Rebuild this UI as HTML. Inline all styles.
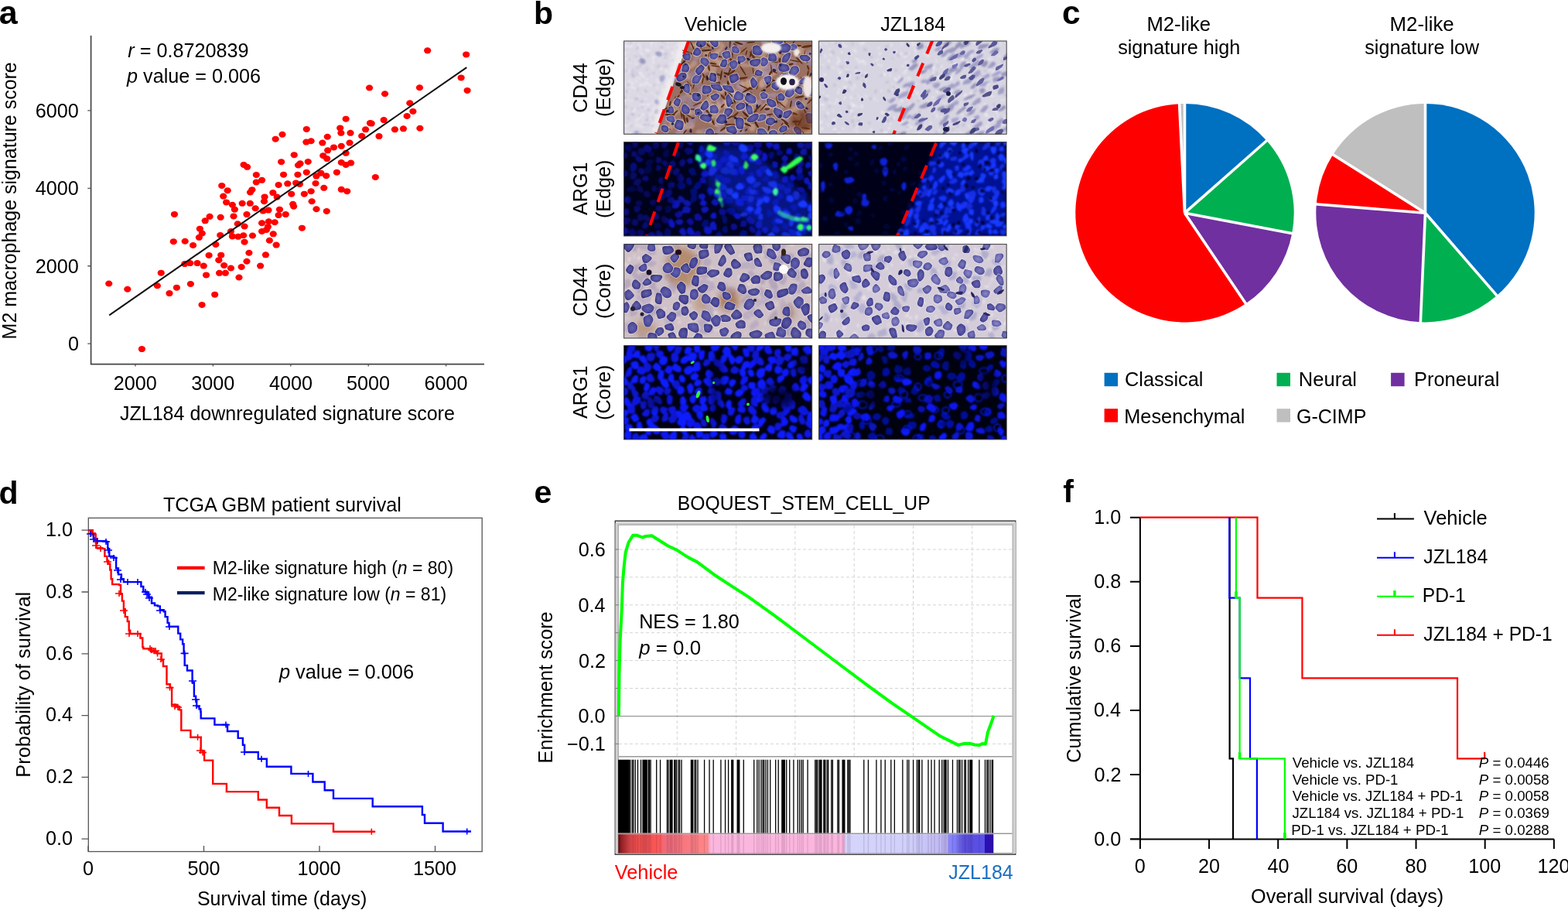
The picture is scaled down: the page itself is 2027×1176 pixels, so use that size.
<!DOCTYPE html>
<html><head><meta charset="utf-8"><title>Figure</title>
<style>html,body{margin:0;padding:0;background:#fff;}svg{display:block;}</style></head>
<body><svg width="2027" height="1176" viewBox="0 0 2027 1176" font-family='"Liberation Sans", Arial, Helvetica, sans-serif'>
<rect width="2027" height="1176" fill="#fff"/>
<text x="-1.29" y="30.6" font-weight="bold" font-size="43" >a</text>
<path d="M117.6 46V470.6H626" fill="none" stroke="#444" stroke-width="1.7"/>
<text x="87.9" y="453.1" font-size="25.2" >0</text>
<text x="45.81" y="352.64" font-size="25.2" >2000</text>
<text x="45.81" y="252.18" font-size="25.2" >4000</text>
<text x="45.81" y="151.72" font-size="25.2" >6000</text>
<text x="146.78" y="503.6" font-size="25.2" >2000</text>
<text x="247.3" y="503.6" font-size="25.2" >3000</text>
<text x="347.95" y="503.6" font-size="25.2" >4000</text>
<text x="448.1" y="503.6" font-size="25.2" >5000</text>
<text x="548.38" y="503.6" font-size="25.2" >6000</text>
<path d="M113.3 444.2H117.6 M113.3 343.74H117.6 M113.3 243.28H117.6 M113.3 142.82H117.6 M175 470.6V473.6 M275.4 470.6V473.6 M375.8 470.6V473.6 M476.2 470.6V473.6 M576.6 470.6V473.6" stroke="#555" stroke-width="1.3"/>
<text x="165.37" y="74" font-size="25.2" ><tspan font-style="italic">r</tspan> = 0.8720839</text>
<text x="164.06" y="107" font-size="25.2" ><tspan font-style="italic">p</tspan> value = 0.006</text>
<text x="154.92" y="543.3" textLength="432.98" lengthAdjust="spacingAndGlyphs" font-size="25.2" >JZL184 downregulated signature score</text>
<text transform="translate(21.4,0) rotate(-90)" x="-438.4" y="0" textLength="358.15" lengthAdjust="spacingAndGlyphs" font-size="25.2" >M2 macrophage signature score</text>
<g fill="#f00"><ellipse cx="140.76" cy="366.54" rx="4.6" ry="4"/><ellipse cx="164.82" cy="373.78" rx="4.6" ry="4"/><ellipse cx="183.4" cy="451.05" rx="4.6" ry="4"/><ellipse cx="208.25" cy="352.65" rx="4.6" ry="4"/><ellipse cx="203.36" cy="369.28" rx="4.6" ry="4"/><ellipse cx="219.01" cy="379.06" rx="4.6" ry="4"/><ellipse cx="228.4" cy="371.63" rx="4.6" ry="4"/><ellipse cx="246.39" cy="366.93" rx="4.6" ry="4"/><ellipse cx="225.46" cy="276.95" rx="4.6" ry="4"/><ellipse cx="224.29" cy="312.16" rx="4.6" ry="4"/><ellipse cx="308.99" cy="358.52" rx="4.6" ry="4"/><ellipse cx="291.38" cy="352.85" rx="4.6" ry="4"/><ellipse cx="283.56" cy="352.85" rx="4.6" ry="4"/><ellipse cx="266.54" cy="355.39" rx="4.6" ry="4"/><ellipse cx="277.69" cy="380.63" rx="4.6" ry="4"/><ellipse cx="261.06" cy="393.93" rx="4.6" ry="4"/><ellipse cx="552.65" cy="65.31" rx="4.6" ry="4"/><ellipse cx="602.65" cy="70.41" rx="4.6" ry="4"/><ellipse cx="596.12" cy="100.41" rx="4.6" ry="4"/><ellipse cx="604.08" cy="116.94" rx="4.6" ry="4"/><ellipse cx="542.45" cy="113.27" rx="4.6" ry="4"/><ellipse cx="477.55" cy="113.47" rx="4.6" ry="4"/><ellipse cx="497.55" cy="121.22" rx="4.6" ry="4"/><ellipse cx="529.8" cy="133.27" rx="4.6" ry="4"/><ellipse cx="533.88" cy="143.88" rx="4.6" ry="4"/><ellipse cx="526.12" cy="150" rx="4.6" ry="4"/><ellipse cx="496.12" cy="155.1" rx="4.6" ry="4"/><ellipse cx="480.2" cy="159.59" rx="4.6" ry="4"/><ellipse cx="490" cy="176.12" rx="4.6" ry="4"/><ellipse cx="510.41" cy="167.35" rx="4.6" ry="4"/><ellipse cx="521.43" cy="166.33" rx="4.6" ry="4"/><ellipse cx="542.86" cy="165.71" rx="4.6" ry="4"/><ellipse cx="485.31" cy="228.98" rx="4.6" ry="4"/><ellipse cx="447.14" cy="153.65" rx="4.6" ry="4"/><ellipse cx="478.44" cy="159.12" rx="4.6" ry="4"/><ellipse cx="396.28" cy="166.95" rx="4.6" ry="4"/><ellipse cx="439.7" cy="165.38" rx="4.6" ry="4"/><ellipse cx="440.88" cy="171.84" rx="4.6" ry="4"/><ellipse cx="453" cy="171.84" rx="4.6" ry="4"/><ellipse cx="472.57" cy="167.34" rx="4.6" ry="4"/><ellipse cx="467.68" cy="175.75" rx="4.6" ry="4"/><ellipse cx="364.98" cy="173.79" rx="4.6" ry="4"/><ellipse cx="356.17" cy="179.66" rx="4.6" ry="4"/><ellipse cx="395.88" cy="183.58" rx="4.6" ry="4"/><ellipse cx="402.14" cy="182.21" rx="4.6" ry="4"/><ellipse cx="416.82" cy="184.55" rx="4.6" ry="4"/><ellipse cx="423.27" cy="176.73" rx="4.6" ry="4"/><ellipse cx="431.49" cy="190.42" rx="4.6" ry="4"/><ellipse cx="441.27" cy="188.86" rx="4.6" ry="4"/><ellipse cx="452.03" cy="184.55" rx="4.6" ry="4"/><ellipse cx="423.66" cy="194.33" rx="4.6" ry="4"/><ellipse cx="447.14" cy="197.86" rx="4.6" ry="4"/><ellipse cx="380.23" cy="200.2" rx="4.6" ry="4"/><ellipse cx="417.79" cy="201.18" rx="4.6" ry="4"/><ellipse cx="422.68" cy="205.09" rx="4.6" ry="4"/><ellipse cx="363.61" cy="209.2" rx="4.6" ry="4"/><ellipse cx="398.23" cy="209.01" rx="4.6" ry="4"/><ellipse cx="388.06" cy="211.35" rx="4.6" ry="4"/><ellipse cx="385.52" cy="213.51" rx="4.6" ry="4"/><ellipse cx="441.27" cy="209.98" rx="4.6" ry="4"/><ellipse cx="447.14" cy="212.92" rx="4.6" ry="4"/><ellipse cx="453.59" cy="210.57" rx="4.6" ry="4"/><ellipse cx="315.09" cy="212.92" rx="4.6" ry="4"/><ellipse cx="319.59" cy="215.85" rx="4.6" ry="4"/><ellipse cx="331.33" cy="226.03" rx="4.6" ry="4"/><ellipse cx="338.57" cy="232.87" rx="4.6" ry="4"/><ellipse cx="331.33" cy="235.41" rx="4.6" ry="4"/><ellipse cx="366.54" cy="225.63" rx="4.6" ry="4"/><ellipse cx="384.93" cy="225.63" rx="4.6" ry="4"/><ellipse cx="396.28" cy="222.7" rx="4.6" ry="4"/><ellipse cx="408.99" cy="227.59" rx="4.6" ry="4"/><ellipse cx="414.86" cy="223.68" rx="4.6" ry="4"/><ellipse cx="421.71" cy="227.2" rx="4.6" ry="4"/><ellipse cx="435.4" cy="222.7" rx="4.6" ry="4"/><ellipse cx="360.09" cy="238.94" rx="4.6" ry="4"/><ellipse cx="371.82" cy="237.37" rx="4.6" ry="4"/><ellipse cx="382.58" cy="236.39" rx="4.6" ry="4"/><ellipse cx="387.47" cy="237.96" rx="4.6" ry="4"/><ellipse cx="408.01" cy="236.98" rx="4.6" ry="4"/><ellipse cx="418.77" cy="242.85" rx="4.6" ry="4"/><ellipse cx="441.27" cy="244.8" rx="4.6" ry="4"/><ellipse cx="448.7" cy="247.15" rx="4.6" ry="4"/><ellipse cx="286.73" cy="239.91" rx="4.6" ry="4"/><ellipse cx="294.16" cy="246.17" rx="4.6" ry="4"/><ellipse cx="288.69" cy="253.61" rx="4.6" ry="4"/><ellipse cx="325.85" cy="245.2" rx="4.6" ry="4"/><ellipse cx="323.51" cy="248.52" rx="4.6" ry="4"/><ellipse cx="342.09" cy="254.39" rx="4.6" ry="4"/><ellipse cx="352.85" cy="249.11" rx="4.6" ry="4"/><ellipse cx="358.13" cy="254.59" rx="4.6" ry="4"/><ellipse cx="341.5" cy="260.26" rx="4.6" ry="4"/><ellipse cx="376.71" cy="250.67" rx="4.6" ry="4"/><ellipse cx="393.34" cy="250.67" rx="4.6" ry="4"/><ellipse cx="402.14" cy="247.15" rx="4.6" ry="4"/><ellipse cx="403.12" cy="260.26" rx="4.6" ry="4"/><ellipse cx="292.6" cy="261.43" rx="4.6" ry="4"/><ellipse cx="300.42" cy="264.76" rx="4.6" ry="4"/><ellipse cx="303.36" cy="270.63" rx="4.6" ry="4"/><ellipse cx="313.14" cy="262.8" rx="4.6" ry="4"/><ellipse cx="323.31" cy="262.8" rx="4.6" ry="4"/><ellipse cx="330.16" cy="269.26" rx="4.6" ry="4"/><ellipse cx="340.13" cy="272.58" rx="4.6" ry="4"/><ellipse cx="346.98" cy="271.6" rx="4.6" ry="4"/><ellipse cx="361.46" cy="270.63" rx="4.6" ry="4"/><ellipse cx="378.67" cy="263.78" rx="4.6" ry="4"/><ellipse cx="379.65" cy="266.71" rx="4.6" ry="4"/><ellipse cx="408.99" cy="270.23" rx="4.6" ry="4"/><ellipse cx="422.29" cy="272.97" rx="4.6" ry="4"/><ellipse cx="271.08" cy="279.82" rx="4.6" ry="4"/><ellipse cx="265.21" cy="285.3" rx="4.6" ry="4"/><ellipse cx="285.16" cy="280.8" rx="4.6" ry="4"/><ellipse cx="301.99" cy="279.43" rx="4.6" ry="4"/><ellipse cx="319.01" cy="277.08" rx="4.6" ry="4"/><ellipse cx="360.09" cy="278.06" rx="4.6" ry="4"/><ellipse cx="369.28" cy="277.08" rx="4.6" ry="4"/><ellipse cx="258.36" cy="295.67" rx="4.6" ry="4"/><ellipse cx="261.3" cy="301.53" rx="4.6" ry="4"/><ellipse cx="257.39" cy="306.82" rx="4.6" ry="4"/><ellipse cx="239.19" cy="311.71" rx="4.6" ry="4"/><ellipse cx="249.56" cy="316.99" rx="4.6" ry="4"/><ellipse cx="284.77" cy="303.88" rx="4.6" ry="4"/><ellipse cx="298.47" cy="298.99" rx="4.6" ry="4"/><ellipse cx="307.27" cy="289.21" rx="4.6" ry="4"/><ellipse cx="316.07" cy="292.54" rx="4.6" ry="4"/><ellipse cx="338.57" cy="288.23" rx="4.6" ry="4"/><ellipse cx="347.37" cy="286.28" rx="4.6" ry="4"/><ellipse cx="355.2" cy="287.25" rx="4.6" ry="4"/><ellipse cx="346.39" cy="293.12" rx="4.6" ry="4"/><ellipse cx="344.44" cy="297.03" rx="4.6" ry="4"/><ellipse cx="338.57" cy="298.99" rx="4.6" ry="4"/><ellipse cx="353.24" cy="302.32" rx="4.6" ry="4"/><ellipse cx="390.41" cy="294.69" rx="4.6" ry="4"/><ellipse cx="300.42" cy="305.45" rx="4.6" ry="4"/><ellipse cx="307.86" cy="305.84" rx="4.6" ry="4"/><ellipse cx="314.7" cy="304.27" rx="4.6" ry="4"/><ellipse cx="316.07" cy="312.68" rx="4.6" ry="4"/><ellipse cx="326.44" cy="304.47" rx="4.6" ry="4"/><ellipse cx="348.35" cy="310.73" rx="4.6" ry="4"/><ellipse cx="357.15" cy="316.6" rx="4.6" ry="4"/><ellipse cx="278.9" cy="316.01" rx="4.6" ry="4"/><ellipse cx="270.1" cy="329.9" rx="4.6" ry="4"/><ellipse cx="285.75" cy="329.7" rx="4.6" ry="4"/><ellipse cx="282.82" cy="336.16" rx="4.6" ry="4"/><ellipse cx="321.94" cy="326.77" rx="4.6" ry="4"/><ellipse cx="343.46" cy="329.31" rx="4.6" ry="4"/><ellipse cx="319.01" cy="337.72" rx="4.6" ry="4"/><ellipse cx="336.61" cy="343.59" rx="4.6" ry="4"/><ellipse cx="312.16" cy="344.96" rx="4.6" ry="4"/><ellipse cx="298.47" cy="346.53" rx="4.6" ry="4"/><ellipse cx="289.66" cy="343" rx="4.6" ry="4"/><ellipse cx="263.26" cy="343.59" rx="4.6" ry="4"/><ellipse cx="255.04" cy="340.07" rx="4.6" ry="4"/><ellipse cx="245.65" cy="340.07" rx="4.6" ry="4"/><ellipse cx="238.8" cy="341.05" rx="4.6" ry="4"/></g>
<path d="M141.2 407.4L603.3 87.1" stroke="#111" stroke-width="2"/>
<defs><filter id="bl07" x="-20%" y="-20%" width="140%" height="140%"><feGaussianBlur stdDeviation="0.7"/></filter><filter id="bl1" x="-20%" y="-20%" width="140%" height="140%"><feGaussianBlur stdDeviation="1"/></filter><filter id="bl12" x="-20%" y="-20%" width="140%" height="140%"><feGaussianBlur stdDeviation="1.3"/></filter><filter id="bl3" x="-30%" y="-30%" width="160%" height="160%"><feGaussianBlur stdDeviation="3"/></filter><filter id="bl4" x="-50%" y="-50%" width="200%" height="200%"><feGaussianBlur stdDeviation="5"/></filter><filter id="bl6" x="-30%" y="-30%" width="160%" height="160%"><feGaussianBlur stdDeviation="6"/></filter><radialGradient id="n1a"><stop offset="0" stop-color="#6462ac"/><stop offset="0.75" stop-color="#4c4a96"/><stop offset="1" stop-color="#363476"/></radialGradient><radialGradient id="n1b"><stop offset="0" stop-color="#6462ac"/><stop offset="0.75" stop-color="#4b4894"/><stop offset="1" stop-color="#343274"/></radialGradient><radialGradient id="n1c"><stop offset="0" stop-color="#6c6ab2"/><stop offset="0.75" stop-color="#54529e"/><stop offset="1" stop-color="#3c3a80"/></radialGradient><radialGradient id="n5a"><stop offset="0" stop-color="#6462ae"/><stop offset="0.75" stop-color="#4e4c9c"/><stop offset="1" stop-color="#3a3884"/></radialGradient><radialGradient id="n5b"><stop offset="0" stop-color="#5a58a6"/><stop offset="0.75" stop-color="#464494"/><stop offset="1" stop-color="#34327a"/></radialGradient><radialGradient id="n6a"><stop offset="0" stop-color="#8a88c6"/><stop offset="0.75" stop-color="#6a68b0"/><stop offset="1" stop-color="#504e98"/></radialGradient><radialGradient id="n6b"><stop offset="0" stop-color="#7c7abc"/><stop offset="0.75" stop-color="#5e5ca6"/><stop offset="1" stop-color="#48468e"/></radialGradient><path id="q0" d="M0.89 0.126C0.892 0.413 0.658 0.772 0.476 0.899C0.295 1.027 0.033 0.993 -0.199 0.89C-0.43 0.787 -0.798 0.532 -0.914 0.282C-1.03 0.033 -0.971 -0.391 -0.896 -0.608C-0.821 -0.825 -0.689 -0.983 -0.462 -1.019C-0.235 -1.054 0.241 -1.011 0.467 -0.82C0.692 -0.629 0.889 -0.161 0.89 0.126Z" vector-effect="non-scaling-stroke"/><path id="q1" d="M1.048 0.037C1.092 0.315 1.025 0.63 0.78 0.763C0.535 0.896 -0.152 0.906 -0.421 0.834C-0.69 0.763 -0.752 0.507 -0.833 0.336C-0.914 0.164 -1.048 0.029 -0.908 -0.194C-0.767 -0.417 -0.226 -0.881 0.011 -1C0.248 -1.119 0.342 -1.079 0.514 -0.906C0.687 -0.733 1.004 -0.241 1.048 0.037Z" vector-effect="non-scaling-stroke"/><path id="q2" d="M1.077 -0.182C1.105 0.124 0.88 0.678 0.664 0.879C0.449 1.08 0.039 1.122 -0.216 1.025C-0.47 0.927 -0.756 0.546 -0.863 0.292C-0.97 0.039 -0.986 -0.293 -0.858 -0.497C-0.73 -0.702 -0.32 -0.856 -0.094 -0.934C0.132 -1.011 0.304 -1.086 0.499 -0.96C0.694 -0.835 1.049 -0.489 1.077 -0.182Z" vector-effect="non-scaling-stroke"/><path id="q3" d="M1.061 -0.144C1.066 0.08 0.884 0.505 0.708 0.707C0.532 0.908 0.257 1.115 0.005 1.066C-0.248 1.016 -0.673 0.692 -0.807 0.412C-0.942 0.132 -0.878 -0.405 -0.803 -0.617C-0.727 -0.83 -0.601 -0.862 -0.354 -0.865C-0.107 -0.868 0.445 -0.754 0.68 -0.634C0.916 -0.513 1.057 -0.367 1.061 -0.144Z" vector-effect="non-scaling-stroke"/><path id="q4" d="M0.948 0.009C0.952 0.218 0.963 0.545 0.733 0.712C0.503 0.878 -0.163 1.095 -0.43 1.006C-0.698 0.917 -0.784 0.425 -0.871 0.178C-0.958 -0.069 -1.065 -0.266 -0.954 -0.473C-0.843 -0.681 -0.482 -1.054 -0.205 -1.066C0.072 -1.078 0.516 -0.725 0.708 -0.545C0.9 -0.366 0.943 -0.201 0.948 0.009Z" vector-effect="non-scaling-stroke"/><path id="q5" d="M0.953 -0.057C0.949 0.231 0.668 0.58 0.457 0.766C0.247 0.952 -0.103 1.082 -0.308 1.057C-0.513 1.033 -0.671 0.898 -0.772 0.62C-0.873 0.341 -1.02 -0.357 -0.914 -0.615C-0.808 -0.873 -0.37 -0.872 -0.137 -0.93C0.095 -0.988 0.298 -1.108 0.48 -0.963C0.662 -0.817 0.956 -0.345 0.953 -0.057Z" vector-effect="non-scaling-stroke"/><path id="q6" d="M0.978 -0.198C0.969 0.029 1 0.512 0.808 0.707C0.616 0.902 0.105 0.974 -0.174 0.973C-0.453 0.972 -0.764 0.935 -0.867 0.7C-0.97 0.464 -0.884 -0.166 -0.792 -0.439C-0.699 -0.712 -0.588 -0.901 -0.312 -0.938C-0.036 -0.974 0.648 -0.781 0.863 -0.658C1.078 -0.535 0.987 -0.426 0.978 -0.198Z" vector-effect="non-scaling-stroke"/><path id="q7" d="M1.233 0.05C1.198 0.277 0.707 0.543 0.503 0.701C0.299 0.858 0.244 1.069 0.009 0.994C-0.227 0.92 -0.769 0.481 -0.911 0.252C-1.053 0.022 -0.967 -0.187 -0.841 -0.381C-0.715 -0.575 -0.413 -0.864 -0.154 -0.912C0.104 -0.959 0.479 -0.825 0.71 -0.665C0.941 -0.505 1.267 -0.178 1.233 0.05Z" vector-effect="non-scaling-stroke"/><path id="q8" d="M0.752 -0.055C0.775 0.236 0.832 0.861 0.646 1.025C0.46 1.189 -0.116 1.05 -0.364 0.927C-0.612 0.805 -0.732 0.514 -0.842 0.288C-0.952 0.062 -1.124 -0.26 -1.023 -0.431C-0.921 -0.601 -0.487 -0.686 -0.232 -0.735C0.023 -0.783 0.342 -0.836 0.506 -0.723C0.67 -0.61 0.729 -0.346 0.752 -0.055Z" vector-effect="non-scaling-stroke"/><path id="q9" d="M0.904 0.114C0.845 0.387 0.715 0.851 0.525 0.953C0.335 1.055 0.028 0.828 -0.236 0.726C-0.5 0.625 -0.948 0.548 -1.061 0.344C-1.173 0.14 -1.032 -0.28 -0.909 -0.495C-0.787 -0.711 -0.622 -0.92 -0.324 -0.952C-0.026 -0.983 0.674 -0.863 0.879 -0.686C1.083 -0.508 0.963 -0.159 0.904 0.114Z" vector-effect="non-scaling-stroke"/><path id="q10" d="M1.096 -0.183C1.056 0.102 0.736 0.912 0.507 1.069C0.278 1.225 -0.066 0.852 -0.279 0.755C-0.491 0.658 -0.652 0.681 -0.769 0.487C-0.886 0.294 -1.103 -0.188 -0.98 -0.405C-0.857 -0.623 -0.318 -0.777 -0.03 -0.816C0.258 -0.856 0.559 -0.747 0.747 -0.641C0.934 -0.536 1.136 -0.468 1.096 -0.183Z" vector-effect="non-scaling-stroke"/><path id="q11" d="M0.834 0.111C0.803 0.379 0.597 0.588 0.451 0.758C0.304 0.927 0.195 1.164 -0.046 1.126C-0.287 1.088 -0.811 0.771 -0.996 0.528C-1.182 0.285 -1.274 -0.059 -1.161 -0.331C-1.047 -0.604 -0.613 -1.021 -0.314 -1.108C-0.015 -1.194 0.441 -1.053 0.633 -0.85C0.824 -0.647 0.864 -0.157 0.834 0.111Z" vector-effect="non-scaling-stroke"/><path id="q12" d="M0.805 -0.175C0.821 0.092 0.75 0.582 0.544 0.768C0.339 0.954 -0.218 0.993 -0.428 0.942C-0.639 0.89 -0.643 0.724 -0.72 0.459C-0.797 0.194 -1.003 -0.417 -0.89 -0.649C-0.777 -0.88 -0.265 -0.898 -0.043 -0.929C0.18 -0.96 0.304 -0.961 0.445 -0.836C0.587 -0.71 0.788 -0.443 0.805 -0.175Z" vector-effect="non-scaling-stroke"/><path id="q13" d="M1.184 -0.201C1.199 0.003 0.991 0.508 0.755 0.665C0.52 0.823 0.042 0.788 -0.23 0.745C-0.501 0.701 -0.793 0.624 -0.876 0.403C-0.958 0.182 -0.822 -0.33 -0.726 -0.582C-0.63 -0.834 -0.531 -1.112 -0.299 -1.108C-0.068 -1.104 0.418 -0.709 0.665 -0.558C0.912 -0.407 1.169 -0.405 1.184 -0.201Z" vector-effect="non-scaling-stroke"/></defs>
<text x="690.04" y="30.7" font-weight="bold" font-size="41" >b</text>
<text x="884.77" y="39.8" font-size="25.2" >Vehicle</text>
<text x="1138.17" y="39.8" font-size="25.2" >JZL184</text>
<text transform="translate(759.2,0) rotate(-90)" x="-145.64" y="0" font-size="25.2" >CD44</text>
<text transform="translate(788.6,0) rotate(-90)" x="-151" y="0" font-size="25.2" >(Edge)</text>
<text transform="translate(759.2,0) rotate(-90)" x="-278" y="0" font-size="25.2" >ARG1</text>
<text transform="translate(788.6,0) rotate(-90)" x="-282.1" y="0" font-size="25.2" >(Edge)</text>
<text transform="translate(759.2,0) rotate(-90)" x="-408.75" y="0" font-size="25.2" >CD44</text>
<text transform="translate(788.6,0) rotate(-90)" x="-411.96" y="0" font-size="25.2" >(Core)</text>
<text transform="translate(759.2,0) rotate(-90)" x="-541" y="0" font-size="25.2" >ARG1</text>
<text transform="translate(788.6,0) rotate(-90)" x="-542.96" y="0" font-size="25.2" >(Core)</text>
<clipPath id="cb1"><rect x="806.6" y="53" width="243.1" height="120.3"/></clipPath><g clip-path="url(#cb1)"><rect x="806.6" y="53" width="243.1" height="120.3" fill="#dcd8e4"/><g filter="url(#bl1)" opacity="0.6"><use href="#q12" transform="translate(842.6 120.3)rotate(37)scale(2.2 1.4)" fill="#edebf2"/><use href="#q9" transform="translate(847 123.7)rotate(54)scale(3.3 1.8)" fill="#e8e6ed"/><use href="#q7" transform="translate(821.3 114.6)rotate(41)scale(1.9 2.5)" fill="#eceaf1"/><use href="#q10" transform="translate(814.1 89.5)rotate(336)scale(2.2 1.7)" fill="#eae8ee"/><use href="#q8" transform="translate(813.8 150.4)rotate(337)scale(3.1 2.2)" fill="#e9e7ee"/><use href="#q13" transform="translate(861.7 58)rotate(302)scale(3.2 1.9)" fill="#f0eef5"/><use href="#q11" transform="translate(858.6 127.1)rotate(2)scale(2.1 1.2)" fill="#eceaf1"/><use href="#q11" transform="translate(819.1 54.8)rotate(61)scale(2.1 1.2)" fill="#eae8ef"/><use href="#q12" transform="translate(848.6 60.2)rotate(286)scale(2.6 2.2)" fill="#e4e2e8"/><use href="#q7" transform="translate(821.7 82.1)rotate(275)scale(1.7 1.6)" fill="#eeecf3"/><use href="#q13" transform="translate(809 108.8)rotate(315)scale(3 2)" fill="#e6e4eb"/><use href="#q13" transform="translate(841.6 154.3)rotate(353)scale(3.3 1.6)" fill="#e9e7ee"/><use href="#q12" transform="translate(847.9 130)rotate(359)scale(3.4 2.1)" fill="#eceaf1"/><use href="#q12" transform="translate(843 86.5)rotate(279)scale(1.6 2)" fill="#f0eef5"/><use href="#q10" transform="translate(831.7 80.6)rotate(339)scale(2.2 1.2)" fill="#e4e2e9"/><use href="#q13" transform="translate(829.6 61.4)rotate(4)scale(3.4 2)" fill="#efedf5"/><use href="#q8" transform="translate(867.5 101.2)rotate(74)scale(1.7 2.4)" fill="#e7e5ec"/><use href="#q10" transform="translate(806.6 78.2)rotate(301)scale(3.5 1.7)" fill="#e6e4eb"/><use href="#q12" transform="translate(812.4 128.7)rotate(69)scale(2.6 1.6)" fill="#ebe9f0"/><use href="#q7" transform="translate(868.5 85.5)rotate(49)scale(1.7 2)" fill="#e5e3ea"/><use href="#q9" transform="translate(813.5 93)rotate(357)scale(3 1.2)" fill="#f1eff6"/><use href="#q12" transform="translate(816 82.6)rotate(310)scale(1.7 1.4)" fill="#e7e5eb"/><use href="#q10" transform="translate(814.6 60.2)rotate(350)scale(2.4 1.9)" fill="#f3f1f8"/><use href="#q13" transform="translate(870 74.4)rotate(327)scale(1.8 2.2)" fill="#eceaf1"/><use href="#q9" transform="translate(851.1 106.8)rotate(358)scale(2.6 2.3)" fill="#eae8ef"/><use href="#q10" transform="translate(821.8 141)rotate(287)scale(2.8 2.2)" fill="#f2f0f7"/><use href="#q11" transform="translate(817 130.4)rotate(54)scale(1.6 2.4)" fill="#e9e7ee"/><use href="#q8" transform="translate(815.9 103.6)rotate(51)scale(3.1 2.2)" fill="#e3e1e8"/><use href="#q8" transform="translate(823.5 85.5)rotate(72)scale(3.3 2.3)" fill="#ebe9f0"/><use href="#q9" transform="translate(830.8 159.4)rotate(299)scale(2.9 2)" fill="#e5e3ea"/><use href="#q12" transform="translate(823.3 100.4)rotate(55)scale(1.8 2.4)" fill="#e5e3e9"/><use href="#q13" transform="translate(814.6 172)rotate(6)scale(3.5 1.5)" fill="#e5e3ea"/><use href="#q8" transform="translate(868 92.6)rotate(74)scale(1.9 1.5)" fill="#e5e3ea"/><use href="#q10" transform="translate(813.8 123.1)rotate(38)scale(1.7 1.6)" fill="#e4e2e9"/><use href="#q11" transform="translate(825.9 125.3)rotate(44)scale(2.9 1.3)" fill="#eceaf1"/><use href="#q7" transform="translate(836.1 107.5)rotate(346)scale(2.1 2.2)" fill="#f3f1f9"/><use href="#q10" transform="translate(821.1 71.5)rotate(277)scale(3.1 1.8)" fill="#eae8ef"/><use href="#q7" transform="translate(826.4 75.8)rotate(327)scale(1.8 2.3)" fill="#e8e6ed"/><use href="#q7" transform="translate(822.2 167.3)rotate(30)scale(2.6 2.5)" fill="#e3e1e8"/><use href="#q13" transform="translate(840.1 65.5)rotate(341)scale(2.9 1.3)" fill="#ebe9f0"/><use href="#q12" transform="translate(809.7 168.8)rotate(273)scale(3.2 2.1)" fill="#e9e7ee"/><use href="#q13" transform="translate(825.6 137.8)rotate(291)scale(2.5 1.6)" fill="#f1eff6"/><use href="#q9" transform="translate(827 152.1)rotate(308)scale(3.5 2.2)" fill="#eeecf3"/><use href="#q13" transform="translate(854 88.3)rotate(44)scale(2.8 2.4)" fill="#f4f2f9"/><use href="#q12" transform="translate(812.1 80.5)rotate(317)scale(2.3 2.1)" fill="#e6e4eb"/><use href="#q12" transform="translate(807.9 85.4)rotate(320)scale(1.7 1.6)" fill="#ebe9f0"/><use href="#q7" transform="translate(842 60.3)rotate(287)scale(2.2 2.3)" fill="#e5e3ea"/><use href="#q7" transform="translate(820.6 97.4)rotate(303)scale(1.8 2)" fill="#e6e4eb"/><use href="#q8" transform="translate(852.1 68.8)rotate(287)scale(3.2 2)" fill="#e6e4eb"/><use href="#q13" transform="translate(835.4 160.2)rotate(48)scale(3.5 1.8)" fill="#e9e7ed"/><use href="#q13" transform="translate(808 162.5)rotate(26)scale(2.4 1.9)" fill="#f1eef6"/><use href="#q12" transform="translate(808.3 129.5)rotate(75)scale(2.9 1.8)" fill="#eeecf3"/><use href="#q12" transform="translate(844.9 140.9)rotate(86)scale(2.3 2.1)" fill="#f1eff6"/><use href="#q9" transform="translate(831.9 173.2)rotate(317)scale(3.5 1.9)" fill="#e6e4ea"/><use href="#q13" transform="translate(812.6 118.7)rotate(338)scale(2.8 1.3)" fill="#eceaf1"/><use href="#q11" transform="translate(834.6 135.4)rotate(38)scale(2.1 1.3)" fill="#e7e5ec"/><use href="#q8" transform="translate(839.8 148.1)rotate(334)scale(3.3 1.9)" fill="#eceaf1"/><use href="#q12" transform="translate(856.3 99)rotate(78)scale(2.6 1.5)" fill="#f5f3fa"/><use href="#q8" transform="translate(852.9 126.2)rotate(80)scale(3.2 1.5)" fill="#eeecf3"/><use href="#q9" transform="translate(813.3 143.3)rotate(357)scale(3.1 1.4)" fill="#eae8ef"/><use href="#q7" transform="translate(809 125.3)rotate(336)scale(2.2 2.4)" fill="#ebe9f0"/><use href="#q11" transform="translate(844.8 80.7)rotate(313)scale(2.4 2.1)" fill="#edebf2"/><use href="#q13" transform="translate(862.1 112.8)rotate(318)scale(2.6 1.9)" fill="#f3f1f8"/><use href="#q12" transform="translate(826.9 54.4)rotate(78)scale(2.2 1.4)" fill="#e2e0e7"/><use href="#q8" transform="translate(830.5 134.6)rotate(13)scale(3.3 1.5)" fill="#f2f0f7"/><use href="#q13" transform="translate(841.7 160.3)rotate(352)scale(2.7 2.3)" fill="#eae8ef"/><use href="#q12" transform="translate(822.4 104.8)rotate(28)scale(3.5 2.4)" fill="#e8e6ed"/><use href="#q13" transform="translate(817.4 112.7)rotate(20)scale(3.2 2.4)" fill="#eeecf3"/><use href="#q10" transform="translate(856.3 112.4)rotate(355)scale(1.5 1.5)" fill="#e5e3ea"/><use href="#q8" transform="translate(831.7 153.9)rotate(331)scale(1.7 1.7)" fill="#e5e3e9"/><use href="#q12" transform="translate(812.5 56.8)rotate(25)scale(2.6 1.6)" fill="#e3e1e8"/><use href="#q9" transform="translate(876 58)rotate(0)scale(3.1 1.7)" fill="#e4e2e9"/><use href="#q13" transform="translate(831.2 148.2)rotate(34)scale(2.3 2)" fill="#f0eef5"/><use href="#q12" transform="translate(808.1 69.3)rotate(354)scale(2.1 2.4)" fill="#f3f1f8"/><use href="#q11" transform="translate(842.8 56)rotate(11)scale(2.3 1.8)" fill="#f3f1f8"/><use href="#q7" transform="translate(872.5 81.6)rotate(346)scale(2.2 1.9)" fill="#e3e1e7"/><use href="#q9" transform="translate(817.8 58.6)rotate(348)scale(2.1 2)" fill="#e9e7ee"/><use href="#q7" transform="translate(856.6 106.7)rotate(16)scale(3 1.6)" fill="#e3e1e8"/><use href="#q10" transform="translate(856.7 131.8)rotate(67)scale(3.2 1.5)" fill="#f4f2fa"/><use href="#q10" transform="translate(861 77)rotate(314)scale(2.9 1.9)" fill="#e8e6ed"/><use href="#q13" transform="translate(844.4 74.5)rotate(89)scale(3.4 2.3)" fill="#f0eef5"/><use href="#q8" transform="translate(828.2 94.6)rotate(346)scale(2.8 2.3)" fill="#f1eff6"/><use href="#q11" transform="translate(878.6 63.5)rotate(293)scale(2.8 1.7)" fill="#e3e1e8"/><use href="#q7" transform="translate(816.9 107.6)rotate(6)scale(3.1 1.4)" fill="#f4f2f9"/><use href="#q10" transform="translate(836.6 121.4)rotate(275)scale(2.1 2.1)" fill="#e5e3ea"/><use href="#q11" transform="translate(823.6 161.3)rotate(342)scale(3.3 2.3)" fill="#e9e7ee"/><use href="#q9" transform="translate(849.3 148.1)rotate(352)scale(2 1.6)" fill="#e8e6ed"/><use href="#q8" transform="translate(813.2 106)rotate(85)scale(2.5 2.4)" fill="#ebe9f0"/><use href="#q9" transform="translate(870.9 60.7)rotate(34)scale(1.9 2.3)" fill="#e3e1e8"/><use href="#q12" transform="translate(829.7 140.7)rotate(356)scale(3.2 1.7)" fill="#e5e3ea"/><use href="#q7" transform="translate(857.4 115.9)rotate(23)scale(3.5 1.5)" fill="#e6e4eb"/><use href="#q9" transform="translate(831.4 98.9)rotate(57)scale(2.8 1.6)" fill="#f4f2f9"/><use href="#q13" transform="translate(823.2 155.3)rotate(295)scale(3.2 2.1)" fill="#efedf4"/><use href="#q12" transform="translate(852.1 77.2)rotate(311)scale(2.4 1.3)" fill="#e8e6ed"/><use href="#q9" transform="translate(849.2 113.5)rotate(39)scale(2.9 1.5)" fill="#eceaf1"/><use href="#q11" transform="translate(854.7 56.3)rotate(29)scale(3.1 1.7)" fill="#f3f1f8"/><use href="#q8" transform="translate(849.4 102.8)rotate(71)scale(2.5 2.5)" fill="#e5e4ea"/><use href="#q10" transform="translate(828 109.9)rotate(287)scale(2.1 2)" fill="#f5f3fa"/><use href="#q11" transform="translate(844.5 91.2)rotate(73)scale(3.3 1.3)" fill="#e2e0e7"/><use href="#q9" transform="translate(821.8 127.3)rotate(54)scale(2.1 1.5)" fill="#e4e2e9"/><use href="#q7" transform="translate(880.1 68.6)rotate(303)scale(3.5 1.4)" fill="#f0eef5"/><use href="#q10" transform="translate(868.5 55.7)rotate(87)scale(1.9 2.4)" fill="#e3e1e8"/><use href="#q7" transform="translate(861.2 91.7)rotate(271)scale(3.3 2)" fill="#f3f1f8"/><use href="#q12" transform="translate(834.8 127.6)rotate(26)scale(1.9 1.9)" fill="#e9e7ee"/><use href="#q12" transform="translate(836.5 102.7)rotate(323)scale(2.5 1.2)" fill="#f2f0f7"/><use href="#q13" transform="translate(848.7 72.2)rotate(81)scale(2.9 1.9)" fill="#e5e3ea"/><use href="#q11" transform="translate(831.6 164)rotate(349)scale(3 1.3)" fill="#efedf4"/><use href="#q10" transform="translate(823.9 173.1)rotate(52)scale(3 2.2)" fill="#e7e5eb"/><use href="#q8" transform="translate(827.2 64.7)rotate(18)scale(2.6 2.3)" fill="#e7e5ec"/><use href="#q8" transform="translate(869.4 68.2)rotate(13)scale(2.7 2.1)" fill="#f3f0f8"/><use href="#q11" transform="translate(838.6 135.4)rotate(19)scale(2.2 2)" fill="#f1eff6"/><use href="#q8" transform="translate(846.8 144.2)rotate(53)scale(2.4 1.5)" fill="#e3e1e8"/><use href="#q8" transform="translate(846.6 135.5)rotate(52)scale(2.6 1.9)" fill="#e7e5eb"/><use href="#q12" transform="translate(821.6 61.5)rotate(35)scale(1.6 1.8)" fill="#f2eff7"/><use href="#q13" transform="translate(821.3 77.5)rotate(15)scale(2.6 1.5)" fill="#e4e2e9"/><use href="#q12" transform="translate(843.3 145)rotate(315)scale(2.5 1.7)" fill="#ebe9f0"/><use href="#q9" transform="translate(832.6 109.2)rotate(282)scale(3.2 2.2)" fill="#eae8ef"/><use href="#q13" transform="translate(847.3 54.9)rotate(82)scale(2.9 2.1)" fill="#e4e3e9"/><use href="#q12" transform="translate(827.1 162.6)rotate(297)scale(3 2.5)" fill="#ebe9f0"/><use href="#q7" transform="translate(864 61.5)rotate(344)scale(3.5 1.2)" fill="#eceaf1"/><use href="#q7" transform="translate(807.4 95.8)rotate(347)scale(2.3 1.6)" fill="#e4e2e8"/><use href="#q9" transform="translate(859 121.5)rotate(85)scale(2.9 2.1)" fill="#eeecf3"/><use href="#q8" transform="translate(884.5 55.7)rotate(314)scale(2 1.9)" fill="#ebe9f0"/><use href="#q7" transform="translate(827 101.3)rotate(86)scale(2.2 1.6)" fill="#eeecf3"/><use href="#q11" transform="translate(810.6 76.5)rotate(89)scale(1.8 2)" fill="#f0eef5"/><use href="#q10" transform="translate(836.5 64.8)rotate(16)scale(2.9 2.3)" fill="#f3f1f8"/><use href="#q7" transform="translate(855.2 60)rotate(309)scale(3.2 2.4)" fill="#e9e7ee"/><use href="#q8" transform="translate(835.7 87.4)rotate(304)scale(1.9 1.7)" fill="#eceaf1"/><use href="#q10" transform="translate(826.1 58.1)rotate(16)scale(2.5 1.7)" fill="#f0eef6"/><use href="#q8" transform="translate(819 143.8)rotate(32)scale(2.4 2.5)" fill="#f2f0f7"/><use href="#q9" transform="translate(812.4 161.9)rotate(279)scale(2.6 1.7)" fill="#e7e5ec"/><use href="#q11" transform="translate(840.7 110.5)rotate(43)scale(2.7 1.9)" fill="#eceaf1"/><use href="#q8" transform="translate(864 109.3)rotate(319)scale(3.3 2.1)" fill="#e9e7ee"/><use href="#q13" transform="translate(848.6 68)rotate(295)scale(3 2.2)" fill="#e7e5ec"/><use href="#q7" transform="translate(841.8 133.3)rotate(328)scale(3.3 1.2)" fill="#e9e7ee"/><use href="#q12" transform="translate(852.9 103.5)rotate(317)scale(3.2 1.7)" fill="#f3f1f8"/><use href="#q8" transform="translate(865 81.7)rotate(313)scale(1.6 1.7)" fill="#e3e1e8"/><use href="#q10" transform="translate(815.7 160.4)rotate(308)scale(2.5 1.4)" fill="#eae8ef"/><use href="#q12" transform="translate(866.5 75.8)rotate(37)scale(2.6 1.4)" fill="#e7e5ec"/><use href="#q11" transform="translate(809.7 60.3)rotate(68)scale(2.4 1.7)" fill="#f2f0f7"/><use href="#q8" transform="translate(856.1 65.3)rotate(340)scale(2.9 1.7)" fill="#f2f0f8"/><use href="#q13" transform="translate(813.5 134.4)rotate(20)scale(1.7 1.7)" fill="#e5e3ea"/><use href="#q12" transform="translate(823.3 94.3)rotate(11)scale(1.5 2)" fill="#f1eff6"/><use href="#q12" transform="translate(812.5 67.4)rotate(75)scale(2.1 2.1)" fill="#e6e4eb"/><use href="#q13" transform="translate(840.3 84)rotate(49)scale(2.2 1.4)" fill="#e9e7ee"/><use href="#q7" transform="translate(832.5 119)rotate(347)scale(2.8 1.3)" fill="#e9e7ee"/><use href="#q8" transform="translate(840.6 97.4)rotate(322)scale(2.5 2.4)" fill="#efedf4"/><use href="#q12" transform="translate(823.6 132.7)rotate(356)scale(1.8 1.7)" fill="#e5e3ea"/><use href="#q13" transform="translate(829.1 70.2)rotate(43)scale(2.9 1.9)" fill="#f3f1f8"/><use href="#q12" transform="translate(835 140.3)rotate(36)scale(1.8 2)" fill="#edeaf2"/></g><g filter="url(#bl1)" opacity="0.4"><use href="#q7" transform="translate(816.2 162.4)rotate(342)scale(1.9 1.2)" fill="#a39fb5"/><use href="#q8" transform="translate(836.6 154.9)rotate(81)scale(2.1 1.9)" fill="#a7a3ba"/><use href="#q10" transform="translate(830.4 139.5)rotate(290)scale(2.1 2.2)" fill="#bdb9d3"/><use href="#q8" transform="translate(877 61.7)rotate(0)scale(2.4 2.4)" fill="#b7b3cc"/><use href="#q8" transform="translate(809.4 91.9)rotate(341)scale(3.1 1.3)" fill="#bbb7d1"/><use href="#q12" transform="translate(836.3 88.8)rotate(272)scale(3.1 1.9)" fill="#b6b2cb"/><use href="#q10" transform="translate(857.7 99.2)rotate(309)scale(2.3 2)" fill="#b3afc7"/><use href="#q7" transform="translate(833.7 161)rotate(0)scale(3.2 2)" fill="#b1adc6"/><use href="#q10" transform="translate(809.1 138.1)rotate(43)scale(1.7 2.2)" fill="#aeaac1"/><use href="#q11" transform="translate(823.8 62.1)rotate(312)scale(2.3 1.7)" fill="#b2aec7"/><use href="#q9" transform="translate(810.4 118.3)rotate(5)scale(1.6 2.4)" fill="#aeaac2"/><use href="#q10" transform="translate(855.3 60.7)rotate(77)scale(2.7 2)" fill="#a6a2b9"/><use href="#q10" transform="translate(812 108.8)rotate(22)scale(2.2 1.5)" fill="#a7a3ba"/><use href="#q10" transform="translate(842.3 169.2)rotate(66)scale(3.5 1.7)" fill="#a5a1b8"/><use href="#q8" transform="translate(837.2 149.7)rotate(76)scale(1.7 1.4)" fill="#b8b3cd"/><use href="#q7" transform="translate(860.9 85.8)rotate(2)scale(3.2 2.2)" fill="#bdb9d3"/><use href="#q9" transform="translate(845.9 109.9)rotate(332)scale(1.9 1.2)" fill="#b0acc4"/><use href="#q9" transform="translate(808.3 125.8)rotate(65)scale(2.4 1.9)" fill="#a7a3ba"/><use href="#q13" transform="translate(828 84.1)rotate(290)scale(3.4 1.5)" fill="#aeaac2"/><use href="#q13" transform="translate(824.1 115.6)rotate(53)scale(2.5 1.5)" fill="#b9b5cf"/><use href="#q13" transform="translate(812.9 152.1)rotate(282)scale(3.2 2.5)" fill="#bcb8d1"/><use href="#q13" transform="translate(869.9 84.8)rotate(277)scale(2.2 1.3)" fill="#aba7bf"/><use href="#q7" transform="translate(814.9 55.3)rotate(345)scale(1.9 1.6)" fill="#b3afc7"/><use href="#q12" transform="translate(870.6 78)rotate(72)scale(3.2 2)" fill="#a3a0b6"/><use href="#q8" transform="translate(838.1 71.8)rotate(67)scale(1.9 2)" fill="#b6b2cb"/><use href="#q12" transform="translate(821.9 72.4)rotate(339)scale(2.6 2.5)" fill="#b8b4cd"/><use href="#q12" transform="translate(839.6 97.1)rotate(321)scale(2.1 2)" fill="#b2aec7"/><use href="#q7" transform="translate(859.7 113)rotate(301)scale(1.9 2.2)" fill="#b2aec6"/><use href="#q9" transform="translate(860.6 57.9)rotate(79)scale(1.8 1.4)" fill="#b3afc7"/><use href="#q12" transform="translate(844.9 94.5)rotate(283)scale(2.1 1.2)" fill="#a7a3ba"/><use href="#q12" transform="translate(838.2 142)rotate(344)scale(2.2 1.6)" fill="#a6a2b8"/><use href="#q8" transform="translate(860.9 75.1)rotate(20)scale(2 1.7)" fill="#a9a5bd"/><use href="#q8" transform="translate(851.4 68.6)rotate(333)scale(2.5 2.4)" fill="#b5b1ca"/><use href="#q13" transform="translate(816.6 142.1)rotate(293)scale(2.5 1.4)" fill="#bab6cf"/><use href="#q8" transform="translate(828 72.3)rotate(311)scale(1.7 2)" fill="#afabc3"/><use href="#q10" transform="translate(822.6 127.7)rotate(351)scale(3 2)" fill="#a3a0b6"/><use href="#q12" transform="translate(829.8 131.4)rotate(28)scale(2.2 2)" fill="#a9a5bc"/><use href="#q8" transform="translate(860.6 69.7)rotate(315)scale(2.9 2.1)" fill="#ada9c1"/><use href="#q7" transform="translate(819.1 173)rotate(340)scale(2.7 2.3)" fill="#a9a5bd"/><use href="#q7" transform="translate(875.8 76.3)rotate(16)scale(3.1 2.3)" fill="#b1adc5"/><use href="#q7" transform="translate(834.9 117.8)rotate(52)scale(2.4 1.5)" fill="#a29eb4"/><use href="#q13" transform="translate(824.4 139.8)rotate(332)scale(2.9 2.1)" fill="#bbb6d0"/><use href="#q10" transform="translate(852.4 134.2)rotate(355)scale(1.5 2)" fill="#aca8bf"/><use href="#q8" transform="translate(823.8 87)rotate(27)scale(2.5 1.8)" fill="#a39fb6"/><use href="#q12" transform="translate(851.8 85.9)rotate(342)scale(3.5 2.5)" fill="#b9b5ce"/><use href="#q12" transform="translate(813 77.2)rotate(281)scale(2.6 1.3)" fill="#beb9d3"/><use href="#q8" transform="translate(850.4 120.2)rotate(310)scale(2.3 2.1)" fill="#bdb9d3"/><use href="#q13" transform="translate(817.7 147.9)rotate(2)scale(2.5 2.3)" fill="#a4a0b7"/><use href="#q12" transform="translate(826.4 149.9)rotate(26)scale(1.7 1.4)" fill="#b3afc7"/><use href="#q7" transform="translate(844.9 154)rotate(84)scale(3.3 2.1)" fill="#afabc3"/><use href="#q13" transform="translate(839.1 161.2)rotate(337)scale(2.4 1.4)" fill="#aca8bf"/><use href="#q11" transform="translate(856.2 54.1)rotate(334)scale(3.3 1.2)" fill="#b1acc5"/><use href="#q11" transform="translate(817.8 91.9)rotate(287)scale(3.4 2.2)" fill="#beb9d3"/><use href="#q11" transform="translate(828.6 172.4)rotate(294)scale(1.7 1.9)" fill="#a4a0b7"/><use href="#q10" transform="translate(856.4 107.1)rotate(315)scale(2.1 1.7)" fill="#b2aec6"/><use href="#q10" transform="translate(831.4 61)rotate(352)scale(1.6 1.5)" fill="#b1adc5"/><use href="#q8" transform="translate(858.5 124.5)rotate(55)scale(1.8 2.4)" fill="#b0acc4"/><use href="#q13" transform="translate(827.6 78.7)rotate(344)scale(3.4 1.9)" fill="#b3afc7"/><use href="#q13" transform="translate(823 94.8)rotate(58)scale(2.9 1.4)" fill="#a8a4bb"/><use href="#q11" transform="translate(819 97.8)rotate(38)scale(3.1 2.2)" fill="#a6a2b9"/></g><g filter="url(#bl1)"><use href="#q2" transform="translate(855.8 101.7)rotate(288)scale(4.5 3.4)" fill="#a7a7ce"/><use href="#q3" transform="translate(845.8 162.7)rotate(337)scale(4.1 2.8)" fill="#a2a2c7"/><use href="#q2" transform="translate(849.8 144.7)rotate(331)scale(3.6 3.1)" fill="#9999bd"/><use href="#q3" transform="translate(868.3 99.9)rotate(5)scale(4.3 2.6)" fill="#a5a5cb"/><use href="#q2" transform="translate(830.4 78.8)rotate(38)scale(4.2 3.2)" fill="#9797ba"/><use href="#q0" transform="translate(849.3 132.1)rotate(44)scale(3.7 2.7)" fill="#a3a3c9"/><use href="#q2" transform="translate(822.8 172.5)rotate(289)scale(3.6 3.1)" fill="#a8a8d0"/><use href="#q2" transform="translate(851.1 69.6)rotate(17)scale(4.4 2.9)" fill="#a0a0c5"/></g><path d="M878.09 53L891.09 53L848.51 173.3L839.51 173.3Z" fill="#f1eef0" filter="url(#bl3)"/><path d="M891.09 48L1054.7 48L1054.7 178.3L846.74 178.3Z" fill="#9a7062"/><g filter="url(#bl1)" opacity="0.75"><use href="#q12" transform="translate(892.3 144.7)rotate(3)scale(6.5 5.2)" fill="#be9b85"/><use href="#q9" transform="translate(874 144.2)rotate(302)scale(5.9 5.6)" fill="#b69480"/><use href="#q12" transform="translate(919.2 156)rotate(75)scale(6.8 3.7)" fill="#b79581"/><use href="#q7" transform="translate(893 123.9)rotate(4)scale(7.6 3.8)" fill="#ba9883"/><use href="#q12" transform="translate(1011.4 166.5)rotate(325)scale(5.7 3.7)" fill="#bd9a85"/><use href="#q12" transform="translate(979.4 97.9)rotate(315)scale(5.8 3.1)" fill="#b4927e"/><use href="#q8" transform="translate(895.4 83.1)rotate(310)scale(8.1 3.7)" fill="#c09d87"/><use href="#q10" transform="translate(881.6 87.3)rotate(73)scale(6.5 4.1)" fill="#d7af97"/><use href="#q13" transform="translate(906.8 173.3)rotate(30)scale(9 4.3)" fill="#b99782"/><use href="#q7" transform="translate(948.2 100.5)rotate(11)scale(5.8 5.7)" fill="#d5ae96"/><use href="#q10" transform="translate(918.2 139.3)rotate(273)scale(6.9 5.5)" fill="#c39f89"/><use href="#q8" transform="translate(973.4 135.1)rotate(299)scale(8.8 4.3)" fill="#b3927e"/><use href="#q8" transform="translate(1014.6 110.6)rotate(77)scale(8.5 5.9)" fill="#bd9a85"/><use href="#q8" transform="translate(917.3 128.2)rotate(80)scale(5.6 5.1)" fill="#b79681"/><use href="#q12" transform="translate(1032.5 151.8)rotate(62)scale(7.8 3.7)" fill="#d3ac94"/><use href="#q13" transform="translate(987 69.8)rotate(292)scale(6.8 4.1)" fill="#bb9883"/><use href="#q9" transform="translate(1001.3 134.5)rotate(333)scale(5.3 3.6)" fill="#b2917d"/><use href="#q13" transform="translate(1029.2 140.5)rotate(320)scale(6.3 4.7)" fill="#c4a08a"/><use href="#q7" transform="translate(992.3 137.6)rotate(4)scale(7.3 5.3)" fill="#d5ae96"/><use href="#q12" transform="translate(929.6 136.1)rotate(75)scale(7.6 3)" fill="#d6af97"/><use href="#q9" transform="translate(1023.4 64.7)rotate(330)scale(7 3.5)" fill="#c6a28b"/><use href="#q13" transform="translate(915.1 69.8)rotate(17)scale(6.9 5.7)" fill="#be9b85"/><use href="#q12" transform="translate(1039.2 71.7)rotate(297)scale(7 3.1)" fill="#c29f89"/><use href="#q8" transform="translate(905.1 102)rotate(343)scale(5.1 5.3)" fill="#b2917d"/><use href="#q7" transform="translate(1029.1 164.9)rotate(58)scale(5.2 4.2)" fill="#d6ae96"/><use href="#q10" transform="translate(946.5 119.1)rotate(0)scale(5.9 5.4)" fill="#c9a48e"/><use href="#q9" transform="translate(1020.8 146)rotate(300)scale(5.1 4)" fill="#d6af97"/><use href="#q11" transform="translate(915.1 54.8)rotate(337)scale(6 4.9)" fill="#c29f89"/><use href="#q11" transform="translate(1014.5 131.4)rotate(296)scale(8 3.5)" fill="#c7a28c"/><use href="#q10" transform="translate(925.6 149.6)rotate(353)scale(6.7 4.6)" fill="#bd9a85"/><use href="#q8" transform="translate(986.7 107.5)rotate(63)scale(5.9 5.8)" fill="#d2ac94"/><use href="#q12" transform="translate(967.8 108.6)rotate(75)scale(6.9 4.7)" fill="#cea891"/><use href="#q9" transform="translate(1004.1 70.8)rotate(343)scale(6.3 4.7)" fill="#cba68f"/><use href="#q11" transform="translate(932.3 58.4)rotate(33)scale(6.1 3.3)" fill="#be9b85"/><use href="#q12" transform="translate(893 162.2)rotate(54)scale(5.4 5.2)" fill="#c9a48e"/><use href="#q12" transform="translate(932.9 116.9)rotate(319)scale(5 4.5)" fill="#c6a28c"/><use href="#q7" transform="translate(927.5 67.1)rotate(328)scale(7.3 3.2)" fill="#c9a48d"/><use href="#q7" transform="translate(880.4 172.5)rotate(321)scale(7.6 5.9)" fill="#c19e88"/><use href="#q7" transform="translate(939.5 169.8)rotate(14)scale(6.1 3.2)" fill="#c09c87"/><use href="#q11" transform="translate(921.6 89.4)rotate(0)scale(6 5.7)" fill="#c19d87"/><use href="#q9" transform="translate(899.7 71.8)rotate(64)scale(5.2 3.2)" fill="#b69480"/><use href="#q8" transform="translate(1046.9 156.6)rotate(332)scale(8.4 4.5)" fill="#b89681"/><use href="#q8" transform="translate(997.4 94.4)rotate(324)scale(7.8 4.3)" fill="#caa58e"/><use href="#q13" transform="translate(884.9 160)rotate(38)scale(7.7 5.4)" fill="#d0a992"/><use href="#q7" transform="translate(983.5 87.5)rotate(356)scale(8.5 3.4)" fill="#cca68f"/><use href="#q13" transform="translate(962.2 84.6)rotate(2)scale(8.7 3.1)" fill="#bd9a85"/><use href="#q13" transform="translate(880.8 99.9)rotate(342)scale(7.6 5)" fill="#d5ae96"/><use href="#q13" transform="translate(958.6 110.9)rotate(290)scale(5.3 5)" fill="#d6af97"/><use href="#q9" transform="translate(987.2 94.6)rotate(19)scale(6.6 3.8)" fill="#cea891"/><use href="#q7" transform="translate(904.4 140.4)rotate(293)scale(8.9 4.9)" fill="#cca790"/><use href="#q7" transform="translate(960 122.2)rotate(342)scale(6.7 4.2)" fill="#cda890"/><use href="#q10" transform="translate(1036.4 168.6)rotate(25)scale(7.3 5.8)" fill="#c39f89"/><use href="#q8" transform="translate(889.4 97.2)rotate(69)scale(7.8 3.1)" fill="#c39f89"/><use href="#q10" transform="translate(1039.6 133)rotate(292)scale(5.9 4.9)" fill="#b69480"/><use href="#q12" transform="translate(1044.6 170.2)rotate(304)scale(6.3 3.8)" fill="#c9a48e"/><use href="#q7" transform="translate(1033.7 118.2)rotate(330)scale(8.1 3.3)" fill="#b2917d"/><use href="#q13" transform="translate(937.5 134.7)rotate(21)scale(6.2 5.9)" fill="#d6ae96"/><use href="#q7" transform="translate(867.7 136.6)rotate(310)scale(5.2 3.3)" fill="#d7af97"/><use href="#q12" transform="translate(972.5 164.3)rotate(6)scale(5.1 5.6)" fill="#c29f89"/><use href="#q10" transform="translate(988.6 56.6)rotate(77)scale(7.1 3.9)" fill="#be9b86"/><use href="#q11" transform="translate(868.2 161.2)rotate(280)scale(6.3 3.2)" fill="#be9b86"/><use href="#q8" transform="translate(958.3 158)rotate(5)scale(8.4 5.6)" fill="#b89682"/><use href="#q10" transform="translate(1032.4 66.1)rotate(285)scale(8.2 5.7)" fill="#c19d88"/><use href="#q11" transform="translate(909.9 89.2)rotate(9)scale(7.7 5.3)" fill="#c9a48d"/><use href="#q11" transform="translate(1047.2 102.8)rotate(7)scale(8.6 3.8)" fill="#d7af97"/><use href="#q8" transform="translate(971 154.8)rotate(87)scale(5.3 3.5)" fill="#c8a38d"/><use href="#q9" transform="translate(929.3 80.9)rotate(39)scale(7.2 3.8)" fill="#cca790"/><use href="#q7" transform="translate(920.3 79.4)rotate(278)scale(6.1 5.4)" fill="#b2917d"/><use href="#q7" transform="translate(928.6 161.1)rotate(356)scale(6.7 3.3)" fill="#d5ae96"/><use href="#q13" transform="translate(898.7 58.8)rotate(354)scale(7.2 3)" fill="#c8a38d"/></g><g filter="url(#bl1)" opacity="0.6"><use href="#q9" transform="translate(876 104.2)rotate(288)scale(7.2 4.7)" fill="#8d7b98"/><use href="#q13" transform="translate(964.7 142.5)rotate(5)scale(8 4.5)" fill="#9884a4"/><use href="#q9" transform="translate(930.8 131.2)rotate(35)scale(5.4 3.1)" fill="#917f9d"/><use href="#q13" transform="translate(986.2 127.1)rotate(32)scale(5.2 3.5)" fill="#8e7b99"/><use href="#q8" transform="translate(944.9 55)rotate(335)scale(6.2 4.7)" fill="#9784a3"/><use href="#q10" transform="translate(943.8 65.7)rotate(273)scale(8.7 3.9)" fill="#9784a3"/><use href="#q10" transform="translate(1040.5 155.5)rotate(291)scale(7.4 3.8)" fill="#a691b3"/><use href="#q13" transform="translate(947.4 123.7)rotate(8)scale(7.7 3.6)" fill="#a792b4"/><use href="#q10" transform="translate(913.4 171.3)rotate(34)scale(7.5 5)" fill="#9c88a8"/><use href="#q11" transform="translate(894.5 157.1)rotate(318)scale(8.3 4.1)" fill="#9a86a6"/><use href="#q7" transform="translate(951.9 102.4)rotate(70)scale(7.1 5.4)" fill="#93809e"/><use href="#q10" transform="translate(930 159.7)rotate(26)scale(6.2 4.2)" fill="#8d7b98"/><use href="#q12" transform="translate(901.8 148.2)rotate(66)scale(6.1 3.6)" fill="#a691b3"/><use href="#q11" transform="translate(991.6 106.9)rotate(79)scale(6.9 4.1)" fill="#8f7c9a"/><use href="#q13" transform="translate(923.4 105.6)rotate(88)scale(7.2 5.6)" fill="#a993b6"/><use href="#q10" transform="translate(940.7 91)rotate(6)scale(5.8 3.3)" fill="#9683a2"/><use href="#q7" transform="translate(974.8 102.5)rotate(65)scale(7.1 3.9)" fill="#9c88a8"/><use href="#q12" transform="translate(911 146)rotate(65)scale(7.1 3.3)" fill="#a590b2"/><use href="#q10" transform="translate(941.2 110)rotate(11)scale(7.6 3.3)" fill="#a993b6"/><use href="#q7" transform="translate(1025.7 107.7)rotate(281)scale(7.4 4.6)" fill="#a28daf"/><use href="#q10" transform="translate(1045 147.5)rotate(31)scale(6.9 5.7)" fill="#93809e"/><use href="#q11" transform="translate(998.1 88.6)rotate(88)scale(7.6 5.4)" fill="#a993b6"/><use href="#q7" transform="translate(994.7 167.3)rotate(28)scale(5.1 3.7)" fill="#93809e"/><use href="#q11" transform="translate(981.1 133.5)rotate(302)scale(6 3.9)" fill="#a892b5"/><use href="#q12" transform="translate(957.9 170.9)rotate(318)scale(5.4 4.9)" fill="#a590b2"/><use href="#q12" transform="translate(918.6 138.6)rotate(332)scale(5.9 3.5)" fill="#a38eaf"/><use href="#q10" transform="translate(972.7 79.6)rotate(276)scale(5.6 3.6)" fill="#917e9c"/><use href="#q12" transform="translate(929.9 172.5)rotate(54)scale(7.6 6)" fill="#a892b5"/><use href="#q7" transform="translate(1014.1 153.7)rotate(20)scale(5.7 4.9)" fill="#a993b6"/><use href="#q10" transform="translate(992.4 144.6)rotate(68)scale(8.5 3.9)" fill="#a08cad"/><use href="#q8" transform="translate(999.2 122.6)rotate(0)scale(7.9 3.6)" fill="#aa94b7"/><use href="#q9" transform="translate(900.6 137.8)rotate(306)scale(7.4 3.8)" fill="#8e7c99"/><use href="#q12" transform="translate(962.3 118.5)rotate(323)scale(5.7 3.7)" fill="#a691b3"/><use href="#q12" transform="translate(1047.1 69.4)rotate(27)scale(5.5 4.9)" fill="#a18dae"/><use href="#q7" transform="translate(1006 92.1)rotate(344)scale(6.3 3)" fill="#9e8aaa"/><use href="#q9" transform="translate(905.2 121.2)rotate(276)scale(7.1 3.1)" fill="#ab95b8"/><use href="#q11" transform="translate(955.7 112.6)rotate(79)scale(7.2 4.2)" fill="#a08bac"/><use href="#q11" transform="translate(883.8 128.2)rotate(0)scale(5.7 4.5)" fill="#a48fb0"/><use href="#q11" transform="translate(1028.5 132.8)rotate(358)scale(7.5 4.3)" fill="#8d7b98"/><use href="#q13" transform="translate(934.2 70.5)rotate(305)scale(8.5 3.1)" fill="#9a87a6"/><use href="#q7" transform="translate(1015.5 98.7)rotate(300)scale(6.7 4.1)" fill="#9784a3"/><use href="#q7" transform="translate(905 96.1)rotate(320)scale(6.4 3.2)" fill="#9f8bab"/><use href="#q8" transform="translate(957.5 55.9)rotate(297)scale(6 4.9)" fill="#a28daf"/><use href="#q7" transform="translate(880.1 90.4)rotate(74)scale(8.4 4.8)" fill="#8d7b98"/><use href="#q7" transform="translate(1024.3 165.3)rotate(352)scale(5.9 3.5)" fill="#9a86a5"/><use href="#q10" transform="translate(900.3 74.4)rotate(301)scale(7.6 3.5)" fill="#9d88a9"/><use href="#q7" transform="translate(1008.7 141.9)rotate(44)scale(6.6 4.1)" fill="#8f7d9a"/><use href="#q9" transform="translate(903.2 111.8)rotate(20)scale(6.9 3.1)" fill="#927f9d"/><use href="#q9" transform="translate(989 56.4)rotate(51)scale(8.7 4.3)" fill="#a691b3"/><use href="#q12" transform="translate(892.6 137.6)rotate(294)scale(7.2 5.8)" fill="#9884a4"/><use href="#q9" transform="translate(989.8 93.5)rotate(290)scale(8.5 5.8)" fill="#a08cad"/><use href="#q12" transform="translate(1025.5 79.3)rotate(45)scale(6.1 3.9)" fill="#a48fb1"/><use href="#q9" transform="translate(938.5 150.7)rotate(23)scale(7.9 4.9)" fill="#a791b4"/><use href="#q13" transform="translate(964 126.3)rotate(86)scale(8.1 3.3)" fill="#a38eb0"/><use href="#q11" transform="translate(1047.1 79.9)rotate(31)scale(7.7 4.8)" fill="#9e8aaa"/><use href="#q9" transform="translate(894.9 127.5)rotate(313)scale(8.6 3.8)" fill="#9b87a7"/><use href="#q8" transform="translate(880.4 169)rotate(343)scale(8.8 3.4)" fill="#9d89aa"/><use href="#q8" transform="translate(991.2 79)rotate(349)scale(8.1 5)" fill="#9e8aaa"/><use href="#q13" transform="translate(895.6 96.8)rotate(305)scale(6.3 4.8)" fill="#9a86a6"/><use href="#q11" transform="translate(863 154.2)rotate(304)scale(8.4 3.1)" fill="#9c88a8"/></g><g filter="url(#bl07)"><ellipse cx="888.3" cy="155.1" rx="3.5" ry="1.4" fill="#4f260f" transform="rotate(78 888.3 155.1)"/><ellipse cx="890.1" cy="120" rx="5.2" ry="0.9" fill="#4f250f" transform="rotate(31 890.1 120)"/><ellipse cx="918.1" cy="53.1" rx="4.7" ry="1" fill="#592a11" transform="rotate(-4 918.1 53.1)"/><ellipse cx="915.9" cy="86.1" rx="6" ry="1.5" fill="#693214" transform="rotate(77 915.9 86.1)"/><ellipse cx="1048" cy="129.7" rx="7.1" ry="0.9" fill="#5a2b11" transform="rotate(-46 1048 129.7)"/><ellipse cx="863.5" cy="139.1" rx="6.2" ry="1.2" fill="#6c3315" transform="rotate(-27 863.5 139.1)"/><ellipse cx="896.8" cy="110.9" rx="4.6" ry="0.7" fill="#522710" transform="rotate(-73 896.8 110.9)"/><ellipse cx="994.4" cy="156.1" rx="6.7" ry="1.4" fill="#532710" transform="rotate(-82 994.4 156.1)"/><ellipse cx="1036.8" cy="103.6" rx="4.2" ry="1.3" fill="#542810" transform="rotate(71 1036.8 103.6)"/><ellipse cx="913.8" cy="100.8" rx="3.5" ry="1.5" fill="#632f13" transform="rotate(84 913.8 100.8)"/><ellipse cx="912.8" cy="142.2" rx="5.4" ry="1.3" fill="#5c2c12" transform="rotate(48 912.8 142.2)"/><ellipse cx="942.7" cy="135.5" rx="4.4" ry="1.1" fill="#562910" transform="rotate(29 942.7 135.5)"/><ellipse cx="880.8" cy="147.2" rx="6.2" ry="0.8" fill="#522710" transform="rotate(84 880.8 147.2)"/><ellipse cx="1043.1" cy="77.4" rx="4.1" ry="1.5" fill="#6a3214" transform="rotate(81 1043.1 77.4)"/><ellipse cx="973.3" cy="72.5" rx="7.2" ry="1.4" fill="#5e2d12" transform="rotate(57 973.3 72.5)"/><ellipse cx="887" cy="140.9" rx="3.4" ry="1.3" fill="#673114" transform="rotate(60 887 140.9)"/><ellipse cx="964.5" cy="134.1" rx="3.2" ry="0.7" fill="#5b2b11" transform="rotate(41 964.5 134.1)"/><ellipse cx="1043.3" cy="60" rx="7.5" ry="1.5" fill="#612e13" transform="rotate(-9 1043.3 60)"/><ellipse cx="942" cy="152.2" rx="6.3" ry="1.3" fill="#602e12" transform="rotate(-23 942 152.2)"/><ellipse cx="986.7" cy="118.9" rx="3.3" ry="1.4" fill="#663013" transform="rotate(40 986.7 118.9)"/><ellipse cx="1021.1" cy="97.8" rx="5.3" ry="0.9" fill="#612e13" transform="rotate(-8 1021.1 97.8)"/><ellipse cx="873" cy="130.2" rx="5.7" ry="0.8" fill="#582a11" transform="rotate(-89 873 130.2)"/><ellipse cx="876" cy="125.6" rx="4.2" ry="0.9" fill="#592a11" transform="rotate(-50 876 125.6)"/><ellipse cx="1014.7" cy="94.4" rx="6.5" ry="1.4" fill="#4c240e" transform="rotate(31 1014.7 94.4)"/><ellipse cx="960.9" cy="123" rx="7.3" ry="1.2" fill="#5f2d12" transform="rotate(41 960.9 123)"/><ellipse cx="1022.4" cy="134.5" rx="4.8" ry="1" fill="#612e13" transform="rotate(-77 1022.4 134.5)"/><ellipse cx="1044.7" cy="87.5" rx="3.3" ry="1.2" fill="#612e13" transform="rotate(73 1044.7 87.5)"/><ellipse cx="1004.8" cy="129.1" rx="6" ry="1.3" fill="#663014" transform="rotate(82 1004.8 129.1)"/><ellipse cx="943.8" cy="54.3" rx="8" ry="1.1" fill="#5f2d12" transform="rotate(-87 943.8 54.3)"/><ellipse cx="945.4" cy="84.7" rx="6.2" ry="1.4" fill="#572911" transform="rotate(20 945.4 84.7)"/><ellipse cx="970.3" cy="114.3" rx="3" ry="1.4" fill="#6c3315" transform="rotate(22 970.3 114.3)"/><ellipse cx="952.2" cy="60.1" rx="6" ry="1.4" fill="#6c3315" transform="rotate(49 952.2 60.1)"/><ellipse cx="986.4" cy="172.2" rx="5.3" ry="1.4" fill="#4b240e" transform="rotate(-18 986.4 172.2)"/><ellipse cx="1008.4" cy="87.9" rx="4.6" ry="1" fill="#582a11" transform="rotate(88 1008.4 87.9)"/><ellipse cx="941.3" cy="113.8" rx="4.4" ry="1.3" fill="#552810" transform="rotate(-72 941.3 113.8)"/><ellipse cx="1010.7" cy="100.5" rx="5" ry="0.8" fill="#592a11" transform="rotate(17 1010.7 100.5)"/><ellipse cx="1033.9" cy="111.2" rx="7" ry="1" fill="#512710" transform="rotate(85 1033.9 111.2)"/><ellipse cx="929.8" cy="110.7" rx="5.7" ry="0.9" fill="#552810" transform="rotate(-87 929.8 110.7)"/><ellipse cx="921.7" cy="173.3" rx="7.5" ry="0.9" fill="#5c2c12" transform="rotate(-2 921.7 173.3)"/><ellipse cx="866.3" cy="134.6" rx="4.3" ry="1.1" fill="#572911" transform="rotate(-78 866.3 134.6)"/><ellipse cx="934.8" cy="125.4" rx="4.4" ry="1.4" fill="#622f13" transform="rotate(48 934.8 125.4)"/><ellipse cx="1002.6" cy="106.5" rx="6" ry="1.4" fill="#4d240f" transform="rotate(43 1002.6 106.5)"/><ellipse cx="909.3" cy="97.3" rx="3.7" ry="1.3" fill="#6c3315" transform="rotate(61 909.3 97.3)"/><ellipse cx="1027.5" cy="78.7" rx="6.9" ry="0.8" fill="#602d12" transform="rotate(12 1027.5 78.7)"/><ellipse cx="946.7" cy="68.9" rx="6" ry="0.8" fill="#5c2c12" transform="rotate(84 946.7 68.9)"/><ellipse cx="877.6" cy="160.1" rx="4.3" ry="1.5" fill="#4d250f" transform="rotate(-20 877.6 160.1)"/><ellipse cx="999.7" cy="60.7" rx="6.3" ry="0.9" fill="#552810" transform="rotate(-50 999.7 60.7)"/><ellipse cx="985" cy="78.7" rx="6" ry="1" fill="#693214" transform="rotate(29 985 78.7)"/><ellipse cx="939.3" cy="125.8" rx="8" ry="1.4" fill="#532810" transform="rotate(75 939.3 125.8)"/><ellipse cx="860.7" cy="165.5" rx="7.1" ry="0.8" fill="#4d250f" transform="rotate(14 860.7 165.5)"/><ellipse cx="917.3" cy="70.3" rx="3.5" ry="1.5" fill="#632f13" transform="rotate(-67 917.3 70.3)"/><ellipse cx="1005.9" cy="66.1" rx="5.6" ry="0.7" fill="#4d250f" transform="rotate(52 1005.9 66.1)"/><ellipse cx="944.1" cy="161.3" rx="7.4" ry="1.4" fill="#5a2b11" transform="rotate(0 944.1 161.3)"/><ellipse cx="1008" cy="77.8" rx="3.1" ry="1.3" fill="#5c2c12" transform="rotate(-82 1008 77.8)"/><ellipse cx="944.2" cy="89.2" rx="7.6" ry="1.2" fill="#632f13" transform="rotate(-69 944.2 89.2)"/><ellipse cx="1033.1" cy="78.1" rx="6.5" ry="1" fill="#5e2d12" transform="rotate(48 1033.1 78.1)"/><ellipse cx="978.6" cy="61.8" rx="5.1" ry="1.1" fill="#542810" transform="rotate(-40 978.6 61.8)"/><ellipse cx="1034.5" cy="167.1" rx="7.4" ry="1" fill="#572911" transform="rotate(48 1034.5 167.1)"/><ellipse cx="973.6" cy="91.5" rx="4" ry="0.7" fill="#642f13" transform="rotate(83 973.6 91.5)"/><ellipse cx="994.7" cy="161.7" rx="7.9" ry="1.2" fill="#50260f" transform="rotate(-78 994.7 161.7)"/><ellipse cx="1008.8" cy="57.9" rx="3.2" ry="1.2" fill="#6b3314" transform="rotate(21 1008.8 57.9)"/><ellipse cx="959.3" cy="167.3" rx="4.5" ry="0.9" fill="#50260f" transform="rotate(-50 959.3 167.3)"/><ellipse cx="1022.8" cy="82.9" rx="3.1" ry="1.1" fill="#572911" transform="rotate(-14 1022.8 82.9)"/><ellipse cx="960.4" cy="91.2" rx="7.8" ry="1" fill="#5d2c12" transform="rotate(58 960.4 91.2)"/><ellipse cx="1001.8" cy="93.5" rx="3.5" ry="0.7" fill="#683114" transform="rotate(19 1001.8 93.5)"/><ellipse cx="934.2" cy="136.8" rx="3.3" ry="1.3" fill="#622e13" transform="rotate(-48 934.2 136.8)"/><ellipse cx="995.4" cy="108.8" rx="7.2" ry="1.3" fill="#50260f" transform="rotate(-45 995.4 108.8)"/><ellipse cx="884.3" cy="152.4" rx="7.8" ry="1.4" fill="#5d2c12" transform="rotate(76 884.3 152.4)"/><ellipse cx="949.4" cy="130.5" rx="3.3" ry="1" fill="#4d250f" transform="rotate(73 949.4 130.5)"/><ellipse cx="923.1" cy="97.4" rx="4.5" ry="0.7" fill="#572911" transform="rotate(68 923.1 97.4)"/><ellipse cx="885.6" cy="170.2" rx="3.4" ry="1" fill="#592a11" transform="rotate(-53 885.6 170.2)"/><ellipse cx="971.1" cy="68.5" rx="6.1" ry="1.2" fill="#5d2c12" transform="rotate(-72 971.1 68.5)"/><ellipse cx="990.5" cy="124.9" rx="3.3" ry="1.1" fill="#542810" transform="rotate(55 990.5 124.9)"/><ellipse cx="972.7" cy="145.6" rx="7.1" ry="0.9" fill="#653013" transform="rotate(-19 972.7 145.6)"/><ellipse cx="971.7" cy="158.4" rx="3" ry="1.1" fill="#632f13" transform="rotate(6 971.7 158.4)"/><ellipse cx="1043.7" cy="101.9" rx="7.7" ry="1.3" fill="#522710" transform="rotate(-49 1043.7 101.9)"/><ellipse cx="979.7" cy="98" rx="5.4" ry="0.9" fill="#4e250f" transform="rotate(9 979.7 98)"/><ellipse cx="932.3" cy="97" rx="6.5" ry="1" fill="#4f250f" transform="rotate(-81 932.3 97)"/><ellipse cx="920.6" cy="154.9" rx="7.7" ry="1.4" fill="#582a11" transform="rotate(68 920.6 154.9)"/><ellipse cx="1009.8" cy="134.4" rx="7.9" ry="0.8" fill="#6a3214" transform="rotate(40 1009.8 134.4)"/><ellipse cx="978.5" cy="83.2" rx="4" ry="0.7" fill="#4e250f" transform="rotate(-67 978.5 83.2)"/><ellipse cx="913.3" cy="65.1" rx="7" ry="1.2" fill="#4f250f" transform="rotate(-4 913.3 65.1)"/><ellipse cx="1009.6" cy="163.8" rx="6.2" ry="0.8" fill="#5f2d12" transform="rotate(-65 1009.6 163.8)"/><ellipse cx="977.6" cy="160.3" rx="6.2" ry="1.3" fill="#4f260f" transform="rotate(58 977.6 160.3)"/><ellipse cx="1001.7" cy="80.2" rx="4.5" ry="0.8" fill="#4c240e" transform="rotate(-1 1001.7 80.2)"/><ellipse cx="1025.3" cy="95.4" rx="7.3" ry="1.2" fill="#5b2b11" transform="rotate(55 1025.3 95.4)"/><ellipse cx="944.8" cy="77.3" rx="7.6" ry="1.4" fill="#663013" transform="rotate(59 944.8 77.3)"/><ellipse cx="908.4" cy="104.1" rx="4.1" ry="1" fill="#643013" transform="rotate(-79 908.4 104.1)"/><ellipse cx="905.9" cy="140.7" rx="5.4" ry="1.5" fill="#592a11" transform="rotate(-37 905.9 140.7)"/><ellipse cx="1010.4" cy="92.2" rx="7.3" ry="1.5" fill="#683214" transform="rotate(46 1010.4 92.2)"/><ellipse cx="888.7" cy="67.4" rx="7.6" ry="0.9" fill="#4d250f" transform="rotate(21 888.7 67.4)"/><ellipse cx="865.9" cy="148.3" rx="6.4" ry="1.5" fill="#50260f" transform="rotate(1 865.9 148.3)"/><ellipse cx="970.6" cy="54.8" rx="5.8" ry="0.8" fill="#4e250f" transform="rotate(-6 970.6 54.8)"/><ellipse cx="914.1" cy="57.2" rx="5.1" ry="1.4" fill="#673114" transform="rotate(43 914.1 57.2)"/><ellipse cx="1044.2" cy="96.3" rx="5.3" ry="1.1" fill="#653013" transform="rotate(-80 1044.2 96.3)"/><ellipse cx="1034.3" cy="157.4" rx="5.8" ry="1" fill="#5a2b11" transform="rotate(-63 1034.3 157.4)"/><ellipse cx="964.9" cy="68.2" rx="3.3" ry="0.8" fill="#592a11" transform="rotate(-75 964.9 68.2)"/><ellipse cx="1011.4" cy="63.8" rx="3.7" ry="1.4" fill="#683114" transform="rotate(19 1011.4 63.8)"/><ellipse cx="961.5" cy="64.7" rx="5.8" ry="0.8" fill="#673114" transform="rotate(-40 961.5 64.7)"/><ellipse cx="965.6" cy="160.9" rx="5.9" ry="1.2" fill="#4d240f" transform="rotate(23 965.6 160.9)"/><ellipse cx="1041" cy="144.2" rx="4" ry="1" fill="#6a3314" transform="rotate(61 1041 144.2)"/><ellipse cx="979.1" cy="109.9" rx="6" ry="0.9" fill="#5d2c12" transform="rotate(-81 979.1 109.9)"/><ellipse cx="882" cy="116.8" rx="5" ry="1.4" fill="#522710" transform="rotate(-52 882 116.8)"/><ellipse cx="932.9" cy="115" rx="3.1" ry="0.7" fill="#683114" transform="rotate(55 932.9 115)"/><ellipse cx="992.6" cy="135.9" rx="3.8" ry="0.7" fill="#532710" transform="rotate(13 992.6 135.9)"/><ellipse cx="964" cy="147.9" rx="6.1" ry="1.4" fill="#542810" transform="rotate(44 964 147.9)"/><ellipse cx="943.2" cy="120.9" rx="6" ry="0.9" fill="#532810" transform="rotate(46 943.2 120.9)"/><ellipse cx="906.2" cy="146.7" rx="7.3" ry="1.2" fill="#562911" transform="rotate(70 906.2 146.7)"/><ellipse cx="1010.6" cy="53.1" rx="7.8" ry="1.2" fill="#602e12" transform="rotate(-43 1010.6 53.1)"/><ellipse cx="1026.6" cy="61.3" rx="4.6" ry="0.8" fill="#5f2d12" transform="rotate(-82 1026.6 61.3)"/><ellipse cx="891" cy="108.6" rx="4.2" ry="0.8" fill="#50260f" transform="rotate(49 891 108.6)"/><ellipse cx="901.8" cy="134.3" rx="6.8" ry="0.9" fill="#6a3214" transform="rotate(-24 901.8 134.3)"/><ellipse cx="1047.1" cy="153.5" rx="7.1" ry="1.4" fill="#5f2d12" transform="rotate(86 1047.1 153.5)"/><ellipse cx="926.2" cy="72.1" rx="7.7" ry="1.2" fill="#562910" transform="rotate(14 926.2 72.1)"/><ellipse cx="1015" cy="170.5" rx="4.9" ry="1.2" fill="#602e12" transform="rotate(-45 1015 170.5)"/><ellipse cx="883.3" cy="80.8" rx="7.3" ry="1.3" fill="#4c240e" transform="rotate(-49 883.3 80.8)"/><ellipse cx="1029.8" cy="162.5" rx="4.8" ry="1" fill="#5d2c12" transform="rotate(62 1029.8 162.5)"/><ellipse cx="920.7" cy="82" rx="5.6" ry="1.2" fill="#612e13" transform="rotate(9 920.7 82)"/><ellipse cx="979.7" cy="139.6" rx="5.8" ry="1.1" fill="#4f260f" transform="rotate(-47 979.7 139.6)"/><ellipse cx="941.5" cy="109.3" rx="5.2" ry="1.4" fill="#552810" transform="rotate(80 941.5 109.3)"/><ellipse cx="924.2" cy="107.7" rx="5.9" ry="1.1" fill="#51260f" transform="rotate(-8 924.2 107.7)"/><ellipse cx="987" cy="138.6" rx="6.9" ry="0.8" fill="#542810" transform="rotate(-48 987 138.6)"/><ellipse cx="915.5" cy="121.2" rx="4" ry="0.9" fill="#5c2c12" transform="rotate(-75 915.5 121.2)"/><ellipse cx="927.6" cy="96.2" rx="3.9" ry="1.2" fill="#602d12" transform="rotate(18 927.6 96.2)"/><ellipse cx="935.3" cy="166.4" rx="5.4" ry="1.2" fill="#5a2b11" transform="rotate(-36 935.3 166.4)"/><ellipse cx="1017.3" cy="56.6" rx="6.4" ry="0.9" fill="#5e2d12" transform="rotate(41 1017.3 56.6)"/><ellipse cx="968.1" cy="153.9" rx="7.9" ry="1.2" fill="#643013" transform="rotate(8 968.1 153.9)"/><ellipse cx="994.7" cy="148.1" rx="4.4" ry="1" fill="#632f13" transform="rotate(-12 994.7 148.1)"/><ellipse cx="997.3" cy="89.4" rx="6.6" ry="0.8" fill="#6b3315" transform="rotate(81 997.3 89.4)"/><ellipse cx="940.5" cy="95.7" rx="5.5" ry="1.5" fill="#582a11" transform="rotate(21 940.5 95.7)"/><ellipse cx="902.6" cy="150.5" rx="3.4" ry="0.7" fill="#632f13" transform="rotate(16 902.6 150.5)"/><ellipse cx="1033.8" cy="125.3" rx="6.1" ry="1.3" fill="#642f13" transform="rotate(-11 1033.8 125.3)"/><ellipse cx="1041.6" cy="165.8" rx="6" ry="1.2" fill="#612e13" transform="rotate(8 1041.6 165.8)"/><ellipse cx="890.5" cy="149.8" rx="5.8" ry="0.8" fill="#622f13" transform="rotate(31 890.5 149.8)"/><ellipse cx="1029.4" cy="157.1" rx="5.1" ry="1.5" fill="#50260f" transform="rotate(-3 1029.4 157.1)"/><ellipse cx="907.4" cy="88.2" rx="5.6" ry="1" fill="#683214" transform="rotate(-60 907.4 88.2)"/><ellipse cx="996.2" cy="94" rx="3.9" ry="1.3" fill="#5c2c12" transform="rotate(-59 996.2 94)"/><ellipse cx="895.8" cy="60.6" rx="8" ry="0.8" fill="#4b240e" transform="rotate(64 895.8 60.6)"/><ellipse cx="959.3" cy="101.1" rx="7.9" ry="1.4" fill="#602e12" transform="rotate(-9 959.3 101.1)"/><ellipse cx="917.4" cy="112.1" rx="5.3" ry="0.8" fill="#5a2b11" transform="rotate(-25 917.4 112.1)"/><ellipse cx="925.7" cy="85.5" rx="7.3" ry="0.8" fill="#5b2b11" transform="rotate(7 925.7 85.5)"/><ellipse cx="955.2" cy="55.9" rx="5.8" ry="1.3" fill="#562910" transform="rotate(17 955.2 55.9)"/><ellipse cx="870.7" cy="147.5" rx="7.8" ry="1.2" fill="#5d2c12" transform="rotate(-41 870.7 147.5)"/><ellipse cx="961.4" cy="112.3" rx="7.3" ry="0.7" fill="#5b2b11" transform="rotate(26 961.4 112.3)"/><ellipse cx="919" cy="143.4" rx="4.4" ry="0.8" fill="#592b11" transform="rotate(-48 919 143.4)"/><ellipse cx="950.7" cy="148.3" rx="5.1" ry="1.2" fill="#5f2d12" transform="rotate(-41 950.7 148.3)"/><ellipse cx="1017" cy="160.5" rx="5.4" ry="1.3" fill="#532710" transform="rotate(54 1017 160.5)"/><ellipse cx="965.8" cy="116.2" rx="7.9" ry="1.1" fill="#532810" transform="rotate(-29 965.8 116.2)"/><ellipse cx="1013.7" cy="156.2" rx="6.6" ry="1" fill="#532810" transform="rotate(33 1013.7 156.2)"/><ellipse cx="973.3" cy="125" rx="7.3" ry="0.9" fill="#592b11" transform="rotate(66 973.3 125)"/><ellipse cx="1031.4" cy="59" rx="5" ry="1.2" fill="#5d2c12" transform="rotate(4 1031.4 59)"/><ellipse cx="945.1" cy="98.2" rx="5.8" ry="1.5" fill="#4e250f" transform="rotate(43 945.1 98.2)"/><ellipse cx="1039.4" cy="72.8" rx="7.9" ry="0.7" fill="#663114" transform="rotate(-80 1039.4 72.8)"/><ellipse cx="1000.7" cy="111.8" rx="4.4" ry="0.7" fill="#5b2b11" transform="rotate(-58 1000.7 111.8)"/><ellipse cx="1026.5" cy="53.8" rx="7.2" ry="0.7" fill="#4b240e" transform="rotate(-60 1026.5 53.8)"/><ellipse cx="895.3" cy="141.2" rx="3.3" ry="1" fill="#6b3315" transform="rotate(-1 895.3 141.2)"/><ellipse cx="1025.6" cy="146.5" rx="6.2" ry="1.4" fill="#693214" transform="rotate(16 1025.6 146.5)"/><ellipse cx="905.3" cy="62.7" rx="6.4" ry="0.9" fill="#5b2b11" transform="rotate(-22 905.3 62.7)"/><ellipse cx="991.8" cy="141" rx="3.5" ry="1.4" fill="#522710" transform="rotate(-3 991.8 141)"/><ellipse cx="946" cy="93.7" rx="5.5" ry="1.3" fill="#5e2d12" transform="rotate(-40 946 93.7)"/></g><g filter="url(#bl07)" stroke="#e2d2c8" stroke-width="1.8" stroke-opacity="0.75" paint-order="stroke"><use href="#q3" transform="translate(887.8 113.8)rotate(77)scale(6.5 4.8)" fill="url(#n1c)"/><use href="#q2" transform="translate(987.5 80.4)rotate(273)scale(5.7 5)" fill="url(#n1c)"/><use href="#q4" transform="translate(987.7 123.5)rotate(1)scale(5.2 4.3)" fill="url(#n1c)"/><use href="#q0" transform="translate(1000.1 172.8)rotate(327)scale(5.7 5.3)" fill="url(#n1c)"/><use href="#q2" transform="translate(916.9 172.9)rotate(296)scale(6.7 5.3)" fill="url(#n1b)"/><use href="#q1" transform="translate(941.2 114.3)rotate(25)scale(8.4 4.1)" fill="url(#n1b)"/><use href="#q4" transform="translate(979.1 65.4)rotate(24)scale(7.4 6.1)" fill="url(#n1a)"/><use href="#q5" transform="translate(958.6 76.6)rotate(8)scale(5.7 4.4)" fill="url(#n1c)"/><use href="#q4" transform="translate(903 145.3)rotate(18)scale(5.5 4.5)" fill="url(#n1a)"/><use href="#q6" transform="translate(939.4 70.7)rotate(66)scale(5.1 5.5)" fill="url(#n1c)"/><use href="#q4" transform="translate(985.8 172.7)rotate(32)scale(8.4 5.7)" fill="url(#n1c)"/><use href="#q1" transform="translate(974.4 106.5)rotate(79)scale(6.8 4.6)" fill="url(#n1b)"/><use href="#q0" transform="translate(957.7 137.5)rotate(322)scale(6.7 4.6)" fill="url(#n1b)"/><use href="#q4" transform="translate(1017.5 147.5)rotate(321)scale(7.3 4.3)" fill="url(#n1b)"/><use href="#q1" transform="translate(1038.4 105.1)rotate(339)scale(7.2 4)" fill="url(#n1b)"/><use href="#q0" transform="translate(1013 166.7)rotate(314)scale(6.1 4.1)" fill="url(#n1a)"/><use href="#q1" transform="translate(940.7 145.5)rotate(312)scale(6.6 5.1)" fill="url(#n1b)"/><use href="#q6" transform="translate(948.6 101)rotate(334)scale(6.7 5.8)" fill="url(#n1b)"/><use href="#q6" transform="translate(875.3 132.2)rotate(294)scale(5.4 4.3)" fill="url(#n1a)"/><use href="#q3" transform="translate(1034.1 135.7)rotate(39)scale(6.5 4.3)" fill="url(#n1b)"/><use href="#q5" transform="translate(913.6 116.2)rotate(17)scale(6.7 5.8)" fill="url(#n1a)"/><use href="#q6" transform="translate(921.5 100.1)rotate(272)scale(6.3 5)" fill="url(#n1b)"/><use href="#q2" transform="translate(1004.4 53.8)rotate(8)scale(7.1 5.5)" fill="url(#n1c)"/><use href="#q4" transform="translate(901 101.5)rotate(305)scale(8.3 4.7)" fill="url(#n1c)"/><use href="#q2" transform="translate(899.9 124.9)rotate(24)scale(6.1 5.6)" fill="url(#n1a)"/><use href="#q5" transform="translate(948.5 83.4)rotate(342)scale(5.7 5.4)" fill="url(#n1c)"/><use href="#q0" transform="translate(1031.3 169)rotate(34)scale(6.6 4.2)" fill="url(#n1b)"/><use href="#q4" transform="translate(923.8 54.5)rotate(59)scale(6.9 5)" fill="url(#n1a)"/><use href="#q2" transform="translate(996.7 132.7)rotate(34)scale(7.2 4.6)" fill="url(#n1b)"/><use href="#q1" transform="translate(1005.6 145.3)rotate(54)scale(7.8 5.5)" fill="url(#n1a)"/><use href="#q4" transform="translate(1009.9 125.6)rotate(16)scale(5.1 4.8)" fill="url(#n1a)"/><use href="#q5" transform="translate(955 124.7)rotate(40)scale(6.7 6)" fill="url(#n1c)"/><use href="#q1" transform="translate(942.2 129.5)rotate(83)scale(8.2 4.2)" fill="url(#n1b)"/><use href="#q2" transform="translate(932.4 154.3)rotate(323)scale(7.2 5.7)" fill="url(#n1b)"/><use href="#q6" transform="translate(956.4 158.9)rotate(85)scale(8.2 5.7)" fill="url(#n1a)"/><use href="#q6" transform="translate(1046.9 152.6)rotate(82)scale(7.2 5.6)" fill="url(#n1c)"/><use href="#q5" transform="translate(936 81.8)rotate(302)scale(6 4.2)" fill="url(#n1b)"/><use href="#q3" transform="translate(911 136.8)rotate(297)scale(7 4.7)" fill="url(#n1a)"/><use href="#q0" transform="translate(1026.9 91.4)rotate(293)scale(7.4 5.8)" fill="url(#n1c)"/><use href="#q0" transform="translate(913 152.8)rotate(6)scale(8.4 4.8)" fill="url(#n1a)"/><use href="#q1" transform="translate(945.4 167.4)rotate(18)scale(7.6 5.2)" fill="url(#n1b)"/><use href="#q6" transform="translate(877.8 161.6)rotate(282)scale(6.7 6.1)" fill="url(#n1a)"/><use href="#q3" transform="translate(906.2 55.3)rotate(297)scale(7.2 6.1)" fill="url(#n1a)"/><use href="#q0" transform="translate(1025.9 61.2)rotate(324)scale(5.1 4.5)" fill="url(#n1c)"/><use href="#q0" transform="translate(984.7 152.1)rotate(328)scale(7.1 4.2)" fill="url(#n1c)"/><use href="#q4" transform="translate(1016.6 74.4)rotate(303)scale(8.1 4.1)" fill="url(#n1b)"/><use href="#q4" transform="translate(951 64.4)rotate(26)scale(5.6 4.2)" fill="url(#n1c)"/><use href="#q1" transform="translate(926 112.6)rotate(20)scale(8.2 4.3)" fill="url(#n1b)"/><use href="#q5" transform="translate(1013.3 87.8)rotate(20)scale(8 5.3)" fill="url(#n1a)"/><use href="#q1" transform="translate(992.5 103.5)rotate(286)scale(5.5 5)" fill="url(#n1c)"/><use href="#q4" transform="translate(886.3 88.1)rotate(26)scale(5.1 5.9)" fill="url(#n1b)"/><use href="#q0" transform="translate(859.8 166.6)rotate(3)scale(5.4 4.6)" fill="url(#n1a)"/><use href="#q3" transform="translate(1020.7 119.3)rotate(292)scale(7.7 5.6)" fill="url(#n1c)"/><use href="#q3" transform="translate(900.9 67.3)rotate(287)scale(5.5 5.2)" fill="url(#n1b)"/><use href="#q2" transform="translate(886 141)rotate(63)scale(6.8 5)" fill="url(#n1b)"/><use href="#q0" transform="translate(881.5 99.4)rotate(314)scale(7.7 5.1)" fill="url(#n1b)"/><use href="#q3" transform="translate(922.6 72.3)rotate(346)scale(5.7 4.4)" fill="url(#n1c)"/><use href="#q6" transform="translate(904.6 90.3)rotate(309)scale(7.2 4.5)" fill="url(#n1b)"/><use href="#q1" transform="translate(995.6 62.6)rotate(286)scale(6.4 5.6)" fill="url(#n1b)"/><use href="#q2" transform="translate(1014 99.9)rotate(331)scale(5.9 4.6)" fill="url(#n1a)"/><use href="#q5" transform="translate(1049.7 118.5)rotate(313)scale(7 4.1)" fill="url(#n1b)"/><use href="#q1" transform="translate(1002.5 110.6)rotate(33)scale(5.6 5.8)" fill="url(#n1a)"/><use href="#q6" transform="translate(980.5 94.3)rotate(12)scale(5.1 4)" fill="url(#n1b)"/><use href="#q0" transform="translate(996.4 156.6)rotate(284)scale(5.6 6)" fill="url(#n1a)"/><use href="#q2" transform="translate(973 152.9)rotate(329)scale(8.3 4.4)" fill="url(#n1b)"/><use href="#q2" transform="translate(1040.1 74.9)rotate(12)scale(7.1 4)" fill="url(#n1b)"/><use href="#q3" transform="translate(887.6 73.2)rotate(331)scale(5.2 5.3)" fill="url(#n1b)"/><use href="#q5" transform="translate(998.8 74.1)rotate(288)scale(6.1 5.7)" fill="url(#n1a)"/><use href="#q5" transform="translate(923.2 141.2)rotate(283)scale(6.1 5.7)" fill="url(#n1c)"/><use href="#q3" transform="translate(975.9 80.7)rotate(343)scale(7.6 5.2)" fill="url(#n1a)"/><use href="#q1" transform="translate(866.8 153.7)rotate(23)scale(6 4.4)" fill="url(#n1c)"/><use href="#q5" transform="translate(867.4 142)rotate(287)scale(5.1 4)" fill="url(#n1a)"/><use href="#q5" transform="translate(970.3 127.6)rotate(43)scale(8.4 5.8)" fill="url(#n1c)"/><use href="#q4" transform="translate(911.2 79.8)rotate(324)scale(5.1 6.1)" fill="url(#n1c)"/><use href="#q6" transform="translate(968.9 141.6)rotate(73)scale(6.7 4.2)" fill="url(#n1c)"/><use href="#q5" transform="translate(1033 116.8)rotate(315)scale(5 5.3)" fill="url(#n1b)"/><use href="#q5" transform="translate(924.6 125.3)rotate(343)scale(6.1 4.1)" fill="url(#n1a)"/><use href="#q2" transform="translate(1013.6 62.1)rotate(357)scale(8.4 5.8)" fill="url(#n1a)"/></g><g filter="url(#bl07)"><use href="#q9" transform="translate(1002.9 157.5)rotate(340)scale(2.4 1.6)" fill="#2b2551"/><use href="#q7" transform="translate(1028.4 101.9)rotate(87)scale(2.5 1.6)" fill="#2b2551"/><use href="#q11" transform="translate(1042 127.9)rotate(68)scale(1.3 1.6)" fill="#2a234e"/><use href="#q7" transform="translate(950.5 152.3)rotate(35)scale(2.2 1.7)" fill="#28224b"/><use href="#q9" transform="translate(917.8 149.2)rotate(25)scale(2.8 1.9)" fill="#29224b"/><use href="#q12" transform="translate(938.2 157.6)rotate(282)scale(2.6 2)" fill="#28224b"/><use href="#q11" transform="translate(988.2 116.8)rotate(28)scale(1.8 1.3)" fill="#241f43"/><use href="#q13" transform="translate(1009 84.5)rotate(74)scale(1.4 1.4)" fill="#272149"/><use href="#q8" transform="translate(1048.7 95.8)rotate(297)scale(2.3 1.9)" fill="#2a244f"/><use href="#q9" transform="translate(967.4 76.6)rotate(27)scale(2.4 1.6)" fill="#241e43"/><use href="#q12" transform="translate(946.8 133.4)rotate(80)scale(1.3 1.5)" fill="#28224a"/><use href="#q10" transform="translate(1031.5 112.9)rotate(358)scale(2.1 1.7)" fill="#28224b"/><use href="#q9" transform="translate(965.6 135.8)rotate(74)scale(1.6 1.8)" fill="#2a244f"/><use href="#q13" transform="translate(924.3 97.1)rotate(1)scale(1.3 1.1)" fill="#2b2551"/><use href="#q7" transform="translate(895.6 152.7)rotate(344)scale(2.2 1.2)" fill="#2a234d"/><use href="#q7" transform="translate(1047.3 69.5)rotate(276)scale(1.2 1.5)" fill="#241f44"/><use href="#q7" transform="translate(912.6 71.6)rotate(284)scale(1.3 1.7)" fill="#28224a"/><use href="#q8" transform="translate(903 145.9)rotate(87)scale(1.4 1.9)" fill="#2b2450"/><use href="#q10" transform="translate(964.5 168.1)rotate(315)scale(2.1 1)" fill="#29234d"/><use href="#q9" transform="translate(1008.6 67.5)rotate(76)scale(2.2 2)" fill="#2a244f"/><use href="#q12" transform="translate(937.4 98.7)rotate(330)scale(1.3 1.6)" fill="#241e43"/><use href="#q11" transform="translate(1001.2 91.2)rotate(36)scale(2.4 1.8)" fill="#272148"/><use href="#q12" transform="translate(978.7 137.1)rotate(277)scale(2.8 1.4)" fill="#252045"/><use href="#q13" transform="translate(966.9 122)rotate(357)scale(2.6 1.7)" fill="#2b2450"/><use href="#q10" transform="translate(893 169)rotate(81)scale(2.6 1.8)" fill="#2b244f"/><use href="#q9" transform="translate(914.7 101)rotate(62)scale(2.7 1.4)" fill="#241e42"/><use href="#q13" transform="translate(1042.7 140.1)rotate(23)scale(2.2 1.2)" fill="#251f44"/><use href="#q10" transform="translate(862.7 143.6)rotate(291)scale(2.2 1.9)" fill="#262046"/><use href="#q11" transform="translate(1032.5 70.2)rotate(346)scale(2.1 1.7)" fill="#241f43"/><use href="#q12" transform="translate(869.5 160)rotate(57)scale(2 1.7)" fill="#28224a"/><use href="#q12" transform="translate(921.4 62.2)rotate(332)scale(1.3 2)" fill="#2b2551"/><use href="#q9" transform="translate(938.8 62.5)rotate(304)scale(2.4 1.2)" fill="#2a244e"/><use href="#q8" transform="translate(886.1 82.7)rotate(28)scale(1.5 1.2)" fill="#28224b"/><use href="#q7" transform="translate(902.8 122.9)rotate(0)scale(2 2)" fill="#29224c"/><use href="#q10" transform="translate(992 107.9)rotate(8)scale(1.4 1.7)" fill="#2b2450"/><use href="#q11" transform="translate(1008.6 150.3)rotate(76)scale(2.2 1.8)" fill="#241f44"/><use href="#q12" transform="translate(906.1 59.4)rotate(69)scale(2.7 1)" fill="#241e42"/><use href="#q7" transform="translate(1032.2 134.3)rotate(342)scale(2.3 1.1)" fill="#29234c"/><use href="#q10" transform="translate(955.3 80.8)rotate(55)scale(2.1 1.5)" fill="#262047"/><use href="#q7" transform="translate(883.5 98.9)rotate(56)scale(1.5 1.2)" fill="#241e42"/></g><g filter="url(#bl1)"><ellipse cx="997" cy="62" rx="13" ry="7" fill="#f4f0ee"/><ellipse cx="1018" cy="106" rx="15" ry="10" fill="#f6f2f0"/><ellipse cx="1044" cy="112" rx="6" ry="14" fill="#eee4e2"/><ellipse cx="1030" cy="68" rx="4" ry="5" fill="#f0e8e6"/></g><g filter="url(#bl07)"><ellipse cx="1013" cy="105" rx="4" ry="4.8" fill="#0a0a16"/><ellipse cx="1024" cy="106" rx="3.8" ry="4.2" fill="#2a2448"/><ellipse cx="877" cy="109" rx="4" ry="2.5" fill="#1a1420" transform="rotate(20 877 109)"/><ellipse cx="882" cy="113" rx="3" ry="2" fill="#1a1420"/></g><ellipse cx="1037" cy="157" rx="14" ry="13" fill="#6a3012" opacity="0.7" filter="url(#bl3)"/><path d="M890.3 52.4L848 172" stroke="#ff0000" stroke-width="4" stroke-dasharray="18.5 13"/></g><rect x="806.6" y="53" width="243.1" height="120.3" fill="none" stroke="#3a3a3a" stroke-width="1"/>
<clipPath id="cb2"><rect x="1058.6" y="53" width="242.6" height="120.3"/></clipPath><g clip-path="url(#cb2)"><rect x="1058.6" y="53" width="242.6" height="120.3" fill="#d8d5e2"/><g filter="url(#bl1)" opacity="0.6"><use href="#q9" transform="translate(1290.5 167)rotate(71)scale(1.9 2.1)" fill="#edebf2"/><use href="#q8" transform="translate(1072.3 63.2)rotate(283)scale(1.7 1.9)" fill="#e9e7ee"/><use href="#q11" transform="translate(1261.3 141.5)rotate(285)scale(1.7 2)" fill="#f5f3fa"/><use href="#q10" transform="translate(1221.1 90.1)rotate(3)scale(2.6 1.3)" fill="#efedf4"/><use href="#q12" transform="translate(1205.6 126)rotate(298)scale(2.2 2.1)" fill="#e7e5ec"/><use href="#q10" transform="translate(1199.6 72.1)rotate(12)scale(2.1 2.4)" fill="#efedf4"/><use href="#q10" transform="translate(1163.1 100.3)rotate(57)scale(3.1 1.9)" fill="#f6f3fb"/><use href="#q7" transform="translate(1234 172.7)rotate(294)scale(1.8 1.9)" fill="#eceaf1"/><use href="#q12" transform="translate(1288.9 118.5)rotate(298)scale(1.9 1.4)" fill="#edebf2"/><use href="#q9" transform="translate(1166.5 85.3)rotate(354)scale(1.9 1.7)" fill="#edebf2"/><use href="#q10" transform="translate(1067.3 56.3)rotate(23)scale(2.8 1.6)" fill="#e6e4ea"/><use href="#q11" transform="translate(1171.4 91.3)rotate(325)scale(2.6 1.2)" fill="#f5f3fa"/><use href="#q10" transform="translate(1150.8 160.3)rotate(319)scale(2.3 1.5)" fill="#eeecf3"/><use href="#q11" transform="translate(1186.1 120.4)rotate(354)scale(2.1 2.2)" fill="#f2f0f7"/><use href="#q9" transform="translate(1115.9 55.9)rotate(322)scale(2.9 1.4)" fill="#f7f5fc"/><use href="#q12" transform="translate(1137.5 69.4)rotate(71)scale(2.2 1.8)" fill="#f3f1f8"/><use href="#q11" transform="translate(1182.4 173.1)rotate(348)scale(2.6 1.7)" fill="#eeecf3"/><use href="#q11" transform="translate(1222.2 74.9)rotate(84)scale(2.3 2.4)" fill="#eceaf1"/><use href="#q11" transform="translate(1275.4 148.9)rotate(43)scale(3.1 2.1)" fill="#f6f4fc"/><use href="#q10" transform="translate(1236.8 162.1)rotate(29)scale(2.1 1.4)" fill="#f1eff6"/><use href="#q9" transform="translate(1243.7 148)rotate(39)scale(2.3 2)" fill="#e8e6ed"/><use href="#q13" transform="translate(1144.4 171)rotate(343)scale(3 1.9)" fill="#f1eff6"/><use href="#q11" transform="translate(1292 72.4)rotate(327)scale(3.1 1.5)" fill="#e5e3ea"/><use href="#q9" transform="translate(1241.5 139)rotate(291)scale(1.6 1.7)" fill="#f7f5fc"/><use href="#q9" transform="translate(1170.5 116.8)rotate(344)scale(2 1.6)" fill="#f3f1f8"/><use href="#q8" transform="translate(1177.5 164.3)rotate(357)scale(2.8 1.8)" fill="#f1eff6"/><use href="#q10" transform="translate(1180.1 153)rotate(274)scale(2.3 1.3)" fill="#e6e4ea"/><use href="#q12" transform="translate(1144.5 159.2)rotate(272)scale(1.7 2)" fill="#edebf2"/><use href="#q11" transform="translate(1276.9 108.5)rotate(67)scale(3 2.4)" fill="#f1eff6"/><use href="#q13" transform="translate(1196.3 163.7)rotate(329)scale(1.8 2.1)" fill="#ebe9f0"/><use href="#q9" transform="translate(1234.2 111.5)rotate(40)scale(2.9 1.9)" fill="#eeecf3"/><use href="#q9" transform="translate(1112.4 92.1)rotate(337)scale(1.6 1.5)" fill="#eceaf1"/><use href="#q12" transform="translate(1228.3 73)rotate(314)scale(3.2 1.4)" fill="#f4f2fa"/><use href="#q9" transform="translate(1278.9 85.3)rotate(355)scale(2.6 1.5)" fill="#edebf2"/><use href="#q10" transform="translate(1279.7 90.2)rotate(300)scale(2.5 1.8)" fill="#edebf2"/><use href="#q11" transform="translate(1290.9 138)rotate(31)scale(2.8 2)" fill="#f3f1f8"/><use href="#q8" transform="translate(1180.9 115.3)rotate(20)scale(3.1 2.2)" fill="#f4f2f9"/><use href="#q10" transform="translate(1216.6 123.7)rotate(310)scale(3.1 2.4)" fill="#f1eff6"/><use href="#q13" transform="translate(1134.3 78)rotate(304)scale(2.8 1.4)" fill="#edebf1"/><use href="#q9" transform="translate(1182.8 165.4)rotate(291)scale(1.5 1.6)" fill="#e6e4ea"/><use href="#q13" transform="translate(1209.8 62.1)rotate(82)scale(2.3 1.3)" fill="#e8e6ed"/><use href="#q9" transform="translate(1257.6 140.3)rotate(73)scale(3 2.1)" fill="#f1eff6"/><use href="#q11" transform="translate(1278.8 76)rotate(284)scale(1.8 1.8)" fill="#f4f2fa"/><use href="#q11" transform="translate(1239.3 60.1)rotate(74)scale(2.7 1.6)" fill="#efedf4"/><use href="#q10" transform="translate(1217 85.9)rotate(293)scale(1.9 1.7)" fill="#f0eef5"/><use href="#q7" transform="translate(1113.6 158.3)rotate(35)scale(3.1 2.2)" fill="#eeecf3"/><use href="#q13" transform="translate(1084.4 115.8)rotate(21)scale(1.8 1.5)" fill="#f1eff6"/><use href="#q8" transform="translate(1265.8 82.5)rotate(305)scale(2.7 1.3)" fill="#f5f2fa"/><use href="#q11" transform="translate(1109.7 158.9)rotate(289)scale(1.5 1.3)" fill="#f4f2f9"/><use href="#q8" transform="translate(1161.2 139.3)rotate(82)scale(2.9 2.2)" fill="#f3f1f8"/><use href="#q11" transform="translate(1066.3 96.6)rotate(41)scale(2.1 2.3)" fill="#e9e7ee"/><use href="#q7" transform="translate(1100.3 133.9)rotate(332)scale(2.8 2.1)" fill="#e8e6ed"/><use href="#q10" transform="translate(1078.7 167.8)rotate(295)scale(3 2.1)" fill="#f3f1f8"/><use href="#q12" transform="translate(1064.7 140.7)rotate(324)scale(2.7 1.8)" fill="#e6e4eb"/><use href="#q8" transform="translate(1063.7 83.8)rotate(272)scale(1.8 2.1)" fill="#e7e5eb"/><use href="#q11" transform="translate(1255.9 71.9)rotate(299)scale(2.1 2.2)" fill="#ebe9f0"/><use href="#q8" transform="translate(1103.2 136.2)rotate(294)scale(2.7 2.3)" fill="#f8f6fd"/><use href="#q7" transform="translate(1152.1 58.2)rotate(312)scale(2.5 2.1)" fill="#ebe9f0"/><use href="#q7" transform="translate(1298.8 71.2)rotate(308)scale(3 2)" fill="#f1eff6"/><use href="#q9" transform="translate(1207.9 142.3)rotate(76)scale(2.9 1.6)" fill="#f1eff6"/><use href="#q8" transform="translate(1086 93.6)rotate(292)scale(3.1 1.8)" fill="#f5f3fb"/><use href="#q8" transform="translate(1066.1 107)rotate(346)scale(2.7 1.7)" fill="#f4f2f9"/><use href="#q11" transform="translate(1244.4 142)rotate(36)scale(2.6 1.9)" fill="#e7e5ec"/><use href="#q11" transform="translate(1277.4 143.9)rotate(302)scale(2.9 2.1)" fill="#f2f0f7"/><use href="#q8" transform="translate(1267.8 137.9)rotate(80)scale(2.6 1.3)" fill="#e7e5ec"/><use href="#q8" transform="translate(1173.3 80.1)rotate(344)scale(1.9 1.7)" fill="#e7e5ec"/><use href="#q13" transform="translate(1083.4 106.9)rotate(274)scale(1.6 1.3)" fill="#e7e5ec"/><use href="#q8" transform="translate(1270.8 68.3)rotate(331)scale(1.9 1.9)" fill="#e9e7ee"/><use href="#q10" transform="translate(1200.5 100.3)rotate(41)scale(1.8 1.4)" fill="#f7f5fc"/><use href="#q7" transform="translate(1183.5 70.3)rotate(325)scale(1.8 1.3)" fill="#edebf2"/><use href="#q10" transform="translate(1291.4 84.2)rotate(288)scale(1.7 1.2)" fill="#e6e4ea"/><use href="#q8" transform="translate(1205.6 103.5)rotate(339)scale(1.5 2.2)" fill="#ebe9f0"/><use href="#q11" transform="translate(1063 120.1)rotate(55)scale(1.8 2.2)" fill="#f0eef5"/><use href="#q13" transform="translate(1092.7 59.8)rotate(11)scale(3.1 1.6)" fill="#eeecf3"/><use href="#q13" transform="translate(1066.7 72.4)rotate(87)scale(2.9 2.1)" fill="#e8e6ed"/><use href="#q12" transform="translate(1081.9 129.4)rotate(353)scale(2.2 2.1)" fill="#edebf2"/><use href="#q11" transform="translate(1285.2 172.6)rotate(272)scale(2 1.3)" fill="#f7f5fc"/><use href="#q10" transform="translate(1115 106.5)rotate(60)scale(2.3 1.3)" fill="#efedf4"/><use href="#q7" transform="translate(1119.4 124.1)rotate(83)scale(2.4 1.5)" fill="#eceaf1"/><use href="#q8" transform="translate(1210 149.3)rotate(349)scale(2.7 2.4)" fill="#f8f5fd"/><use href="#q13" transform="translate(1230.7 83.9)rotate(300)scale(2.4 2.3)" fill="#e6e4eb"/><use href="#q8" transform="translate(1161.2 116.3)rotate(287)scale(2.3 2.1)" fill="#eceaf1"/><use href="#q10" transform="translate(1059.8 57.3)rotate(278)scale(1.9 2.1)" fill="#f0eef5"/><use href="#q13" transform="translate(1157.8 66.4)rotate(89)scale(2.4 1.6)" fill="#f3f1f8"/><use href="#q8" transform="translate(1234.2 82)rotate(307)scale(1.9 2.2)" fill="#f8f6fd"/><use href="#q7" transform="translate(1082.8 74.9)rotate(321)scale(2.4 1.5)" fill="#eae8ef"/><use href="#q7" transform="translate(1114.8 79.1)rotate(2)scale(2.6 2.4)" fill="#f3f1f8"/><use href="#q12" transform="translate(1184.9 108.9)rotate(329)scale(2.8 1.4)" fill="#ebe9ef"/><use href="#q9" transform="translate(1133.7 130.2)rotate(351)scale(1.6 1.6)" fill="#e9e7ee"/><use href="#q7" transform="translate(1199.6 59.2)rotate(31)scale(3.2 1.7)" fill="#f6f4fb"/><use href="#q12" transform="translate(1102.6 64.3)rotate(27)scale(2.7 1.2)" fill="#e8e6ed"/><use href="#q12" transform="translate(1253.3 97.1)rotate(34)scale(2.7 1.4)" fill="#ebe9f0"/><use href="#q7" transform="translate(1206.7 87.8)rotate(280)scale(3.2 2.1)" fill="#f6f4fb"/><use href="#q12" transform="translate(1297.2 97.8)rotate(274)scale(3.1 1.9)" fill="#eceaf1"/><use href="#q13" transform="translate(1063.2 135.4)rotate(356)scale(2.6 2.1)" fill="#f7f5fc"/><use href="#q8" transform="translate(1083.1 89.8)rotate(289)scale(2.5 1.9)" fill="#e5e3ea"/><use href="#q11" transform="translate(1262.5 133.9)rotate(82)scale(1.5 1.8)" fill="#f5f3fa"/><use href="#q11" transform="translate(1062.4 107.3)rotate(316)scale(1.6 1.2)" fill="#e5e3ea"/><use href="#q12" transform="translate(1158.2 111.4)rotate(320)scale(1.5 1.6)" fill="#eceaf1"/><use href="#q8" transform="translate(1109.1 123.8)rotate(272)scale(2.6 1.4)" fill="#e9e7ee"/><use href="#q9" transform="translate(1076.5 87.2)rotate(7)scale(3 2.1)" fill="#e6e4ea"/><use href="#q8" transform="translate(1149.1 165.5)rotate(279)scale(1.7 1.9)" fill="#f5f3fa"/><use href="#q7" transform="translate(1077.2 143.8)rotate(72)scale(2.7 1.4)" fill="#e5e3ea"/><use href="#q12" transform="translate(1105.3 121.8)rotate(321)scale(2.5 2)" fill="#f2f0f7"/><use href="#q7" transform="translate(1153.6 108.7)rotate(51)scale(1.8 1.4)" fill="#eae8ef"/><use href="#q7" transform="translate(1241.4 100.5)rotate(308)scale(2.1 2)" fill="#eceaf1"/><use href="#q9" transform="translate(1088.1 67.6)rotate(11)scale(1.6 2.2)" fill="#f1eff6"/><use href="#q13" transform="translate(1078.1 155.3)rotate(327)scale(2.4 2.3)" fill="#f2f0f7"/><use href="#q11" transform="translate(1214.1 168.4)rotate(356)scale(2 1.3)" fill="#f2eff7"/><use href="#q11" transform="translate(1226.6 56)rotate(73)scale(2.5 1.5)" fill="#edebf2"/><use href="#q12" transform="translate(1218.5 146.5)rotate(288)scale(2.2 2)" fill="#efedf4"/><use href="#q7" transform="translate(1145.4 108)rotate(24)scale(2.5 2.3)" fill="#e6e4eb"/><use href="#q9" transform="translate(1252.4 85.4)rotate(298)scale(2.5 1.8)" fill="#e9e7ed"/><use href="#q9" transform="translate(1290.2 149.8)rotate(79)scale(2.4 1.4)" fill="#e7e5ec"/><use href="#q9" transform="translate(1284.7 153.6)rotate(16)scale(2 1.4)" fill="#eeecf3"/><use href="#q8" transform="translate(1130.6 80.9)rotate(59)scale(3.1 2.1)" fill="#e5e3ea"/><use href="#q8" transform="translate(1177.2 84.2)rotate(78)scale(2 2.1)" fill="#f3f1f9"/><use href="#q10" transform="translate(1162.3 134.7)rotate(275)scale(1.9 1.3)" fill="#eceaf1"/><use href="#q13" transform="translate(1281.4 123.5)rotate(22)scale(2.5 1.9)" fill="#f7f5fc"/><use href="#q8" transform="translate(1257 64.5)rotate(293)scale(3 1.2)" fill="#f6f4fb"/><use href="#q11" transform="translate(1094.1 103.1)rotate(38)scale(2.9 1.3)" fill="#efedf4"/><use href="#q11" transform="translate(1275.8 171.9)rotate(86)scale(3 1.3)" fill="#e8e6ed"/><use href="#q7" transform="translate(1215.8 68.5)rotate(286)scale(2 2.1)" fill="#f2f0f7"/><use href="#q10" transform="translate(1221.3 134.9)rotate(73)scale(3.1 2)" fill="#f4f2f9"/><use href="#q8" transform="translate(1165.1 116)rotate(15)scale(2.3 2)" fill="#f5f3fa"/><use href="#q9" transform="translate(1289.1 143.9)rotate(283)scale(2.9 1.6)" fill="#f6f4fb"/><use href="#q7" transform="translate(1229.2 101.6)rotate(291)scale(2.8 2.4)" fill="#f7f5fc"/><use href="#q9" transform="translate(1300 147.2)rotate(63)scale(2.2 2.2)" fill="#f8f6fd"/><use href="#q8" transform="translate(1165.6 56.5)rotate(329)scale(2.5 1.4)" fill="#e9e7ee"/><use href="#q13" transform="translate(1203 159.1)rotate(291)scale(1.8 1.8)" fill="#eceaf1"/><use href="#q12" transform="translate(1102.4 114.4)rotate(353)scale(2 2.2)" fill="#edebf2"/><use href="#q11" transform="translate(1175.6 101.7)rotate(34)scale(3.1 2.3)" fill="#eae8ee"/><use href="#q12" transform="translate(1231 165.7)rotate(65)scale(2.2 2)" fill="#e6e4eb"/><use href="#q9" transform="translate(1229.7 109.8)rotate(319)scale(2.9 2.4)" fill="#eeecf3"/><use href="#q13" transform="translate(1292 92.8)rotate(87)scale(2.8 2.3)" fill="#f3f1f8"/><use href="#q13" transform="translate(1239.5 132.2)rotate(34)scale(2.9 1.4)" fill="#f6f3fb"/><use href="#q11" transform="translate(1243.4 155.5)rotate(294)scale(1.5 1.8)" fill="#f6f4fb"/><use href="#q7" transform="translate(1113.2 127.7)rotate(295)scale(2.7 2)" fill="#f1eff6"/><use href="#q11" transform="translate(1156.3 133.2)rotate(73)scale(3.1 1.2)" fill="#f3f1f8"/><use href="#q7" transform="translate(1295.7 129.4)rotate(0)scale(2.8 1.4)" fill="#eceaf1"/><use href="#q10" transform="translate(1231.2 159.3)rotate(19)scale(2.7 2.4)" fill="#e8e6ed"/><use href="#q13" transform="translate(1216.3 151.2)rotate(308)scale(2 1.2)" fill="#eae8ef"/><use href="#q12" transform="translate(1062.8 166.5)rotate(33)scale(1.9 2.2)" fill="#f6f4fb"/><use href="#q10" transform="translate(1235.6 126)rotate(81)scale(2.3 2.4)" fill="#e6e4ea"/><use href="#q10" transform="translate(1278.2 159.4)rotate(80)scale(2.9 1.9)" fill="#e9e7ee"/><use href="#q8" transform="translate(1083 151.1)rotate(59)scale(1.7 1.8)" fill="#e8e6ed"/><use href="#q11" transform="translate(1244.7 77)rotate(38)scale(2 2.3)" fill="#f5f3fa"/><use href="#q11" transform="translate(1239.2 123.5)rotate(50)scale(1.8 1.6)" fill="#f1eff6"/><use href="#q11" transform="translate(1105.1 149.7)rotate(329)scale(2 2.2)" fill="#f0eef5"/><use href="#q9" transform="translate(1092 126.7)rotate(315)scale(2.6 1.3)" fill="#f0eef5"/><use href="#q11" transform="translate(1195.9 109.2)rotate(55)scale(2.7 1.3)" fill="#e9e7ee"/><use href="#q10" transform="translate(1108.3 169.3)rotate(273)scale(1.6 1.6)" fill="#f2f0f7"/><use href="#q9" transform="translate(1076.3 53.4)rotate(16)scale(2.5 2)" fill="#edebf2"/><use href="#q9" transform="translate(1176.4 153.7)rotate(289)scale(1.8 1.8)" fill="#f5f3fa"/><use href="#q13" transform="translate(1176.3 134.2)rotate(32)scale(2.1 2.1)" fill="#eeecf3"/><use href="#q11" transform="translate(1139.8 85.1)rotate(20)scale(1.9 1.9)" fill="#e5e3ea"/><use href="#q11" transform="translate(1180.6 56.3)rotate(344)scale(2.8 2.3)" fill="#edebf2"/><use href="#q7" transform="translate(1100.7 143.3)rotate(346)scale(2.3 1.9)" fill="#f6f4fb"/><use href="#q8" transform="translate(1248.9 101.7)rotate(300)scale(1.9 1.2)" fill="#f1eff6"/><use href="#q9" transform="translate(1222.4 147.7)rotate(69)scale(1.9 2.2)" fill="#efedf4"/><use href="#q9" transform="translate(1098 98.9)rotate(290)scale(3.1 1.6)" fill="#f2f0f7"/><use href="#q11" transform="translate(1293.2 97.1)rotate(297)scale(1.8 2)" fill="#eae8ef"/><use href="#q11" transform="translate(1189.1 99)rotate(318)scale(2.4 2.1)" fill="#f0eef5"/><use href="#q7" transform="translate(1166 157.7)rotate(354)scale(2.8 2.3)" fill="#f4f2fa"/><use href="#q10" transform="translate(1176 117.8)rotate(4)scale(2.2 2.4)" fill="#e7e5ec"/><use href="#q10" transform="translate(1280.5 62.2)rotate(14)scale(2.3 2.2)" fill="#f3f1f8"/><use href="#q13" transform="translate(1258.6 89.6)rotate(319)scale(2.3 2.2)" fill="#f6f4fc"/><use href="#q10" transform="translate(1217.1 100.3)rotate(59)scale(2.3 1.9)" fill="#eceaf1"/><use href="#q13" transform="translate(1262.6 64.2)rotate(59)scale(3 1.4)" fill="#e5e3ea"/><use href="#q7" transform="translate(1212.2 100.1)rotate(323)scale(2.6 2.1)" fill="#f7f5fd"/><use href="#q12" transform="translate(1187.3 155.4)rotate(342)scale(2.6 2.1)" fill="#eae8ef"/><use href="#q7" transform="translate(1252.2 128.6)rotate(19)scale(2.2 1.8)" fill="#eceaf1"/><use href="#q8" transform="translate(1169.6 80.9)rotate(272)scale(2 2.2)" fill="#e5e3ea"/><use href="#q9" transform="translate(1125.9 168.2)rotate(305)scale(2.1 1.5)" fill="#f2f0f7"/><use href="#q10" transform="translate(1150.6 96.9)rotate(274)scale(3 1.9)" fill="#e7e5ec"/><use href="#q10" transform="translate(1135.8 62.3)rotate(295)scale(2.6 1.7)" fill="#e9e7ee"/><use href="#q7" transform="translate(1169.6 73)rotate(346)scale(3.1 2)" fill="#edebf2"/><use href="#q10" transform="translate(1275.6 163.9)rotate(34)scale(1.9 2.3)" fill="#f1eff6"/><use href="#q10" transform="translate(1165.8 129.9)rotate(56)scale(2.2 2)" fill="#f6f4fc"/><use href="#q8" transform="translate(1284.1 92.2)rotate(58)scale(2.3 2)" fill="#f1eff6"/><use href="#q9" transform="translate(1082.8 81.6)rotate(86)scale(2.7 2.2)" fill="#eceaf1"/><use href="#q12" transform="translate(1251.5 81.1)rotate(327)scale(2.4 2.3)" fill="#f0eef5"/><use href="#q8" transform="translate(1155.7 152.1)rotate(60)scale(2.2 1.3)" fill="#f7f5fc"/><use href="#q12" transform="translate(1283.2 113.5)rotate(311)scale(2.1 2.2)" fill="#e9e7ee"/><use href="#q13" transform="translate(1226 167.1)rotate(5)scale(1.6 1.8)" fill="#ebe9f0"/><use href="#q13" transform="translate(1238.7 143.3)rotate(292)scale(1.7 1.4)" fill="#efedf4"/><use href="#q8" transform="translate(1269.5 165.5)rotate(49)scale(2.3 2)" fill="#ebe9f0"/><use href="#q8" transform="translate(1241.4 170.8)rotate(346)scale(2.3 1.2)" fill="#efedf4"/><use href="#q10" transform="translate(1129.3 127.9)rotate(328)scale(3.1 1.5)" fill="#edebf2"/><use href="#q12" transform="translate(1221.3 97.2)rotate(25)scale(1.7 1.5)" fill="#f2f0f7"/><use href="#q13" transform="translate(1154.5 74)rotate(337)scale(2.6 1.4)" fill="#f5f2fa"/><use href="#q10" transform="translate(1174.2 160.5)rotate(83)scale(2.4 2.2)" fill="#f0eef5"/><use href="#q12" transform="translate(1103.8 168.6)rotate(319)scale(2.1 1.5)" fill="#e8e6ec"/><use href="#q7" transform="translate(1089.4 56.4)rotate(313)scale(2 1.9)" fill="#f0eef5"/><use href="#q7" transform="translate(1143.7 96.2)rotate(57)scale(2.7 2)" fill="#f4f2f9"/><use href="#q9" transform="translate(1243.4 105.5)rotate(273)scale(3 1.4)" fill="#f0eef5"/><use href="#q10" transform="translate(1190.3 81.5)rotate(16)scale(1.8 1.4)" fill="#ebe9f0"/><use href="#q11" transform="translate(1260.8 99.9)rotate(23)scale(2.1 1.9)" fill="#f2f0f7"/><use href="#q12" transform="translate(1095.1 91.1)rotate(73)scale(2.8 2.3)" fill="#eceaf1"/><use href="#q9" transform="translate(1093.1 77.6)rotate(30)scale(1.8 1.4)" fill="#eeecf3"/><use href="#q12" transform="translate(1119.5 103.6)rotate(288)scale(1.9 1.6)" fill="#edebf2"/><use href="#q8" transform="translate(1119.3 94.2)rotate(306)scale(1.7 2)" fill="#f0eef5"/><use href="#q11" transform="translate(1118.4 81.9)rotate(310)scale(2.9 2)" fill="#e8e6ec"/><use href="#q10" transform="translate(1206.7 93.5)rotate(305)scale(1.6 2.3)" fill="#eceaf1"/><use href="#q11" transform="translate(1149 145.4)rotate(303)scale(2.1 1.5)" fill="#f3f1f8"/><use href="#q8" transform="translate(1073.6 70.3)rotate(287)scale(2 1.9)" fill="#efedf4"/><use href="#q10" transform="translate(1265 104.7)rotate(59)scale(2.1 1.5)" fill="#eae8ee"/><use href="#q10" transform="translate(1247.5 69)rotate(33)scale(2.7 1.5)" fill="#f2f0f7"/><use href="#q9" transform="translate(1140.6 145.4)rotate(89)scale(2.4 2)" fill="#f7f5fc"/><use href="#q12" transform="translate(1300.6 100.2)rotate(77)scale(2.4 1.9)" fill="#f7f5fc"/><use href="#q10" transform="translate(1173.5 127.5)rotate(277)scale(2.7 1.9)" fill="#edebf2"/><use href="#q10" transform="translate(1135.5 153.8)rotate(85)scale(3.1 2.4)" fill="#e7e5ec"/><use href="#q8" transform="translate(1189.3 171.5)rotate(51)scale(2.3 2)" fill="#f2f0f7"/><use href="#q11" transform="translate(1298.5 154.1)rotate(60)scale(2.8 1.7)" fill="#f1eff6"/><use href="#q11" transform="translate(1168.9 102.5)rotate(40)scale(1.9 2)" fill="#f0eef5"/><use href="#q11" transform="translate(1185.9 58.6)rotate(43)scale(2.8 1.7)" fill="#f6f4fc"/><use href="#q7" transform="translate(1084.9 172.7)rotate(43)scale(2.6 1.4)" fill="#f1eff6"/><use href="#q8" transform="translate(1089.7 165.8)rotate(343)scale(1.6 1.7)" fill="#f5f3fa"/><use href="#q11" transform="translate(1223.5 163.1)rotate(271)scale(2 1.4)" fill="#edebf2"/><use href="#q7" transform="translate(1252.2 54.1)rotate(324)scale(1.8 2.1)" fill="#e8e6ec"/><use href="#q13" transform="translate(1100.6 70.7)rotate(306)scale(1.8 1.5)" fill="#ebeaf0"/><use href="#q11" transform="translate(1221.1 64.1)rotate(41)scale(1.9 1.3)" fill="#f3f1f9"/><use href="#q8" transform="translate(1070.7 161.1)rotate(4)scale(1.8 2.4)" fill="#eae8ef"/><use href="#q10" transform="translate(1117.2 110.9)rotate(314)scale(2.4 2.4)" fill="#f2f0f7"/><use href="#q7" transform="translate(1194.2 69.7)rotate(325)scale(1.6 1.8)" fill="#eeecf3"/><use href="#q13" transform="translate(1180.4 60.3)rotate(285)scale(1.8 1.9)" fill="#e6e4ea"/><use href="#q11" transform="translate(1107 163.5)rotate(292)scale(2.5 2.1)" fill="#eceaf1"/><use href="#q11" transform="translate(1258 115.9)rotate(354)scale(2.7 1.3)" fill="#e6e4eb"/><use href="#q13" transform="translate(1224 158.3)rotate(298)scale(2.6 1.8)" fill="#eeecf3"/><use href="#q8" transform="translate(1092.6 112.2)rotate(356)scale(3.1 1.9)" fill="#f4f2f9"/><use href="#q9" transform="translate(1084.9 78.5)rotate(75)scale(2.5 1.6)" fill="#f5f3fa"/><use href="#q12" transform="translate(1071.5 78.9)rotate(63)scale(3 1.3)" fill="#f6f4fb"/><use href="#q8" transform="translate(1150.6 127.9)rotate(50)scale(1.7 1.3)" fill="#e9e7ee"/><use href="#q8" transform="translate(1266.9 161.8)rotate(333)scale(2.1 2)" fill="#f1eff7"/><use href="#q13" transform="translate(1281.1 72.6)rotate(58)scale(1.7 1.9)" fill="#e8e6ed"/><use href="#q8" transform="translate(1210.7 78.3)rotate(68)scale(3.2 1.2)" fill="#eae8ef"/><use href="#q12" transform="translate(1150.1 88.8)rotate(56)scale(2.7 1.7)" fill="#ebe9f0"/><use href="#q13" transform="translate(1163.1 104.5)rotate(69)scale(2.3 1.4)" fill="#f0eef5"/><use href="#q9" transform="translate(1255.5 120.7)rotate(316)scale(2.9 1.7)" fill="#f3f1f9"/><use href="#q9" transform="translate(1173.3 87.2)rotate(353)scale(1.8 2.3)" fill="#e6e5eb"/><use href="#q10" transform="translate(1114.2 137.6)rotate(284)scale(3.1 2.2)" fill="#eceaf0"/><use href="#q13" transform="translate(1228.2 132.2)rotate(25)scale(2.4 2)" fill="#eceaf1"/><use href="#q12" transform="translate(1107.6 76.4)rotate(30)scale(2.3 1.2)" fill="#f8f6fd"/><use href="#q12" transform="translate(1199.3 130.6)rotate(316)scale(2.4 1.4)" fill="#eae8ef"/><use href="#q12" transform="translate(1070.2 145.9)rotate(293)scale(2.8 2.2)" fill="#eceaf1"/><use href="#q9" transform="translate(1258.3 153.5)rotate(55)scale(1.7 1.8)" fill="#edebf2"/><use href="#q13" transform="translate(1203.7 57.6)rotate(342)scale(2 1.2)" fill="#e6e4eb"/><use href="#q8" transform="translate(1106.1 66)rotate(60)scale(2.8 2)" fill="#eeecf3"/><use href="#q11" transform="translate(1212.9 118.5)rotate(344)scale(2.9 1.3)" fill="#f6f3fb"/><use href="#q13" transform="translate(1295.9 161.2)rotate(274)scale(2.9 1.7)" fill="#edebf2"/><use href="#q10" transform="translate(1109.3 152.1)rotate(272)scale(1.6 1.4)" fill="#eeecf3"/><use href="#q12" transform="translate(1277.5 121.4)rotate(40)scale(2.9 1.5)" fill="#f3f1f8"/><use href="#q11" transform="translate(1158.7 103)rotate(44)scale(3.1 2.1)" fill="#f1eff6"/><use href="#q13" transform="translate(1233.4 107.8)rotate(36)scale(2.6 1.3)" fill="#f0eef5"/><use href="#q9" transform="translate(1139.4 117.7)rotate(75)scale(1.8 1.8)" fill="#e9e7ee"/><use href="#q9" transform="translate(1153.8 116.2)rotate(298)scale(2.3 2.1)" fill="#e6e4eb"/><use href="#q9" transform="translate(1282.7 77.2)rotate(279)scale(2 1.2)" fill="#eceaf0"/><use href="#q9" transform="translate(1245.9 136.4)rotate(38)scale(2.1 1.8)" fill="#f6f3fb"/><use href="#q9" transform="translate(1249.3 106.9)rotate(310)scale(2.5 2.4)" fill="#e5e3ea"/><use href="#q13" transform="translate(1168.9 94.6)rotate(1)scale(2.2 1.9)" fill="#eeecf2"/><use href="#q10" transform="translate(1104.9 110.3)rotate(68)scale(2.6 1.2)" fill="#f5f3fa"/><use href="#q13" transform="translate(1197.7 90.2)rotate(48)scale(2.1 1.7)" fill="#ebe9f0"/><use href="#q10" transform="translate(1099.9 125.8)rotate(39)scale(2.5 1.5)" fill="#f5f3fa"/><use href="#q12" transform="translate(1208 132.2)rotate(89)scale(2 1.5)" fill="#efedf4"/><use href="#q7" transform="translate(1273.3 135.1)rotate(54)scale(2.4 2.3)" fill="#f2f0f7"/><use href="#q11" transform="translate(1061.7 157.7)rotate(325)scale(2.9 2)" fill="#edebf2"/><use href="#q13" transform="translate(1106.6 90.7)rotate(87)scale(2.3 2.1)" fill="#eae8ef"/><use href="#q12" transform="translate(1136 83.8)rotate(7)scale(2.3 1.3)" fill="#f0eef5"/><use href="#q11" transform="translate(1234.3 94.2)rotate(324)scale(3.1 2.2)" fill="#f6f4fb"/><use href="#q11" transform="translate(1260.8 55.2)rotate(18)scale(2.4 2.3)" fill="#f6f4fb"/><use href="#q7" transform="translate(1201.3 163)rotate(22)scale(2.2 2.4)" fill="#e6e4eb"/><use href="#q10" transform="translate(1215.1 112.6)rotate(308)scale(3.2 1.7)" fill="#e9e7ee"/><use href="#q9" transform="translate(1252.9 163.2)rotate(64)scale(2.9 1.5)" fill="#ebe9f0"/><use href="#q8" transform="translate(1107.8 137.6)rotate(4)scale(2.2 1.2)" fill="#f2eff7"/><use href="#q12" transform="translate(1270.7 124.1)rotate(27)scale(2.3 2.2)" fill="#f0eef5"/><use href="#q10" transform="translate(1229 116)rotate(40)scale(3.1 1.9)" fill="#e9e7ee"/><use href="#q12" transform="translate(1073.6 133.1)rotate(14)scale(3.2 1.4)" fill="#e8e6ed"/><use href="#q12" transform="translate(1110.8 80)rotate(48)scale(3 2.3)" fill="#eceaf1"/><use href="#q9" transform="translate(1187.8 151.3)rotate(314)scale(2 1.6)" fill="#f5f3fa"/><use href="#q9" transform="translate(1222.2 59.5)rotate(279)scale(2 1.2)" fill="#ebe9f0"/><use href="#q10" transform="translate(1183.5 65.1)rotate(38)scale(2.9 1.6)" fill="#f7f5fd"/><use href="#q11" transform="translate(1248.4 122.9)rotate(310)scale(2.7 2.1)" fill="#f3f1f9"/><use href="#q13" transform="translate(1229.6 141.4)rotate(11)scale(1.6 1.8)" fill="#f5f3fa"/><use href="#q7" transform="translate(1112.2 56)rotate(64)scale(2.9 1.4)" fill="#efedf4"/><use href="#q9" transform="translate(1174.7 68.6)rotate(283)scale(3.1 1.3)" fill="#ebe9f0"/><use href="#q12" transform="translate(1189 127.1)rotate(6)scale(2 1.4)" fill="#edebf2"/><use href="#q7" transform="translate(1083.4 120.1)rotate(273)scale(1.7 2.1)" fill="#f2f0f7"/><use href="#q13" transform="translate(1079.6 133.6)rotate(19)scale(2.2 1.4)" fill="#f2f0f7"/><use href="#q11" transform="translate(1164.7 69.9)rotate(345)scale(3.1 2)" fill="#eeecf3"/><use href="#q10" transform="translate(1173.4 166.6)rotate(41)scale(2.2 1.2)" fill="#f6f4fb"/><use href="#q10" transform="translate(1084.6 147.3)rotate(295)scale(3 1.9)" fill="#efedf4"/><use href="#q9" transform="translate(1276 114.3)rotate(39)scale(2.6 1.6)" fill="#e9e7ee"/><use href="#q10" transform="translate(1293.3 56.1)rotate(57)scale(2.2 1.3)" fill="#e9e7ee"/><use href="#q13" transform="translate(1141.2 153.8)rotate(294)scale(2.4 1.9)" fill="#efedf4"/><use href="#q11" transform="translate(1301 139.1)rotate(53)scale(1.8 1.6)" fill="#e7e5eb"/><use href="#q12" transform="translate(1267.8 62.2)rotate(84)scale(3 2.4)" fill="#e7e5ec"/><use href="#q7" transform="translate(1250.4 72.6)rotate(349)scale(2.5 1.8)" fill="#e7e5ec"/><use href="#q9" transform="translate(1069.5 124.3)rotate(358)scale(2.5 1.6)" fill="#ebe9f0"/><use href="#q13" transform="translate(1293.1 152.5)rotate(324)scale(2.4 1.4)" fill="#eeecf3"/><use href="#q12" transform="translate(1278 57.8)rotate(50)scale(1.8 1.7)" fill="#f4f2f9"/></g><g filter="url(#bl1)" opacity="0.35"><use href="#q13" transform="translate(1256.4 137.3)rotate(63)scale(3 1.3)" fill="#a19db8"/><use href="#q13" transform="translate(1285.1 59.7)rotate(290)scale(2 2)" fill="#9f9bb6"/><use href="#q10" transform="translate(1138.9 97.6)rotate(315)scale(1.9 1.8)" fill="#b1adca"/><use href="#q8" transform="translate(1159.3 171.6)rotate(345)scale(3.1 1.6)" fill="#a29eb9"/><use href="#q9" transform="translate(1293.5 153.1)rotate(88)scale(2.9 2.3)" fill="#9e9ab4"/><use href="#q9" transform="translate(1218 146.2)rotate(352)scale(2.2 1.8)" fill="#a09db7"/><use href="#q8" transform="translate(1264.5 78.7)rotate(329)scale(1.8 1.4)" fill="#afabc9"/><use href="#q10" transform="translate(1210.6 171.3)rotate(5)scale(2.7 2.2)" fill="#afabc8"/><use href="#q8" transform="translate(1098.9 106.6)rotate(359)scale(2.3 2)" fill="#a29eb9"/><use href="#q10" transform="translate(1147.9 155.8)rotate(23)scale(1.6 2.3)" fill="#9e9ab5"/><use href="#q10" transform="translate(1171 69.6)rotate(329)scale(3.1 1.6)" fill="#a4a0bc"/><use href="#q9" transform="translate(1149.4 130.8)rotate(31)scale(2.8 1.9)" fill="#a8a4c0"/><use href="#q10" transform="translate(1190.8 56.3)rotate(26)scale(1.8 2.1)" fill="#ada9c6"/><use href="#q10" transform="translate(1256.4 87.2)rotate(325)scale(1.9 2.3)" fill="#a4a0bc"/><use href="#q9" transform="translate(1067.2 128.2)rotate(21)scale(3 2.4)" fill="#9e9ab4"/><use href="#q7" transform="translate(1221.3 126)rotate(316)scale(3.1 1.7)" fill="#a8a4c0"/><use href="#q9" transform="translate(1080.9 55.5)rotate(315)scale(1.8 1.9)" fill="#aeaac7"/><use href="#q13" transform="translate(1234.3 114.2)rotate(19)scale(2.4 1.7)" fill="#a4a0bb"/><use href="#q13" transform="translate(1061.3 120.4)rotate(2)scale(1.9 1.3)" fill="#a4a0bc"/><use href="#q9" transform="translate(1078.9 109.9)rotate(309)scale(2.5 2.1)" fill="#b0abc9"/><use href="#q12" transform="translate(1230.8 80.1)rotate(317)scale(2.8 2)" fill="#9f9bb6"/><use href="#q12" transform="translate(1157.2 139.6)rotate(274)scale(2.6 1.4)" fill="#a09cb7"/><use href="#q13" transform="translate(1125.5 127.7)rotate(25)scale(2.2 1.8)" fill="#a09cb6"/><use href="#q13" transform="translate(1072.2 137.7)rotate(320)scale(2.3 1.8)" fill="#b1acca"/><use href="#q10" transform="translate(1115.9 105)rotate(339)scale(1.8 1.6)" fill="#b0acc9"/><use href="#q7" transform="translate(1299.8 146.6)rotate(288)scale(2 2.4)" fill="#a6a2bd"/><use href="#q7" transform="translate(1103.4 149)rotate(307)scale(2.7 1.8)" fill="#ada8c5"/><use href="#q9" transform="translate(1155.1 112.6)rotate(86)scale(2 1.4)" fill="#afaac8"/><use href="#q7" transform="translate(1126.5 73.9)rotate(310)scale(1.7 1.8)" fill="#a9a4c1"/><use href="#q9" transform="translate(1297.9 99.9)rotate(33)scale(3.2 1.9)" fill="#a8a4c0"/><use href="#q10" transform="translate(1108.6 149.5)rotate(84)scale(2.6 1.7)" fill="#b0abc9"/><use href="#q11" transform="translate(1084.1 102.7)rotate(284)scale(1.5 2.2)" fill="#a39fbb"/><use href="#q7" transform="translate(1086.5 57.2)rotate(339)scale(1.5 2)" fill="#aaa6c3"/><use href="#q8" transform="translate(1297.2 111.8)rotate(333)scale(3 2.2)" fill="#aca8c4"/><use href="#q9" transform="translate(1217.1 70.7)rotate(295)scale(2.6 1.3)" fill="#a6a2bd"/><use href="#q11" transform="translate(1147 60.1)rotate(322)scale(2.6 1.3)" fill="#a19db8"/><use href="#q12" transform="translate(1263 53.9)rotate(23)scale(2.9 2.1)" fill="#9e9bb5"/><use href="#q12" transform="translate(1286.6 168.7)rotate(272)scale(2.6 2.4)" fill="#a8a4c0"/><use href="#q13" transform="translate(1106.7 87.6)rotate(288)scale(2.1 1.6)" fill="#a6a2be"/><use href="#q13" transform="translate(1101.8 56.1)rotate(78)scale(3.1 1.5)" fill="#ada9c6"/><use href="#q11" transform="translate(1173.9 116.2)rotate(62)scale(1.7 2.2)" fill="#a7a3bf"/><use href="#q7" transform="translate(1272.8 111)rotate(289)scale(2 1.8)" fill="#a5a1bd"/><use href="#q7" transform="translate(1152.6 153.1)rotate(89)scale(2.7 1.6)" fill="#a7a3bf"/><use href="#q13" transform="translate(1078.4 170.1)rotate(43)scale(1.6 1.3)" fill="#a7a3bf"/><use href="#q7" transform="translate(1262.6 172.6)rotate(273)scale(2.4 2.3)" fill="#aca8c5"/><use href="#q9" transform="translate(1203 90.1)rotate(49)scale(2.6 1.8)" fill="#aca8c5"/><use href="#q12" transform="translate(1245.5 70.9)rotate(314)scale(2.6 1.5)" fill="#9f9cb6"/><use href="#q13" transform="translate(1185.4 153.1)rotate(86)scale(2.8 2.1)" fill="#aaa6c2"/><use href="#q11" transform="translate(1188.8 145)rotate(282)scale(2.8 1.3)" fill="#a8a4c0"/><use href="#q9" transform="translate(1102.1 156.7)rotate(61)scale(2.6 2.2)" fill="#a09cb7"/><use href="#q7" transform="translate(1095.2 93.1)rotate(11)scale(2.7 1.9)" fill="#9e9ab4"/><use href="#q12" transform="translate(1202.5 163.4)rotate(0)scale(2.8 1.9)" fill="#aba6c3"/><use href="#q7" transform="translate(1087.7 86.6)rotate(359)scale(3.1 1.5)" fill="#a6a2be"/><use href="#q7" transform="translate(1245.9 82.7)rotate(286)scale(2.7 1.7)" fill="#a39fba"/><use href="#q7" transform="translate(1154.1 74.7)rotate(297)scale(2 2)" fill="#a19db8"/><use href="#q12" transform="translate(1150.6 172.6)rotate(0)scale(1.8 1.9)" fill="#a9a5c1"/><use href="#q12" transform="translate(1273.5 91.6)rotate(62)scale(1.5 1.9)" fill="#a29eb9"/><use href="#q13" transform="translate(1213 84.8)rotate(311)scale(2.2 1.5)" fill="#aca8c4"/><use href="#q12" transform="translate(1060.7 87.5)rotate(58)scale(2.1 1.3)" fill="#b1adcb"/><use href="#q10" transform="translate(1284.8 135)rotate(316)scale(1.7 2.3)" fill="#b1adcb"/><use href="#q13" transform="translate(1220.9 136.9)rotate(325)scale(3.1 2.3)" fill="#a5a1bc"/><use href="#q11" transform="translate(1124.1 158.8)rotate(291)scale(1.7 1.8)" fill="#aaa6c2"/><use href="#q12" transform="translate(1173.2 164.5)rotate(341)scale(2.3 2)" fill="#aeaac7"/><use href="#q13" transform="translate(1206.8 134.9)rotate(21)scale(2.2 2.2)" fill="#aeaac7"/><use href="#q12" transform="translate(1270.1 171.1)rotate(317)scale(1.9 1.3)" fill="#a19db8"/><use href="#q11" transform="translate(1231.9 166.6)rotate(312)scale(2.3 1.8)" fill="#a4a0bb"/><use href="#q8" transform="translate(1158.6 90.9)rotate(71)scale(2.4 1.9)" fill="#aeaac7"/><use href="#q12" transform="translate(1121.7 97.5)rotate(47)scale(1.7 2.1)" fill="#b2adcb"/><use href="#q13" transform="translate(1118.3 64)rotate(35)scale(2.9 1.7)" fill="#9f9bb6"/><use href="#q9" transform="translate(1161.4 71.5)rotate(13)scale(2.4 2.4)" fill="#a6a2bd"/><use href="#q10" transform="translate(1243.6 155.1)rotate(332)scale(2.7 1.6)" fill="#afabc8"/><use href="#q11" transform="translate(1149.3 117.4)rotate(293)scale(2.2 2.2)" fill="#9f9bb6"/><use href="#q9" transform="translate(1218.9 164.3)rotate(76)scale(1.6 2)" fill="#a19db8"/><use href="#q10" transform="translate(1139.6 168.8)rotate(274)scale(1.8 2.1)" fill="#a29eb9"/><use href="#q11" transform="translate(1207.3 108.1)rotate(277)scale(2.8 2.4)" fill="#a09cb7"/><use href="#q7" transform="translate(1191.4 162.6)rotate(51)scale(2.9 1.8)" fill="#a6a2be"/><use href="#q10" transform="translate(1261 156.5)rotate(351)scale(2.2 1.8)" fill="#aaa5c2"/><use href="#q7" transform="translate(1187.1 130.6)rotate(313)scale(1.6 1.9)" fill="#a6a2be"/><use href="#q10" transform="translate(1177 125)rotate(283)scale(2.4 1.7)" fill="#a5a1bc"/><use href="#q8" transform="translate(1288.3 54.6)rotate(326)scale(2.7 2.1)" fill="#aaa6c3"/><use href="#q10" transform="translate(1130.9 82.4)rotate(348)scale(1.6 1.3)" fill="#9e9ab5"/><use href="#q8" transform="translate(1070.7 87.3)rotate(276)scale(2.6 2.1)" fill="#aaa6c2"/><use href="#q7" transform="translate(1255.8 125.1)rotate(274)scale(1.8 1.7)" fill="#a6a2be"/><use href="#q9" transform="translate(1095.8 116.1)rotate(75)scale(2.1 1.5)" fill="#a8a4c0"/><use href="#q9" transform="translate(1283.5 81.3)rotate(83)scale(1.8 1.5)" fill="#b1adca"/><use href="#q7" transform="translate(1131.9 118.3)rotate(289)scale(2.2 2)" fill="#9f9bb6"/><use href="#q9" transform="translate(1260.6 117.8)rotate(319)scale(3.2 1.7)" fill="#9f9bb6"/><use href="#q10" transform="translate(1105.2 122.1)rotate(40)scale(2.6 1.8)" fill="#afabc8"/><use href="#q8" transform="translate(1193.9 93.1)rotate(287)scale(2.3 1.3)" fill="#afabc8"/><use href="#q10" transform="translate(1210.7 95.9)rotate(272)scale(3.2 1.6)" fill="#a29eb9"/><use href="#q8" transform="translate(1252.6 76.1)rotate(54)scale(2.8 1.9)" fill="#a7a3bf"/><use href="#q9" transform="translate(1104.3 162.6)rotate(63)scale(1.6 2)" fill="#a4a0bb"/><use href="#q9" transform="translate(1110.3 156.7)rotate(358)scale(2.3 1.7)" fill="#a5a1bc"/><use href="#q12" transform="translate(1268.4 120.3)rotate(301)scale(2.5 2)" fill="#b0abc9"/><use href="#q13" transform="translate(1223.5 143.8)rotate(0)scale(2 2.2)" fill="#aba7c4"/><use href="#q12" transform="translate(1245.4 161.7)rotate(65)scale(2.7 2.3)" fill="#a29eb9"/><use href="#q7" transform="translate(1146.3 106.9)rotate(325)scale(3 2.1)" fill="#a6a2bd"/><use href="#q7" transform="translate(1223.6 91.3)rotate(313)scale(2.5 2.1)" fill="#a39fba"/><use href="#q11" transform="translate(1250 148.8)rotate(8)scale(2.1 1.4)" fill="#a4a0bb"/><use href="#q11" transform="translate(1108.5 101.2)rotate(84)scale(2 2.2)" fill="#9e9ab5"/><use href="#q13" transform="translate(1067.3 150.3)rotate(52)scale(3.1 1.5)" fill="#ada8c5"/><use href="#q7" transform="translate(1277.8 145)rotate(299)scale(2.7 1.8)" fill="#a8a4c0"/><use href="#q12" transform="translate(1239.2 55)rotate(295)scale(2.2 1.6)" fill="#b0acc9"/><use href="#q12" transform="translate(1296.5 78.8)rotate(289)scale(1.9 2.3)" fill="#a19db8"/><use href="#q9" transform="translate(1097.6 138.8)rotate(64)scale(3 2.2)" fill="#afabc8"/><use href="#q12" transform="translate(1248.1 139.2)rotate(44)scale(2.6 1.7)" fill="#b1adca"/><use href="#q7" transform="translate(1204.2 57.5)rotate(320)scale(2.9 2.3)" fill="#a29eb9"/><use href="#q10" transform="translate(1299.7 122.8)rotate(24)scale(3.1 1.5)" fill="#a09cb6"/><use href="#q8" transform="translate(1267.7 96.5)rotate(54)scale(2.9 1.5)" fill="#9f9cb6"/><use href="#q11" transform="translate(1198.1 60.1)rotate(271)scale(1.9 1.6)" fill="#a9a5c1"/><use href="#q11" transform="translate(1222 154.3)rotate(85)scale(2.9 2)" fill="#a4a0bc"/><use href="#q10" transform="translate(1207.8 150.2)rotate(318)scale(2.4 1.4)" fill="#a7a3bf"/><use href="#q12" transform="translate(1196.8 119.8)rotate(292)scale(2.3 1.7)" fill="#a5a1bc"/><use href="#q8" transform="translate(1260.5 75.2)rotate(88)scale(1.6 1.8)" fill="#a19db8"/><use href="#q11" transform="translate(1238.1 162.5)rotate(317)scale(2.6 1.9)" fill="#9f9bb5"/><use href="#q13" transform="translate(1235.5 133.8)rotate(29)scale(2.8 1.3)" fill="#aeaac7"/><use href="#q13" transform="translate(1114.9 98.1)rotate(348)scale(2.8 1.7)" fill="#a7a3bf"/><use href="#q10" transform="translate(1163.4 141.3)rotate(294)scale(2.4 1.6)" fill="#aeaac7"/><use href="#q12" transform="translate(1076.8 67.9)rotate(33)scale(3.2 2.2)" fill="#a8a4c0"/><use href="#q12" transform="translate(1059.6 71.3)rotate(273)scale(2.5 2.1)" fill="#a6a2bd"/></g><g filter="url(#bl1)" opacity="0.75"><use href="#q7" transform="translate(1252.4 126)rotate(336)scale(7.9 2.2)" fill="#8482b1"/><use href="#q8" transform="translate(1175 150.8)rotate(320)scale(4.2 2.4)" fill="#9391c4"/><use href="#q7" transform="translate(1256 145)rotate(320)scale(6.6 2.6)" fill="#8684b3"/><use href="#q12" transform="translate(1232.4 89.6)rotate(337)scale(7.4 3.3)" fill="#8381af"/><use href="#q7" transform="translate(1244.4 83.9)rotate(315)scale(5.1 3.3)" fill="#8e8cbd"/><use href="#q12" transform="translate(1223.8 150.9)rotate(317)scale(4.1 2.4)" fill="#8785b4"/><use href="#q9" transform="translate(1219.8 156.8)rotate(317)scale(6.4 2.9)" fill="#8d8bbd"/><use href="#q7" transform="translate(1272 108.6)rotate(334)scale(6.9 2.3)" fill="#9694c8"/><use href="#q10" transform="translate(1200.2 86.3)rotate(336)scale(6.3 2.7)" fill="#8b89b9"/><use href="#q7" transform="translate(1212.6 63.3)rotate(333)scale(5.3 2.7)" fill="#9794c9"/><use href="#q12" transform="translate(1273.1 82.4)rotate(313)scale(5.5 3.2)" fill="#7d7ba7"/><use href="#q7" transform="translate(1193.1 92.9)rotate(338)scale(5.5 2)" fill="#7c7ba6"/><use href="#q7" transform="translate(1171.3 110.2)rotate(333)scale(5.2 2.1)" fill="#8987b7"/><use href="#q12" transform="translate(1219.5 114.8)rotate(339)scale(6.8 2.1)" fill="#7d7ba6"/><use href="#q9" transform="translate(1198.6 118.7)rotate(335)scale(4.7 2.1)" fill="#8583b1"/><use href="#q9" transform="translate(1298.4 96.1)rotate(331)scale(4.3 3.3)" fill="#8482b0"/><use href="#q11" transform="translate(1251.9 104.9)rotate(333)scale(6.8 2.8)" fill="#8c8abb"/><use href="#q11" transform="translate(1268.2 172.2)rotate(340)scale(5.8 2.1)" fill="#908ec1"/><use href="#q13" transform="translate(1250.2 72)rotate(315)scale(5.3 2.9)" fill="#918fc2"/><use href="#q12" transform="translate(1263.1 151.8)rotate(339)scale(4.2 2.9)" fill="#9290c3"/><use href="#q13" transform="translate(1287.6 102.6)rotate(326)scale(5.1 3.3)" fill="#8987b7"/><use href="#q12" transform="translate(1222.1 68.8)rotate(312)scale(7.6 2.4)" fill="#8987b6"/><use href="#q11" transform="translate(1262.8 95.7)rotate(315)scale(7.4 2.9)" fill="#9391c4"/><use href="#q12" transform="translate(1182.6 151)rotate(319)scale(5.8 2.7)" fill="#8e8cbe"/><use href="#q12" transform="translate(1211.2 110.2)rotate(325)scale(5.4 3.2)" fill="#8f8dbf"/><use href="#q9" transform="translate(1228.9 112.2)rotate(317)scale(5.7 3.1)" fill="#8e8cbd"/><use href="#q7" transform="translate(1236.8 119)rotate(331)scale(4.8 2.2)" fill="#8886b6"/><use href="#q13" transform="translate(1300.6 72.2)rotate(311)scale(4.7 2.1)" fill="#8482b0"/><use href="#q9" transform="translate(1242.7 142.5)rotate(320)scale(7.6 2.3)" fill="#8381af"/><use href="#q9" transform="translate(1265.5 73.8)rotate(327)scale(6.9 2)" fill="#9694c8"/><use href="#q12" transform="translate(1178 137.8)rotate(314)scale(7.5 2.5)" fill="#8987b7"/><use href="#q7" transform="translate(1239.2 91.9)rotate(317)scale(7.4 2)" fill="#8987b7"/><use href="#q12" transform="translate(1178.4 109.3)rotate(314)scale(5.6 3.3)" fill="#9290c3"/><use href="#q12" transform="translate(1170.7 142.7)rotate(333)scale(7.8 3.2)" fill="#8684b3"/><use href="#q8" transform="translate(1295.7 139.9)rotate(320)scale(6.4 2.4)" fill="#7f7daa"/><use href="#q12" transform="translate(1230.9 64.6)rotate(336)scale(7.2 3.1)" fill="#8785b4"/><use href="#q13" transform="translate(1292.4 157.9)rotate(317)scale(5.5 3.2)" fill="#8c8aba"/><use href="#q12" transform="translate(1272.9 140.4)rotate(312)scale(7.3 3)" fill="#8f8dbf"/><use href="#q7" transform="translate(1215.9 125.4)rotate(332)scale(5.8 2.6)" fill="#9391c5"/><use href="#q8" transform="translate(1170.3 159.3)rotate(333)scale(5.5 2)" fill="#908ec0"/><use href="#q8" transform="translate(1216.9 140.2)rotate(338)scale(5.5 3.2)" fill="#7f7daa"/><use href="#q8" transform="translate(1282.1 83.7)rotate(316)scale(6.4 3)" fill="#8c8aba"/><use href="#q10" transform="translate(1167.4 122.8)rotate(328)scale(7.6 3.4)" fill="#9492c6"/><use href="#q9" transform="translate(1274.8 99.3)rotate(324)scale(5.6 2.6)" fill="#918fc2"/><use href="#q12" transform="translate(1259 111.1)rotate(314)scale(6 2.4)" fill="#807eab"/><use href="#q9" transform="translate(1236.6 109.3)rotate(317)scale(5.4 2.7)" fill="#9593c7"/><use href="#q10" transform="translate(1259.4 83.7)rotate(325)scale(7.8 3.2)" fill="#918fc2"/><use href="#q12" transform="translate(1299 167.1)rotate(332)scale(6.9 2.4)" fill="#918fc2"/><use href="#q10" transform="translate(1262.3 131.6)rotate(319)scale(6.7 3.4)" fill="#8d8bbc"/><use href="#q11" transform="translate(1294.8 117.2)rotate(313)scale(5.2 3.2)" fill="#8e8cbe"/><use href="#q9" transform="translate(1264.2 162.4)rotate(323)scale(7.4 3)" fill="#8b89ba"/><use href="#q11" transform="translate(1154.4 138.5)rotate(331)scale(7.5 2.7)" fill="#918fc1"/><use href="#q7" transform="translate(1153.4 129.9)rotate(323)scale(4.5 2.7)" fill="#918fc1"/><use href="#q12" transform="translate(1225.2 55.6)rotate(321)scale(6.9 3.3)" fill="#8583b1"/><use href="#q8" transform="translate(1164.2 103.4)rotate(311)scale(6 2)" fill="#9290c3"/><use href="#q10" transform="translate(1252.6 171.8)rotate(330)scale(5.9 2.3)" fill="#8b89ba"/><use href="#q12" transform="translate(1181.2 86.3)rotate(322)scale(7.9 3.1)" fill="#8583b1"/><use href="#q13" transform="translate(1234.2 155.4)rotate(328)scale(5.3 3.2)" fill="#9795c9"/><use href="#q8" transform="translate(1195.6 136.2)rotate(335)scale(7.8 3.2)" fill="#8381af"/><use href="#q8" transform="translate(1235 133)rotate(327)scale(6.2 2.7)" fill="#9795c9"/><use href="#q10" transform="translate(1202 103.7)rotate(311)scale(6.9 3.2)" fill="#8886b6"/><use href="#q9" transform="translate(1189.9 60.4)rotate(323)scale(4.7 3.3)" fill="#7d7ca7"/><use href="#q7" transform="translate(1167.2 151.2)rotate(311)scale(8 2.5)" fill="#8886b5"/><use href="#q11" transform="translate(1286.8 65.2)rotate(333)scale(6.6 2.5)" fill="#8382af"/><use href="#q7" transform="translate(1193.9 105.2)rotate(340)scale(4 2.5)" fill="#918fc1"/><use href="#q13" transform="translate(1270.6 60.3)rotate(339)scale(7.5 3.2)" fill="#8280ae"/><use href="#q9" transform="translate(1239.2 58.6)rotate(315)scale(5.3 3)" fill="#7c7aa5"/><use href="#q13" transform="translate(1224.4 96.5)rotate(323)scale(5 2.7)" fill="#8c8aba"/><use href="#q12" transform="translate(1182.6 78.7)rotate(336)scale(4.5 2.2)" fill="#817fac"/><use href="#q11" transform="translate(1228.5 139.4)rotate(317)scale(7.8 3.4)" fill="#8684b3"/><use href="#q9" transform="translate(1248.2 57.6)rotate(326)scale(7.7 2.9)" fill="#8684b2"/><use href="#q8" transform="translate(1288.6 94.8)rotate(331)scale(7.9 2.4)" fill="#9492c5"/><use href="#q8" transform="translate(1162.1 141.1)rotate(340)scale(7.5 3)" fill="#8381ae"/><use href="#q11" transform="translate(1190.1 156.6)rotate(326)scale(7.2 2.8)" fill="#9492c6"/><use href="#q13" transform="translate(1228.8 74.3)rotate(313)scale(6.3 2)" fill="#7e7ca8"/><use href="#q8" transform="translate(1255.2 66.7)rotate(334)scale(5.5 2.2)" fill="#9593c7"/><use href="#q8" transform="translate(1239.7 71.3)rotate(333)scale(6.7 3.1)" fill="#918fc1"/><use href="#q9" transform="translate(1287.5 163.9)rotate(329)scale(7.9 3)" fill="#8d8bbc"/><use href="#q12" transform="translate(1166.9 172.9)rotate(338)scale(6.2 2.4)" fill="#7d7ba7"/><use href="#q12" transform="translate(1270.1 117.1)rotate(337)scale(4.3 3.4)" fill="#8381af"/></g><g filter="url(#bl07)"><use href="#q7" transform="translate(1211 132.7)rotate(315)scale(6.8 2.6)" fill="#6d6ab0"/><use href="#q13" transform="translate(1234.2 85.6)rotate(321)scale(4.4 2.6)" fill="#7371bb"/><use href="#q11" transform="translate(1206.8 141.6)rotate(313)scale(4 2)" fill="#605e9c"/><use href="#q10" transform="translate(1245.1 99.5)rotate(335)scale(4.2 2.4)" fill="#57568e"/><use href="#q9" transform="translate(1229.6 128.1)rotate(311)scale(5.6 3)" fill="#56548b"/><use href="#q13" transform="translate(1248.6 134.9)rotate(328)scale(3.7 2.2)" fill="#5b5994"/><use href="#q11" transform="translate(1292.6 170.5)rotate(332)scale(5.9 2.9)" fill="#5a5892"/><use href="#q11" transform="translate(1245 68.1)rotate(330)scale(3.7 2.2)" fill="#6866a9"/><use href="#q7" transform="translate(1222.1 93.3)rotate(311)scale(5 2.7)" fill="#6a68ac"/><use href="#q11" transform="translate(1268.7 80.3)rotate(316)scale(5 2.1)" fill="#5e5c98"/><use href="#q7" transform="translate(1265.6 67.1)rotate(334)scale(4.3 2.3)" fill="#5b5993"/><use href="#q8" transform="translate(1262.5 167)rotate(333)scale(4.3 2.2)" fill="#62609f"/><use href="#q12" transform="translate(1247.2 154.5)rotate(311)scale(3.6 2.8)" fill="#716fb7"/><use href="#q11" transform="translate(1225.5 101.3)rotate(332)scale(4.3 2.2)" fill="#57558d"/><use href="#q8" transform="translate(1186.5 149.6)rotate(319)scale(5.2 2.3)" fill="#5e5c98"/><use href="#q13" transform="translate(1195.9 125)rotate(313)scale(5.2 2.2)" fill="#615f9d"/><use href="#q12" transform="translate(1281.2 154.5)rotate(333)scale(4.5 2.1)" fill="#615f9d"/><use href="#q11" transform="translate(1202.5 134.4)rotate(322)scale(4.3 2.1)" fill="#57558d"/><use href="#q11" transform="translate(1225 143.1)rotate(316)scale(5.3 1.9)" fill="#595790"/><use href="#q8" transform="translate(1286.1 68.5)rotate(318)scale(5.8 2.5)" fill="#6a68ad"/><use href="#q9" transform="translate(1280.1 167.9)rotate(325)scale(6.6 2.7)" fill="#6f6db5"/><use href="#q9" transform="translate(1283.8 58.1)rotate(329)scale(6.9 2.1)" fill="#56548c"/><use href="#q8" transform="translate(1256.8 90.1)rotate(309)scale(6.8 2.6)" fill="#5c5b96"/><use href="#q10" transform="translate(1232.9 74.1)rotate(325)scale(6.6 2.4)" fill="#6a68ac"/><use href="#q13" transform="translate(1222.4 160.5)rotate(314)scale(4.8 2.4)" fill="#62609f"/><use href="#q10" transform="translate(1206.2 102.3)rotate(333)scale(4.7 2.6)" fill="#5d5b97"/><use href="#q12" transform="translate(1224.4 116.5)rotate(329)scale(6.1 2.8)" fill="#62609f"/><use href="#q11" transform="translate(1300.3 157)rotate(335)scale(4.1 2.7)" fill="#6765a7"/><use href="#q12" transform="translate(1201 165.5)rotate(324)scale(5.8 2.9)" fill="#6361a0"/><use href="#q10" transform="translate(1275.9 122)rotate(333)scale(6.7 2.9)" fill="#545288"/><use href="#q9" transform="translate(1222.3 59.4)rotate(317)scale(6.3 1.8)" fill="#55548b"/><use href="#q8" transform="translate(1293.5 101.7)rotate(327)scale(5.6 2)" fill="#6d6bb2"/><use href="#q13" transform="translate(1300.4 75.2)rotate(330)scale(4.4 2.2)" fill="#58568e"/><use href="#q7" transform="translate(1258.3 156.7)rotate(326)scale(3.7 2.2)" fill="#6462a3"/><use href="#q13" transform="translate(1192.6 155)rotate(341)scale(6.3 2.1)" fill="#6664a5"/><use href="#q13" transform="translate(1291.4 87.2)rotate(323)scale(6.1 2.4)" fill="#6462a3"/><use href="#q13" transform="translate(1238.7 122.1)rotate(317)scale(6.6 1.9)" fill="#57558e"/><use href="#q11" transform="translate(1268.1 105.3)rotate(317)scale(6.9 2.4)" fill="#61609e"/><use href="#q7" transform="translate(1253.2 141.4)rotate(324)scale(4.8 2.5)" fill="#6c6aaf"/><use href="#q12" transform="translate(1250.7 84.1)rotate(337)scale(5.2 1.9)" fill="#5a5892"/><use href="#q13" transform="translate(1266 54.7)rotate(320)scale(6.5 2.4)" fill="#55548a"/><use href="#q10" transform="translate(1215.4 68.2)rotate(316)scale(4.4 2.7)" fill="#5b5a94"/><use href="#q10" transform="translate(1223.2 169)rotate(310)scale(6.1 2.7)" fill="#62609f"/><use href="#q8" transform="translate(1249.8 53.4)rotate(331)scale(5.2 1.9)" fill="#6b69ae"/><use href="#q9" transform="translate(1287 141.1)rotate(345)scale(4.2 2.2)" fill="#5b5994"/></g><g filter="url(#bl07)"><use href="#q0" transform="translate(1259.4 77.4)rotate(303)scale(3.5 2.2)" fill="#525298"/><use href="#q5" transform="translate(1143.3 154.6)rotate(301)scale(5.1 2.2)" fill="#4d4d8e"/><use href="#q3" transform="translate(1193.8 121.3)rotate(301)scale(5.7 2.6)" fill="#5757a1"/><use href="#q2" transform="translate(1159.3 118.9)rotate(310)scale(5.2 2.5)" fill="#454580"/><use href="#q5" transform="translate(1256.8 100)rotate(327)scale(4.8 2.8)" fill="#505094"/><use href="#q2" transform="translate(1188.7 164.7)rotate(308)scale(5 2.2)" fill="#43437b"/><use href="#q6" transform="translate(1185 74.2)rotate(321)scale(3.9 2)" fill="#4a4a88"/><use href="#q0" transform="translate(1218.3 98.9)rotate(312)scale(5.3 2.3)" fill="#43437d"/><use href="#q0" transform="translate(1220.8 142.9)rotate(342)scale(5.2 2.7)" fill="#525297"/><use href="#q5" transform="translate(1291.1 137)rotate(325)scale(3.3 2.4)" fill="#404077"/><use href="#q6" transform="translate(1286.9 112.5)rotate(339)scale(4.2 2.8)" fill="#4b4b8a"/><use href="#q2" transform="translate(1213.7 56.5)rotate(319)scale(5.2 2.6)" fill="#535399"/><use href="#q1" transform="translate(1248.9 55.4)rotate(311)scale(3.3 2.6)" fill="#404076"/><use href="#q3" transform="translate(1236.2 159.5)rotate(333)scale(5.8 1.7)" fill="#464682"/><use href="#q0" transform="translate(1285 56.2)rotate(308)scale(4.1 2.7)" fill="#5858a2"/><use href="#q2" transform="translate(1257.4 169.3)rotate(317)scale(4.9 2.7)" fill="#43437c"/></g><g filter="url(#bl07)"><use href="#q9" transform="translate(1067.7 111)rotate(49)scale(3.1 1.6)" fill="#444485"/><use href="#q12" transform="translate(1173.7 58.3)rotate(53)scale(3.5 1.5)" fill="#38386c"/><use href="#q7" transform="translate(1145.2 64.1)rotate(271)scale(1.6 2.2)" fill="#49498f"/><use href="#q8" transform="translate(1134 152.9)rotate(284)scale(2.4 1.4)" fill="#40407c"/><use href="#q9" transform="translate(1109.1 94.5)rotate(348)scale(3.4 1.3)" fill="#48488b"/><use href="#q13" transform="translate(1097.6 69.3)rotate(33)scale(1.9 1.9)" fill="#3b3b73"/><use href="#q12" transform="translate(1159.6 122.2)rotate(77)scale(2.6 2.4)" fill="#3e3e78"/><use href="#q9" transform="translate(1146.8 148.1)rotate(29)scale(2.9 2.1)" fill="#3d3d77"/><use href="#q7" transform="translate(1117.3 110)rotate(69)scale(3.5 2.2)" fill="#464688"/><use href="#q9" transform="translate(1127.4 83.6)rotate(36)scale(2.3 1.6)" fill="#464687"/><use href="#q13" transform="translate(1095.8 81.3)rotate(323)scale(1.8 2.6)" fill="#464687"/><use href="#q7" transform="translate(1173.7 84.3)rotate(59)scale(1.7 2.2)" fill="#454586"/><use href="#q13" transform="translate(1123.9 70)rotate(80)scale(2.1 1.7)" fill="#3f3f7a"/><use href="#q12" transform="translate(1143.3 127.9)rotate(57)scale(3.5 1.4)" fill="#3c3c75"/><use href="#q11" transform="translate(1095.2 159.7)rotate(37)scale(3.5 1.3)" fill="#48488c"/><use href="#q11" transform="translate(1094.9 144.3)rotate(296)scale(1.7 1.8)" fill="#454585"/><use href="#q13" transform="translate(1156 67.7)rotate(310)scale(1.8 1.8)" fill="#49498e"/><use href="#q9" transform="translate(1112.6 160.4)rotate(352)scale(2.9 2.4)" fill="#464689"/><use href="#q10" transform="translate(1149.8 90.5)rotate(339)scale(3.4 2.1)" fill="#3b3b74"/><use href="#q13" transform="translate(1187.3 57.5)rotate(313)scale(2.8 1.8)" fill="#3e3e78"/><use href="#q11" transform="translate(1086.1 59.3)rotate(315)scale(2 2.6)" fill="#454586"/><use href="#q9" transform="translate(1061.5 65.7)rotate(289)scale(3.1 1.5)" fill="#41417d"/><use href="#q13" transform="translate(1142.2 76.3)rotate(14)scale(1.6 1.5)" fill="#3d3d76"/><use href="#q8" transform="translate(1091.4 118.1)rotate(297)scale(3.4 2.3)" fill="#37376b"/><use href="#q13" transform="translate(1059.3 125.6)rotate(311)scale(2.1 1.9)" fill="#363668"/><use href="#q8" transform="translate(1114.7 128.7)rotate(68)scale(2.3 1.7)" fill="#363669"/><use href="#q11" transform="translate(1077.5 159.6)rotate(68)scale(2.1 2.3)" fill="#454587"/><use href="#q13" transform="translate(1111.4 148.2)rotate(334)scale(3.5 2)" fill="#38386d"/><use href="#q7" transform="translate(1085 100.9)rotate(80)scale(1.8 2.4)" fill="#454586"/><use href="#q13" transform="translate(1129.7 170.7)rotate(290)scale(1.6 1.8)" fill="#3f3f7b"/><use href="#q12" transform="translate(1096 97.6)rotate(288)scale(2.9 1.7)" fill="#37376c"/><use href="#q13" transform="translate(1084.9 149.6)rotate(25)scale(3.4 2.2)" fill="#3f3f7b"/><use href="#q13" transform="translate(1086.1 133.3)rotate(40)scale(2 2.2)" fill="#48488b"/><use href="#q7" transform="translate(1119.9 98.5)rotate(301)scale(3 1.7)" fill="#39396f"/></g><g filter="url(#bl07)"><ellipse cx="1226" cy="121" rx="3" ry="3" fill="#1e1c48"/><ellipse cx="1223" cy="167" rx="4" ry="3" fill="#1e1c48"/><ellipse cx="1062" cy="103" rx="3" ry="3" fill="#2a2860"/></g><path d="M1205.3 52.4L1155 174" stroke="#ff0000" stroke-width="4" stroke-dasharray="18.5 13"/></g><rect x="1058.6" y="53" width="242.6" height="120.3" fill="none" stroke="#3a3a3a" stroke-width="1"/>
<clipPath id="cb3"><rect x="806.6" y="183.6" width="243.1" height="121.4"/></clipPath><g clip-path="url(#cb3)"><rect x="806.6" y="183.6" width="243.1" height="121.4" fill="#00041e"/><g filter="url(#bl12)"><use href="#q0" transform="translate(864.4 249.7)rotate(285)scale(6.2 4.3)" fill="#0916c5"/><use href="#q2" transform="translate(896.5 256.9)rotate(289)scale(5.7 3.8)" fill="#050d77"/><use href="#q4" transform="translate(958.7 191.6)rotate(38)scale(4.1 3.8)" fill="#050d73"/><use href="#q4" transform="translate(809.8 285.3)rotate(329)scale(6.2 4.6)" fill="#07119a"/><use href="#q5" transform="translate(869.6 212)rotate(81)scale(4.8 4)" fill="#0915c2"/><use href="#q1" transform="translate(1048.6 240.7)rotate(310)scale(5.3 5)" fill="#0812a8"/><use href="#q3" transform="translate(1009.9 241.4)rotate(3)scale(5.8 4)" fill="#071197"/><use href="#q2" transform="translate(962 201.9)rotate(53)scale(4.3 4.6)" fill="#0915c2"/><use href="#q6" transform="translate(960.9 289)rotate(8)scale(4.2 4.6)" fill="#071090"/><use href="#q2" transform="translate(933.8 273.6)rotate(35)scale(5 4.3)" fill="#07108e"/><use href="#q1" transform="translate(969.8 191.4)rotate(301)scale(4.9 4.6)" fill="#071093"/><use href="#q4" transform="translate(990.9 255.4)rotate(16)scale(6.3 4.6)" fill="#071096"/><use href="#q4" transform="translate(879.8 187.4)rotate(289)scale(5.1 3.8)" fill="#071091"/><use href="#q4" transform="translate(981.3 290.3)rotate(280)scale(5.8 4.2)" fill="#0813ad"/><use href="#q4" transform="translate(902.6 280.8)rotate(21)scale(5.7 4.4)" fill="#07119f"/><use href="#q2" transform="translate(914.7 297.2)rotate(43)scale(5.9 4.7)" fill="#0915c1"/><use href="#q3" transform="translate(1020.3 195.4)rotate(56)scale(4.2 4.5)" fill="#0915bb"/><use href="#q4" transform="translate(839.7 209.9)rotate(318)scale(5.8 3.8)" fill="#060e7c"/><use href="#q5" transform="translate(958.9 220.1)rotate(88)scale(6.3 3.9)" fill="#0a16c9"/><use href="#q5" transform="translate(929.9 230.4)rotate(11)scale(6.4 4.2)" fill="#060f8b"/><use href="#q2" transform="translate(948.6 293.4)rotate(289)scale(4.5 4.3)" fill="#07108f"/><use href="#q2" transform="translate(972.4 296.4)rotate(52)scale(5.2 3.6)" fill="#07108e"/><use href="#q4" transform="translate(1014.8 303.9)rotate(11)scale(4.4 4.2)" fill="#070f8d"/><use href="#q4" transform="translate(1026.5 252.7)rotate(307)scale(5.2 3.9)" fill="#050c73"/><use href="#q2" transform="translate(980.1 209.2)rotate(303)scale(4.2 4.7)" fill="#07119d"/><use href="#q5" transform="translate(1008.8 253.2)rotate(14)scale(4.2 4.8)" fill="#060f86"/><use href="#q5" transform="translate(828.1 280.8)rotate(273)scale(5.3 4.3)" fill="#0812a4"/><use href="#q6" transform="translate(906.4 201.9)rotate(322)scale(6.5 3.7)" fill="#060f87"/><use href="#q5" transform="translate(878 276.9)rotate(338)scale(6 4)" fill="#07119b"/><use href="#q5" transform="translate(981.3 223.8)rotate(75)scale(5.8 3.6)" fill="#0915c0"/><use href="#q2" transform="translate(929.5 304.8)rotate(85)scale(5.7 4.4)" fill="#060f89"/><use href="#q3" transform="translate(854.6 233.1)rotate(83)scale(4.9 3.5)" fill="#0915bc"/><use href="#q5" transform="translate(882.9 300)rotate(67)scale(5.9 4.1)" fill="#0914b8"/><use href="#q1" transform="translate(1024.6 229.5)rotate(80)scale(4.2 4.2)" fill="#0a16ca"/><use href="#q1" transform="translate(918.5 246.7)rotate(68)scale(5.1 4.5)" fill="#0914b7"/><use href="#q6" transform="translate(963.1 255.9)rotate(1)scale(5.7 4)" fill="#0914b7"/><use href="#q2" transform="translate(942.6 258.9)rotate(322)scale(5 4.5)" fill="#060e7f"/><use href="#q1" transform="translate(1035.3 245.2)rotate(26)scale(6.2 3.5)" fill="#07119e"/><use href="#q4" transform="translate(911.4 271)rotate(86)scale(4.3 4.8)" fill="#0914b8"/><use href="#q6" transform="translate(864.4 220.2)rotate(69)scale(5.5 4.8)" fill="#060e7f"/><use href="#q0" transform="translate(939.9 185)rotate(339)scale(5 3.9)" fill="#0812a7"/><use href="#q4" transform="translate(907.5 254)rotate(308)scale(4.5 4.5)" fill="#0914b8"/><use href="#q5" transform="translate(811.5 258.4)rotate(317)scale(4.9 4.7)" fill="#0915c0"/><use href="#q5" transform="translate(959.1 240.2)rotate(10)scale(5.7 4.1)" fill="#071199"/><use href="#q4" transform="translate(971.7 226.4)rotate(87)scale(4.9 3.6)" fill="#07108e"/><use href="#q6" transform="translate(978.5 273.2)rotate(305)scale(5.9 3.9)" fill="#0914b6"/><use href="#q1" transform="translate(812 191)rotate(27)scale(5 4.7)" fill="#060e84"/><use href="#q6" transform="translate(867.6 239)rotate(351)scale(4.9 4.4)" fill="#0813ae"/><use href="#q0" transform="translate(950.7 222.5)rotate(2)scale(4.3 4.6)" fill="#0a16cb"/><use href="#q6" transform="translate(895.1 221.6)rotate(63)scale(5.6 4.4)" fill="#050c73"/><use href="#q2" transform="translate(879.6 229.4)rotate(78)scale(6.1 4.3)" fill="#070f8d"/><use href="#q6" transform="translate(994.3 186.9)rotate(317)scale(4.3 4.3)" fill="#0a16c9"/><use href="#q1" transform="translate(945 272.9)rotate(31)scale(6.5 4.7)" fill="#060f89"/><use href="#q0" transform="translate(882 210.6)rotate(47)scale(4.4 4.8)" fill="#0914b8"/><use href="#q6" transform="translate(1002 212.6)rotate(87)scale(4.5 4)" fill="#0813b0"/><use href="#q2" transform="translate(1014.6 204.2)rotate(69)scale(4.1 4.1)" fill="#0813ab"/><use href="#q6" transform="translate(888.5 262.5)rotate(24)scale(5 4)" fill="#0812a8"/><use href="#q6" transform="translate(1021.7 238.4)rotate(283)scale(4.2 5)" fill="#060f88"/><use href="#q4" transform="translate(861.3 198.3)rotate(283)scale(5.8 3.9)" fill="#060f86"/><use href="#q5" transform="translate(935.4 206.8)rotate(58)scale(4.9 4.6)" fill="#0812a7"/><use href="#q4" transform="translate(1002.7 285.4)rotate(279)scale(6.3 4.8)" fill="#050d77"/><use href="#q1" transform="translate(851.2 217.4)rotate(311)scale(4 3.8)" fill="#0915bc"/><use href="#q4" transform="translate(1002.8 261.5)rotate(286)scale(4.9 4.3)" fill="#071095"/><use href="#q6" transform="translate(1002.6 225.5)rotate(57)scale(5.1 4.8)" fill="#060e83"/><use href="#q0" transform="translate(838.1 219)rotate(290)scale(6.3 4.7)" fill="#060d78"/><use href="#q3" transform="translate(890.8 234.2)rotate(59)scale(5.4 4)" fill="#060e82"/><use href="#q5" transform="translate(908.6 233.3)rotate(284)scale(4.5 4.5)" fill="#07119e"/><use href="#q5" transform="translate(1030.4 202.5)rotate(25)scale(4.4 3.9)" fill="#060f8a"/><use href="#q2" transform="translate(807.7 298.1)rotate(21)scale(4.2 4.8)" fill="#0915be"/><use href="#q3" transform="translate(967.8 246.6)rotate(299)scale(6.2 4.5)" fill="#0813ab"/><use href="#q6" transform="translate(1003.6 189.1)rotate(68)scale(4.3 4.7)" fill="#0915c2"/><use href="#q6" transform="translate(1026.3 267.8)rotate(327)scale(4.3 4.9)" fill="#060e84"/><use href="#q3" transform="translate(1031.2 292.4)rotate(287)scale(5.1 3.5)" fill="#060f87"/><use href="#q4" transform="translate(809.8 274.1)rotate(63)scale(4.6 4.1)" fill="#0813ac"/><use href="#q2" transform="translate(868 288.2)rotate(69)scale(6.2 3.8)" fill="#0a16cb"/><use href="#q3" transform="translate(922.6 278.6)rotate(65)scale(4.2 4.2)" fill="#0916c5"/><use href="#q6" transform="translate(892.1 207.6)rotate(59)scale(4.1 4.1)" fill="#0812a4"/><use href="#q1" transform="translate(936.6 282.8)rotate(77)scale(5.9 3.6)" fill="#050c72"/><use href="#q3" transform="translate(848.2 279.7)rotate(57)scale(4.6 4.7)" fill="#0a16cb"/><use href="#q6" transform="translate(1030.7 281.5)rotate(284)scale(6.3 4.2)" fill="#0916c7"/><use href="#q2" transform="translate(818.7 216.5)rotate(282)scale(6.2 4.4)" fill="#0a16ca"/><use href="#q5" transform="translate(819.9 199)rotate(292)scale(4.1 3.8)" fill="#0915c2"/><use href="#q6" transform="translate(836.9 191.9)rotate(23)scale(5.8 5)" fill="#0915c1"/><use href="#q6" transform="translate(1043.5 287.3)rotate(280)scale(5.1 4.8)" fill="#071090"/><use href="#q4" transform="translate(827.5 244.6)rotate(43)scale(5.4 3.8)" fill="#07108e"/><use href="#q0" transform="translate(836.7 251)rotate(339)scale(4.7 4.6)" fill="#071095"/><use href="#q3" transform="translate(826 205.3)rotate(30)scale(5.7 3.8)" fill="#0a17cc"/><use href="#q4" transform="translate(918.6 213.4)rotate(67)scale(4.8 3.6)" fill="#0914b5"/><use href="#q4" transform="translate(824 235.2)rotate(306)scale(5.9 4.5)" fill="#0812a1"/><use href="#q5" transform="translate(1034.3 229)rotate(24)scale(5 4.9)" fill="#060f8b"/><use href="#q4" transform="translate(836.5 282.3)rotate(36)scale(6 3.7)" fill="#0813ac"/><use href="#q5" transform="translate(807.8 201)rotate(85)scale(4 3.8)" fill="#071093"/><use href="#q2" transform="translate(828.9 195.7)rotate(43)scale(5 4.7)" fill="#0812a1"/><use href="#q5" transform="translate(970.3 285.1)rotate(52)scale(6.5 4.3)" fill="#070f8d"/><use href="#q3" transform="translate(1038.1 253.9)rotate(327)scale(6.1 4.4)" fill="#060d7a"/><use href="#q1" transform="translate(993.2 245.7)rotate(354)scale(5.5 3.9)" fill="#060d79"/><use href="#q6" transform="translate(980.5 196.6)rotate(19)scale(5.1 4.4)" fill="#07119e"/><use href="#q2" transform="translate(988.7 297.1)rotate(0)scale(4.3 4.1)" fill="#0914b4"/><use href="#q2" transform="translate(867.4 258.4)rotate(87)scale(4.1 4.8)" fill="#0813b1"/><use href="#q3" transform="translate(989.8 231.4)rotate(304)scale(4.2 4.4)" fill="#050d74"/><use href="#q3" transform="translate(1043.2 233.7)rotate(54)scale(5 4.1)" fill="#0915c2"/><use href="#q3" transform="translate(988.3 203.1)rotate(271)scale(6 3.7)" fill="#0a16cc"/><use href="#q5" transform="translate(924.2 261.7)rotate(60)scale(5.1 3.9)" fill="#0813b1"/><use href="#q6" transform="translate(855 254.7)rotate(334)scale(4.9 4.5)" fill="#0813ae"/><use href="#q0" transform="translate(859.5 186.4)rotate(275)scale(5.8 4)" fill="#071092"/><use href="#q1" transform="translate(841.5 303.9)rotate(359)scale(5.6 4.4)" fill="#0914b8"/><use href="#q0" transform="translate(1014.9 232.2)rotate(71)scale(4.9 4.6)" fill="#0916c4"/><use href="#q5" transform="translate(863.7 270.7)rotate(14)scale(4.2 4.7)" fill="#050d76"/><use href="#q4" transform="translate(1014.2 213)rotate(274)scale(5 4.1)" fill="#07119b"/><use href="#q0" transform="translate(852.1 269.2)rotate(298)scale(4.3 4.1)" fill="#0914b8"/><use href="#q5" transform="translate(1015.3 292.8)rotate(315)scale(4.2 4.8)" fill="#050c71"/><use href="#q0" transform="translate(808.3 224.2)rotate(9)scale(4.8 4.2)" fill="#071197"/><use href="#q1" transform="translate(938.9 198.1)rotate(65)scale(4.9 4.2)" fill="#060f87"/><use href="#q2" transform="translate(873.4 264.4)rotate(301)scale(6.1 4.7)" fill="#0a16cb"/><use href="#q3" transform="translate(834 291.3)rotate(289)scale(4.9 4)" fill="#0916c3"/><use href="#q1" transform="translate(994.4 275.5)rotate(334)scale(4.2 4.8)" fill="#060d78"/><use href="#q0" transform="translate(1040.3 265.3)rotate(354)scale(5.2 4)" fill="#060f8b"/><use href="#q4" transform="translate(944.3 205.7)rotate(57)scale(5 3.8)" fill="#0916c6"/><use href="#q5" transform="translate(850.1 291.6)rotate(25)scale(4.6 4)" fill="#060e80"/><use href="#q6" transform="translate(887.2 271.1)rotate(4)scale(5.8 4.7)" fill="#0814b3"/><use href="#q6" transform="translate(951.8 251)rotate(87)scale(4.4 4)" fill="#0915bc"/><use href="#q1" transform="translate(823.3 270.5)rotate(302)scale(4.6 4.5)" fill="#0914b4"/><use href="#q2" transform="translate(929.3 213.6)rotate(279)scale(6 4.9)" fill="#07119b"/><use href="#q6" transform="translate(892.4 286.4)rotate(50)scale(4.8 4)" fill="#07119a"/><use href="#q2" transform="translate(851.5 206.6)rotate(39)scale(4.2 4)" fill="#0814b3"/><use href="#q1" transform="translate(1004.9 274.5)rotate(11)scale(5.4 4.2)" fill="#070f8d"/><use href="#q0" transform="translate(934.9 252.6)rotate(55)scale(5.7 5)" fill="#07119d"/><use href="#q2" transform="translate(960.6 302.2)rotate(332)scale(5.3 4.5)" fill="#060e7e"/><use href="#q2" transform="translate(933.9 239.5)rotate(271)scale(4.2 4.4)" fill="#060f86"/><use href="#q1" transform="translate(815.6 244.4)rotate(350)scale(6.2 3.8)" fill="#060d7c"/><use href="#q5" transform="translate(818.9 227.3)rotate(17)scale(4.8 5)" fill="#0812a1"/><use href="#q3" transform="translate(937.6 296.5)rotate(71)scale(4.8 4)" fill="#050d77"/><use href="#q6" transform="translate(1002.7 296.7)rotate(293)scale(4.6 5)" fill="#0812a6"/><use href="#q6" transform="translate(845.7 244)rotate(274)scale(4.3 3.7)" fill="#07119a"/><use href="#q0" transform="translate(976.6 248.8)rotate(342)scale(4.8 3.8)" fill="#0914b7"/><use href="#q5" transform="translate(909.2 262.4)rotate(51)scale(4.3 4.1)" fill="#0a16ca"/><use href="#q4" transform="translate(880.7 240)rotate(352)scale(5.5 4.8)" fill="#060f8a"/><use href="#q6" transform="translate(896.8 247.9)rotate(341)scale(5.1 4.9)" fill="#050c71"/><use href="#q6" transform="translate(951.6 210.8)rotate(28)scale(5.3 3.9)" fill="#060f88"/><use href="#q1" transform="translate(997 201)rotate(285)scale(4.9 3.8)" fill="#060d7c"/><use href="#q5" transform="translate(821.1 186.3)rotate(272)scale(5.5 3.6)" fill="#071197"/><use href="#q4" transform="translate(922 203.6)rotate(314)scale(6.4 4.6)" fill="#07108f"/><use href="#q4" transform="translate(1033.4 220.1)rotate(275)scale(5.6 4.3)" fill="#0812a8"/><use href="#q4" transform="translate(890.4 195)rotate(351)scale(5.9 4.4)" fill="#07119d"/><use href="#q5" transform="translate(950.6 184)rotate(44)scale(5.6 4.6)" fill="#07119f"/><use href="#q0" transform="translate(848 188)rotate(46)scale(4.9 4.9)" fill="#071091"/><use href="#q0" transform="translate(1035.1 187.8)rotate(327)scale(4.6 4.3)" fill="#0813a9"/><use href="#q2" transform="translate(880.7 257.3)rotate(47)scale(5.4 3.9)" fill="#0812a2"/><use href="#q2" transform="translate(877.9 286.8)rotate(358)scale(5.1 3.9)" fill="#0812a1"/><use href="#q5" transform="translate(834.5 230.9)rotate(73)scale(4.1 4.1)" fill="#0a16ca"/><use href="#q0" transform="translate(907.4 211.4)rotate(356)scale(4.9 4.8)" fill="#0812a5"/><use href="#q5" transform="translate(981.8 257.1)rotate(359)scale(5.6 3.5)" fill="#071198"/><use href="#q2" transform="translate(979.4 186.4)rotate(35)scale(5.5 4.6)" fill="#071094"/><use href="#q4" transform="translate(1038.9 196.3)rotate(280)scale(5.1 4.5)" fill="#0812a1"/><use href="#q0" transform="translate(826.3 262.4)rotate(298)scale(4.2 4.4)" fill="#070f8e"/><use href="#q2" transform="translate(843.7 261.8)rotate(3)scale(4.5 3.9)" fill="#071096"/><use href="#q3" transform="translate(862.5 301)rotate(272)scale(6.4 4.6)" fill="#050c71"/><use href="#q0" transform="translate(953.5 279.3)rotate(326)scale(4.2 4.4)" fill="#0a17cd"/><use href="#q1" transform="translate(1007.3 197.3)rotate(333)scale(4.3 4.5)" fill="#060d7a"/><use href="#q4" transform="translate(956.2 261.5)rotate(24)scale(6.3 4.7)" fill="#0a17cd"/><use href="#q3" transform="translate(914.9 197.1)rotate(61)scale(4.5 4.2)" fill="#0a16cc"/><use href="#q2" transform="translate(1048.7 224.3)rotate(8)scale(4.8 3.8)" fill="#0812a8"/><use href="#q5" transform="translate(1049 295.3)rotate(334)scale(5.6 4.7)" fill="#0812a7"/><use href="#q5" transform="translate(932.9 261.2)rotate(55)scale(5.7 3.8)" fill="#060d7c"/><use href="#q5" transform="translate(988.1 218.5)rotate(346)scale(6.3 4.6)" fill="#071092"/><use href="#q3" transform="translate(906.5 193)rotate(273)scale(5.1 3.6)" fill="#0813b0"/><use href="#q3" transform="translate(1044.7 187.9)rotate(351)scale(5.8 4.4)" fill="#070f8c"/><use href="#q0" transform="translate(911.7 224.7)rotate(299)scale(4.9 4.6)" fill="#0916c7"/><use href="#q4" transform="translate(829.4 221.4)rotate(338)scale(4.2 4.8)" fill="#0812a2"/><use href="#q6" transform="translate(940.8 217.5)rotate(271)scale(6.3 4.6)" fill="#0915c0"/><use href="#q5" transform="translate(939.6 233.1)rotate(22)scale(6.1 4)" fill="#070f8d"/><use href="#q2" transform="translate(1001.8 238.5)rotate(54)scale(5.4 3.8)" fill="#071096"/><use href="#q1" transform="translate(1024.3 300.2)rotate(46)scale(5.9 3.8)" fill="#0a16ca"/><use href="#q6" transform="translate(1037.5 298.2)rotate(52)scale(6.1 4.3)" fill="#060e84"/><use href="#q5" transform="translate(875.1 199.6)rotate(41)scale(4.2 4.6)" fill="#07119b"/><use href="#q5" transform="translate(970.6 262.1)rotate(356)scale(6 4.3)" fill="#060d7b"/><use href="#q2" transform="translate(901.4 303.5)rotate(313)scale(4.9 4.2)" fill="#07119e"/><use href="#q3" transform="translate(841.9 199)rotate(338)scale(4.2 3.9)" fill="#050c72"/><use href="#q0" transform="translate(1044.8 213.5)rotate(80)scale(4.3 4.1)" fill="#0915c1"/><use href="#q3" transform="translate(892.7 299)rotate(47)scale(6 4.6)" fill="#0916c7"/><use href="#q5" transform="translate(821 287.3)rotate(292)scale(4.8 4.4)" fill="#0813aa"/><use href="#q2" transform="translate(911.4 288.9)rotate(315)scale(5.5 3.9)" fill="#060d79"/><use href="#q3" transform="translate(922.2 291.7)rotate(66)scale(6.2 4.6)" fill="#0916c4"/><use href="#q5" transform="translate(892 184.5)rotate(77)scale(4.6 3.6)" fill="#0813ac"/><use href="#q6" transform="translate(1015.1 273.2)rotate(326)scale(4.2 5)" fill="#07108e"/><use href="#q2" transform="translate(859.1 283.5)rotate(44)scale(5.6 4.1)" fill="#070f8c"/><use href="#q4" transform="translate(855.6 244.9)rotate(5)scale(5.5 4.8)" fill="#060d7a"/><use href="#q6" transform="translate(1017.7 246.2)rotate(338)scale(4.9 4.4)" fill="#0812a8"/><use href="#q6" transform="translate(873.8 221.7)rotate(308)scale(5.4 4)" fill="#0914b6"/><use href="#q6" transform="translate(973.7 235.5)rotate(275)scale(6.4 4.3)" fill="#060d78"/><use href="#q4" transform="translate(967.6 272.9)rotate(11)scale(5.3 4.6)" fill="#071095"/><use href="#q4" transform="translate(1049.6 204)rotate(89)scale(4.3 4.4)" fill="#060e83"/><use href="#q5" transform="translate(828.1 300.7)rotate(17)scale(5.2 4.1)" fill="#071092"/><use href="#q5" transform="translate(817.3 300.6)rotate(67)scale(5.8 4.9)" fill="#071096"/><use href="#q3" transform="translate(901.6 240.1)rotate(306)scale(6.4 4.1)" fill="#060e84"/><use href="#q0" transform="translate(860 211.3)rotate(40)scale(4.5 3.5)" fill="#0914b8"/><use href="#q3" transform="translate(979.9 302.5)rotate(290)scale(5.9 4)" fill="#0812a2"/><use href="#q6" transform="translate(1034.5 211.4)rotate(9)scale(4.5 4.4)" fill="#071091"/><use href="#q1" transform="translate(851.9 302.7)rotate(73)scale(6.4 4.5)" fill="#0813a9"/><use href="#q5" transform="translate(1049.5 265.8)rotate(44)scale(4.9 3.9)" fill="#071095"/></g><path d="M806.6 183.6L897.04 183.6L855.19 305L806.6 305Z" fill="#000318" opacity="0.45" filter="url(#bl6)"/><path d="M905 188L965 188L1049 262L1049 306L995 306L918 248Z" fill="#0c26d8" opacity="0.55" filter="url(#bl6)"/><g filter="url(#bl12)"><use href="#q3" transform="translate(993.9 222.8)rotate(46)scale(5.6 3.7)" fill="#193dff"/><use href="#q3" transform="translate(1048.8 278.8)rotate(41)scale(5.1 4.4)" fill="#1738ff"/><use href="#q0" transform="translate(944.2 213.1)rotate(36)scale(5.9 3.7)" fill="#122cd2"/><use href="#q0" transform="translate(1032.9 303.6)rotate(51)scale(6 3.1)" fill="#193cff"/><use href="#q2" transform="translate(1020.9 257)rotate(309)scale(4.3 5)" fill="#1736ff"/><use href="#q6" transform="translate(983.2 280.3)rotate(276)scale(4.6 3.4)" fill="#142fde"/><use href="#q0" transform="translate(1023.5 286.5)rotate(274)scale(6.4 3.4)" fill="#1531e9"/><use href="#q1" transform="translate(998.7 238.2)rotate(26)scale(6.5 4.8)" fill="#1430e3"/><use href="#q1" transform="translate(1037.2 263.7)rotate(1)scale(6.2 4.9)" fill="#1737ff"/><use href="#q5" transform="translate(980.6 271.8)rotate(302)scale(5.9 3.5)" fill="#1533f3"/><use href="#q3" transform="translate(1037 294.4)rotate(337)scale(5.7 4.3)" fill="#1737ff"/><use href="#q1" transform="translate(943 247.2)rotate(29)scale(5.3 4.5)" fill="#1430e4"/><use href="#q3" transform="translate(915.2 209.4)rotate(65)scale(4.1 3.9)" fill="#193cff"/><use href="#q6" transform="translate(1006.9 285.6)rotate(17)scale(5.6 3.1)" fill="#1532ef"/><use href="#q6" transform="translate(1029.7 252.3)rotate(89)scale(6.1 4.1)" fill="#122bca"/><use href="#q1" transform="translate(920.6 221.6)rotate(310)scale(6.9 5)" fill="#142fdf"/><use href="#q5" transform="translate(972.7 247.9)rotate(17)scale(4.9 3.4)" fill="#142fde"/><use href="#q3" transform="translate(927.8 251.4)rotate(335)scale(5.1 4.5)" fill="#1430e3"/><use href="#q2" transform="translate(960.5 191.1)rotate(38)scale(6.4 4.7)" fill="#183aff"/><use href="#q3" transform="translate(973.4 205.1)rotate(346)scale(6.4 3.9)" fill="#1635f9"/><use href="#q5" transform="translate(997.1 305.3)rotate(67)scale(4.9 4.8)" fill="#1a3dff"/><use href="#q3" transform="translate(1004.3 269.9)rotate(17)scale(5.2 4.7)" fill="#1736ff"/><use href="#q1" transform="translate(981.6 262)rotate(310)scale(6.5 3.6)" fill="#1634f7"/><use href="#q2" transform="translate(990.9 245.5)rotate(26)scale(6.9 3.7)" fill="#1532eb"/><use href="#q4" transform="translate(933.5 241.7)rotate(5)scale(6.6 4.5)" fill="#112ac7"/><use href="#q2" transform="translate(970.2 232.3)rotate(5)scale(5.8 4.8)" fill="#1533f2"/><use href="#q3" transform="translate(1016.3 304.4)rotate(7)scale(6.4 4.7)" fill="#122cd0"/><use href="#q2" transform="translate(917 198.6)rotate(75)scale(5.6 4.2)" fill="#1838ff"/><use href="#q1" transform="translate(977.8 239.1)rotate(327)scale(6 3.3)" fill="#112ac5"/><use href="#q5" transform="translate(1048 269.2)rotate(281)scale(4.7 4)" fill="#183aff"/><use href="#q5" transform="translate(948.7 205.7)rotate(33)scale(7 3.7)" fill="#1533f0"/><use href="#q1" transform="translate(955.7 241.2)rotate(352)scale(5.3 4.6)" fill="#1738ff"/><use href="#q1" transform="translate(970.4 257.2)rotate(309)scale(4.8 4.4)" fill="#122bcc"/><use href="#q1" transform="translate(960.9 277.2)rotate(350)scale(5.1 3)" fill="#132dd4"/><use href="#q1" transform="translate(1014.6 277.2)rotate(338)scale(6.8 4.7)" fill="#1635fa"/><use href="#q6" transform="translate(990.8 257.8)rotate(80)scale(4.4 4.1)" fill="#1738ff"/><use href="#q3" transform="translate(950.3 253.1)rotate(314)scale(4.3 4.3)" fill="#193dff"/><use href="#q4" transform="translate(970 270)rotate(352)scale(4.5 3.5)" fill="#1839ff"/><use href="#q0" transform="translate(937.9 220.7)rotate(349)scale(6.4 4.6)" fill="#112ac5"/><use href="#q2" transform="translate(946.6 222)rotate(314)scale(4.1 4.3)" fill="#112ac6"/></g><g filter="url(#bl1)"><use href="#q13" transform="translate(919 192)rotate(0)scale(6 4.5)" fill="#40ff60"/><use href="#q7" transform="translate(902.5 204)rotate(60)scale(5 4)" fill="#30f0a0"/><use href="#q11" transform="translate(909.8 214.5)rotate(0)scale(4 3.5)" fill="#40ff70"/><use href="#q12" transform="translate(922.6 211)rotate(0)scale(3.5 4.5)" fill="#30e070"/><use href="#q7" transform="translate(975 203)rotate(0)scale(4.5 4.5)" fill="#40ff60"/><use href="#q13" transform="translate(964 214)rotate(10)scale(3 5.5)" fill="#30e060"/><use href="#q10" transform="translate(928 238)rotate(0)scale(3 4)" fill="#30ff60"/><use href="#q13" transform="translate(927 248)rotate(0)scale(3.5 3.5)" fill="#40ff60"/><use href="#q10" transform="translate(931 258)rotate(0)scale(3 3)" fill="#30e070"/><use href="#q11" transform="translate(1003 248)rotate(0)scale(3.5 4.5)" fill="#40f0b0"/><use href="#q11" transform="translate(1035.3 293.7)rotate(0)scale(4 4)" fill="#30ff60"/><use href="#q7" transform="translate(1045.6 294.3)rotate(0)scale(3.5 4)" fill="#30f080"/><use href="#q13" transform="translate(1039 283)rotate(0)scale(4 3)" fill="#40ff80"/><use href="#q13" transform="translate(1030 283)rotate(0)scale(3.5 3)" fill="#40e0b0"/><use href="#q8" transform="translate(1026 210.5)rotate(-37)scale(17 3.8)" fill="#30ff50"/><use href="#q12" transform="translate(1014 219)rotate(-30)scale(5 4.5)" fill="#30ff60"/><path d="M1008 275Q1025 285 1043 284" stroke="#30d0a0" stroke-width="6" fill="none" stroke-linecap="round" opacity="0.7"/><path d="M926 232L934 268" stroke="#30c070" stroke-width="3" opacity="0.6"/></g><path d="M876.9 184L836 304" stroke="#ff0000" stroke-width="4" stroke-dasharray="18.5 13"/></g><rect x="806.6" y="183.6" width="243.1" height="121.4" fill="none" stroke="#3a3a3a" stroke-width="1"/>
<clipPath id="cb4"><rect x="1058.6" y="183.6" width="242.4" height="121.2"/></clipPath><g clip-path="url(#cb4)"><rect x="1058.6" y="183.6" width="242.4" height="121.2" fill="#000018"/><path d="M1212.56 183.6L1301 183.6L1301 304.8L1162.14 304.8Z" fill="#0616b4" opacity="0.8" filter="url(#bl3)"/><g filter="url(#bl1)"><use href="#q7" transform="translate(1217.1 202.4)rotate(335)scale(4.5 2.7)" fill="#122bd5"/><use href="#q7" transform="translate(1289.6 280.6)rotate(260)scale(4.9 3.3)" fill="#1737ff"/><use href="#q12" transform="translate(1268.4 210.5)rotate(282)scale(5.5 4.4)" fill="#1430ef"/><use href="#q8" transform="translate(1236.7 217.1)rotate(252)scale(4 3.2)" fill="#1431f2"/><use href="#q10" transform="translate(1191.9 296)rotate(292)scale(5.2 4.4)" fill="#1838ff"/><use href="#q7" transform="translate(1277.2 281.4)rotate(303)scale(4.1 3.4)" fill="#1839ff"/><use href="#q13" transform="translate(1205.2 259.6)rotate(295)scale(4.5 2.8)" fill="#1838ff"/><use href="#q13" transform="translate(1263.8 287.2)rotate(289)scale(6.7 3.3)" fill="#1430eb"/><use href="#q10" transform="translate(1284.3 194.1)rotate(253)scale(4.9 4.3)" fill="#193cff"/><use href="#q12" transform="translate(1246.3 265)rotate(326)scale(6.9 4.2)" fill="#1532f8"/><use href="#q10" transform="translate(1232.4 205.1)rotate(343)scale(4.8 3)" fill="#132ddc"/><use href="#q12" transform="translate(1227.9 194.4)rotate(245)scale(4.5 3.2)" fill="#193bff"/><use href="#q8" transform="translate(1291.9 288.5)rotate(314)scale(6.3 3.9)" fill="#1839ff"/><use href="#q13" transform="translate(1288.3 253)rotate(291)scale(6.6 3.2)" fill="#1532f6"/><use href="#q10" transform="translate(1284.7 286.4)rotate(354)scale(5.8 3.5)" fill="#183bff"/><use href="#q8" transform="translate(1232.7 233.8)rotate(330)scale(6.2 3.4)" fill="#142fe8"/><use href="#q12" transform="translate(1245.3 235.8)rotate(305)scale(4.7 2.8)" fill="#193dff"/><use href="#q10" transform="translate(1275 188.8)rotate(312)scale(6.9 3.5)" fill="#122cd9"/><use href="#q13" transform="translate(1201.1 248.4)rotate(282)scale(6.8 4)" fill="#1634ff"/><use href="#q10" transform="translate(1227.6 225.2)rotate(244)scale(6.8 4.4)" fill="#183aff"/><use href="#q8" transform="translate(1300.6 207.3)rotate(263)scale(4.4 3.7)" fill="#1737ff"/><use href="#q8" transform="translate(1250 217.1)rotate(323)scale(6.5 3.4)" fill="#1635ff"/><use href="#q13" transform="translate(1211.6 274.1)rotate(333)scale(3.7 4.1)" fill="#122cdb"/><use href="#q12" transform="translate(1268.4 258.2)rotate(268)scale(4.6 3.4)" fill="#183aff"/><use href="#q8" transform="translate(1286.5 299.3)rotate(327)scale(3.7 3.4)" fill="#1736ff"/><use href="#q8" transform="translate(1264.2 299.9)rotate(306)scale(5.2 3.6)" fill="#132cdc"/><use href="#q7" transform="translate(1296.3 277.6)rotate(336)scale(3.5 2.9)" fill="#132ee2"/><use href="#q8" transform="translate(1219.1 297.9)rotate(272)scale(5.3 3.2)" fill="#1532f5"/><use href="#q7" transform="translate(1248.3 282.7)rotate(281)scale(6 4.3)" fill="#1736ff"/><use href="#q12" transform="translate(1223.8 200.1)rotate(247)scale(5.7 3)" fill="#1a3dff"/><use href="#q7" transform="translate(1271 227.6)rotate(249)scale(3.7 4.1)" fill="#1738ff"/><use href="#q12" transform="translate(1298.5 235)rotate(249)scale(5.2 3.3)" fill="#193bff"/><use href="#q10" transform="translate(1256.1 201.7)rotate(258)scale(6 2.7)" fill="#193cff"/><use href="#q7" transform="translate(1196.7 304.5)rotate(339)scale(6 3.4)" fill="#193cff"/><use href="#q11" transform="translate(1299.3 241.5)rotate(316)scale(4.1 2.6)" fill="#1634ff"/><use href="#q13" transform="translate(1195.7 233.4)rotate(354)scale(5.2 3.4)" fill="#1532f8"/><use href="#q11" transform="translate(1196.7 291.4)rotate(241)scale(5.7 3)" fill="#1531f4"/><use href="#q7" transform="translate(1277.5 244)rotate(335)scale(4.7 3.9)" fill="#1738ff"/><use href="#q12" transform="translate(1287.2 262.9)rotate(353)scale(4.1 4.1)" fill="#1a3dff"/><use href="#q13" transform="translate(1272 273.9)rotate(256)scale(6.2 3.8)" fill="#132dde"/><use href="#q9" transform="translate(1253.1 266.7)rotate(305)scale(4.2 4.3)" fill="#122bd3"/><use href="#q7" transform="translate(1294.9 192.6)rotate(321)scale(3.6 3.5)" fill="#1737ff"/><use href="#q13" transform="translate(1297 300.2)rotate(333)scale(4.5 4.2)" fill="#132ddf"/><use href="#q7" transform="translate(1254.9 189)rotate(304)scale(4.4 3.3)" fill="#132fe7"/><use href="#q12" transform="translate(1296.6 264.5)rotate(260)scale(4.9 3.7)" fill="#1533fe"/><use href="#q8" transform="translate(1250.3 252.6)rotate(263)scale(4.7 3.9)" fill="#1a3dff"/><use href="#q8" transform="translate(1290.2 185.2)rotate(281)scale(4.1 4)" fill="#112acf"/><use href="#q11" transform="translate(1284.2 208)rotate(354)scale(4.2 3.6)" fill="#1430ec"/><use href="#q10" transform="translate(1255.4 223.7)rotate(302)scale(4.1 3.2)" fill="#183aff"/><use href="#q7" transform="translate(1227.6 247.4)rotate(359)scale(4.8 4.5)" fill="#1839ff"/><use href="#q12" transform="translate(1244.7 242.8)rotate(272)scale(6.3 3.5)" fill="#122bd7"/><use href="#q12" transform="translate(1282.2 257.3)rotate(357)scale(4.4 3.4)" fill="#1635ff"/><use href="#q11" transform="translate(1268.7 247)rotate(251)scale(5.2 4.4)" fill="#1431f2"/><use href="#q8" transform="translate(1194.6 242.6)rotate(242)scale(3.8 3.1)" fill="#1431f3"/><use href="#q8" transform="translate(1285.1 245.7)rotate(244)scale(5.9 3.5)" fill="#132ee2"/><use href="#q9" transform="translate(1222.4 287.6)rotate(297)scale(4.9 2.8)" fill="#1737ff"/><use href="#q12" transform="translate(1204.1 285)rotate(265)scale(4.9 3.2)" fill="#1737ff"/><use href="#q13" transform="translate(1220.8 280.4)rotate(347)scale(5.9 2.6)" fill="#132ddf"/><use href="#q13" transform="translate(1185.4 289.6)rotate(281)scale(6.4 3.6)" fill="#1839ff"/><use href="#q13" transform="translate(1237.4 293.2)rotate(325)scale(3.7 3.2)" fill="#1531f4"/><use href="#q10" transform="translate(1260.8 184.3)rotate(285)scale(4.8 3.2)" fill="#1635ff"/><use href="#q8" transform="translate(1229.7 270.3)rotate(289)scale(6.1 2.8)" fill="#132ee5"/><use href="#q13" transform="translate(1256.1 257.5)rotate(294)scale(6 4.4)" fill="#1431f0"/><use href="#q11" transform="translate(1205.6 294.2)rotate(262)scale(5.5 4.1)" fill="#142feb"/><use href="#q11" transform="translate(1227 294.1)rotate(300)scale(5.8 2.8)" fill="#1738ff"/><use href="#q13" transform="translate(1274.5 205.1)rotate(274)scale(3.6 3.9)" fill="#1839ff"/><use href="#q7" transform="translate(1287.4 228.7)rotate(300)scale(3.5 3.3)" fill="#1a3eff"/><use href="#q9" transform="translate(1242.1 226.1)rotate(357)scale(3.9 4.3)" fill="#183aff"/><use href="#q12" transform="translate(1248.3 194.9)rotate(339)scale(5.4 4.3)" fill="#193bff"/><use href="#q10" transform="translate(1187.1 262.9)rotate(348)scale(4.6 3.6)" fill="#193cff"/><use href="#q10" transform="translate(1207.5 220)rotate(281)scale(4.1 2.5)" fill="#132ee6"/><use href="#q11" transform="translate(1294.5 202.8)rotate(262)scale(4.7 3.6)" fill="#193bff"/><use href="#q9" transform="translate(1255.9 273.9)rotate(252)scale(3.9 3.6)" fill="#193bff"/><use href="#q10" transform="translate(1218.5 256.2)rotate(357)scale(4.9 4)" fill="#1532f8"/><use href="#q13" transform="translate(1205.1 211.5)rotate(346)scale(5.3 3.4)" fill="#132ddc"/><use href="#q12" transform="translate(1300.5 292.6)rotate(342)scale(5.2 2.8)" fill="#193bff"/><use href="#q13" transform="translate(1217.7 232.2)rotate(303)scale(5.7 3.4)" fill="#1737ff"/><use href="#q11" transform="translate(1275.7 218)rotate(0)scale(5.3 2.9)" fill="#1738ff"/><use href="#q9" transform="translate(1219.3 185.2)rotate(304)scale(6.7 3.3)" fill="#1839ff"/><use href="#q13" transform="translate(1187.7 249.1)rotate(296)scale(3.7 4.1)" fill="#1634ff"/><use href="#q9" transform="translate(1248.7 202.5)rotate(314)scale(4.7 2.9)" fill="#1636ff"/><use href="#q11" transform="translate(1171.5 301.6)rotate(294)scale(6.8 3.3)" fill="#1737ff"/><use href="#q9" transform="translate(1184.8 279.4)rotate(267)scale(4.1 3.9)" fill="#1531f3"/><use href="#q8" transform="translate(1256.7 249.9)rotate(347)scale(6.3 4)" fill="#132ee6"/><use href="#q9" transform="translate(1295.3 215.4)rotate(300)scale(4.2 2.7)" fill="#122cdc"/><use href="#q12" transform="translate(1253.1 299.1)rotate(279)scale(6.9 2.5)" fill="#1430ed"/><use href="#q8" transform="translate(1284.1 270.8)rotate(302)scale(6.8 2.7)" fill="#1533fb"/><use href="#q7" transform="translate(1239.9 267.7)rotate(251)scale(6 4)" fill="#1634ff"/><use href="#q10" transform="translate(1283.6 214.6)rotate(293)scale(5.4 3.4)" fill="#1636ff"/><use href="#q13" transform="translate(1216.5 266.3)rotate(279)scale(4.1 4)" fill="#193bff"/><use href="#q13" transform="translate(1281.8 223.4)rotate(276)scale(4 3.6)" fill="#1736ff"/><use href="#q12" transform="translate(1164.8 300)rotate(260)scale(6 4.2)" fill="#132ddd"/><use href="#q7" transform="translate(1194.4 250.7)rotate(316)scale(7 3.4)" fill="#122cd9"/><use href="#q9" transform="translate(1214.8 286.3)rotate(336)scale(4.6 4.3)" fill="#1636ff"/><use href="#q12" transform="translate(1288.7 220.6)rotate(349)scale(4 3.8)" fill="#1738ff"/><use href="#q9" transform="translate(1252 292.3)rotate(245)scale(6.4 4.2)" fill="#1634ff"/><use href="#q12" transform="translate(1245.5 188.1)rotate(275)scale(4.1 2.7)" fill="#183aff"/><use href="#q7" transform="translate(1248.9 224.7)rotate(329)scale(4.1 2.6)" fill="#183aff"/><use href="#q8" transform="translate(1278 291.7)rotate(314)scale(3.6 4.4)" fill="#193bff"/><use href="#q9" transform="translate(1299.3 226.4)rotate(261)scale(5.5 4.3)" fill="#1737ff"/><use href="#q7" transform="translate(1270.7 293.7)rotate(297)scale(4.6 3)" fill="#1839ff"/><use href="#q12" transform="translate(1232.9 183.7)rotate(312)scale(5.3 4.5)" fill="#1a3dff"/><use href="#q9" transform="translate(1203.5 230.7)rotate(305)scale(4.6 3.5)" fill="#1532f9"/><use href="#q12" transform="translate(1203.6 267.3)rotate(284)scale(6.3 4.2)" fill="#1738ff"/><use href="#q10" transform="translate(1267.1 232.9)rotate(333)scale(5.6 4)" fill="#183aff"/><use href="#q11" transform="translate(1209.4 238.8)rotate(290)scale(6.3 2.6)" fill="#1634ff"/><use href="#q8" transform="translate(1172.7 286.2)rotate(279)scale(6.5 4)" fill="#112ad0"/><use href="#q13" transform="translate(1187 270.7)rotate(288)scale(5.9 3.7)" fill="#142fe9"/><use href="#q10" transform="translate(1207.7 302.7)rotate(244)scale(5.6 3.5)" fill="#122cdb"/><use href="#q12" transform="translate(1254.9 285.8)rotate(285)scale(4.3 3.3)" fill="#193bff"/><use href="#q7" transform="translate(1238 249.1)rotate(310)scale(5 3.9)" fill="#1635ff"/><use href="#q13" transform="translate(1241.8 207.2)rotate(327)scale(4.1 2.7)" fill="#1737ff"/><use href="#q7" transform="translate(1237.7 299.8)rotate(347)scale(6 4)" fill="#1531f5"/><use href="#q13" transform="translate(1208.7 248.8)rotate(308)scale(4.3 3)" fill="#132ddc"/><use href="#q8" transform="translate(1279.6 299.4)rotate(256)scale(4.1 2.6)" fill="#1738ff"/><use href="#q13" transform="translate(1300.8 184.9)rotate(308)scale(4.5 4.1)" fill="#183aff"/><use href="#q13" transform="translate(1176.6 276)rotate(291)scale(6.6 4.2)" fill="#1a3eff"/><use href="#q7" transform="translate(1229.1 262.6)rotate(288)scale(4.5 4.2)" fill="#193cff"/><use href="#q12" transform="translate(1216.8 212.9)rotate(331)scale(4.9 3.4)" fill="#1634ff"/><use href="#q8" transform="translate(1223.4 272.3)rotate(283)scale(6.6 3.1)" fill="#132ddf"/></g><g filter="url(#bl1)"><use href="#q13" transform="translate(1275.8 210.4)rotate(0)scale(3.1 2.3)" fill="#000431"/><use href="#q13" transform="translate(1239 288.1)rotate(42)scale(2.4 2.5)" fill="#000433"/><use href="#q11" transform="translate(1206.9 200.9)rotate(333)scale(2.3 1.7)" fill="#000433"/><use href="#q12" transform="translate(1213.3 210.1)rotate(80)scale(2.9 2.4)" fill="#000433"/><use href="#q12" transform="translate(1198.3 299.1)rotate(47)scale(2.7 2)" fill="#000430"/><use href="#q10" transform="translate(1228.2 250.3)rotate(30)scale(2.8 2.3)" fill="#00032c"/><use href="#q7" transform="translate(1245.1 212.4)rotate(31)scale(1.8 2.1)" fill="#000433"/><use href="#q9" transform="translate(1300.6 190.4)rotate(5)scale(2.5 2.4)" fill="#000431"/><use href="#q11" transform="translate(1249.5 240.4)rotate(67)scale(2.6 2.2)" fill="#000431"/><use href="#q13" transform="translate(1269.8 246.8)rotate(5)scale(3.2 2.5)" fill="#000430"/><use href="#q13" transform="translate(1194 285.6)rotate(295)scale(1.5 1.9)" fill="#000432"/><use href="#q12" transform="translate(1183.3 301.5)rotate(323)scale(1.7 2.2)" fill="#000432"/><use href="#q11" transform="translate(1290.7 197.6)rotate(4)scale(1.6 1.8)" fill="#00032f"/><use href="#q8" transform="translate(1272.8 218.9)rotate(38)scale(2.4 1.7)" fill="#000432"/><use href="#q13" transform="translate(1182.4 289.2)rotate(294)scale(2.1 2.5)" fill="#000430"/><use href="#q12" transform="translate(1232.9 225.3)rotate(83)scale(1.6 1.8)" fill="#000430"/><use href="#q11" transform="translate(1252.5 229.9)rotate(309)scale(2.7 2.1)" fill="#000430"/><use href="#q7" transform="translate(1295 186.1)rotate(328)scale(1.6 1.5)" fill="#000430"/><use href="#q10" transform="translate(1282 220)rotate(332)scale(2.9 2.3)" fill="#000430"/><use href="#q9" transform="translate(1221.3 300.6)rotate(280)scale(2.2 1.8)" fill="#000433"/><use href="#q13" transform="translate(1204.1 288.6)rotate(337)scale(2.9 2)" fill="#00032c"/><use href="#q11" transform="translate(1217 275.2)rotate(56)scale(2 1.7)" fill="#00032c"/><use href="#q12" transform="translate(1263.3 286.4)rotate(50)scale(3.1 1.7)" fill="#00032c"/><use href="#q12" transform="translate(1232.8 271.9)rotate(353)scale(2.9 1.7)" fill="#000433"/><use href="#q10" transform="translate(1293.8 283.9)rotate(16)scale(1.9 2.4)" fill="#000432"/><use href="#q12" transform="translate(1225.6 238.7)rotate(305)scale(1.6 2.3)" fill="#000433"/><use href="#q13" transform="translate(1262.4 231)rotate(329)scale(2.8 2.4)" fill="#00032e"/><use href="#q13" transform="translate(1298.1 218.9)rotate(58)scale(1.6 1.6)" fill="#000432"/><use href="#q9" transform="translate(1257.6 242.5)rotate(66)scale(1.7 2.3)" fill="#000430"/><use href="#q7" transform="translate(1251 299.3)rotate(282)scale(3.2 1.7)" fill="#000433"/><use href="#q9" transform="translate(1165.7 301.4)rotate(273)scale(2.5 2.3)" fill="#000433"/><use href="#q7" transform="translate(1211 286.9)rotate(349)scale(2.3 2.1)" fill="#000431"/><use href="#q10" transform="translate(1202.3 241.9)rotate(294)scale(3.4 1.7)" fill="#000432"/><use href="#q10" transform="translate(1281.9 281)rotate(68)scale(2.5 2)" fill="#00032f"/><use href="#q12" transform="translate(1215.6 200.9)rotate(307)scale(1.8 2)" fill="#00032c"/><use href="#q8" transform="translate(1189.9 250.9)rotate(50)scale(1.6 2)" fill="#000432"/><use href="#q11" transform="translate(1262.6 195)rotate(337)scale(1.7 2.5)" fill="#000433"/><use href="#q9" transform="translate(1199.6 234.6)rotate(324)scale(1.9 2.3)" fill="#000431"/><use href="#q11" transform="translate(1228.5 195.9)rotate(12)scale(2 1.8)" fill="#00032c"/><use href="#q8" transform="translate(1252.4 196.3)rotate(315)scale(1.9 1.7)" fill="#000432"/><use href="#q9" transform="translate(1232.4 290.6)rotate(296)scale(2.7 2.3)" fill="#00032d"/><use href="#q13" transform="translate(1220.9 263.7)rotate(297)scale(1.8 2.1)" fill="#00032d"/><use href="#q13" transform="translate(1180.1 264.1)rotate(78)scale(2.3 2.4)" fill="#000432"/><use href="#q11" transform="translate(1282.4 187)rotate(338)scale(1.7 1.7)" fill="#00032d"/><use href="#q7" transform="translate(1219.1 243)rotate(84)scale(2.2 1.6)" fill="#000432"/><use href="#q11" transform="translate(1280.9 256)rotate(327)scale(1.8 2.3)" fill="#000430"/><use href="#q12" transform="translate(1266.3 300.4)rotate(74)scale(2.4 2.2)" fill="#000430"/><use href="#q8" transform="translate(1240.6 197.4)rotate(317)scale(1.7 2.1)" fill="#00032d"/><use href="#q11" transform="translate(1271 288.7)rotate(46)scale(3.3 1.9)" fill="#00032f"/><use href="#q13" transform="translate(1209.7 278.3)rotate(343)scale(1.9 2.1)" fill="#00032d"/><use href="#q8" transform="translate(1235.5 299.3)rotate(89)scale(2.5 2)" fill="#00032d"/><use href="#q7" transform="translate(1295.7 248.2)rotate(55)scale(1.8 1.7)" fill="#00032c"/><use href="#q13" transform="translate(1266.7 214.6)rotate(294)scale(3.2 2.2)" fill="#000431"/><use href="#q9" transform="translate(1277.5 274.9)rotate(355)scale(2.5 1.6)" fill="#000430"/><use href="#q11" transform="translate(1250.8 183.9)rotate(277)scale(2.7 2.1)" fill="#000430"/></g><g filter="url(#bl1)"><use href="#q3" transform="translate(1071 188)scale(5 4)" fill="#0a22d8"/><use href="#q10" transform="translate(1080 215)scale(3 6)" fill="#0a22d8"/><use href="#q5" transform="translate(1098 233)scale(7 4)" fill="#0a22d8"/><use href="#q5" transform="translate(1064 241)scale(3 7)" fill="#0a22d8"/><use href="#q2" transform="translate(1142 209)scale(5 5)" fill="#0a22d8"/><use href="#q11" transform="translate(1145 222)scale(3.5 6)" fill="#0a22d8"/><use href="#q13" transform="translate(1118 262)scale(5 6)" fill="#0a22d8"/><use href="#q11" transform="translate(1098 272)scale(5 5)" fill="#0a22d8"/><use href="#q13" transform="translate(1085 277)scale(6 4)" fill="#0a22d8"/><use href="#q11" transform="translate(1169 241)scale(3 5)" fill="#0a22d8"/><use href="#q2" transform="translate(1117 254)scale(3 4)" fill="#0a22d8"/><use href="#q9" transform="translate(1130 190)scale(3 3)" fill="#0a22d8"/><use href="#q8" transform="translate(1100 295)scale(4 3)" fill="#0a22d8"/></g><g filter="url(#bl12)" opacity="0.5"><use href="#q2" transform="translate(1093.8 222)rotate(35)scale(3.1 2.7)" fill="#040e71"/><use href="#q1" transform="translate(1144.1 256.4)rotate(23)scale(3.5 3.9)" fill="#040d6f"/><use href="#q3" transform="translate(1167.3 274.4)rotate(319)scale(4.2 3.2)" fill="#030b5b"/><use href="#q0" transform="translate(1156.5 222.6)rotate(48)scale(3.1 3.2)" fill="#040d6e"/><use href="#q0" transform="translate(1060.3 213.8)rotate(0)scale(4.1 3)" fill="#040d68"/><use href="#q3" transform="translate(1190.2 223.3)rotate(346)scale(3.3 3.2)" fill="#040c60"/><use href="#q2" transform="translate(1153.2 245)rotate(4)scale(3.8 2.6)" fill="#040c67"/><use href="#q0" transform="translate(1172.2 190.6)rotate(293)scale(4.2 3)" fill="#040c63"/><use href="#q2" transform="translate(1109.4 285.3)rotate(84)scale(4.4 3.9)" fill="#030b58"/><use href="#q2" transform="translate(1059.8 246.1)rotate(40)scale(4.2 2.5)" fill="#03094e"/><use href="#q2" transform="translate(1105.1 259.8)rotate(295)scale(3.7 3.8)" fill="#030a50"/><use href="#q3" transform="translate(1073.5 200)rotate(289)scale(3.4 3.3)" fill="#040c67"/><use href="#q5" transform="translate(1150.8 185.4)rotate(17)scale(4.2 3.5)" fill="#030b5c"/><use href="#q6" transform="translate(1099.6 204.8)rotate(86)scale(3.1 3.5)" fill="#040d69"/><use href="#q6" transform="translate(1170.1 218.2)rotate(14)scale(3.2 3.5)" fill="#030b5e"/><use href="#q3" transform="translate(1088.4 275.9)rotate(299)scale(3.1 3.5)" fill="#040c65"/><use href="#q5" transform="translate(1066.8 282.3)rotate(297)scale(3.7 3.4)" fill="#040e72"/><use href="#q0" transform="translate(1081.9 301.9)rotate(77)scale(3 3.5)" fill="#040c60"/><use href="#q1" transform="translate(1175.2 265.6)rotate(76)scale(4.2 3)" fill="#030b58"/><use href="#q5" transform="translate(1142.9 236.5)rotate(355)scale(3.4 3.7)" fill="#040c61"/><use href="#q1" transform="translate(1162.8 249.2)rotate(304)scale(3.1 2.5)" fill="#030a50"/><use href="#q6" transform="translate(1143.7 219.5)rotate(0)scale(4.3 2.5)" fill="#040e70"/><use href="#q0" transform="translate(1073.8 238.4)rotate(329)scale(3.4 2.7)" fill="#040d69"/><use href="#q0" transform="translate(1108 211.9)rotate(317)scale(4.5 2.6)" fill="#040c61"/><use href="#q6" transform="translate(1161.6 212.2)rotate(71)scale(3.3 3.2)" fill="#030a53"/><use href="#q0" transform="translate(1074.9 258.9)rotate(22)scale(4.5 3.5)" fill="#030b58"/><use href="#q4" transform="translate(1093.6 289.9)rotate(55)scale(3.3 2.9)" fill="#030a51"/><use href="#q6" transform="translate(1127.3 209.8)rotate(287)scale(4.6 3)" fill="#040c64"/><use href="#q6" transform="translate(1146 292.4)rotate(25)scale(4.8 3.5)" fill="#03094f"/><use href="#q2" transform="translate(1144.6 301.8)rotate(36)scale(4.3 3.6)" fill="#03094d"/><use href="#q3" transform="translate(1133 220.7)rotate(15)scale(3.4 3.7)" fill="#030b5b"/><use href="#q3" transform="translate(1180 237.6)rotate(334)scale(4.7 2.7)" fill="#030b5c"/><use href="#q1" transform="translate(1106.5 198.7)rotate(73)scale(3.4 3.9)" fill="#030b5d"/><use href="#q5" transform="translate(1110.8 275.6)rotate(313)scale(4.8 3.3)" fill="#030a53"/><use href="#q6" transform="translate(1128.3 278.8)rotate(39)scale(3.1 2.6)" fill="#03094e"/><use href="#q4" transform="translate(1138.2 191.1)rotate(323)scale(4.1 3.2)" fill="#030a56"/><use href="#q3" transform="translate(1099.7 192.5)rotate(37)scale(3.5 3.1)" fill="#030b5b"/><use href="#q4" transform="translate(1068.4 183.9)rotate(271)scale(3.7 3.7)" fill="#030a56"/><use href="#q5" transform="translate(1110.9 251.2)rotate(355)scale(3.9 3.3)" fill="#040d6f"/><use href="#q6" transform="translate(1167.9 205.7)rotate(328)scale(4.3 3.8)" fill="#040d6f"/></g><path d="M1210.1 184.7L1157 312" stroke="#ff0000" stroke-width="4" stroke-dasharray="18.5 13"/></g><rect x="1058.6" y="183.6" width="242.4" height="121.2" fill="none" stroke="#3a3a3a" stroke-width="1"/>
<clipPath id="cb5"><rect x="806.6" y="315.6" width="243.1" height="121.4"/></clipPath><g clip-path="url(#cb5)"><rect x="806.6" y="315.6" width="243.1" height="121.4" fill="#cfc1c7"/><g filter="url(#bl1)" opacity="0.6"><use href="#q7" transform="translate(958 405.7)rotate(38)scale(3.1 1.7)" fill="#e8dedf"/><use href="#q10" transform="translate(999.9 430)rotate(65)scale(2.8 1.5)" fill="#e4dadb"/><use href="#q13" transform="translate(986.5 427.6)rotate(357)scale(2.2 2.6)" fill="#dfd5d6"/><use href="#q10" transform="translate(813.7 372.1)rotate(340)scale(2.8 2.2)" fill="#ede3e4"/><use href="#q12" transform="translate(1035.9 394.4)rotate(291)scale(3 1.7)" fill="#f0e6e7"/><use href="#q13" transform="translate(1025.6 329.3)rotate(36)scale(2.7 1.7)" fill="#e0d6d7"/><use href="#q10" transform="translate(920.6 345.5)rotate(20)scale(2.2 1.9)" fill="#dfd6d7"/><use href="#q12" transform="translate(938.8 385.3)rotate(335)scale(2.5 2.4)" fill="#ded4d5"/><use href="#q11" transform="translate(809.8 341.9)rotate(3)scale(2.6 2.6)" fill="#e6dcdd"/><use href="#q8" transform="translate(874.5 426.8)rotate(282)scale(2.2 1.7)" fill="#d7cdce"/><use href="#q13" transform="translate(992.7 335)rotate(70)scale(2.2 1.5)" fill="#e3d9da"/><use href="#q10" transform="translate(1000.4 332.4)rotate(325)scale(2.4 2)" fill="#efe5e6"/><use href="#q7" transform="translate(956.7 331)rotate(305)scale(2.4 2)" fill="#e8dedf"/><use href="#q9" transform="translate(807 421.4)rotate(68)scale(2.5 1.9)" fill="#dad0d1"/><use href="#q7" transform="translate(857.5 341.8)rotate(45)scale(2 2.5)" fill="#e8dedf"/><use href="#q7" transform="translate(1045.4 421.5)rotate(76)scale(2.7 1.4)" fill="#e0d6d7"/><use href="#q7" transform="translate(876.9 432.3)rotate(355)scale(3 2.3)" fill="#f0e5e6"/><use href="#q8" transform="translate(937.7 397.9)rotate(352)scale(3.2 1.9)" fill="#dcd3d4"/><use href="#q11" transform="translate(856.4 429.8)rotate(13)scale(1.9 2.4)" fill="#e8dedf"/><use href="#q10" transform="translate(974.5 432.9)rotate(336)scale(2.5 2.8)" fill="#ded5d6"/><use href="#q13" transform="translate(1023.9 351.9)rotate(88)scale(2.5 1.5)" fill="#e3d9da"/><use href="#q10" transform="translate(894.4 335.7)rotate(79)scale(2.2 2.3)" fill="#e7ddde"/><use href="#q12" transform="translate(842 323.5)rotate(354)scale(3.1 1.8)" fill="#e2d8d9"/><use href="#q11" transform="translate(879.9 388.8)rotate(8)scale(2.5 1.5)" fill="#f1e6e7"/><use href="#q13" transform="translate(807.4 397.9)rotate(38)scale(2.8 2.7)" fill="#dcd3d4"/><use href="#q7" transform="translate(888.7 353.2)rotate(280)scale(2.7 2.7)" fill="#dcd3d4"/><use href="#q10" transform="translate(1005.6 374)rotate(279)scale(2.7 2.5)" fill="#ede2e3"/><use href="#q8" transform="translate(883.4 374)rotate(277)scale(2.4 1.5)" fill="#f0e6e7"/><use href="#q9" transform="translate(977.9 322.5)rotate(304)scale(3.1 2.3)" fill="#dcd3d4"/><use href="#q7" transform="translate(1043.6 318.4)rotate(87)scale(3.2 1.5)" fill="#dad1d2"/><use href="#q10" transform="translate(988.9 418.2)rotate(274)scale(3.3 1.7)" fill="#e5dbdc"/><use href="#q7" transform="translate(811 411.2)rotate(4)scale(2.6 2.5)" fill="#d9d0d1"/><use href="#q8" transform="translate(895.6 385.8)rotate(351)scale(3.4 1.8)" fill="#ece2e3"/><use href="#q9" transform="translate(808.8 321.3)rotate(357)scale(2.8 1.6)" fill="#ebe1e2"/><use href="#q8" transform="translate(850.6 431.6)rotate(294)scale(3.3 1.8)" fill="#d8cfd0"/><use href="#q9" transform="translate(854.4 407.3)rotate(84)scale(3.1 2.5)" fill="#e8dedf"/><use href="#q9" transform="translate(1032.6 430)rotate(279)scale(1.9 2.4)" fill="#dbd2d3"/><use href="#q10" transform="translate(890.3 358.7)rotate(283)scale(3.4 2.6)" fill="#ebe1e2"/><use href="#q13" transform="translate(934.2 409.8)rotate(71)scale(3.2 2.2)" fill="#e8dedf"/><use href="#q13" transform="translate(832.9 406.5)rotate(296)scale(2 1.4)" fill="#e9dedf"/><use href="#q13" transform="translate(1000.4 420)rotate(36)scale(3.5 2.4)" fill="#ddd3d4"/><use href="#q8" transform="translate(815.5 430.4)rotate(328)scale(3.2 2.2)" fill="#ded4d5"/><use href="#q13" transform="translate(828.8 357)rotate(322)scale(2.3 2.3)" fill="#d8cecf"/><use href="#q13" transform="translate(955.1 427.1)rotate(292)scale(3.1 1.4)" fill="#f0e6e7"/><use href="#q8" transform="translate(889.2 427.8)rotate(80)scale(2.4 2.6)" fill="#e7dcdd"/><use href="#q8" transform="translate(939.1 353.5)rotate(307)scale(2.7 1.6)" fill="#e0d6d7"/><use href="#q11" transform="translate(883.6 337.1)rotate(40)scale(2.9 2.6)" fill="#d8cfd0"/><use href="#q10" transform="translate(825.6 333.7)rotate(296)scale(2.9 2.3)" fill="#ebe0e1"/><use href="#q10" transform="translate(1046.5 380.4)rotate(328)scale(3.2 1.6)" fill="#efe4e5"/><use href="#q8" transform="translate(905.3 344.4)rotate(279)scale(2.9 1.6)" fill="#e8dedf"/><use href="#q13" transform="translate(951 415.9)rotate(17)scale(2.8 2.8)" fill="#d9cfd0"/><use href="#q11" transform="translate(917.4 366.8)rotate(308)scale(3.3 2.4)" fill="#d6cccd"/><use href="#q8" transform="translate(820.1 426.8)rotate(334)scale(2.2 2.4)" fill="#e3d9da"/><use href="#q13" transform="translate(1010.4 331.5)rotate(11)scale(2.3 1.7)" fill="#e0d6d7"/><use href="#q12" transform="translate(959.9 411.3)rotate(55)scale(3.2 1.9)" fill="#ece2e3"/><use href="#q8" transform="translate(832.5 368.4)rotate(21)scale(3.3 2.6)" fill="#e1d7d8"/><use href="#q10" transform="translate(842.9 418.2)rotate(339)scale(2.1 1.7)" fill="#d8cfd0"/><use href="#q13" transform="translate(878.3 370.6)rotate(72)scale(2 2.4)" fill="#dbd2d3"/><use href="#q7" transform="translate(1049.5 419.1)rotate(355)scale(3.2 2.1)" fill="#e4dadb"/><use href="#q11" transform="translate(1043.9 370.7)rotate(272)scale(3.2 1.9)" fill="#e4dadb"/><use href="#q11" transform="translate(925.3 404.2)rotate(274)scale(2.9 2.5)" fill="#e8dedf"/><use href="#q10" transform="translate(923.1 350.9)rotate(356)scale(2.4 1.9)" fill="#e9dfe0"/><use href="#q11" transform="translate(904.8 333.4)rotate(14)scale(2.6 2.5)" fill="#efe5e6"/><use href="#q11" transform="translate(898.2 435.6)rotate(53)scale(3 2.2)" fill="#e0d6d7"/><use href="#q7" transform="translate(1039.9 391.7)rotate(308)scale(1.8 2.5)" fill="#ded4d5"/><use href="#q12" transform="translate(928 356.7)rotate(14)scale(2 1.9)" fill="#ebe0e1"/><use href="#q8" transform="translate(828.3 348.7)rotate(273)scale(2.5 2.8)" fill="#efe5e6"/><use href="#q9" transform="translate(894.4 411)rotate(30)scale(1.9 2.5)" fill="#f0e5e7"/><use href="#q8" transform="translate(995 399.9)rotate(42)scale(3 2.6)" fill="#e7dcdd"/><use href="#q13" transform="translate(968 407.8)rotate(292)scale(2.7 1.5)" fill="#dfd5d6"/><use href="#q8" transform="translate(895 401.1)rotate(271)scale(2.8 2)" fill="#e0d7d8"/><use href="#q9" transform="translate(874.9 374.6)rotate(308)scale(3.2 2.1)" fill="#e8dedf"/><use href="#q12" transform="translate(964.5 386.1)rotate(33)scale(2.5 1.6)" fill="#e5dbdc"/><use href="#q13" transform="translate(809.4 382)rotate(289)scale(3.6 1.7)" fill="#ded4d5"/><use href="#q12" transform="translate(867.5 397.1)rotate(71)scale(2.3 2.3)" fill="#dad1d2"/><use href="#q12" transform="translate(919.1 414.7)rotate(28)scale(2.5 1.7)" fill="#e5dbdc"/><use href="#q10" transform="translate(891.2 393.8)rotate(41)scale(3.3 2.6)" fill="#e1d7d8"/><use href="#q7" transform="translate(891.7 417.9)rotate(314)scale(2.7 2.2)" fill="#e1d7d8"/><use href="#q7" transform="translate(1018.1 399.2)rotate(304)scale(2.9 2.8)" fill="#d7cdce"/><use href="#q9" transform="translate(1043.9 431.7)rotate(11)scale(2.3 2.2)" fill="#e2d8d9"/><use href="#q7" transform="translate(932.6 379.9)rotate(34)scale(2.9 2.3)" fill="#eadfe1"/><use href="#q8" transform="translate(1034.5 373.5)rotate(3)scale(3.5 1.6)" fill="#d8cecf"/><use href="#q12" transform="translate(974.7 403)rotate(76)scale(3.3 2.3)" fill="#dcd2d3"/><use href="#q12" transform="translate(984.1 336.5)rotate(61)scale(2.9 2.5)" fill="#d6cccd"/><use href="#q7" transform="translate(996.3 386.1)rotate(298)scale(2.1 1.5)" fill="#e7ddde"/><use href="#q8" transform="translate(968.4 366.7)rotate(329)scale(2.8 2)" fill="#ebe1e2"/><use href="#q13" transform="translate(813.3 335)rotate(82)scale(3.1 2.7)" fill="#e7ddde"/><use href="#q9" transform="translate(913.8 394.5)rotate(282)scale(2 1.5)" fill="#dbd2d3"/><use href="#q8" transform="translate(859.8 398.9)rotate(87)scale(2.1 2.6)" fill="#ebe0e1"/><use href="#q11" transform="translate(960 320.7)rotate(338)scale(2.5 2.2)" fill="#d9cfd0"/><use href="#q9" transform="translate(819.8 331.8)rotate(271)scale(3.5 1.6)" fill="#e0d6d7"/><use href="#q9" transform="translate(853.6 319.9)rotate(46)scale(3.5 1.5)" fill="#eadfe0"/><use href="#q8" transform="translate(919.7 361.8)rotate(89)scale(1.8 2.5)" fill="#eae0e1"/><use href="#q12" transform="translate(955.3 387.2)rotate(323)scale(3.5 1.9)" fill="#e3d9da"/><use href="#q13" transform="translate(864.4 425.2)rotate(290)scale(3.2 1.5)" fill="#e1d7d8"/><use href="#q9" transform="translate(806.8 364.8)rotate(310)scale(1.9 2)" fill="#f1e6e7"/><use href="#q10" transform="translate(874.3 365.4)rotate(319)scale(3 1.5)" fill="#d8cfd0"/><use href="#q8" transform="translate(834.6 416.5)rotate(61)scale(2.6 1.7)" fill="#ede3e4"/><use href="#q13" transform="translate(897.5 320)rotate(55)scale(2 1.9)" fill="#d6cdcd"/><use href="#q10" transform="translate(947.8 431.9)rotate(274)scale(2.1 2.5)" fill="#e5dbdc"/><use href="#q13" transform="translate(1005.6 366.5)rotate(84)scale(3.4 1.5)" fill="#dbd1d2"/><use href="#q13" transform="translate(1004.2 393.6)rotate(286)scale(2.6 2.1)" fill="#ddd4d5"/><use href="#q13" transform="translate(951.5 384.1)rotate(280)scale(3 2.1)" fill="#e1d7d8"/><use href="#q11" transform="translate(1039.3 433.1)rotate(79)scale(2.7 2.6)" fill="#e8dedf"/><use href="#q10" transform="translate(954.6 358.2)rotate(275)scale(2.9 1.5)" fill="#ebe1e2"/><use href="#q7" transform="translate(1023.8 315.7)rotate(348)scale(3.3 2.6)" fill="#eee4e5"/><use href="#q13" transform="translate(832.8 384.3)rotate(70)scale(3.6 2.5)" fill="#dad0d1"/><use href="#q10" transform="translate(959.6 423.8)rotate(284)scale(2.1 2.6)" fill="#e0d6d7"/><use href="#q12" transform="translate(898 368)rotate(355)scale(2.6 1.8)" fill="#ded4d5"/><use href="#q12" transform="translate(861.6 351)rotate(46)scale(2.9 2.5)" fill="#d8cecf"/><use href="#q7" transform="translate(1043 361.7)rotate(69)scale(2.5 2.7)" fill="#dbd2d3"/><use href="#q10" transform="translate(1040.3 426.5)rotate(328)scale(3.1 2.1)" fill="#e2d8d9"/><use href="#q8" transform="translate(951.4 347.1)rotate(78)scale(2.2 2.7)" fill="#d7cdce"/><use href="#q9" transform="translate(1045.1 375.9)rotate(294)scale(3.3 1.5)" fill="#e8dedf"/><use href="#q12" transform="translate(907.6 354.3)rotate(3)scale(3.2 1.6)" fill="#f0e6e7"/><use href="#q9" transform="translate(836.2 391.1)rotate(290)scale(2.8 1.8)" fill="#e1d7d8"/><use href="#q8" transform="translate(914.4 351.2)rotate(14)scale(2.5 2.1)" fill="#f0e6e7"/><use href="#q10" transform="translate(996.6 416)rotate(274)scale(3.5 1.6)" fill="#d6cdce"/><use href="#q13" transform="translate(996.7 345.4)rotate(37)scale(2 2.1)" fill="#d6cdce"/><use href="#q9" transform="translate(871.7 334.4)rotate(38)scale(2.2 1.7)" fill="#dcd3d4"/><use href="#q9" transform="translate(1047 351.2)rotate(277)scale(1.9 2.1)" fill="#e0d7d7"/><use href="#q7" transform="translate(954.4 373.2)rotate(350)scale(3.2 2.2)" fill="#d9cfd0"/><use href="#q11" transform="translate(987.3 329.9)rotate(5)scale(3.5 1.9)" fill="#e9dfe0"/><use href="#q12" transform="translate(991.5 352.1)rotate(325)scale(3.5 2.8)" fill="#dad1d2"/><use href="#q10" transform="translate(878.8 379.9)rotate(42)scale(1.9 2)" fill="#e4dadb"/><use href="#q10" transform="translate(987.7 387.3)rotate(57)scale(2 2.1)" fill="#e0d6d7"/><use href="#q8" transform="translate(815.5 346.2)rotate(359)scale(2 1.9)" fill="#e5dbdc"/><use href="#q8" transform="translate(917.4 426.9)rotate(43)scale(2.8 1.5)" fill="#d9cfd0"/><use href="#q8" transform="translate(1022.5 381.8)rotate(56)scale(2.5 1.9)" fill="#e3d9da"/><use href="#q10" transform="translate(910.6 385.5)rotate(59)scale(3.1 1.8)" fill="#e7ddde"/><use href="#q10" transform="translate(978.8 392.4)rotate(36)scale(2.1 2.5)" fill="#e6dcdd"/><use href="#q12" transform="translate(923.7 426.3)rotate(16)scale(3.4 2.6)" fill="#e5dbdc"/><use href="#q11" transform="translate(900.3 363.2)rotate(353)scale(2.4 1.6)" fill="#e9dfe0"/><use href="#q7" transform="translate(1013.7 339.5)rotate(278)scale(2.7 2.6)" fill="#e6dcdd"/><use href="#q11" transform="translate(878.7 416.4)rotate(350)scale(2.5 2.1)" fill="#e6dcdd"/><use href="#q7" transform="translate(822.7 417.1)rotate(282)scale(3.5 1.6)" fill="#e9dedf"/><use href="#q11" transform="translate(975.5 368.1)rotate(325)scale(1.9 2.4)" fill="#e4dadb"/><use href="#q7" transform="translate(876.2 410.4)rotate(25)scale(3.1 1.5)" fill="#ede2e4"/><use href="#q13" transform="translate(922.9 382.3)rotate(352)scale(2.5 1.8)" fill="#ded4d5"/><use href="#q12" transform="translate(843.9 386.7)rotate(0)scale(2.4 2.3)" fill="#e0d6d7"/><use href="#q7" transform="translate(1004 323.9)rotate(80)scale(2.2 1.8)" fill="#dbd2d3"/><use href="#q11" transform="translate(862.5 415.1)rotate(25)scale(2.1 2.8)" fill="#e2d8d9"/><use href="#q12" transform="translate(999.1 396.2)rotate(295)scale(3 1.6)" fill="#e3d9da"/><use href="#q10" transform="translate(812.8 403.3)rotate(332)scale(2.7 2.7)" fill="#d6cdce"/><use href="#q11" transform="translate(1044.5 436.8)rotate(6)scale(2.3 2.1)" fill="#eee4e5"/><use href="#q9" transform="translate(963.6 431.2)rotate(9)scale(2.2 1.6)" fill="#ddd3d4"/><use href="#q11" transform="translate(979.8 331.9)rotate(317)scale(2.3 1.6)" fill="#e0d6d7"/><use href="#q7" transform="translate(832.9 361.6)rotate(25)scale(2.3 2.3)" fill="#f0e5e6"/><use href="#q9" transform="translate(824.1 322.6)rotate(288)scale(3 1.6)" fill="#eee3e4"/><use href="#q10" transform="translate(946.4 405.7)rotate(279)scale(3.3 2.2)" fill="#f0e6e7"/><use href="#q13" transform="translate(1020.2 331.9)rotate(47)scale(2.1 1.9)" fill="#d9cfd0"/><use href="#q10" transform="translate(1034.8 361)rotate(282)scale(2.4 1.5)" fill="#e9dfe0"/><use href="#q7" transform="translate(820.2 400.3)rotate(282)scale(3.6 2)" fill="#d8cecf"/><use href="#q7" transform="translate(843.3 392.2)rotate(71)scale(3.5 2.5)" fill="#e4dadb"/><use href="#q11" transform="translate(929.6 426.1)rotate(346)scale(2.6 1.5)" fill="#f0e5e6"/><use href="#q7" transform="translate(941.5 391)rotate(2)scale(2.3 1.6)" fill="#efe5e6"/><use href="#q11" transform="translate(870.6 382.6)rotate(48)scale(2.6 1.5)" fill="#d9cfd0"/><use href="#q7" transform="translate(868.4 406.7)rotate(29)scale(2 2.3)" fill="#e0d6d7"/><use href="#q8" transform="translate(932.3 331.8)rotate(85)scale(2.3 2.2)" fill="#e2d8d9"/><use href="#q8" transform="translate(863.6 360.7)rotate(295)scale(3.4 2.8)" fill="#e8dedf"/></g><g filter="url(#bl1)" opacity="0.45"><use href="#q7" transform="translate(1029.9 355.1)rotate(60)scale(8.2 6.9)" fill="#9d8db0"/><use href="#q9" transform="translate(1003.7 379.8)rotate(87)scale(8 5.1)" fill="#a797bc"/><use href="#q9" transform="translate(840.5 322.1)rotate(54)scale(9 5.4)" fill="#a090b4"/><use href="#q10" transform="translate(1034.9 372.2)rotate(301)scale(8.4 5.6)" fill="#a090b3"/><use href="#q11" transform="translate(914.3 427)rotate(357)scale(9.9 4)" fill="#9788aa"/><use href="#q11" transform="translate(946.1 376.3)rotate(310)scale(6.3 5.6)" fill="#a695ba"/><use href="#q9" transform="translate(875.7 405.9)rotate(329)scale(7.3 4.2)" fill="#998aac"/><use href="#q7" transform="translate(868.9 372.7)rotate(326)scale(9.4 6.3)" fill="#a696bb"/><use href="#q12" transform="translate(991 389)rotate(47)scale(9.7 6.7)" fill="#ab9ac0"/><use href="#q10" transform="translate(839.2 340.2)rotate(2)scale(8.5 4.1)" fill="#a191b5"/><use href="#q12" transform="translate(975.6 404.1)rotate(20)scale(7.2 5.3)" fill="#a393b8"/><use href="#q7" transform="translate(831.5 436.7)rotate(59)scale(8.1 6.6)" fill="#a494b8"/><use href="#q10" transform="translate(828.4 369.8)rotate(288)scale(9.7 4.9)" fill="#9e8eb1"/><use href="#q10" transform="translate(957.2 419.7)rotate(308)scale(6.4 5)" fill="#a696bb"/><use href="#q10" transform="translate(846.3 400.4)rotate(0)scale(7.3 6.5)" fill="#9587a8"/><use href="#q9" transform="translate(832.2 386.1)rotate(17)scale(8.8 6.8)" fill="#ac9bc1"/><use href="#q11" transform="translate(867.8 358.9)rotate(0)scale(7.1 6.5)" fill="#9e8eb1"/><use href="#q8" transform="translate(819.4 403.1)rotate(68)scale(6.4 5.5)" fill="#9f8fb3"/><use href="#q10" transform="translate(836.3 408.4)rotate(347)scale(8.5 5.2)" fill="#9889ab"/><use href="#q11" transform="translate(888.4 387.4)rotate(51)scale(7.3 4.1)" fill="#9f90b3"/><use href="#q11" transform="translate(962 374.9)rotate(296)scale(6.4 4)" fill="#9c8db0"/><use href="#q7" transform="translate(1019 427.2)rotate(72)scale(6.4 6.3)" fill="#9687a9"/><use href="#q10" transform="translate(1019.8 331.7)rotate(348)scale(7.2 4.9)" fill="#9b8bae"/><use href="#q11" transform="translate(908.7 365.9)rotate(330)scale(7.8 4.5)" fill="#a796bb"/><use href="#q7" transform="translate(1044 331.2)rotate(354)scale(8.3 5.2)" fill="#a191b4"/><use href="#q7" transform="translate(965.8 407.5)rotate(328)scale(6.7 5.4)" fill="#a594b9"/><use href="#q12" transform="translate(983.6 315.7)rotate(75)scale(7.8 4.8)" fill="#9d8eb1"/><use href="#q8" transform="translate(1014 395.9)rotate(64)scale(9.8 5.2)" fill="#ae9dc4"/><use href="#q8" transform="translate(908.9 417.3)rotate(7)scale(6.6 6.4)" fill="#9e8eb1"/><use href="#q9" transform="translate(970.9 356.9)rotate(77)scale(6.7 5.2)" fill="#9f8fb3"/><use href="#q7" transform="translate(984.5 376.9)rotate(74)scale(6.8 4.5)" fill="#a292b6"/><use href="#q8" transform="translate(979.6 390.2)rotate(57)scale(7.1 4.1)" fill="#a695ba"/><use href="#q7" transform="translate(1000.1 334.9)rotate(30)scale(8.8 6.6)" fill="#9586a8"/><use href="#q8" transform="translate(926.8 315.7)rotate(331)scale(9.1 4.9)" fill="#a494b9"/><use href="#q10" transform="translate(998.8 409.3)rotate(306)scale(9.4 4)" fill="#9587a8"/><use href="#q13" transform="translate(1010.1 320.8)rotate(311)scale(8.1 4.1)" fill="#ae9dc4"/><use href="#q13" transform="translate(936.7 373.7)rotate(274)scale(7.3 5.1)" fill="#a796bb"/><use href="#q7" transform="translate(1043.5 419.1)rotate(327)scale(6.8 7)" fill="#9b8cae"/><use href="#q13" transform="translate(864.5 416.3)rotate(71)scale(8.5 6.3)" fill="#a493b8"/><use href="#q9" transform="translate(963.3 343.4)rotate(344)scale(7.4 5)" fill="#a998be"/><use href="#q7" transform="translate(873.2 316.8)rotate(39)scale(6.3 4.5)" fill="#a191b5"/><use href="#q12" transform="translate(966.2 386.2)rotate(312)scale(9.1 5.4)" fill="#9687a9"/><use href="#q11" transform="translate(912.3 352.8)rotate(10)scale(8.9 6.7)" fill="#9e8fb2"/><use href="#q8" transform="translate(985.4 360.9)rotate(33)scale(6.4 5.5)" fill="#9586a7"/><use href="#q11" transform="translate(951.7 407.6)rotate(315)scale(6.5 4.2)" fill="#9e8eb2"/><use href="#q9" transform="translate(914.7 398.9)rotate(43)scale(7.9 6.5)" fill="#a494b8"/><use href="#q13" transform="translate(821.6 347.2)rotate(319)scale(8.1 5.1)" fill="#9a8bad"/><use href="#q11" transform="translate(1011 333.5)rotate(297)scale(9.2 4.9)" fill="#9586a7"/><use href="#q8" transform="translate(820.4 317.4)rotate(11)scale(6.8 6.7)" fill="#9788aa"/><use href="#q12" transform="translate(992.8 328.5)rotate(15)scale(6.8 6)" fill="#9c8caf"/><use href="#q11" transform="translate(918 368.8)rotate(301)scale(6.6 6.3)" fill="#a494b9"/><use href="#q12" transform="translate(811.5 423)rotate(358)scale(8.8 6.2)" fill="#ab9ac0"/><use href="#q13" transform="translate(1047.2 340)rotate(17)scale(7.2 4.8)" fill="#a494b8"/><use href="#q10" transform="translate(822.7 356.9)rotate(43)scale(8.2 4.3)" fill="#9e8eb1"/><use href="#q8" transform="translate(830.9 360.4)rotate(273)scale(9.8 7)" fill="#9586a7"/><use href="#q10" transform="translate(807.4 367.6)rotate(327)scale(8.4 6)" fill="#9c8caf"/><use href="#q11" transform="translate(901.1 335.8)rotate(331)scale(9.4 5.8)" fill="#9a8aad"/><use href="#q7" transform="translate(974.2 341.9)rotate(289)scale(8.2 4.6)" fill="#ad9cc2"/><use href="#q12" transform="translate(906 318.8)rotate(8)scale(9.7 4.5)" fill="#9a8aad"/><use href="#q9" transform="translate(917.4 408.8)rotate(73)scale(6.6 5.2)" fill="#9788a9"/><use href="#q9" transform="translate(975.2 420)rotate(314)scale(7.2 4.3)" fill="#a494b9"/><use href="#q10" transform="translate(999.4 366.1)rotate(55)scale(9.2 5.1)" fill="#9687a9"/><use href="#q10" transform="translate(967 395.5)rotate(30)scale(7.9 4.4)" fill="#a797bc"/><use href="#q11" transform="translate(1021.2 402.2)rotate(87)scale(9.8 4.2)" fill="#9f8fb3"/><use href="#q12" transform="translate(914.4 338.8)rotate(29)scale(6.2 5.5)" fill="#9d8eb1"/><use href="#q8" transform="translate(886.2 346)rotate(55)scale(6.7 5.3)" fill="#a696bb"/><use href="#q8" transform="translate(853.3 380.4)rotate(37)scale(9.7 6.1)" fill="#a796bb"/><use href="#q8" transform="translate(1010.9 360)rotate(28)scale(8.3 6.4)" fill="#9c8caf"/><use href="#q13" transform="translate(842.8 367.2)rotate(63)scale(7.7 5.4)" fill="#998aac"/><use href="#q8" transform="translate(832.1 316.3)rotate(350)scale(7.9 6.8)" fill="#a393b7"/></g><g filter="url(#bl4)" opacity="0.7"><ellipse cx="882" cy="345" rx="22" ry="26" fill="#a87448"/><ellipse cx="942" cy="388" rx="14" ry="14" fill="#9a6030"/><ellipse cx="832" cy="424" rx="16" ry="10" fill="#b08868"/><ellipse cx="1020" cy="405" rx="9" ry="9" fill="#b08868"/><ellipse cx="905" cy="390" rx="8" ry="14" fill="#b89070"/></g><g filter="url(#bl07)" stroke="#e6dadf" stroke-width="1.6" stroke-opacity="0.8" paint-order="stroke"><use href="#q0" transform="translate(885.3 402.3)rotate(61)scale(6.4 5.3)" fill="url(#n1b)"/><use href="#q0" transform="translate(1039.1 325.9)rotate(331)scale(8.3 5.6)" fill="url(#n1b)"/><use href="#q6" transform="translate(995.5 394.7)rotate(60)scale(6 5.9)" fill="url(#n1b)"/><use href="#q4" transform="translate(937.8 411.5)rotate(4)scale(7.4 4.6)" fill="url(#n1b)"/><use href="#q1" transform="translate(1015.7 333.4)rotate(43)scale(7.8 5.9)" fill="url(#n1b)"/><use href="#q5" transform="translate(924.9 390.3)rotate(321)scale(6.4 6.3)" fill="url(#n5b)"/><use href="#q2" transform="translate(976.5 432)rotate(355)scale(8.5 5.2)" fill="url(#n1b)"/><use href="#q3" transform="translate(1001.8 416.2)rotate(346)scale(8.5 5.6)" fill="url(#n5a)"/><use href="#q2" transform="translate(822.3 367.4)rotate(60)scale(6.4 5.3)" fill="url(#n1b)"/><use href="#q2" transform="translate(1028.6 430.5)rotate(62)scale(8.4 6.2)" fill="url(#n1b)"/><use href="#q2" transform="translate(990.4 356.1)rotate(337)scale(8 5.2)" fill="url(#n1b)"/><use href="#q4" transform="translate(993.7 380.1)rotate(45)scale(6.7 4.8)" fill="url(#n5b)"/><use href="#q0" transform="translate(968.9 393)rotate(291)scale(8.3 6.2)" fill="url(#n5a)"/><use href="#q3" transform="translate(1016.9 402.3)rotate(74)scale(6.6 5.4)" fill="url(#n5b)"/><use href="#q1" transform="translate(1042.5 375.5)rotate(359)scale(7 4.8)" fill="url(#n5a)"/><use href="#q6" transform="translate(943.2 321.6)rotate(56)scale(8.4 5)" fill="url(#n1b)"/><use href="#q0" transform="translate(1039.8 354.3)rotate(61)scale(7.2 5.2)" fill="url(#n5b)"/><use href="#q1" transform="translate(928.1 320.7)rotate(297)scale(8 5.4)" fill="url(#n1b)"/><use href="#q0" transform="translate(852.9 428.3)rotate(294)scale(6.4 5.2)" fill="url(#n1b)"/><use href="#q5" transform="translate(874 351.9)rotate(322)scale(7.4 6)" fill="url(#n5a)"/><use href="#q1" transform="translate(1004 344.9)rotate(318)scale(5.9 5.6)" fill="url(#n5a)"/><use href="#q5" transform="translate(1024.5 373.5)rotate(315)scale(8.5 5.5)" fill="url(#n5a)"/><use href="#q5" transform="translate(886.5 347.1)rotate(68)scale(6.7 5.8)" fill="url(#n1b)"/><use href="#q5" transform="translate(895 315.6)rotate(304)scale(6.8 5.7)" fill="url(#n1b)"/><use href="#q1" transform="translate(835.7 333.7)rotate(77)scale(5.9 6.4)" fill="url(#n1b)"/><use href="#q4" transform="translate(959.5 373.7)rotate(44)scale(7.1 5.3)" fill="url(#n1b)"/><use href="#q6" transform="translate(835.2 379.2)rotate(342)scale(7.8 5.4)" fill="url(#n1b)"/><use href="#q6" transform="translate(872 333.1)rotate(314)scale(6.3 5.2)" fill="url(#n5a)"/><use href="#q4" transform="translate(997.5 328.4)rotate(42)scale(8.2 5.2)" fill="url(#n5a)"/><use href="#q4" transform="translate(913.4 408.6)rotate(43)scale(8.4 5.5)" fill="url(#n5a)"/><use href="#q3" transform="translate(883.7 430.5)rotate(85)scale(8 6.3)" fill="url(#n5b)"/><use href="#q2" transform="translate(817.2 424.3)rotate(284)scale(7.6 6.2)" fill="url(#n5a)"/><use href="#q6" transform="translate(909.7 316)rotate(275)scale(6.6 6)" fill="url(#n5b)"/><use href="#q6" transform="translate(869.7 435.6)rotate(59)scale(7.6 4.7)" fill="url(#n1b)"/><use href="#q6" transform="translate(980.7 405.1)rotate(43)scale(6.4 5)" fill="url(#n5a)"/><use href="#q2" transform="translate(1003.8 316.4)rotate(88)scale(7.5 5.2)" fill="url(#n1b)"/><use href="#q4" transform="translate(881.2 372.1)rotate(70)scale(8.1 5.6)" fill="url(#n5b)"/><use href="#q2" transform="translate(842.9 435.5)rotate(31)scale(6.6 5.9)" fill="url(#n1b)"/><use href="#q4" transform="translate(941.4 352.6)rotate(45)scale(5.8 6.1)" fill="url(#n5b)"/><use href="#q4" transform="translate(933.2 370.6)rotate(46)scale(6.7 5.2)" fill="url(#n5b)"/><use href="#q4" transform="translate(922.2 353)rotate(344)scale(8.3 4.9)" fill="url(#n1b)"/><use href="#q6" transform="translate(909.4 328.2)rotate(342)scale(7.3 6)" fill="url(#n1b)"/><use href="#q3" transform="translate(842.4 319.2)rotate(65)scale(6 5.7)" fill="url(#n5a)"/><use href="#q1" transform="translate(836 364.8)rotate(344)scale(5.9 4.8)" fill="url(#n1b)"/><use href="#q4" transform="translate(809.1 397.5)rotate(89)scale(7.2 4.5)" fill="url(#n5a)"/><use href="#q6" transform="translate(979.9 321.2)rotate(78)scale(6.6 6.2)" fill="url(#n1b)"/><use href="#q3" transform="translate(950.9 341)rotate(30)scale(6.9 6.1)" fill="url(#n1b)"/><use href="#q5" transform="translate(863.6 323.3)rotate(6)scale(8 5.7)" fill="url(#n5b)"/><use href="#q3" transform="translate(933.5 337.6)rotate(288)scale(8 4.7)" fill="url(#n1b)"/><use href="#q1" transform="translate(914.9 424.3)rotate(305)scale(5.9 6.3)" fill="url(#n5b)"/><use href="#q0" transform="translate(1037 420.7)rotate(20)scale(6.5 5.5)" fill="url(#n5a)"/><use href="#q5" transform="translate(1010.1 429.1)rotate(297)scale(7.3 6.5)" fill="url(#n5a)"/><use href="#q0" transform="translate(874.6 395.2)rotate(273)scale(6.3 4.7)" fill="url(#n5a)"/><use href="#q0" transform="translate(861.3 378.3)rotate(25)scale(8.6 6.5)" fill="url(#n5a)"/><use href="#q1" transform="translate(951.7 406.9)rotate(349)scale(7.1 6.5)" fill="url(#n1b)"/><use href="#q4" transform="translate(854.3 405.4)rotate(1)scale(6.3 6.5)" fill="url(#n1b)"/><use href="#q6" transform="translate(906.9 349.4)rotate(352)scale(7.5 5.5)" fill="url(#n5b)"/><use href="#q1" transform="translate(962 359.1)rotate(330)scale(6.9 5.7)" fill="url(#n1b)"/><use href="#q4" transform="translate(1032.8 391.1)rotate(68)scale(7.8 6.4)" fill="url(#n5a)"/><use href="#q3" transform="translate(979.7 339.1)rotate(53)scale(6.8 4.5)" fill="url(#n1b)"/><use href="#q6" transform="translate(812.9 318.3)rotate(310)scale(7.7 5.9)" fill="url(#n5b)"/><use href="#q6" transform="translate(851.3 386.1)rotate(273)scale(7.8 4.7)" fill="url(#n1b)"/><use href="#q6" transform="translate(943.2 395.2)rotate(13)scale(7.1 5.5)" fill="url(#n5b)"/><use href="#q0" transform="translate(952.1 434.3)rotate(318)scale(8.1 5.4)" fill="url(#n1b)"/><use href="#q4" transform="translate(957.6 419.2)rotate(286)scale(5.9 6.5)" fill="url(#n1b)"/><use href="#q5" transform="translate(909.1 372.8)rotate(334)scale(7.5 4.9)" fill="url(#n5b)"/><use href="#q5" transform="translate(897 407.9)rotate(339)scale(5.8 5.3)" fill="url(#n1b)"/><use href="#q4" transform="translate(837.9 414.6)rotate(89)scale(8.3 6.2)" fill="url(#n5a)"/><use href="#q2" transform="translate(912.4 386)rotate(58)scale(6.5 5.6)" fill="url(#n5a)"/><use href="#q3" transform="translate(847.9 359.2)rotate(354)scale(8.1 5.2)" fill="url(#n1b)"/><use href="#q4" transform="translate(925.8 414.7)rotate(73)scale(7.4 6.2)" fill="url(#n5a)"/><use href="#q1" transform="translate(813 380.7)rotate(86)scale(6.8 6.3)" fill="url(#n5a)"/><use href="#q4" transform="translate(936.2 429.1)rotate(87)scale(6 5.9)" fill="url(#n5a)"/><use href="#q2" transform="translate(836.9 398.6)rotate(356)scale(8.1 5.9)" fill="url(#n5a)"/><use href="#q5" transform="translate(1045.5 338.9)rotate(307)scale(7.2 5.5)" fill="url(#n5b)"/><use href="#q1" transform="translate(883.7 386.2)rotate(38)scale(7.2 6.2)" fill="url(#n5b)"/><use href="#q0" transform="translate(1017.1 416.9)rotate(280)scale(8.5 6.4)" fill="url(#n5b)"/><use href="#q4" transform="translate(977.1 361.3)rotate(285)scale(6.2 6.1)" fill="url(#n5b)"/><use href="#q5" transform="translate(868.7 409.3)rotate(326)scale(6.8 5.6)" fill="url(#n5a)"/><use href="#q1" transform="translate(896 422.9)rotate(29)scale(8.3 6.3)" fill="url(#n5a)"/><use href="#q6" transform="translate(814.2 348.2)rotate(298)scale(6.1 4.7)" fill="url(#n5b)"/><use href="#q6" transform="translate(1049.5 411.5)rotate(54)scale(6.5 4.5)" fill="url(#n1b)"/><use href="#q0" transform="translate(1048.7 431)rotate(0)scale(7.6 6.4)" fill="url(#n1b)"/><use href="#q3" transform="translate(831.1 346)rotate(315)scale(6 4.9)" fill="url(#n5a)"/><use href="#q6" transform="translate(898.9 363.2)rotate(278)scale(7.5 5)" fill="url(#n5b)"/><use href="#q2" transform="translate(863.3 345.9)rotate(69)scale(6.8 6.5)" fill="url(#n5a)"/><use href="#q1" transform="translate(822.4 395.3)rotate(350)scale(6.1 6.3)" fill="url(#n1b)"/><use href="#q0" transform="translate(897.2 380.9)rotate(73)scale(7.5 5.8)" fill="url(#n5a)"/><use href="#q0" transform="translate(896.9 339.3)rotate(284)scale(8.2 5)" fill="url(#n5b)"/><use href="#q1" transform="translate(995.3 434.8)rotate(14)scale(7.2 6.2)" fill="url(#n1b)"/><use href="#q5" transform="translate(903 436.7)rotate(319)scale(6.3 6.2)" fill="url(#n5b)"/><use href="#q6" transform="translate(967.8 331.6)rotate(68)scale(6.1 5.4)" fill="url(#n1b)"/><use href="#q5" transform="translate(1005.9 357.5)rotate(14)scale(6.6 6.1)" fill="url(#n1b)"/><use href="#q2" transform="translate(938.8 381.9)rotate(34)scale(6.2 4.7)" fill="url(#n5b)"/><use href="#q1" transform="translate(1041.4 400.3)rotate(276)scale(8.2 5.9)" fill="url(#n5b)"/><use href="#q1" transform="translate(865 422.7)rotate(14)scale(6.4 5)" fill="url(#n5b)"/><use href="#q2" transform="translate(974 377.3)rotate(355)scale(7.7 4.6)" fill="url(#n1b)"/><use href="#q2" transform="translate(1027.5 341)rotate(282)scale(7.9 5.8)" fill="url(#n5a)"/><use href="#q6" transform="translate(1011.3 378.6)rotate(339)scale(8.5 5.1)" fill="url(#n5b)"/><use href="#q5" transform="translate(1023.8 353.3)rotate(61)scale(7.1 5.3)" fill="url(#n1b)"/></g><g filter="url(#bl07)"><ellipse cx="877" cy="326" rx="4" ry="3.5" fill="#201018"/><ellipse cx="839" cy="352" rx="3.5" ry="3.5" fill="#181020"/><ellipse cx="1013" cy="326" rx="3" ry="4.5" fill="#302018"/><ellipse cx="1013" cy="348" rx="6" ry="6" fill="#fbfbfb"/><ellipse cx="818" cy="399" rx="3" ry="3" fill="#202030"/><ellipse cx="830" cy="406" rx="2.5" ry="2.5" fill="#202030"/><ellipse cx="1003" cy="411" rx="2" ry="2" fill="#202030"/><ellipse cx="976" cy="388" rx="2" ry="2" fill="#202030"/></g></g><rect x="806.6" y="315.6" width="243.1" height="121.4" fill="none" stroke="#3a3a3a" stroke-width="1"/>
<clipPath id="cb6"><rect x="1058.6" y="315.6" width="242.6" height="121.4"/></clipPath><g clip-path="url(#cb6)"><rect x="1058.6" y="315.6" width="242.6" height="121.4" fill="#d4cdd9"/><g filter="url(#bl1)" opacity="0.6"><use href="#q12" transform="translate(1251.1 415.4)rotate(88)scale(2.6 1.4)" fill="#f5eef5"/><use href="#q8" transform="translate(1176.3 347.4)rotate(357)scale(2.8 1.8)" fill="#e5dfe5"/><use href="#q9" transform="translate(1058.7 396.1)rotate(65)scale(3.2 2.8)" fill="#e6e0e6"/><use href="#q9" transform="translate(1172.7 407.8)rotate(323)scale(3.2 2.5)" fill="#ede7ed"/><use href="#q12" transform="translate(1149.1 409.1)rotate(39)scale(2.6 2.8)" fill="#dbd5db"/><use href="#q13" transform="translate(1124.8 413)rotate(84)scale(2.2 2.8)" fill="#e8e2e8"/><use href="#q7" transform="translate(1235.7 365.9)rotate(301)scale(2.7 2.2)" fill="#dbd5db"/><use href="#q9" transform="translate(1189.2 398.4)rotate(305)scale(3.3 2.2)" fill="#e1dbe1"/><use href="#q12" transform="translate(1105.4 382.8)rotate(68)scale(3.1 2.4)" fill="#e0dae0"/><use href="#q11" transform="translate(1253.9 347.8)rotate(56)scale(2.1 1.4)" fill="#f1eaf1"/><use href="#q10" transform="translate(1253.5 398.8)rotate(76)scale(2.1 1.7)" fill="#e0dae0"/><use href="#q10" transform="translate(1263.4 356.3)rotate(293)scale(3.4 2.3)" fill="#eee8ee"/><use href="#q8" transform="translate(1081.2 412.8)rotate(307)scale(1.9 2.6)" fill="#e6e0e6"/><use href="#q13" transform="translate(1253.8 369.6)rotate(357)scale(2.9 2.8)" fill="#ece5ec"/><use href="#q13" transform="translate(1081.4 339.5)rotate(25)scale(2.7 2.1)" fill="#e4dee4"/><use href="#q12" transform="translate(1212.6 350.9)rotate(88)scale(2.6 1.9)" fill="#e9e3e9"/><use href="#q12" transform="translate(1289.4 387.1)rotate(26)scale(2.1 1.8)" fill="#e2dde2"/><use href="#q10" transform="translate(1107.3 395.2)rotate(29)scale(3.6 1.5)" fill="#dbd6db"/><use href="#q9" transform="translate(1146 428.8)rotate(318)scale(2.8 1.6)" fill="#dad4da"/><use href="#q13" transform="translate(1279.2 378.1)rotate(343)scale(3.1 1.9)" fill="#ede7ed"/><use href="#q12" transform="translate(1215 400.3)rotate(321)scale(3.1 2.4)" fill="#e7e1e7"/><use href="#q13" transform="translate(1254 434.1)rotate(48)scale(2.3 1.8)" fill="#f3edf3"/><use href="#q12" transform="translate(1065.5 359.5)rotate(298)scale(2.7 2.6)" fill="#efe9ef"/><use href="#q8" transform="translate(1204.6 352.5)rotate(273)scale(3 2.4)" fill="#e1dbe1"/><use href="#q12" transform="translate(1201.5 326.5)rotate(317)scale(2.8 1.4)" fill="#e0dae0"/><use href="#q7" transform="translate(1272.1 379.4)rotate(295)scale(2.3 1.6)" fill="#dcd7dc"/><use href="#q10" transform="translate(1086.9 396.1)rotate(70)scale(3.2 2.2)" fill="#f3ecf3"/><use href="#q8" transform="translate(1134.4 339.4)rotate(329)scale(2.9 2.1)" fill="#ebe5eb"/><use href="#q10" transform="translate(1176 332.4)rotate(310)scale(3.2 2.1)" fill="#f0eaf0"/><use href="#q11" transform="translate(1109.5 420.7)rotate(11)scale(2.2 1.9)" fill="#ece6ec"/><use href="#q7" transform="translate(1228 317.1)rotate(12)scale(3.3 2.6)" fill="#e0dae0"/><use href="#q12" transform="translate(1247.4 317.7)rotate(13)scale(2.5 2)" fill="#ddd7dd"/><use href="#q10" transform="translate(1139.4 425.4)rotate(54)scale(1.9 1.8)" fill="#ece5ec"/><use href="#q7" transform="translate(1150.2 362.8)rotate(38)scale(2.5 1.9)" fill="#e4dee4"/><use href="#q10" transform="translate(1089.4 437)rotate(325)scale(2.5 2.2)" fill="#eae4ea"/><use href="#q10" transform="translate(1071.7 366.9)rotate(13)scale(2.2 2)" fill="#e4dee4"/><use href="#q10" transform="translate(1296.6 345.4)rotate(329)scale(3 2.1)" fill="#e6e0e6"/><use href="#q12" transform="translate(1296.2 423.9)rotate(19)scale(1.8 2.6)" fill="#e7e1e7"/><use href="#q11" transform="translate(1221.2 423.6)rotate(41)scale(1.9 1.4)" fill="#f1eaf1"/><use href="#q7" transform="translate(1167.1 416.5)rotate(73)scale(2.4 1.9)" fill="#e7e1e7"/><use href="#q8" transform="translate(1251.7 378.3)rotate(276)scale(2.5 2.2)" fill="#f0eaf0"/><use href="#q13" transform="translate(1172.8 401.3)rotate(59)scale(2.9 2.2)" fill="#ebe4eb"/><use href="#q7" transform="translate(1157.8 326)rotate(340)scale(3.5 2.6)" fill="#ede7ed"/><use href="#q9" transform="translate(1239.7 347.9)rotate(302)scale(2.9 2)" fill="#f1ebf1"/><use href="#q13" transform="translate(1176.9 410.8)rotate(307)scale(1.9 2.2)" fill="#efe9ef"/><use href="#q10" transform="translate(1100.4 318.3)rotate(11)scale(1.9 2.3)" fill="#e7e1e7"/><use href="#q8" transform="translate(1088.6 387.2)rotate(296)scale(2.2 1.9)" fill="#dfdadf"/><use href="#q8" transform="translate(1146.2 346.7)rotate(310)scale(3.4 1.8)" fill="#e7e1e7"/><use href="#q8" transform="translate(1168.1 428.2)rotate(24)scale(2.5 2.5)" fill="#e1dce1"/><use href="#q10" transform="translate(1120.4 365.4)rotate(280)scale(3.1 2.7)" fill="#dfd9df"/><use href="#q12" transform="translate(1271.9 389.9)rotate(75)scale(3.6 2.1)" fill="#ece6ec"/><use href="#q12" transform="translate(1123.6 373.2)rotate(79)scale(3.5 2.7)" fill="#ebe5eb"/><use href="#q13" transform="translate(1150.2 352.7)rotate(30)scale(1.9 2.3)" fill="#dfd9df"/><use href="#q12" transform="translate(1253.8 354.9)rotate(357)scale(2 2.2)" fill="#e3dde3"/><use href="#q8" transform="translate(1218.5 433.5)rotate(64)scale(2.1 1.7)" fill="#f5eef5"/><use href="#q7" transform="translate(1282.5 361.3)rotate(324)scale(2.4 2.2)" fill="#eae4ea"/><use href="#q12" transform="translate(1155.2 374.8)rotate(68)scale(2.3 2)" fill="#ece6ec"/><use href="#q10" transform="translate(1251.1 429.3)rotate(27)scale(2.5 2.2)" fill="#eae4ea"/><use href="#q8" transform="translate(1129.1 316.4)rotate(16)scale(2 2.6)" fill="#e9e3e9"/><use href="#q9" transform="translate(1167.6 322.5)rotate(306)scale(3.5 2.3)" fill="#ede7ed"/><use href="#q8" transform="translate(1065.9 409.5)rotate(28)scale(2.6 2.4)" fill="#f5eef5"/><use href="#q12" transform="translate(1085.8 402.8)rotate(348)scale(2.2 1.7)" fill="#efe8ef"/><use href="#q11" transform="translate(1265.7 323.2)rotate(335)scale(3.5 1.9)" fill="#e6e0e6"/><use href="#q11" transform="translate(1105.3 430.6)rotate(298)scale(2.5 1.8)" fill="#f5eef5"/><use href="#q11" transform="translate(1207.4 366.8)rotate(354)scale(2.3 1.7)" fill="#ded9de"/><use href="#q7" transform="translate(1177.9 372.5)rotate(6)scale(1.8 1.5)" fill="#e7e1e7"/><use href="#q11" transform="translate(1082.9 359.5)rotate(281)scale(3.5 2.2)" fill="#f2ebf2"/><use href="#q9" transform="translate(1093.8 391.5)rotate(334)scale(1.9 1.9)" fill="#ddd8dd"/><use href="#q13" transform="translate(1205.8 333.1)rotate(14)scale(2.8 1.4)" fill="#f0e9f0"/><use href="#q11" transform="translate(1211 327.4)rotate(286)scale(2 2.3)" fill="#ebe5eb"/><use href="#q9" transform="translate(1089.4 416.7)rotate(19)scale(2.4 1.6)" fill="#dad4da"/><use href="#q7" transform="translate(1078.9 390.6)rotate(283)scale(2.9 1.7)" fill="#f5eff5"/><use href="#q11" transform="translate(1279.7 425.8)rotate(73)scale(2.9 2.5)" fill="#f3edf3"/><use href="#q7" transform="translate(1275.3 370.5)rotate(11)scale(3.2 1.9)" fill="#f1eaf1"/><use href="#q8" transform="translate(1226.9 411.7)rotate(87)scale(2.1 2.2)" fill="#e0dae0"/><use href="#q11" transform="translate(1091.9 430.1)rotate(19)scale(2.3 1.8)" fill="#e3dee3"/><use href="#q10" transform="translate(1247.5 369.9)rotate(293)scale(3.2 1.6)" fill="#f0eaf0"/><use href="#q10" transform="translate(1125.7 402.1)rotate(9)scale(1.9 1.5)" fill="#e4dee4"/><use href="#q11" transform="translate(1074 412.7)rotate(313)scale(2.5 2.1)" fill="#f3edf3"/><use href="#q11" transform="translate(1295.9 350.3)rotate(351)scale(2.6 2.7)" fill="#f0eaf0"/><use href="#q10" transform="translate(1286.6 325.8)rotate(66)scale(2.9 1.7)" fill="#dcd6dc"/><use href="#q11" transform="translate(1266.8 349.6)rotate(21)scale(3 1.9)" fill="#e6e0e6"/><use href="#q8" transform="translate(1293 367.9)rotate(289)scale(2.9 2.4)" fill="#dcd6dc"/><use href="#q7" transform="translate(1282.3 319.5)rotate(41)scale(2.2 2.3)" fill="#efe9ef"/><use href="#q9" transform="translate(1213.5 380.6)rotate(279)scale(2.4 1.7)" fill="#e5dfe5"/><use href="#q11" transform="translate(1066.5 336.6)rotate(37)scale(3.4 2.4)" fill="#efe9ef"/><use href="#q12" transform="translate(1148.5 321.9)rotate(271)scale(2 2.1)" fill="#e7e1e7"/><use href="#q10" transform="translate(1299.5 408.5)rotate(315)scale(3 2.8)" fill="#ded8de"/><use href="#q8" transform="translate(1289 400.7)rotate(329)scale(2.5 2.2)" fill="#ede7ed"/><use href="#q12" transform="translate(1141.9 325)rotate(54)scale(3.2 1.6)" fill="#e5dfe5"/><use href="#q13" transform="translate(1236.1 329.4)rotate(11)scale(3 1.7)" fill="#ebe5eb"/><use href="#q9" transform="translate(1191.3 371.9)rotate(317)scale(2.8 1.5)" fill="#ebe5eb"/><use href="#q10" transform="translate(1178.6 324.7)rotate(64)scale(3.2 2.2)" fill="#e1dbe1"/><use href="#q11" transform="translate(1076.5 378.8)rotate(86)scale(2.9 1.8)" fill="#dfd9df"/><use href="#q13" transform="translate(1066 379.4)rotate(285)scale(2.5 2.5)" fill="#e3dde3"/><use href="#q7" transform="translate(1095.1 349.8)rotate(64)scale(3.3 2.6)" fill="#ede7ed"/><use href="#q9" transform="translate(1095.2 384.6)rotate(62)scale(3.1 1.6)" fill="#f0eaf0"/><use href="#q9" transform="translate(1152.8 342.7)rotate(305)scale(1.8 1.5)" fill="#f5eff5"/><use href="#q11" transform="translate(1112.4 384.1)rotate(308)scale(2.1 2.6)" fill="#efe9ef"/><use href="#q13" transform="translate(1279.5 366.5)rotate(34)scale(2.2 2.3)" fill="#e3dde3"/><use href="#q8" transform="translate(1098.2 354)rotate(40)scale(2.5 2.7)" fill="#e9e3e9"/><use href="#q11" transform="translate(1116.9 385.1)rotate(73)scale(3.3 2.7)" fill="#f5eef5"/><use href="#q9" transform="translate(1249.4 384.7)rotate(11)scale(3.2 1.8)" fill="#e4dee4"/><use href="#q13" transform="translate(1104.2 355.1)rotate(25)scale(3.2 2.1)" fill="#efe9ef"/><use href="#q7" transform="translate(1151.1 369.1)rotate(82)scale(3.1 2.2)" fill="#f5eef5"/><use href="#q7" transform="translate(1155 436.7)rotate(297)scale(2.9 1.8)" fill="#e0dae0"/><use href="#q7" transform="translate(1232.4 393.9)rotate(54)scale(2 1.4)" fill="#e4dee4"/><use href="#q13" transform="translate(1254 360.8)rotate(58)scale(3.1 2.2)" fill="#ebe5eb"/><use href="#q10" transform="translate(1098.4 391.5)rotate(305)scale(2.4 2.4)" fill="#f0eaf0"/><use href="#q7" transform="translate(1249.4 343)rotate(336)scale(2.8 1.6)" fill="#ece6ec"/><use href="#q12" transform="translate(1195.7 427.6)rotate(293)scale(2.5 1.8)" fill="#dad5da"/><use href="#q7" transform="translate(1129.8 372.8)rotate(284)scale(1.8 1.4)" fill="#f4eef4"/><use href="#q9" transform="translate(1234.3 420.5)rotate(324)scale(2.1 1.8)" fill="#e0dae0"/><use href="#q13" transform="translate(1087.7 329.2)rotate(299)scale(2.8 1.8)" fill="#dbd5db"/><use href="#q10" transform="translate(1297.1 321.7)rotate(85)scale(2 2.1)" fill="#e5dfe5"/><use href="#q8" transform="translate(1281.7 406.7)rotate(294)scale(3.5 1.9)" fill="#f1ebf1"/><use href="#q7" transform="translate(1222.6 404.2)rotate(40)scale(2.3 1.5)" fill="#e2dde2"/><use href="#q13" transform="translate(1166.2 340.1)rotate(36)scale(2.5 2.3)" fill="#e6e0e6"/><use href="#q8" transform="translate(1267.1 410.1)rotate(51)scale(2 2.6)" fill="#ede7ed"/><use href="#q12" transform="translate(1202.3 346.6)rotate(83)scale(2.1 1.6)" fill="#e0dbe0"/><use href="#q13" transform="translate(1250.4 406)rotate(352)scale(2.7 2)" fill="#e9e3e9"/><use href="#q9" transform="translate(1300 401.6)rotate(47)scale(3.6 1.4)" fill="#ddd7dd"/><use href="#q13" transform="translate(1087 430.7)rotate(9)scale(1.8 1.8)" fill="#e7e1e7"/><use href="#q13" transform="translate(1065.4 427.4)rotate(342)scale(2.2 2)" fill="#e7e1e7"/><use href="#q7" transform="translate(1260.6 321.9)rotate(271)scale(2.1 2.1)" fill="#f0eaf0"/><use href="#q8" transform="translate(1092.4 316.8)rotate(4)scale(2.1 1.7)" fill="#e7e1e7"/><use href="#q11" transform="translate(1075.1 315.9)rotate(55)scale(2 1.5)" fill="#efe8ef"/><use href="#q7" transform="translate(1090.7 366.5)rotate(59)scale(2.9 2.6)" fill="#e4dee4"/><use href="#q12" transform="translate(1151.7 387.7)rotate(330)scale(2.9 1.4)" fill="#ede7ed"/><use href="#q10" transform="translate(1195.3 391.7)rotate(10)scale(2.1 1.6)" fill="#eee7ee"/><use href="#q8" transform="translate(1091.8 423.4)rotate(70)scale(2.3 2.7)" fill="#f0eaf0"/><use href="#q10" transform="translate(1105.3 370)rotate(329)scale(2.9 2.6)" fill="#dcd7dc"/><use href="#q7" transform="translate(1254.7 385.5)rotate(285)scale(1.9 2.2)" fill="#e8e2e8"/><use href="#q10" transform="translate(1288.6 413.9)rotate(339)scale(2.4 1.5)" fill="#f0eaf0"/><use href="#q8" transform="translate(1183.2 330.2)rotate(352)scale(2.8 1.8)" fill="#efe8ef"/><use href="#q13" transform="translate(1202.4 373.1)rotate(75)scale(1.8 1.4)" fill="#ddd8dd"/><use href="#q7" transform="translate(1172.7 417.8)rotate(8)scale(2.3 2)" fill="#f5eff5"/><use href="#q10" transform="translate(1276.8 334.3)rotate(321)scale(3.3 2.7)" fill="#e0dae0"/><use href="#q13" transform="translate(1281.6 421.2)rotate(34)scale(3.1 1.7)" fill="#eee8ee"/><use href="#q12" transform="translate(1119.7 331.7)rotate(337)scale(3.5 1.8)" fill="#eee8ee"/><use href="#q9" transform="translate(1148.6 419.4)rotate(83)scale(3.4 2.8)" fill="#ded8de"/><use href="#q10" transform="translate(1146.6 316.3)rotate(346)scale(2.5 1.6)" fill="#e1dce1"/><use href="#q8" transform="translate(1132.6 325.6)rotate(29)scale(3.3 2.4)" fill="#ebe5eb"/><use href="#q8" transform="translate(1209.6 408.9)rotate(276)scale(2.2 1.4)" fill="#eee8ee"/><use href="#q8" transform="translate(1150.9 330.9)rotate(336)scale(2.6 2)" fill="#e4dee4"/><use href="#q12" transform="translate(1279.5 417.2)rotate(291)scale(3.5 2.1)" fill="#e8e2e8"/><use href="#q9" transform="translate(1184.7 431.4)rotate(296)scale(3.3 2.4)" fill="#e7e1e7"/><use href="#q8" transform="translate(1184.8 409.9)rotate(86)scale(3.4 1.7)" fill="#f5eff5"/><use href="#q9" transform="translate(1177 359.8)rotate(71)scale(2.2 1.5)" fill="#e2dce2"/><use href="#q9" transform="translate(1299.8 417.8)rotate(303)scale(3.6 2.4)" fill="#f1ebf1"/><use href="#q12" transform="translate(1202.1 420.9)rotate(71)scale(3.3 1.5)" fill="#f0eaf0"/><use href="#q7" transform="translate(1216.2 412.5)rotate(309)scale(2.3 2.7)" fill="#e0dae0"/><use href="#q10" transform="translate(1074.8 331.6)rotate(20)scale(2.7 1.5)" fill="#f2ecf2"/><use href="#q12" transform="translate(1233.2 334.4)rotate(42)scale(3.3 1.8)" fill="#e9e3e9"/><use href="#q10" transform="translate(1079.6 434.6)rotate(354)scale(2.7 1.5)" fill="#e6e0e6"/><use href="#q11" transform="translate(1219.9 330.8)rotate(279)scale(2.7 2.8)" fill="#eae4ea"/><use href="#q10" transform="translate(1143.8 334.8)rotate(322)scale(2.6 2.3)" fill="#dfd9df"/><use href="#q11" transform="translate(1235.2 426.9)rotate(12)scale(2.1 1.8)" fill="#f4eef4"/><use href="#q12" transform="translate(1101.1 337.9)rotate(88)scale(2.1 2.2)" fill="#e0dbe0"/><use href="#q8" transform="translate(1211.2 419.9)rotate(332)scale(1.9 2)" fill="#e4dee4"/><use href="#q13" transform="translate(1237.9 371.2)rotate(62)scale(3.3 1.8)" fill="#ddd7dd"/><use href="#q12" transform="translate(1197.3 404.7)rotate(36)scale(1.9 1.5)" fill="#e4dee4"/><use href="#q12" transform="translate(1294.2 391.6)rotate(76)scale(2.7 1.5)" fill="#ded8de"/><use href="#q10" transform="translate(1279.8 348.9)rotate(314)scale(2.3 1.5)" fill="#dad4da"/><use href="#q13" transform="translate(1059 422.7)rotate(11)scale(3 1.5)" fill="#f4eef4"/><use href="#q9" transform="translate(1065.8 436.2)rotate(0)scale(3.5 1.8)" fill="#f2ebf2"/><use href="#q12" transform="translate(1083.3 417)rotate(341)scale(1.9 1.8)" fill="#dad4da"/><use href="#q7" transform="translate(1094.3 396.6)rotate(274)scale(2.1 1.7)" fill="#f3ecf3"/><use href="#q8" transform="translate(1172.4 364.7)rotate(353)scale(2.6 1.7)" fill="#ece6ec"/><use href="#q8" transform="translate(1261.9 328.2)rotate(24)scale(3.4 2.3)" fill="#e7e1e7"/></g><g filter="url(#bl1)" opacity="0.55"><use href="#q13" transform="translate(1064.7 384.1)rotate(40)scale(6.1 5.8)" fill="#a29fd0"/><use href="#q8" transform="translate(1115.1 329.9)rotate(89)scale(5.5 5.8)" fill="#9a98c6"/><use href="#q8" transform="translate(1160.4 394.1)rotate(56)scale(7.8 4.8)" fill="#9593c0"/><use href="#q8" transform="translate(1069.1 410.6)rotate(56)scale(6.1 4.7)" fill="#9896c4"/><use href="#q9" transform="translate(1153.7 383.9)rotate(32)scale(6.1 4.7)" fill="#9593c0"/><use href="#q9" transform="translate(1193.1 375.1)rotate(347)scale(7.3 4.2)" fill="#9997c5"/><use href="#q8" transform="translate(1084.1 322.7)rotate(314)scale(6.3 4.5)" fill="#a09ece"/><use href="#q11" transform="translate(1126.8 436.5)rotate(301)scale(6.7 4.9)" fill="#9e9ccb"/><use href="#q7" transform="translate(1209.3 326.1)rotate(347)scale(5.6 4.1)" fill="#9d9bca"/><use href="#q12" transform="translate(1114.8 399.1)rotate(67)scale(7.1 5.5)" fill="#9f9dcc"/><use href="#q13" transform="translate(1281.5 434.2)rotate(54)scale(5.3 4.1)" fill="#9d9bca"/><use href="#q7" transform="translate(1189.3 422.4)rotate(289)scale(7.7 5.8)" fill="#9e9ccc"/><use href="#q12" transform="translate(1278.4 352)rotate(301)scale(7 4.4)" fill="#8f8eb9"/><use href="#q12" transform="translate(1179.7 339)rotate(0)scale(6.8 5.5)" fill="#9f9dcc"/><use href="#q10" transform="translate(1246.9 426)rotate(312)scale(5.1 4.5)" fill="#a2a0d1"/><use href="#q7" transform="translate(1231.4 357.2)rotate(313)scale(6.2 4.9)" fill="#9694c1"/><use href="#q9" transform="translate(1246 363.5)rotate(319)scale(7.2 5.2)" fill="#9f9dcd"/><use href="#q9" transform="translate(1102.9 367.9)rotate(60)scale(6.5 4.7)" fill="#9e9ccb"/><use href="#q13" transform="translate(1161.6 318.1)rotate(55)scale(6.7 4.1)" fill="#9391bd"/><use href="#q10" transform="translate(1262.4 360.4)rotate(5)scale(5.8 5.4)" fill="#908eb9"/><use href="#q7" transform="translate(1090.9 395.5)rotate(306)scale(6.5 4.5)" fill="#8f8db8"/><use href="#q13" transform="translate(1174 370.1)rotate(49)scale(5.8 5.5)" fill="#9997c5"/><use href="#q11" transform="translate(1140.3 336.2)rotate(299)scale(7.9 5)" fill="#8f8db8"/><use href="#q8" transform="translate(1273.7 328.5)rotate(28)scale(5.4 5.1)" fill="#9594c0"/><use href="#q8" transform="translate(1076.5 372.5)rotate(34)scale(6.5 5.3)" fill="#9f9dcd"/><use href="#q8" transform="translate(1287.3 420.3)rotate(78)scale(8 4.9)" fill="#9a98c6"/><use href="#q13" transform="translate(1287.6 338.7)rotate(36)scale(6.2 5)" fill="#a2a0d0"/><use href="#q9" transform="translate(1140.7 430.4)rotate(329)scale(6.5 4.9)" fill="#9a98c6"/><use href="#q7" transform="translate(1243 394.9)rotate(315)scale(5.3 5.2)" fill="#9795c3"/><use href="#q9" transform="translate(1219.8 400.9)rotate(35)scale(7.3 4.6)" fill="#a09ece"/><use href="#q13" transform="translate(1263.4 391.4)rotate(292)scale(7.4 5.9)" fill="#a2a0d1"/><use href="#q7" transform="translate(1091 407.9)rotate(50)scale(6.1 4.7)" fill="#9290bc"/><use href="#q7" transform="translate(1096.1 317)rotate(19)scale(7.1 4.8)" fill="#9a98c7"/><use href="#q13" transform="translate(1132 347.9)rotate(58)scale(7.5 4.8)" fill="#a19fcf"/><use href="#q7" transform="translate(1257.9 409.4)rotate(308)scale(6.1 4.3)" fill="#9593c0"/><use href="#q11" transform="translate(1059 361.5)rotate(287)scale(7.7 4.5)" fill="#a19fd0"/><use href="#q7" transform="translate(1207.4 352.4)rotate(68)scale(7.8 4.8)" fill="#9795c3"/><use href="#q7" transform="translate(1075.7 352.2)rotate(77)scale(5.5 5.7)" fill="#a09ece"/><use href="#q10" transform="translate(1093.5 341.7)rotate(40)scale(7.7 5.2)" fill="#9896c3"/><use href="#q13" transform="translate(1222.1 318.6)rotate(299)scale(5.2 5.8)" fill="#a2a0d0"/><use href="#q13" transform="translate(1168.5 381.9)rotate(80)scale(7.4 4.8)" fill="#9d9bca"/><use href="#q9" transform="translate(1072.9 334.8)rotate(84)scale(7.3 4.7)" fill="#9594c0"/><use href="#q13" transform="translate(1109.3 384.2)rotate(295)scale(7.5 4.7)" fill="#9f9ccc"/><use href="#q13" transform="translate(1223.5 341.1)rotate(87)scale(6.3 5.1)" fill="#9896c4"/><use href="#q8" transform="translate(1102.2 329.1)rotate(319)scale(6.4 4.1)" fill="#a4a2d4"/></g><g filter="url(#bl07)" stroke="#ece6ee" stroke-width="1.5" stroke-opacity="0.85" paint-order="stroke"><use href="#q0" transform="translate(1173 352.9)rotate(7)scale(5.3 4.5)" fill="url(#n5a)"/><use href="#q3" transform="translate(1180.1 365.4)rotate(345)scale(7.9 5.9)" fill="url(#n6b)"/><use href="#q3" transform="translate(1164.7 375.8)rotate(63)scale(7.4 4.1)" fill="url(#n6b)"/><use href="#q4" transform="translate(1281 397)rotate(20)scale(5.7 4.1)" fill="url(#n5a)"/><use href="#q2" transform="translate(1226.5 396.1)rotate(63)scale(5.4 4.4)" fill="url(#n5a)"/><use href="#q0" transform="translate(1068.5 328.7)rotate(299)scale(5.4 5.1)" fill="url(#n6b)"/><use href="#q2" transform="translate(1290.2 349.6)rotate(88)scale(6.9 5.7)" fill="url(#n5a)"/><use href="#q5" transform="translate(1058.9 420.8)rotate(332)scale(5.9 4.2)" fill="url(#n6a)"/><use href="#q4" transform="translate(1293.6 397.3)rotate(340)scale(6.9 5.4)" fill="url(#n6b)"/><use href="#q1" transform="translate(1250.9 353.1)rotate(53)scale(6.3 5.5)" fill="url(#n6a)"/><use href="#q6" transform="translate(1146.2 383.7)rotate(275)scale(6.5 4.8)" fill="url(#n5a)"/><use href="#q1" transform="translate(1081.1 352.9)rotate(88)scale(7.1 4.1)" fill="url(#n6b)"/><use href="#q5" transform="translate(1209.8 361.6)rotate(62)scale(7.9 5.1)" fill="url(#n6a)"/><use href="#q5" transform="translate(1215.4 432.4)rotate(319)scale(7.6 5.5)" fill="url(#n6b)"/><use href="#q4" transform="translate(1299.9 433.4)rotate(44)scale(6.1 4.4)" fill="url(#n6b)"/><use href="#q4" transform="translate(1148.1 334.8)rotate(317)scale(5.3 4.6)" fill="url(#n5a)"/><use href="#q0" transform="translate(1061.8 360.2)rotate(281)scale(6.7 5.1)" fill="url(#n5a)"/><use href="#q5" transform="translate(1166.6 330.9)rotate(79)scale(7 4.7)" fill="url(#n5a)"/><use href="#q0" transform="translate(1119.5 423.7)rotate(329)scale(5.6 4.3)" fill="url(#n5a)"/><use href="#q1" transform="translate(1255.5 432.5)rotate(19)scale(5.3 5.5)" fill="url(#n6b)"/><use href="#q3" transform="translate(1185.6 340.9)rotate(356)scale(6.6 5.4)" fill="url(#n6a)"/><use href="#q0" transform="translate(1199.4 344.1)rotate(285)scale(5.6 5.5)" fill="url(#n6b)"/><use href="#q1" transform="translate(1131.4 355.1)rotate(52)scale(7.5 5.3)" fill="url(#n5a)"/><use href="#q2" transform="translate(1263.9 334.6)rotate(25)scale(7.4 4.5)" fill="url(#n6a)"/><use href="#q2" transform="translate(1075.6 379.2)rotate(89)scale(7.1 4.8)" fill="url(#n6b)"/><use href="#q1" transform="translate(1103.6 437)rotate(351)scale(6.5 5.2)" fill="url(#n6a)"/><use href="#q1" transform="translate(1104.5 395.3)rotate(329)scale(5.7 4.5)" fill="url(#n5a)"/><use href="#q5" transform="translate(1225.2 421.5)rotate(52)scale(6.1 5.8)" fill="url(#n6b)"/><use href="#q3" transform="translate(1177.8 423.4)rotate(355)scale(7.5 5.1)" fill="url(#n5a)"/><use href="#q6" transform="translate(1133.6 413.2)rotate(58)scale(6.6 5.8)" fill="url(#n5a)"/><use href="#q1" transform="translate(1268.5 423.5)rotate(0)scale(6.1 4.3)" fill="url(#n6a)"/><use href="#q3" transform="translate(1132.5 372.8)rotate(36)scale(5.1 5.7)" fill="url(#n6a)"/><use href="#q0" transform="translate(1266.6 349.8)rotate(10)scale(7.3 5.3)" fill="url(#n6b)"/><use href="#q5" transform="translate(1288.2 418)rotate(14)scale(6.9 4.2)" fill="url(#n6a)"/><use href="#q5" transform="translate(1096.5 345.6)rotate(311)scale(5 5.8)" fill="url(#n6b)"/><use href="#q5" transform="translate(1219.8 337.8)rotate(79)scale(5.4 5.9)" fill="url(#n6a)"/><use href="#q0" transform="translate(1203.2 399.3)rotate(278)scale(5 5.8)" fill="url(#n6a)"/><use href="#q4" transform="translate(1249.1 322.3)rotate(22)scale(5.4 5)" fill="url(#n5a)"/><use href="#q1" transform="translate(1220.2 373.9)rotate(3)scale(7.6 5.7)" fill="url(#n6a)"/><use href="#q5" transform="translate(1116.4 317.8)rotate(348)scale(7.4 5)" fill="url(#n6a)"/><use href="#q1" transform="translate(1290.7 333.7)rotate(307)scale(7.3 5.1)" fill="url(#n6a)"/><use href="#q2" transform="translate(1093.2 328.8)rotate(356)scale(5.8 6)" fill="url(#n5a)"/><use href="#q6" transform="translate(1243.6 341.6)rotate(292)scale(6.2 5.1)" fill="url(#n6b)"/><use href="#q0" transform="translate(1226.2 351.7)rotate(76)scale(7 5.3)" fill="url(#n5a)"/><use href="#q1" transform="translate(1093.4 388.5)rotate(279)scale(5.4 5.1)" fill="url(#n6a)"/><use href="#q3" transform="translate(1212.8 416.9)rotate(323)scale(5.7 5.7)" fill="url(#n6a)"/><use href="#q3" transform="translate(1290.1 374.5)rotate(316)scale(7 4.1)" fill="url(#n6b)"/><use href="#q0" transform="translate(1063 434)rotate(86)scale(6.6 4.9)" fill="url(#n5a)"/><use href="#q6" transform="translate(1237.5 402)rotate(341)scale(5.1 4.4)" fill="url(#n6b)"/><use href="#q5" transform="translate(1091.1 372.1)rotate(78)scale(7.6 5)" fill="url(#n5a)"/><use href="#q5" transform="translate(1132.6 318.2)rotate(348)scale(6.5 5.1)" fill="url(#n6b)"/><use href="#q2" transform="translate(1153.4 361.8)rotate(54)scale(7.8 4.2)" fill="url(#n5a)"/><use href="#q2" transform="translate(1244 374.4)rotate(288)scale(7.5 4.6)" fill="url(#n6a)"/><use href="#q4" transform="translate(1136.3 396)rotate(329)scale(5.2 5.3)" fill="url(#n6b)"/><use href="#q0" transform="translate(1201.1 428.6)rotate(48)scale(5.9 6)" fill="url(#n5a)"/><use href="#q6" transform="translate(1190 390.5)rotate(281)scale(6.5 4.1)" fill="url(#n5a)"/><use href="#q4" transform="translate(1216.7 317.2)rotate(57)scale(7.6 6)" fill="url(#n6b)"/><use href="#q4" transform="translate(1124.6 390.5)rotate(276)scale(6.2 4.3)" fill="url(#n5a)"/><use href="#q6" transform="translate(1076.3 398)rotate(327)scale(6.4 5.4)" fill="url(#n5a)"/><use href="#q6" transform="translate(1121.5 346.2)rotate(350)scale(6.6 5)" fill="url(#n6a)"/><use href="#q3" transform="translate(1261.8 366.9)rotate(322)scale(5.7 6)" fill="url(#n5a)"/><use href="#q0" transform="translate(1157.4 415.9)rotate(55)scale(6.1 5.7)" fill="url(#n6a)"/><use href="#q3" transform="translate(1119.1 365.9)rotate(37)scale(5.3 6)" fill="url(#n5a)"/><use href="#q3" transform="translate(1093.7 415.3)rotate(308)scale(6.5 4.2)" fill="url(#n5a)"/><use href="#q1" transform="translate(1251.5 406.3)rotate(312)scale(7.5 5)" fill="url(#n6b)"/><use href="#q5" transform="translate(1240.8 362.5)rotate(59)scale(5.1 4.1)" fill="url(#n6b)"/><use href="#q1" transform="translate(1107.1 360.5)rotate(20)scale(6.5 5.1)" fill="url(#n5a)"/><use href="#q3" transform="translate(1170.9 399)rotate(342)scale(5.1 4.3)" fill="url(#n6b)"/><use href="#q6" transform="translate(1154.8 429.8)rotate(70)scale(7.3 4.7)" fill="url(#n5a)"/><use href="#q5" transform="translate(1242 389)rotate(339)scale(7.4 4.1)" fill="url(#n6a)"/><use href="#q1" transform="translate(1198 415.7)rotate(282)scale(5.5 4.4)" fill="url(#n5a)"/><use href="#q4" transform="translate(1293 362)rotate(62)scale(7.9 4.2)" fill="url(#n6b)"/><use href="#q2" transform="translate(1242.3 426.6)rotate(274)scale(7.8 5.7)" fill="url(#n5a)"/><use href="#q5" transform="translate(1262.6 387.6)rotate(275)scale(6.2 4)" fill="url(#n6a)"/><use href="#q6" transform="translate(1121.1 332)rotate(79)scale(5.6 5.2)" fill="url(#n6b)"/><use href="#q1" transform="translate(1144.8 407.9)rotate(16)scale(5.4 4.6)" fill="url(#n6a)"/><use href="#q5" transform="translate(1198.8 374)rotate(337)scale(6.3 4.9)" fill="url(#n6b)"/><use href="#q4" transform="translate(1275.4 318.1)rotate(310)scale(5.9 4.2)" fill="url(#n6b)"/><use href="#q3" transform="translate(1272.1 410.5)rotate(295)scale(7.1 4.6)" fill="url(#n5a)"/><use href="#q5" transform="translate(1081.1 321.9)rotate(31)scale(5.9 5.4)" fill="url(#n6b)"/><use href="#q0" transform="translate(1230.7 381.5)rotate(7)scale(6.8 4.6)" fill="url(#n6a)"/><use href="#q3" transform="translate(1137.6 344)rotate(298)scale(5 5.8)" fill="url(#n5a)"/><use href="#q0" transform="translate(1122.8 402.7)rotate(73)scale(5.9 5.6)" fill="url(#n6b)"/><use href="#q4" transform="translate(1187 315.9)rotate(330)scale(6.3 5.3)" fill="url(#n6b)"/><use href="#q4" transform="translate(1192.7 328.5)rotate(333)scale(7 4.6)" fill="url(#n6b)"/><use href="#q5" transform="translate(1157 402.4)rotate(55)scale(5.6 5.2)" fill="url(#n5a)"/><use href="#q2" transform="translate(1190 356.2)rotate(275)scale(7.9 4.4)" fill="url(#n5a)"/><use href="#q4" transform="translate(1064.1 388.1)rotate(8)scale(5.3 4.7)" fill="url(#n6b)"/><use href="#q1" transform="translate(1203.4 318.4)rotate(359)scale(8 5.7)" fill="url(#n5a)"/><use href="#q3" transform="translate(1273.4 379)rotate(352)scale(6.2 5.4)" fill="url(#n6a)"/><use href="#q2" transform="translate(1211.9 385.9)rotate(33)scale(5.9 5.7)" fill="url(#n6a)"/><use href="#q1" transform="translate(1085.3 431.1)rotate(81)scale(5.1 4.6)" fill="url(#n5a)"/></g><g filter="url(#bl07)"><use href="#q9" transform="translate(1216.6 373.4)rotate(21)scale(4.7 1.8)" fill="#2a2860"/><use href="#q10" transform="translate(1222.6 320.3)rotate(47)scale(4.2 1.5)" fill="#27255b"/><use href="#q13" transform="translate(1164.1 323.2)rotate(75)scale(3.1 1.2)" fill="#2b2963"/><use href="#q11" transform="translate(1257.9 381.8)rotate(60)scale(4.3 1.6)" fill="#262558"/><use href="#q7" transform="translate(1127.6 348.8)rotate(56)scale(3.3 1.7)" fill="#272559"/><use href="#q10" transform="translate(1275.3 406)rotate(16)scale(4.6 1.5)" fill="#28265b"/><use href="#q11" transform="translate(1164.4 351.6)rotate(305)scale(3.8 2.1)" fill="#28265d"/><use href="#q11" transform="translate(1067.2 381.2)rotate(89)scale(2.9 1.3)" fill="#2b2963"/><use href="#q7" transform="translate(1293 377.8)rotate(327)scale(4.9 2.2)" fill="#2a2861"/><use href="#q11" transform="translate(1088.3 402.3)rotate(24)scale(2.1 2)" fill="#2b2963"/><use href="#q10" transform="translate(1060.8 412)rotate(312)scale(4 1.2)" fill="#2b2962"/><use href="#q11" transform="translate(1249.2 321.8)rotate(294)scale(4.8 2.3)" fill="#2d2a66"/><use href="#q9" transform="translate(1167.2 424.7)rotate(80)scale(5 1.6)" fill="#2c2a64"/><use href="#q12" transform="translate(1270.8 321.6)rotate(351)scale(4 1.6)" fill="#272559"/><use href="#q10" transform="translate(1240 378.6)rotate(353)scale(4.7 2.2)" fill="#2a2861"/><use href="#q7" transform="translate(1124.1 326.3)rotate(347)scale(4.3 1.8)" fill="#2b2962"/></g></g><rect x="1058.6" y="315.6" width="242.6" height="121.4" fill="none" stroke="#3a3a3a" stroke-width="1"/>
<clipPath id="cb7"><rect x="806.6" y="446.6" width="243.1" height="121.3"/></clipPath><g clip-path="url(#cb7)"><rect x="806.6" y="446.6" width="243.1" height="121.3" fill="#000214"/><g filter="url(#bl12)"><use href="#q0" transform="translate(885.3 464.9)rotate(132)scale(7.3 4.4)" fill="#0c1aff"/><use href="#q6" transform="translate(964.8 455.4)rotate(75)scale(6.5 4.3)" fill="#0b19fb"/><use href="#q2" transform="translate(936.9 491)rotate(132)scale(6.7 5)" fill="#0d1dff"/><use href="#q1" transform="translate(820.7 508.2)rotate(65)scale(7.2 4.3)" fill="#0914c9"/><use href="#q3" transform="translate(815.7 499.2)rotate(42)scale(6.6 4.2)" fill="#0914cc"/><use href="#q1" transform="translate(823.6 457.6)rotate(126)scale(5.5 4.8)" fill="#0c1bff"/><use href="#q0" transform="translate(909.8 546.9)rotate(52)scale(5.6 3.9)" fill="#0914cc"/><use href="#q1" transform="translate(836.7 473.7)rotate(74)scale(7 5.3)" fill="#0a15d6"/><use href="#q0" transform="translate(959.1 561.6)rotate(41)scale(5.7 4.9)" fill="#0b17eb"/><use href="#q3" transform="translate(946.9 494.7)rotate(114)scale(5.5 4.4)" fill="#0c1bff"/><use href="#q6" transform="translate(1043.9 452.3)rotate(57)scale(6.5 5.2)" fill="#0d1eff"/><use href="#q4" transform="translate(1015.3 481.7)rotate(73)scale(5.1 4.9)" fill="#0b19fe"/><use href="#q2" transform="translate(841.7 460.9)rotate(127)scale(6 5.4)" fill="#0914c9"/><use href="#q5" transform="translate(881.6 545.6)rotate(45)scale(6.4 5.5)" fill="#0c1bff"/><use href="#q4" transform="translate(850.5 517.1)rotate(41)scale(7.1 4.1)" fill="#0a16de"/><use href="#q4" transform="translate(961.9 491.8)rotate(121)scale(6.9 4)" fill="#0b19f6"/><use href="#q4" transform="translate(939.8 454.2)rotate(55)scale(6.7 5.3)" fill="#0e1fff"/><use href="#q6" transform="translate(821.1 471.6)rotate(65)scale(5.8 5.1)" fill="#0d1cff"/><use href="#q5" transform="translate(972 498.5)rotate(105)scale(5.1 4.9)" fill="#0c1aff"/><use href="#q1" transform="translate(883 517.6)rotate(92)scale(6.1 4.3)" fill="#0e1fff"/><use href="#q2" transform="translate(916.8 483)rotate(49)scale(5.6 4.7)" fill="#0d1dff"/><use href="#q0" transform="translate(999.7 531.4)rotate(80)scale(5.4 4.9)" fill="#0e1fff"/><use href="#q6" transform="translate(865.9 516.3)rotate(94)scale(6.6 4)" fill="#0a16dd"/><use href="#q1" transform="translate(934.3 552.8)rotate(76)scale(5.5 5.4)" fill="#0a15d7"/><use href="#q2" transform="translate(983.9 481.5)rotate(117)scale(7.2 5.3)" fill="#0c1aff"/><use href="#q5" transform="translate(843.5 505.9)rotate(138)scale(6.9 4.2)" fill="#0b19fe"/><use href="#q6" transform="translate(816.1 527.7)rotate(78)scale(7.3 5.3)" fill="#0a16de"/><use href="#q5" transform="translate(992.5 516.1)rotate(113)scale(7.3 4)" fill="#0915ce"/><use href="#q3" transform="translate(975.6 518.7)rotate(75)scale(7.3 4.9)" fill="#0a16e0"/><use href="#q1" transform="translate(1010.8 561.2)rotate(134)scale(6 5.4)" fill="#0c1bff"/><use href="#q2" transform="translate(921.9 527.2)rotate(110)scale(5.1 3.8)" fill="#0a17e2"/><use href="#q3" transform="translate(900.4 527.7)rotate(104)scale(5.5 5.1)" fill="#0a17e8"/><use href="#q6" transform="translate(820.9 539.8)rotate(55)scale(5.5 4.8)" fill="#0d1eff"/><use href="#q0" transform="translate(901.6 552.3)rotate(53)scale(6.9 5.4)" fill="#0a17e8"/><use href="#q5" transform="translate(1005.8 551.4)rotate(129)scale(5.8 4.6)" fill="#0a16d9"/><use href="#q6" transform="translate(874.3 497)rotate(61)scale(6.5 5.4)" fill="#0914cc"/><use href="#q6" transform="translate(1039.4 464.9)rotate(76)scale(5.5 5.3)" fill="#0d1dff"/><use href="#q5" transform="translate(849.4 474.7)rotate(53)scale(6.1 4.5)" fill="#0e1eff"/><use href="#q2" transform="translate(863.3 505.4)rotate(137)scale(5.1 4)" fill="#0914c7"/><use href="#q5" transform="translate(949.8 478.5)rotate(49)scale(5.4 5.1)" fill="#0a16d9"/><use href="#q3" transform="translate(896.4 515.3)rotate(104)scale(6 4.5)" fill="#0c1bff"/><use href="#q6" transform="translate(1038.3 530.4)rotate(43)scale(7.2 5.5)" fill="#0a16e1"/><use href="#q4" transform="translate(931.9 521.5)rotate(53)scale(6.6 3.8)" fill="#0c1bff"/><use href="#q2" transform="translate(1025.3 541.2)rotate(41)scale(6.1 4)" fill="#0e1fff"/><use href="#q4" transform="translate(902 495)rotate(135)scale(5.2 4)" fill="#0e1fff"/><use href="#q5" transform="translate(831.8 523.5)rotate(108)scale(6.1 4.1)" fill="#0a15d7"/><use href="#q0" transform="translate(857.4 466.3)rotate(92)scale(6.4 5.5)" fill="#0d1dff"/><use href="#q5" transform="translate(889.3 453)rotate(136)scale(5.9 4.2)" fill="#0e1eff"/><use href="#q0" transform="translate(806.7 464.9)rotate(41)scale(5.2 5)" fill="#0a17e5"/><use href="#q2" transform="translate(831.3 490.7)rotate(118)scale(5.5 3.9)" fill="#0e1fff"/><use href="#q4" transform="translate(812.8 552.7)rotate(105)scale(5 5)" fill="#0c1aff"/><use href="#q2" transform="translate(955.9 464.6)rotate(139)scale(5.8 4.5)" fill="#0d1cff"/><use href="#q3" transform="translate(867.9 488.7)rotate(81)scale(6 4.3)" fill="#0e1fff"/><use href="#q5" transform="translate(895.1 461.5)rotate(120)scale(6.9 5.3)" fill="#0e1eff"/><use href="#q4" transform="translate(919.9 505.3)rotate(132)scale(5 4.8)" fill="#0a17e3"/><use href="#q0" transform="translate(889.9 478.7)rotate(122)scale(6.8 5.5)" fill="#0c1bff"/><use href="#q5" transform="translate(1008.1 466.2)rotate(130)scale(7.1 5.1)" fill="#0914cc"/><use href="#q3" transform="translate(812.2 562)rotate(84)scale(6.4 5)" fill="#0c1bff"/><use href="#q4" transform="translate(935 464.4)rotate(114)scale(7.4 3.8)" fill="#0d1eff"/><use href="#q6" transform="translate(935 565.3)rotate(77)scale(5.9 4.7)" fill="#0d1dff"/><use href="#q4" transform="translate(1016.5 531)rotate(111)scale(6.9 4.4)" fill="#0b18f3"/><use href="#q6" transform="translate(847.2 540.2)rotate(122)scale(5.7 4.9)" fill="#0915ce"/><use href="#q6" transform="translate(936.1 541.1)rotate(101)scale(6.4 4.2)" fill="#0a17e4"/><use href="#q1" transform="translate(1013.9 544.4)rotate(92)scale(6.2 5)" fill="#0b19fc"/><use href="#q1" transform="translate(813.4 480.5)rotate(115)scale(7.5 3.9)" fill="#0b18ef"/><use href="#q6" transform="translate(869.6 530.6)rotate(63)scale(6.3 5.2)" fill="#0a16da"/><use href="#q5" transform="translate(1039.1 500.8)rotate(134)scale(6.7 4.1)" fill="#0d1eff"/><use href="#q6" transform="translate(1034.4 566.4)rotate(78)scale(7.2 3.9)" fill="#0d1dff"/><use href="#q2" transform="translate(1038.8 490.8)rotate(110)scale(6.1 4.5)" fill="#0b18f0"/><use href="#q0" transform="translate(1010.9 504.8)rotate(92)scale(5.9 5.2)" fill="#0b19f9"/><use href="#q5" transform="translate(965.3 543.6)rotate(84)scale(5.7 4.3)" fill="#0915d3"/><use href="#q5" transform="translate(989 504.6)rotate(115)scale(6.2 5.2)" fill="#0a15d7"/><use href="#q4" transform="translate(904.2 561.4)rotate(106)scale(5.3 4.6)" fill="#0c1bff"/><use href="#q4" transform="translate(982.8 467.2)rotate(41)scale(5.9 4.4)" fill="#0a16dd"/><use href="#q2" transform="translate(838.4 448.3)rotate(70)scale(5.6 4.8)" fill="#0c1aff"/><use href="#q3" transform="translate(838.5 557)rotate(83)scale(5.6 4.3)" fill="#0c1aff"/><use href="#q4" transform="translate(892.6 502.2)rotate(82)scale(7.1 4.1)" fill="#0d1dff"/><use href="#q0" transform="translate(948.4 556.3)rotate(111)scale(7 5.4)" fill="#0b18f1"/><use href="#q6" transform="translate(928.6 511.1)rotate(80)scale(6.8 4.3)" fill="#0c1bff"/><use href="#q4" transform="translate(913.6 468.8)rotate(124)scale(5.6 4.2)" fill="#0a15d5"/><use href="#q5" transform="translate(807.6 543.5)rotate(111)scale(5.5 5.5)" fill="#0b18f0"/><use href="#q3" transform="translate(1028.4 500.4)rotate(47)scale(5.5 5.3)" fill="#0b19f8"/><use href="#q0" transform="translate(955.5 507.9)rotate(130)scale(6.3 4.6)" fill="#0d1cff"/><use href="#q3" transform="translate(922.8 560.8)rotate(133)scale(5.3 4.8)" fill="#0d1cff"/><use href="#q3" transform="translate(976.6 552.9)rotate(129)scale(6 4.6)" fill="#0b19f8"/><use href="#q1" transform="translate(1035.6 478.1)rotate(40)scale(5.3 5.1)" fill="#0a16e0"/><use href="#q6" transform="translate(836.2 500.2)rotate(107)scale(6 3.9)" fill="#0c1aff"/><use href="#q4" transform="translate(997.2 555.4)rotate(49)scale(6 4.6)" fill="#0d1dff"/><use href="#q4" transform="translate(1021.2 564)rotate(48)scale(7 4)" fill="#0d1cff"/><use href="#q6" transform="translate(860 562.1)rotate(59)scale(6.1 5.2)" fill="#0b18ec"/><use href="#q3" transform="translate(903.4 505.7)rotate(81)scale(5.1 5)" fill="#0c1aff"/><use href="#q4" transform="translate(1047.2 547.6)rotate(54)scale(7 5.3)" fill="#0b18ec"/><use href="#q0" transform="translate(854.2 485.2)rotate(93)scale(7.5 4.1)" fill="#0c1aff"/><use href="#q4" transform="translate(982.2 449)rotate(125)scale(5.8 4.2)" fill="#0c1aff"/><use href="#q3" transform="translate(822.2 566.1)rotate(70)scale(7.2 5)" fill="#0a17e2"/><use href="#q0" transform="translate(872.3 462.3)rotate(65)scale(7 5.3)" fill="#0a16dd"/><use href="#q5" transform="translate(1005.7 478)rotate(133)scale(5.5 4.9)" fill="#0c1bff"/><use href="#q5" transform="translate(945.3 531.6)rotate(120)scale(6.5 4.4)" fill="#0a16dd"/><use href="#q3" transform="translate(827 550.5)rotate(71)scale(6.4 3.9)" fill="#0c1aff"/><use href="#q3" transform="translate(934.7 475.5)rotate(43)scale(7.4 5.2)" fill="#0a16df"/><use href="#q3" transform="translate(867.5 448.5)rotate(120)scale(5.7 5)" fill="#0c1bff"/><use href="#q1" transform="translate(852.7 504.2)rotate(60)scale(6 5)" fill="#0a16dd"/><use href="#q0" transform="translate(973.8 565.8)rotate(44)scale(6.1 4.9)" fill="#0d1eff"/><use href="#q5" transform="translate(875.1 476)rotate(41)scale(7 4.6)" fill="#0d1cff"/><use href="#q2" transform="translate(870.6 563.3)rotate(107)scale(7 4.6)" fill="#0c1cff"/><use href="#q5" transform="translate(1043 513)rotate(55)scale(7 4.7)" fill="#0d1dff"/><use href="#q0" transform="translate(881.9 489.9)rotate(49)scale(5.5 4)" fill="#0d1dff"/><use href="#q5" transform="translate(806.9 492.9)rotate(65)scale(6 4.9)" fill="#0e1eff"/><use href="#q1" transform="translate(816.7 449.3)rotate(132)scale(6.1 5.3)" fill="#0a15d5"/><use href="#q2" transform="translate(989.1 526.4)rotate(63)scale(7.1 4.3)" fill="#0c1aff"/><use href="#q4" transform="translate(1023.4 522.7)rotate(70)scale(6.8 5)" fill="#0a17e3"/><use href="#q3" transform="translate(985 545.1)rotate(119)scale(7.1 4.1)" fill="#0e1fff"/><use href="#q5" transform="translate(972.6 530.7)rotate(55)scale(7.4 4.4)" fill="#0a17e7"/><use href="#q3" transform="translate(942.4 522.7)rotate(86)scale(6.4 4)" fill="#0d1cff"/><use href="#q5" transform="translate(958.8 529.2)rotate(43)scale(5.8 4.5)" fill="#0b18ee"/><use href="#q2" transform="translate(925.5 447)rotate(133)scale(7.3 5.5)" fill="#0c1aff"/><use href="#q0" transform="translate(986.5 565)rotate(118)scale(6.2 3.8)" fill="#0e1eff"/><use href="#q6" transform="translate(926.7 493)rotate(70)scale(5.5 4.3)" fill="#0c1aff"/><use href="#q6" transform="translate(970.9 481.9)rotate(67)scale(5.2 4)" fill="#0e1eff"/><use href="#q0" transform="translate(920 461)rotate(69)scale(7.3 4.8)" fill="#0c1aff"/><use href="#q0" transform="translate(1023.8 470.8)rotate(134)scale(7.4 4.4)" fill="#0c1bff"/><use href="#q2" transform="translate(1044.4 560.2)rotate(88)scale(5.4 4.4)" fill="#0b18eb"/><use href="#q4" transform="translate(807.5 506.2)rotate(69)scale(5.4 5.1)" fill="#0915ce"/><use href="#q3" transform="translate(840.8 488.3)rotate(51)scale(6.1 5.1)" fill="#0a16d9"/><use href="#q5" transform="translate(1025.8 481.8)rotate(91)scale(6.2 3.9)" fill="#0915d1"/><use href="#q5" transform="translate(876.2 452.5)rotate(123)scale(6.7 4.5)" fill="#0915cf"/><use href="#q2" transform="translate(879 536.2)rotate(56)scale(6.7 4.1)" fill="#0e1fff"/><use href="#q2" transform="translate(853.4 457.6)rotate(123)scale(5 4.9)" fill="#0a17e8"/><use href="#q4" transform="translate(864.7 477.9)rotate(51)scale(5.2 5.3)" fill="#0b19fe"/><use href="#q0" transform="translate(1018.8 449.2)rotate(64)scale(6.4 4.4)" fill="#0c1aff"/><use href="#q1" transform="translate(949.3 446.6)rotate(59)scale(6.3 4.4)" fill="#0b18f4"/><use href="#q1" transform="translate(900.9 473.7)rotate(112)scale(7.5 5.3)" fill="#0c1aff"/><use href="#q6" transform="translate(972.5 470.6)rotate(134)scale(7.2 3.8)" fill="#0b19fd"/><use href="#q1" transform="translate(860.4 538.8)rotate(114)scale(6.8 4.2)" fill="#0915d0"/><use href="#q4" transform="translate(927.1 469.3)rotate(43)scale(5.4 4.2)" fill="#0b18f3"/><use href="#q1" transform="translate(1024.9 553.8)rotate(52)scale(5.3 4.8)" fill="#0c1bff"/><use href="#q0" transform="translate(897.5 486.8)rotate(118)scale(5.6 4.8)" fill="#0d1cff"/><use href="#q1" transform="translate(847.7 446.9)rotate(73)scale(7.1 3.9)" fill="#0915d1"/><use href="#q6" transform="translate(893.3 546.3)rotate(121)scale(6.5 5)" fill="#0b18ed"/><use href="#q3" transform="translate(993 451.5)rotate(58)scale(6.9 4.8)" fill="#0b17ea"/><use href="#q4" transform="translate(885.8 565.5)rotate(118)scale(7 3.9)" fill="#0a15d7"/><use href="#q1" transform="translate(922 546)rotate(74)scale(6.7 4.1)" fill="#0a15d6"/><use href="#q0" transform="translate(869.8 540.9)rotate(110)scale(7.3 5)" fill="#0915ce"/><use href="#q0" transform="translate(846.4 531)rotate(89)scale(7 4.6)" fill="#0d1dff"/><use href="#q6" transform="translate(859.6 495.1)rotate(59)scale(6.9 4.9)" fill="#0c1bff"/><use href="#q4" transform="translate(908.7 517.3)rotate(105)scale(5.9 4.5)" fill="#0e1fff"/><use href="#q1" transform="translate(910.1 526.5)rotate(107)scale(5.4 5.4)" fill="#0d1cff"/><use href="#q3" transform="translate(834.6 511)rotate(70)scale(5.6 5)" fill="#0914cc"/><use href="#q6" transform="translate(1018.8 513.9)rotate(99)scale(7.1 5.2)" fill="#0b19f7"/><use href="#q4" transform="translate(832 567)rotate(91)scale(6.6 5.4)" fill="#0d1cff"/><use href="#q6" transform="translate(888.2 537.5)rotate(51)scale(6.3 5.4)" fill="#0e1fff"/><use href="#q4" transform="translate(822.6 518.2)rotate(124)scale(7 5.1)" fill="#0a17e1"/><use href="#q5" transform="translate(960.1 481.5)rotate(89)scale(6.1 4.2)" fill="#0e1eff"/><use href="#q5" transform="translate(1013.6 521.6)rotate(106)scale(7.2 3.9)" fill="#0b18f3"/><use href="#q0" transform="translate(976.6 507)rotate(122)scale(6.7 5.4)" fill="#0b18f4"/><use href="#q6" transform="translate(976.1 542.1)rotate(119)scale(5.6 4.9)" fill="#0c1bff"/><use href="#q0" transform="translate(901 450.7)rotate(70)scale(6.1 4.3)" fill="#0c1bff"/><use href="#q1" transform="translate(841.1 519.8)rotate(81)scale(7.2 4.6)" fill="#0a17e8"/><use href="#q4" transform="translate(905 536.5)rotate(75)scale(5.8 4.2)" fill="#0d1dff"/><use href="#q3" transform="translate(962.6 501.7)rotate(139)scale(5.1 4.4)" fill="#0a16db"/><use href="#q5" transform="translate(995.8 493.8)rotate(64)scale(6 4.7)" fill="#0a16df"/><use href="#q1" transform="translate(857.7 529.6)rotate(58)scale(5.1 5.2)" fill="#0a17e5"/><use href="#q3" transform="translate(1009.3 489.6)rotate(128)scale(5.9 4.2)" fill="#0c1bff"/><use href="#q4" transform="translate(807.3 534.2)rotate(127)scale(5.8 4.3)" fill="#0d1dff"/><use href="#q0" transform="translate(880 504.8)rotate(56)scale(5.5 5.2)" fill="#0c1aff"/><use href="#q5" transform="translate(840.7 547.4)rotate(64)scale(7.1 4)" fill="#0c1aff"/><use href="#q6" transform="translate(831.3 463.9)rotate(50)scale(5.6 4.4)" fill="#0c1aff"/><use href="#q2" transform="translate(847.4 554.7)rotate(53)scale(6.9 4.9)" fill="#0d1cff"/><use href="#q2" transform="translate(954.5 541.4)rotate(102)scale(6.7 3.9)" fill="#0b19f8"/><use href="#q4" transform="translate(1003.6 516.4)rotate(103)scale(5.9 4.9)" fill="#0b18f1"/><use href="#q5" transform="translate(906.9 459)rotate(105)scale(7 3.9)" fill="#0b19fe"/><use href="#q4" transform="translate(963.3 472.3)rotate(123)scale(7.4 3.9)" fill="#0c1cff"/><use href="#q4" transform="translate(1005.3 456.3)rotate(91)scale(5.9 4.3)" fill="#0a16d7"/><use href="#q2" transform="translate(1036.3 541.8)rotate(72)scale(6.9 3.9)" fill="#0a15d6"/><use href="#q3" transform="translate(999.1 502.4)rotate(97)scale(5.4 4.8)" fill="#0914cc"/><use href="#q1" transform="translate(994.3 474.8)rotate(138)scale(5.4 4.8)" fill="#0c1bff"/><use href="#q5" transform="translate(1049 492)rotate(82)scale(5.7 4.7)" fill="#0e1fff"/><use href="#q5" transform="translate(998 465.5)rotate(103)scale(5.2 5.4)" fill="#0b19fe"/><use href="#q3" transform="translate(1027.8 454.4)rotate(72)scale(5.9 5.3)" fill="#0d1dff"/><use href="#q4" transform="translate(971.3 448.1)rotate(74)scale(7.1 5.1)" fill="#0a15d6"/><use href="#q5" transform="translate(883.9 556.2)rotate(70)scale(7 3.9)" fill="#0c1aff"/><use href="#q2" transform="translate(895.2 566.8)rotate(69)scale(5.8 3.9)" fill="#0b18f1"/><use href="#q1" transform="translate(945.5 463.3)rotate(70)scale(7.4 4.1)" fill="#0e1fff"/><use href="#q2" transform="translate(984.7 496.1)rotate(80)scale(6.6 5.4)" fill="#0c1cff"/><use href="#q1" transform="translate(836 533.3)rotate(136)scale(6 4.5)" fill="#0a17e4"/><use href="#q1" transform="translate(813.9 458.3)rotate(90)scale(7.3 4.9)" fill="#0b18f4"/><use href="#q3" transform="translate(810.9 519.3)rotate(55)scale(6.9 4.3)" fill="#0d1cff"/><use href="#q3" transform="translate(977.4 459.1)rotate(81)scale(6.7 5.2)" fill="#0915cf"/><use href="#q5" transform="translate(912.5 565.6)rotate(92)scale(5.9 5.4)" fill="#0a17e7"/><use href="#q5" transform="translate(941.9 506.2)rotate(41)scale(5.3 4.6)" fill="#0c1aff"/><use href="#q1" transform="translate(959.8 519.8)rotate(133)scale(6.4 4.4)" fill="#0a17e4"/><use href="#q6" transform="translate(916 493.4)rotate(49)scale(7.2 5.3)" fill="#0c1bff"/><use href="#q5" transform="translate(829.1 479.3)rotate(51)scale(6 5.2)" fill="#0a17e9"/><use href="#q3" transform="translate(1018.7 461.5)rotate(114)scale(5.4 5)" fill="#0915d4"/><use href="#q3" transform="translate(884.6 527)rotate(114)scale(6 5.4)" fill="#0b18ed"/><use href="#q1" transform="translate(821 490)rotate(126)scale(6.2 4.4)" fill="#0d1cff"/><use href="#q1" transform="translate(1047.8 537.6)rotate(106)scale(6.3 4.7)" fill="#0e1eff"/><use href="#q0" transform="translate(1008.5 536.6)rotate(132)scale(5.5 5)" fill="#0915ce"/><use href="#q4" transform="translate(920.3 516.6)rotate(97)scale(7.1 4.9)" fill="#0b18f4"/><use href="#q1" transform="translate(983.2 513.5)rotate(107)scale(6.8 5.1)" fill="#0d1eff"/></g><g filter="url(#bl4)"><ellipse cx="1008" cy="512" rx="22" ry="14" fill="#000210" opacity="0.75"/><ellipse cx="926" cy="500" rx="6" ry="45" fill="#000210" opacity="0.55"/><ellipse cx="1038" cy="470" rx="10" ry="14" fill="#000210" opacity="0.55"/><ellipse cx="845" cy="520" rx="14" ry="8" fill="#000210" opacity="0.4"/></g><g filter="url(#bl07)"><ellipse cx="895.2" cy="468.4" rx="2.8" ry="1.5" fill="#30f040" transform="rotate(-30 895.2 468.4)"/><ellipse cx="922.6" cy="494.6" rx="1.6" ry="1.6" fill="#30f040" transform="rotate(0 922.6 494.6)"/><ellipse cx="902.5" cy="509.8" rx="2.3" ry="5" fill="#30f040" transform="rotate(20 902.5 509.8)"/><ellipse cx="967" cy="522.6" rx="2" ry="2" fill="#30f040" transform="rotate(0 967 522.6)"/><ellipse cx="914.7" cy="541.5" rx="2" ry="4.5" fill="#30f040" transform="rotate(-10 914.7 541.5)"/></g><rect x="813.5" y="553.5" width="168" height="3.8" fill="#fff"/></g><rect x="806.6" y="446.6" width="243.1" height="121.3" fill="none" stroke="#3a3a3a" stroke-width="1"/>
<clipPath id="cb8"><rect x="1058.6" y="446.6" width="242.6" height="121.3"/></clipPath><g clip-path="url(#cb8)"><rect x="1058.6" y="446.6" width="242.6" height="121.3" fill="#00020e"/><g filter="url(#bl12)"><use href="#q4" transform="translate(1069.8 563.3)rotate(293)scale(5.7 4.6)" fill="#0c18f5"/><use href="#q6" transform="translate(1064.8 532.1)rotate(286)scale(6.8 4.3)" fill="#0b17ed"/><use href="#q0" transform="translate(1062.8 476.6)rotate(29)scale(5.1 5.1)" fill="#0d1aff"/><use href="#q4" transform="translate(1090.3 502.3)rotate(329)scale(6.8 4.6)" fill="#0c19ff"/><use href="#q4" transform="translate(1081 506.6)rotate(358)scale(5.5 5.3)" fill="#0a14c9"/><use href="#q0" transform="translate(1068.1 547.3)rotate(84)scale(5.2 4.2)" fill="#0e1dff"/><use href="#q5" transform="translate(1078.7 556)rotate(356)scale(7 4.7)" fill="#0d1bff"/><use href="#q6" transform="translate(1077.3 460.4)rotate(25)scale(5.8 4.6)" fill="#0e1cff"/><use href="#q6" transform="translate(1061.7 521.8)rotate(60)scale(5.5 5.3)" fill="#0912bc"/><use href="#q3" transform="translate(1077.2 526.8)rotate(273)scale(7.4 5.3)" fill="#0912bc"/><use href="#q5" transform="translate(1065.6 454.4)rotate(34)scale(6.1 5.2)" fill="#0b16df"/><use href="#q2" transform="translate(1087.2 535)rotate(306)scale(7.1 4.1)" fill="#0913c3"/><use href="#q2" transform="translate(1102.1 481.2)rotate(339)scale(6.1 5)" fill="#0d1bff"/><use href="#q6" transform="translate(1093.3 561.8)rotate(25)scale(7.1 4.8)" fill="#0913c5"/><use href="#q6" transform="translate(1100.3 507.7)rotate(351)scale(5.4 5.3)" fill="#0913c6"/><use href="#q6" transform="translate(1068.4 464.8)rotate(281)scale(5.8 4.3)" fill="#0a15d3"/><use href="#q0" transform="translate(1062.1 556.2)rotate(295)scale(6.1 5.4)" fill="#0e1dff"/><use href="#q5" transform="translate(1059.2 488.2)rotate(355)scale(5.9 5.4)" fill="#0d1bff"/><use href="#q4" transform="translate(1071.8 498)rotate(11)scale(5.9 5.2)" fill="#0b16dc"/><use href="#q4" transform="translate(1102.6 467.9)rotate(292)scale(5.7 5)" fill="#0a15da"/><use href="#q3" transform="translate(1073.4 448.2)rotate(11)scale(7.4 5.2)" fill="#0b16e3"/><use href="#q6" transform="translate(1087.7 481.6)rotate(86)scale(5.7 5)" fill="#0d1aff"/><use href="#q0" transform="translate(1063.9 509.8)rotate(357)scale(5.4 4.6)" fill="#0c18f8"/><use href="#q4" transform="translate(1107 454.2)rotate(299)scale(6.4 5.4)" fill="#0b16de"/><use href="#q1" transform="translate(1059.4 463.6)rotate(314)scale(6.6 4.3)" fill="#0912bc"/><use href="#q6" transform="translate(1077.7 516.2)rotate(77)scale(5.7 4.9)" fill="#0d1aff"/><use href="#q1" transform="translate(1095.3 489.2)rotate(276)scale(6.4 4.5)" fill="#0e1cff"/><use href="#q0" transform="translate(1078.1 490.4)rotate(56)scale(5.7 5.1)" fill="#0b17ee"/><use href="#q0" transform="translate(1088.8 449.3)rotate(310)scale(5.4 5.4)" fill="#0d1aff"/><use href="#q5" transform="translate(1093.4 470.9)rotate(330)scale(5.1 4.5)" fill="#0b16dc"/><use href="#q4" transform="translate(1095.4 525.1)rotate(64)scale(6.9 5.2)" fill="#0a14cb"/><use href="#q1" transform="translate(1069.6 482.6)rotate(38)scale(5.6 5.5)" fill="#0a15d5"/><use href="#q4" transform="translate(1097.2 542.8)rotate(64)scale(5.5 4.2)" fill="#0d1bff"/><use href="#q0" transform="translate(1097.2 458.7)rotate(8)scale(6.5 4.9)" fill="#0913c5"/><use href="#q5" transform="translate(1059.1 545.2)rotate(19)scale(5.4 4.9)" fill="#0c18f3"/><use href="#q4" transform="translate(1058.6 565.5)rotate(276)scale(7.4 4.9)" fill="#0d1aff"/><use href="#q5" transform="translate(1082.4 566.2)rotate(21)scale(6.3 4.8)" fill="#0a14c8"/><use href="#q0" transform="translate(1103.3 498.2)rotate(74)scale(6.6 4.9)" fill="#0b16e3"/><use href="#q2" transform="translate(1081.8 473.4)rotate(334)scale(6.4 4.8)" fill="#0c19ff"/><use href="#q5" transform="translate(1092.6 514.9)rotate(302)scale(5.8 4.8)" fill="#0c18f8"/><use href="#q6" transform="translate(1078.3 539.9)rotate(0)scale(6.9 5.1)" fill="#0c19fd"/><use href="#q2" transform="translate(1096.3 553.3)rotate(51)scale(6.3 5)" fill="#0e1cff"/><use href="#q3" transform="translate(1062.3 500.2)rotate(1)scale(5.1 5.3)" fill="#0a14d0"/><use href="#q6" transform="translate(1087.2 458.9)rotate(43)scale(6 5.4)" fill="#0d1aff"/><use href="#q3" transform="translate(1086.3 521.9)rotate(52)scale(5.4 5.1)" fill="#0912bc"/><use href="#q0" transform="translate(1087.4 551.8)rotate(343)scale(5.4 4.3)" fill="#0e1dff"/><use href="#q6" transform="translate(1059.8 446.7)rotate(342)scale(6.8 5.1)" fill="#0c19fa"/><use href="#q1" transform="translate(1100.7 532.5)rotate(337)scale(6.7 5.4)" fill="#0d1aff"/></g><g filter="url(#bl12)"><use href="#q1" transform="translate(1105.6 520.5)rotate(89)scale(5.9 5.5)" fill="#0918f7"/><use href="#q2" transform="translate(1246.2 537)rotate(290)scale(5.4 4.7)" fill="#060f9b"/><use href="#q1" transform="translate(1288.9 483)rotate(331)scale(4.9 5.3)" fill="#0917ed"/><use href="#q5" transform="translate(1145 544.1)rotate(341)scale(5 5)" fill="#060f96"/><use href="#q4" transform="translate(1240.1 503.7)rotate(296)scale(4.8 4.6)" fill="#0814cf"/><use href="#q3" transform="translate(1182.9 504.4)rotate(289)scale(6.5 5.3)" fill="#050d84"/><use href="#q0" transform="translate(1267.6 488)rotate(42)scale(4.9 4.9)" fill="#0711b0"/><use href="#q0" transform="translate(1298.8 567.7)rotate(0)scale(5.1 4.4)" fill="#0a19fd"/><use href="#q0" transform="translate(1276.8 533.1)rotate(77)scale(6 5.2)" fill="#060f9a"/><use href="#q1" transform="translate(1170.2 459.4)rotate(280)scale(5.8 3.8)" fill="#0816df"/><use href="#q4" transform="translate(1274.8 511)rotate(83)scale(4.6 5.5)" fill="#0713c0"/><use href="#q2" transform="translate(1185.4 452)rotate(28)scale(5.9 5)" fill="#0712bc"/><use href="#q6" transform="translate(1128.1 564.3)rotate(50)scale(5.8 5.4)" fill="#0610a6"/><use href="#q6" transform="translate(1204.1 526.8)rotate(34)scale(6.9 4.9)" fill="#0918f8"/><use href="#q0" transform="translate(1161.7 490.2)rotate(321)scale(5.1 3.9)" fill="#0610a7"/><use href="#q4" transform="translate(1230.3 486.2)rotate(343)scale(6.2 4.8)" fill="#050d8b"/><use href="#q1" transform="translate(1256.5 449)rotate(23)scale(5.9 4.8)" fill="#0816e0"/><use href="#q0" transform="translate(1244.7 448.7)rotate(31)scale(6.7 4.5)" fill="#0712bd"/><use href="#q4" transform="translate(1173.7 517)rotate(11)scale(4.9 3.7)" fill="#050d8a"/><use href="#q4" transform="translate(1116.3 494.5)rotate(48)scale(4.6 5.4)" fill="#0814ca"/><use href="#q3" transform="translate(1127.1 524.5)rotate(292)scale(6.4 3.5)" fill="#0814cc"/><use href="#q2" transform="translate(1125.7 486)rotate(280)scale(6.4 5.4)" fill="#050d8a"/><use href="#q1" transform="translate(1189.1 564.8)rotate(53)scale(5 5.2)" fill="#0610a9"/><use href="#q4" transform="translate(1237.7 459.5)rotate(327)scale(4.9 5.3)" fill="#0916e5"/><use href="#q3" transform="translate(1140.5 497.6)rotate(304)scale(5.2 4.9)" fill="#0711af"/><use href="#q3" transform="translate(1173.1 479.6)rotate(66)scale(5.3 5.3)" fill="#050e8f"/><use href="#q5" transform="translate(1279.8 458.8)rotate(353)scale(6.5 4.7)" fill="#0713c3"/><use href="#q2" transform="translate(1216.6 456.2)rotate(290)scale(6.5 3.9)" fill="#050e8e"/><use href="#q5" transform="translate(1228.3 548.1)rotate(343)scale(5.5 5)" fill="#0610a6"/><use href="#q4" transform="translate(1294 524.7)rotate(325)scale(5.3 3.6)" fill="#0712b7"/><use href="#q0" transform="translate(1099.2 552.8)rotate(284)scale(6 4)" fill="#0711b2"/><use href="#q6" transform="translate(1245.1 470.8)rotate(278)scale(6.2 4.5)" fill="#050d8a"/><use href="#q0" transform="translate(1119.4 539.3)rotate(341)scale(6.5 5.1)" fill="#0a19fe"/><use href="#q6" transform="translate(1209 471.2)rotate(29)scale(6.3 4.3)" fill="#0611ae"/><use href="#q2" transform="translate(1204.4 541.3)rotate(304)scale(5.4 4)" fill="#0917ed"/><use href="#q6" transform="translate(1176.1 537.4)rotate(0)scale(6.5 3.6)" fill="#050d88"/><use href="#q6" transform="translate(1164.2 535)rotate(320)scale(6.4 4.8)" fill="#0a19fd"/><use href="#q6" transform="translate(1218.8 565)rotate(309)scale(6.1 4.3)" fill="#0a1aff"/><use href="#q4" transform="translate(1154.1 459.1)rotate(5)scale(6.9 4.4)" fill="#0814c9"/><use href="#q3" transform="translate(1160 516.1)rotate(12)scale(6.9 4.8)" fill="#0918f6"/><use href="#q3" transform="translate(1100.5 456.5)rotate(63)scale(5.7 5.5)" fill="#0712b5"/><use href="#q2" transform="translate(1274.4 498)rotate(86)scale(5.6 4.1)" fill="#0815d6"/><use href="#q5" transform="translate(1294.6 536.8)rotate(283)scale(5 5.3)" fill="#0917e9"/><use href="#q6" transform="translate(1254.6 515.1)rotate(39)scale(5.7 4.9)" fill="#0815d4"/><use href="#q4" transform="translate(1262.3 498.2)rotate(36)scale(6.4 4)" fill="#0a1aff"/><use href="#q5" transform="translate(1242.7 487.2)rotate(315)scale(6.6 5.1)" fill="#0610a2"/><use href="#q0" transform="translate(1145.3 481.2)rotate(64)scale(5.7 5.3)" fill="#0610a3"/><use href="#q6" transform="translate(1279.5 475.4)rotate(316)scale(5.2 3.7)" fill="#0611ab"/><use href="#q0" transform="translate(1108.5 537.7)rotate(315)scale(5.3 4.9)" fill="#0711b2"/><use href="#q6" transform="translate(1297.8 455.7)rotate(272)scale(6.3 4.9)" fill="#0712bb"/><use href="#q3" transform="translate(1222.1 537.3)rotate(26)scale(6.7 4.4)" fill="#0610a9"/><use href="#q6" transform="translate(1211.9 514.5)rotate(68)scale(5.1 4.4)" fill="#050e8e"/><use href="#q3" transform="translate(1209.2 499)rotate(13)scale(6.1 4)" fill="#0712bd"/><use href="#q0" transform="translate(1285.2 543.7)rotate(319)scale(5.5 3.8)" fill="#050e8c"/><use href="#q0" transform="translate(1212.6 485.2)rotate(65)scale(5.4 5.2)" fill="#0918f2"/><use href="#q6" transform="translate(1143.7 464.6)rotate(72)scale(5.5 3.8)" fill="#050d84"/><use href="#q3" transform="translate(1222.8 472.4)rotate(86)scale(6.4 4.8)" fill="#050d88"/><use href="#q0" transform="translate(1286.4 506.5)rotate(56)scale(6.4 5.2)" fill="#0916e1"/><use href="#q0" transform="translate(1226.8 504.2)rotate(32)scale(6.3 4)" fill="#0712ba"/><use href="#q0" transform="translate(1133.8 538.3)rotate(280)scale(4.8 5.2)" fill="#0610a0"/><use href="#q3" transform="translate(1266.3 462.2)rotate(352)scale(5.9 4.1)" fill="#0713c3"/><use href="#q1" transform="translate(1280 566.9)rotate(315)scale(4.5 4.8)" fill="#0711b1"/><use href="#q3" transform="translate(1112.9 461.4)rotate(288)scale(5.9 3.6)" fill="#0713c1"/><use href="#q3" transform="translate(1123.2 467.1)rotate(279)scale(4.9 4.3)" fill="#0815d8"/><use href="#q5" transform="translate(1254.4 551.4)rotate(306)scale(7 4.8)" fill="#0a19fc"/><use href="#q6" transform="translate(1149.2 557.6)rotate(278)scale(4.9 4.9)" fill="#050d84"/><use href="#q4" transform="translate(1172.3 493.6)rotate(356)scale(6.8 4.7)" fill="#0a1aff"/><use href="#q1" transform="translate(1293.5 557)rotate(69)scale(5.8 3.9)" fill="#0a1aff"/><use href="#q0" transform="translate(1127.1 497.2)rotate(13)scale(5.4 4.5)" fill="#0a1aff"/><use href="#q4" transform="translate(1193.2 551.7)rotate(288)scale(6 3.7)" fill="#0a19fa"/><use href="#q6" transform="translate(1251.7 460.7)rotate(282)scale(6.8 4.6)" fill="#0611aa"/><use href="#q6" transform="translate(1215.8 548.7)rotate(290)scale(5.2 4.2)" fill="#060f9e"/><use href="#q4" transform="translate(1151.2 527.3)rotate(327)scale(5.1 3.8)" fill="#0a19fc"/><use href="#q1" transform="translate(1267.1 556.6)rotate(13)scale(6.3 3.9)" fill="#0816dd"/><use href="#q0" transform="translate(1287.3 495)rotate(303)scale(7 3.9)" fill="#0610a5"/><use href="#q3" transform="translate(1107.8 481.2)rotate(306)scale(5.7 4.5)" fill="#0918f1"/><use href="#q2" transform="translate(1190.7 528.6)rotate(22)scale(4.8 4.1)" fill="#0711b3"/><use href="#q4" transform="translate(1199.9 491.3)rotate(300)scale(6.6 3.7)" fill="#0610a1"/><use href="#q6" transform="translate(1205.9 566.5)rotate(54)scale(4.9 4)" fill="#060f9a"/><use href="#q1" transform="translate(1095.6 528.6)rotate(320)scale(5.6 4.4)" fill="#0610a5"/><use href="#q1" transform="translate(1127.9 551.1)rotate(63)scale(5.6 5.2)" fill="#0712bc"/><use href="#q5" transform="translate(1112.8 510.1)rotate(353)scale(6.7 4)" fill="#050d87"/><use href="#q6" transform="translate(1165.1 504.2)rotate(16)scale(4.8 4.5)" fill="#050d8a"/><use href="#q4" transform="translate(1098.4 491.7)rotate(62)scale(6.4 4.9)" fill="#0a1aff"/><use href="#q1" transform="translate(1296.4 469.9)rotate(56)scale(5.3 4.2)" fill="#0918f9"/><use href="#q4" transform="translate(1296.8 514)rotate(51)scale(6.6 4.5)" fill="#0918f1"/><use href="#q6" transform="translate(1097.8 507.7)rotate(77)scale(6.8 5.4)" fill="#0712bb"/><use href="#q2" transform="translate(1199.8 515.7)rotate(354)scale(6.1 5.5)" fill="#0711b2"/><use href="#q6" transform="translate(1124.6 452.8)rotate(77)scale(6.8 4.6)" fill="#0916e1"/><use href="#q6" transform="translate(1253 564)rotate(89)scale(6.5 5.1)" fill="#0816de"/><use href="#q2" transform="translate(1170.1 557.8)rotate(13)scale(5.9 4.8)" fill="#0a1aff"/><use href="#q6" transform="translate(1199.4 459.8)rotate(348)scale(4.7 4.9)" fill="#0815d5"/><use href="#q5" transform="translate(1256.7 470.7)rotate(62)scale(5.8 4.3)" fill="#060f97"/><use href="#q2" transform="translate(1258.2 526.4)rotate(343)scale(4.7 3.6)" fill="#0917ed"/><use href="#q2" transform="translate(1161.3 476.9)rotate(41)scale(5.6 5.4)" fill="#050d85"/><use href="#q0" transform="translate(1198.4 476)rotate(299)scale(4.6 5.3)" fill="#050d84"/><use href="#q5" transform="translate(1152.2 447.1)rotate(288)scale(6.9 5.3)" fill="#050d8a"/><use href="#q5" transform="translate(1125.4 510.2)rotate(71)scale(5.6 5.2)" fill="#0916e3"/><use href="#q2" transform="translate(1271 447.4)rotate(341)scale(5.6 5)" fill="#0918f7"/><use href="#q6" transform="translate(1137.9 450.7)rotate(29)scale(5 4.1)" fill="#050d86"/><use href="#q2" transform="translate(1232.3 524.7)rotate(0)scale(5.7 4.6)" fill="#0918f0"/><use href="#q0" transform="translate(1114.3 550.2)rotate(73)scale(5.4 3.7)" fill="#0610a7"/><use href="#q6" transform="translate(1278.5 554.2)rotate(49)scale(4.5 4.8)" fill="#050e90"/><use href="#q2" transform="translate(1152.6 504.9)rotate(19)scale(5.1 4.2)" fill="#0712b7"/><use href="#q6" transform="translate(1235.2 563.9)rotate(309)scale(5.7 4.2)" fill="#0815d3"/><use href="#q2" transform="translate(1240 552)rotate(285)scale(5.2 4.3)" fill="#0815d4"/><use href="#q5" transform="translate(1146.1 515.5)rotate(301)scale(4.8 3.8)" fill="#0a19fe"/><use href="#q6" transform="translate(1178.7 549.7)rotate(352)scale(6.2 5.3)" fill="#060f99"/><use href="#q0" transform="translate(1108.7 564)rotate(67)scale(5.4 4.2)" fill="#0713c5"/><use href="#q6" transform="translate(1263.6 540.7)rotate(281)scale(4.7 4)" fill="#0815d4"/></g><g filter="url(#bl1)" fill="none" stroke="#0a18e0" stroke-width="1.6"><ellipse cx="1185.5" cy="565.6" rx="4.9" ry="3.5"/><ellipse cx="1265.1" cy="514" rx="5.3" ry="5"/><ellipse cx="1186.5" cy="461" rx="4.3" ry="3.6"/><ellipse cx="1208.2" cy="529.3" rx="5" ry="3.7"/><ellipse cx="1289.3" cy="552.6" rx="4.4" ry="4.7"/><ellipse cx="1113.4" cy="495.2" rx="5.4" ry="3.9"/><ellipse cx="1200.6" cy="494.2" rx="4" ry="4.3"/><ellipse cx="1222.7" cy="530.2" rx="4.4" ry="3.9"/><ellipse cx="1224.9" cy="510.1" rx="4.4" ry="4"/><ellipse cx="1193.1" cy="514.1" rx="5.7" ry="3.9"/><ellipse cx="1162.3" cy="488.4" rx="5.9" ry="3.6"/><ellipse cx="1173" cy="534.7" rx="5.4" ry="3.7"/><ellipse cx="1271.9" cy="479.1" rx="5.7" ry="3.6"/><ellipse cx="1120.5" cy="543.4" rx="5.4" ry="4.5"/><ellipse cx="1247.7" cy="451.1" rx="5.1" ry="4.1"/><ellipse cx="1172.7" cy="553.6" rx="5.1" ry="3.5"/><ellipse cx="1186.7" cy="499.6" rx="4.1" ry="4.5"/><ellipse cx="1238.2" cy="497.3" rx="5.5" ry="4.7"/><ellipse cx="1273.8" cy="532" rx="5.9" ry="4.3"/><ellipse cx="1241.7" cy="555.8" rx="4.7" ry="4.7"/><ellipse cx="1299.4" cy="489.3" rx="4.1" ry="4.6"/><ellipse cx="1217" cy="548.1" rx="4.3" ry="4.2"/><ellipse cx="1100.2" cy="563.4" rx="5" ry="4.4"/><ellipse cx="1137.3" cy="566.2" rx="5.1" ry="3.9"/><ellipse cx="1107.6" cy="449.7" rx="5.8" ry="4.5"/><ellipse cx="1158.6" cy="522.1" rx="5.1" ry="3.8"/><ellipse cx="1128.1" cy="451.6" rx="5.3" ry="4.1"/><ellipse cx="1168.4" cy="509.5" rx="4.7" ry="4.7"/><ellipse cx="1115.1" cy="523.1" rx="5.8" ry="4.7"/><ellipse cx="1213.4" cy="459.7" rx="5.2" ry="4.4"/></g><g filter="url(#bl4)"><ellipse cx="1130" cy="512" rx="14" ry="14" fill="#00020e" opacity="0.7"/><ellipse cx="1278" cy="500" rx="12" ry="22" fill="#00020e" opacity="0.6"/><ellipse cx="1240" cy="460" rx="14" ry="10" fill="#00020e" opacity="0.6"/><ellipse cx="1175" cy="470" rx="10" ry="8" fill="#00020e" opacity="0.5"/></g></g><rect x="1058.6" y="446.6" width="242.6" height="121.3" fill="none" stroke="#3a3a3a" stroke-width="1"/>
<text x="1373.1" y="30.8" font-weight="bold" font-size="42.5" >c</text>
<text x="1482.45" y="40.3" textLength="82.57" lengthAdjust="spacingAndGlyphs" font-size="25.2" >M2-like</text>
<text x="1445.15" y="69.6" font-size="25.2" >signature high</text>
<text x="1796.53" y="40.3" textLength="83.2" lengthAdjust="spacingAndGlyphs" font-size="25.2" >M2-like</text>
<text x="1764.35" y="69.6" textLength="147.68" lengthAdjust="spacingAndGlyphs" font-size="25.2" >signature low</text>
<path d="M1531.5 275.2L1531.5 134A141.2 141.2 0 0 1 1637.42 181.82Z" fill="#0070c0"/>
<path d="M1531.5 275.2L1637.42 181.82A141.2 141.2 0 0 1 1670.2 301.66Z" fill="#00b050"/>
<path d="M1531.5 275.2L1670.2 301.66A141.2 141.2 0 0 1 1610.46 392.26Z" fill="#7030a0"/>
<path d="M1531.5 275.2L1610.46 392.26A141.2 141.2 0 1 1 1524.6 134.17Z" fill="#ff0000"/>
<path d="M1531.5 275.2L1524.6 134.17A141.2 141.2 0 0 1 1531.5 134Z" fill="#bfbfbf"/>
<path d="M1531.5 275.2L1638.92 180.5 M1531.5 275.2L1672.16 302.03 M1531.5 275.2L1611.58 393.92 M1531.5 275.2L1524.5 132.17 M1531.5 275.2L1531.5 132" stroke="#fff" stroke-width="3.6" stroke-linecap="butt"/>
<path d="M1842.5 275.2L1842.5 134A141.2 141.2 0 0 1 1934.95 381.93Z" fill="#0070c0"/>
<path d="M1842.5 275.2L1934.95 381.93A141.2 141.2 0 0 1 1836.34 416.27Z" fill="#00b050"/>
<path d="M1842.5 275.2L1836.34 416.27A141.2 141.2 0 0 1 1701.75 263.88Z" fill="#7030a0"/>
<path d="M1842.5 275.2L1701.75 263.88A141.2 141.2 0 0 1 1723.15 199.75Z" fill="#ff0000"/>
<path d="M1842.5 275.2L1723.15 199.75A141.2 141.2 0 0 1 1842.5 134Z" fill="#bfbfbf"/>
<path d="M1842.5 275.2L1936.26 383.44 M1842.5 275.2L1836.25 418.26 M1842.5 275.2L1699.76 263.72 M1842.5 275.2L1721.46 198.68 M1842.5 275.2L1842.5 132" stroke="#fff" stroke-width="3.6" stroke-linecap="butt"/>
<rect x="1427.6" y="481.8" width="17.5" height="17.4" fill="#0070c0"/>
<rect x="1650.5" y="481.8" width="17.5" height="17.4" fill="#00b050"/>
<rect x="1798.1" y="481.8" width="17.5" height="17.4" fill="#7030a0"/>
<rect x="1427.6" y="528.2" width="17.5" height="17.4" fill="#ff0000"/>
<rect x="1650.5" y="528.2" width="17.5" height="17.4" fill="#bfbfbf"/>
<text x="1454.03" y="499.2" textLength="101.44" lengthAdjust="spacingAndGlyphs" font-size="25.2" >Classical</text>
<text x="1678.86" y="499.2" textLength="75.12" lengthAdjust="spacingAndGlyphs" font-size="25.2" >Neural</text>
<text x="1828.07" y="499.2" textLength="110.22" lengthAdjust="spacingAndGlyphs" font-size="25.2" >Proneural</text>
<text x="1453.27" y="546.6" textLength="156.18" lengthAdjust="spacingAndGlyphs" font-size="25.2" >Mesenchymal</text>
<text x="1675.95" y="546.6" textLength="90.43" lengthAdjust="spacingAndGlyphs" font-size="25.2" >G-CIMP</text>
<text x="-1.64" y="650.5" font-weight="bold" font-size="41" >d</text>
<text x="210.9" y="660.7" font-size="25.2" >TCGA GBM patient survival</text>
<rect x="114.3" y="669.4" width="508.9" height="431.1" fill="none" stroke="#555" stroke-width="1.3"/>
<text x="59.05" y="692.9" font-size="25.2" >1.0</text>
<text x="59.18" y="772.7" font-size="25.2" >0.8</text>
<text x="59.18" y="852.5" font-size="25.2" >0.6</text>
<text x="58.93" y="932.3" font-size="25.2" >0.4</text>
<text x="59.43" y="1012.1" font-size="25.2" >0.2</text>
<text x="59.05" y="1091.9" font-size="25.2" >0.0</text>
<text x="106.94" y="1131.4" font-size="25.2" >0</text>
<text x="242.46" y="1131.4" font-size="25.2" >500</text>
<text x="384.46" y="1131.4" font-size="25.2" >1000</text>
<text x="533.96" y="1131.4" font-size="25.2" >1500</text>
<path d="M105.5 685.2H114.3 M105.5 765H114.3 M105.5 844.8H114.3 M105.5 924.6H114.3 M105.5 1004.4H114.3 M105.5 1084.2H114.3 M114 1100.5V1093 M263.5 1100.5V1093 M413 1100.5V1093 M562.5 1100.5V1093" stroke="#555" stroke-width="1.3"/>
<text x="254.88" y="1170.2" textLength="219.35" lengthAdjust="spacingAndGlyphs" font-size="25.2" >Survival time (days)</text>
<text transform="translate(38.6,0) rotate(-90)" x="-1004.73" y="0" textLength="239.87" lengthAdjust="spacingAndGlyphs" font-size="25.2" >Probability of survival</text>
<path d="M114.3 685.3H117.8V689.6H120.8V695.4H123.7V699.3H137.4V700.3H139.3V709.1H141.3V718.9H147.2V720.8H150.1V734.5H153V742.4H156.9V748.2H159.9V752.1H179.4H182.4V758H185.3V764.8H190.2V765.8H192.1V771.7H196V779.5H200V782.4H203.9V783.4H206.8V788.3H211.7V790.3H213.6V797.1H216.6V804.9H218.5V809.8H227.3H230.3V818.6H233.2V826.4H236.1V832.3H237.6V844.4H238.7V859.9H242V866.5H247.5H248.6V882H250.9V899.7H253.1V904.1H254.2V913H257.5V916.3H259.3V919.6H259.7V928.4H277.4V936.6H292.9H294V945H307.7V953.9H312.8H313.9V962.7H316.1V963.8V972H333.8V980.8H344.8V990.8H376.4V999.9H404.4V1010.5H419.7V1021.2H431V1031.9H481.7V1042.3H545.9V1053H549V1063.8H572.6V1074.5H608.9" fill="none" stroke="#0000ff" stroke-width="2.4"/>
<path d="M114.3 685.3H119.8V689.6H122.7V690.5H123.7V701.3H124.7V708.1H132.5V709.1H135.4V718.9H138.4V724.8H140.3V728.7H142.3V736.5H143.6V748.2H145.2V755.1H154V756H156V767.8H157.9V776.6H159.9V787.3H161.8V797.1H164.8V803H166.7V814.7H168.3V819H178.4H181.4V824.5H184.3V836.2H185.3V838.2H193.1H195.1V842.1H203.3V844.4H208.8V853.3H211V861H215.5V884.2H219.9V888.6H222.1V910.7H228.7V913H232V917.4H234.3V943.9H246.4V952.8H258.6H259.7V970.4H264.1V972.7V982.6H273H275.2V1003.6V1012.9H292.9V1023.1H333.8V1033.5H344.8V1043.8H361V1054H376.9V1064.4H431V1074.7H485" fill="none" stroke="#ff0000" stroke-width="2.4"/>
<path d="M114 689h10M119 685v8M119 705h10M124 701v8M125 709h10M130 705v8M134 726h10M139 722v8M149 767h10M154 763v8M155 789h10M160 785v8M162 819h10M167 815v8M173 819h10M178 815v8M189 838h10M194 834v8M191 840h10M196 836v8M194 841h10M199 837v8M196 841h10M201 837v8M198.5 844.5h10M203.5 840.5v8M203 852h10M208 848v8M214.5 888.6h10M219.5 884.6v8M221 913h10M226 909v8M225 914h10M230 910v8M250.6 952.8h10M255.6 948.8v8M254 970h10M259 966v8M257 972.5h10M262 968.5v8M475.3 1074.7h10M480.3 1070.7v8" stroke="#ff0000" stroke-width="1.6"/>
<path d="M112 690h10M117 686v8M116 697h10M121 693v8M121 699h10M126 695v8M132 700h10M137 696v8M135 711h10M140 707v8M142 721h10M147 717v8M147 737h10M152 733v8M151 749h10M156 745v8M160 752h10M165 748v8M173 752h10M178 748v8M183 765h10M188 761v8M185 768h10M190 764v8M188 773h10M193 769v8M202 789h10M207 785v8M214 810h10M219 806v8M233.6 844.4h10M238.6 840.4v8M244 880h10M249 876v8M248 904h10M253 900v8M249 912h10M254 908v8M287 936.6h10M292 932.6v8M311 972h10M316 968v8M333 980.8h10M338 976.8v8M393.5 999.9h10M398.5 995.9v8M598.7 1074.5h10M603.7 1070.5v8" stroke="#0000ff" stroke-width="1.6"/>
<path d="M229 733.8H264.6" stroke="#ff0000" stroke-width="4.2"/>
<path d="M229 766.2H264.6" stroke="#0b2060" stroke-width="4.2"/>
<text x="274.76" y="741.9" font-size="23" >M2-like signature high (<tspan font-style="italic">n</tspan> = 80)</text>
<text x="274.76" y="776" font-size="23" >M2-like signature low (<tspan font-style="italic">n</tspan> = 81)</text>
<text x="360.95" y="876.8" textLength="174.11" lengthAdjust="spacingAndGlyphs" font-size="25.2" ><tspan font-style="italic">p</tspan> value = 0.006</text>
<text x="690.56" y="650.2" font-weight="bold" font-size="41" >e</text>
<text x="875.82" y="658.8" textLength="326.86" lengthAdjust="spacingAndGlyphs" font-size="25.2" >BOQUEST_STEM_CELL_UP</text>
<rect x="795.3" y="673.2" width="517.4" height="431" fill="#fff" stroke="#333" stroke-width="1.4"/>
<rect x="797.6" y="675.6" width="712.8" height="0" fill="none"/>
<path d="M797 676.2H1311.2V1103 M797.2 676V1103" fill="none" stroke="#d0d0d0" stroke-width="3.6"/>
<rect x="799.3" y="678.3" width="509.8" height="424.2" fill="#fff" stroke="#999" stroke-width="1"/>
<path d="M800 961.3H1308.5 M800 889.5H1308.5 M800 853.6H1308.5 M800 817.7H1308.5 M800 781.8H1308.5 M800 745.9H1308.5 M800 710H1308.5 M875.3 679V977 M951.6 679V977 M1027.9 679V977 M1104.2 679V977 M1180.5 679V977 M1256.8 679V977" stroke="#d4d4d4" stroke-width="1" stroke-dasharray="4 3"/>
<path d="M800 925.5H1308.5" stroke="#888" stroke-width="1.2"/>
<path d="M800 977.7H1308.5M800 1077.2H1308.5" stroke="#999" stroke-width="1.6"/>
<text x="747.68" y="718.9" font-size="25.2" >0.6</text>
<text x="747.43" y="790.7" font-size="25.2" >0.4</text>
<text x="747.93" y="862.5" font-size="25.2" >0.2</text>
<text x="747.55" y="934.3" font-size="25.2" >0.0</text>
<text x="733.06" y="970.2" font-size="25.2" >−0.1</text>
<path d="M795.5 961.3H799.5 M795.5 925.4H799.5 M795.5 889.5H799.5 M795.5 853.6H799.5 M795.5 817.7H799.5 M795.5 781.8H799.5 M795.5 745.9H799.5 M795.5 710H799.5" stroke="#777" stroke-width="1"/>
<path d="M799.06 981.8V1076.5H813.93V981.8ZM814.13 981.8V1076.5H815.43V981.8ZM816.56 981.8V1076.5H817.86V981.8ZM818.17 981.8V1076.5H819.47V981.8ZM820.6 981.8V1076.5H821.9V981.8ZM823.83 981.8V1076.5H825.13V981.8ZM827.87 981.8V1076.5H829.17V981.8ZM830.4 981.8V1076.5H836.87V981.8ZM837.56 981.8V1076.5H838.86V981.8ZM838.85 981.8V1076.5H840.15V981.8ZM840.47 981.8V1076.5H841.77V981.8ZM848.06 981.8V1076.5H849.36V981.8ZM852.91 981.8V1076.5H854.21V981.8ZM861.79 981.8V1076.5H863.09V981.8ZM863.41 981.8V1076.5H864.71V981.8ZM865.62 981.8V1076.5H869.66V981.8ZM871.16 981.8V1076.5H872.46V981.8ZM872.29 981.8V1076.5H873.59V981.8ZM873.91 981.8V1076.5H875.21V981.8ZM876.33 981.8V1076.5H877.63V981.8ZM877.95 981.8V1076.5H879.25V981.8ZM880.37 981.8V1076.5H881.67V981.8ZM892.76 981.8V1076.5H896.32V981.8ZM897.33 981.8V1076.5H898.63V981.8ZM898.95 981.8V1076.5H900.25V981.8ZM901.37 981.8V1076.5H902.67V981.8ZM909.93 981.8V1076.5H911.23V981.8ZM916.4 981.8V1076.5H917.7V981.8ZM921.56 981.8V1076.5H922.86V981.8ZM931.26 981.8V1076.5H932.56V981.8ZM936.91 981.8V1076.5H938.21V981.8ZM940.95 981.8V1076.5H942.25V981.8ZM945.11 981.8V1076.5H948.34V981.8ZM952.54 981.8V1076.5H956.41V981.8ZM960.66 981.8V1076.5H961.96V981.8ZM974.07 981.8V1076.5H975.37V981.8ZM978.11 981.8V1076.5H979.41V981.8ZM980.53 981.8V1076.5H981.83V981.8ZM983.28 981.8V1076.5H984.58V981.8ZM985.38 981.8V1076.5H986.68V981.8ZM986.99 981.8V1076.5H988.29V981.8ZM989.42 981.8V1076.5H990.72V981.8ZM991.84 981.8V1076.5H993.14V981.8ZM995.07 981.8V1076.5H996.37V981.8ZM1002.02 981.8V1076.5H1003.32V981.8ZM1005.57 981.8V1076.5H1006.87V981.8ZM1010.21 981.8V1076.5H1015.06V981.8ZM1016.07 981.8V1076.5H1017.37V981.8ZM1020.11 981.8V1076.5H1021.41V981.8ZM1025.28 981.8V1076.5H1026.58V981.8ZM1030.61 981.8V1076.5H1031.91V981.8ZM1033.03 981.8V1076.5H1034.33V981.8ZM1035.46 981.8V1076.5H1036.76V981.8ZM1037.56 981.8V1076.5H1038.86V981.8ZM1043.44 981.8V1076.5H1044.74V981.8ZM1053.13 981.8V1076.5H1054.43V981.8ZM1054.75 981.8V1076.5H1056.05V981.8ZM1056.36 981.8V1076.5H1057.66V981.8ZM1058.58 981.8V1076.5H1062.62V981.8ZM1064.23 981.8V1076.5H1067.46V981.8ZM1068.48 981.8V1076.5H1069.78V981.8ZM1070.09 981.8V1076.5H1071.39V981.8ZM1074.13 981.8V1076.5H1075.43V981.8ZM1075.75 981.8V1076.5H1077.05V981.8ZM1082.21 981.8V1076.5H1083.51V981.8ZM1083.83 981.8V1076.5H1085.13V981.8ZM1088.47 981.8V1076.5H1092.5V981.8ZM1095.14 981.8V1076.5H1096.44V981.8ZM1096.75 981.8V1076.5H1098.05V981.8ZM1098.37 981.8V1076.5H1099.67V981.8ZM1116.14 981.8V1076.5H1117.44V981.8ZM1121.79 981.8V1076.5H1123.09V981.8ZM1132.29 981.8V1076.5H1133.59V981.8ZM1138.27 981.8V1076.5H1139.57V981.8ZM1143.6 981.8V1076.5H1144.9V981.8ZM1151.19 981.8V1076.5H1152.49V981.8ZM1155.72 981.8V1076.5H1157.02V981.8ZM1166.22 981.8V1076.5H1167.52V981.8ZM1172.19 981.8V1076.5H1173.49V981.8ZM1174.29 981.8V1076.5H1175.59V981.8ZM1179.95 981.8V1076.5H1181.25V981.8ZM1184.8 981.8V1076.5H1186.1V981.8ZM1186.73 981.8V1076.5H1188.03V981.8ZM1188.03 981.8V1076.5H1189.33V981.8ZM1191.26 981.8V1076.5H1192.56V981.8ZM1199.34 981.8V1076.5H1200.64V981.8ZM1203.37 981.8V1076.5H1204.67V981.8ZM1207.41 981.8V1076.5H1208.71V981.8ZM1213.55 981.8V1076.5H1214.85V981.8ZM1217.11 981.8V1076.5H1218.41V981.8ZM1219.53 981.8V1076.5H1220.83V981.8ZM1221.14 981.8V1076.5H1222.44V981.8ZM1222.44 981.8V1076.5H1223.74V981.8ZM1224.86 981.8V1076.5H1226.16V981.8ZM1230.84 981.8V1076.5H1232.14V981.8ZM1236.82 981.8V1076.5H1238.12V981.8ZM1238.92 981.8V1076.5H1240.22V981.8ZM1240.53 981.8V1076.5H1241.83V981.8ZM1242.95 981.8V1076.5H1244.25V981.8ZM1246.19 981.8V1076.5H1247.49V981.8ZM1247.8 981.8V1076.5H1249.1V981.8ZM1251.03 981.8V1076.5H1252.33V981.8ZM1253.25 981.8V1076.5H1257.29V981.8ZM1265.25 981.8V1076.5H1266.55V981.8ZM1272.84 981.8V1076.5H1274.14V981.8ZM1275.26 981.8V1076.5H1276.56V981.8ZM1276.88 981.8V1076.5H1278.18V981.8ZM1279.3 981.8V1076.5H1280.6V981.8ZM1281.73 981.8V1076.5H1283.03V981.8ZM1282.86 981.8V1076.5H1284.16V981.8Z" fill="#000"/>
<defs><linearGradient id="cbr" x1="0" x2="1" y1="0" y2="0"><stop offset="0" stop-color="#5a0a0a"/><stop offset="0.03" stop-color="#a02020"/><stop offset="0.12" stop-color="#e04848"/><stop offset="0.48" stop-color="#ff5a5a"/><stop offset="0.49" stop-color="#f06878"/><stop offset="1" stop-color="#ff8888"/></linearGradient><linearGradient id="cbb" x1="0" x2="1" y1="0" y2="0"><stop offset="0" stop-color="#8888ff"/><stop offset="0.2" stop-color="#7a78f4"/><stop offset="0.35" stop-color="#5a4ee0"/><stop offset="0.8" stop-color="#5a50e6"/><stop offset="0.81" stop-color="#2a10c8"/><stop offset="1" stop-color="#3010b0"/></linearGradient><linearGradient id="cbl" x1="0" x2="1" y1="0" y2="0"><stop offset="0" stop-color="#d4d4fc"/><stop offset="0.6" stop-color="#d0d0fa"/><stop offset="1" stop-color="#bcb4f2"/></linearGradient></defs>
<rect x="799.3" y="1078.2" width="117" height="24.2" fill="url(#cbr)"/>
<rect x="916.2" y="1078.2" width="176" height="24.2" fill="#fbb6de"/>
<rect x="1092" y="1078.2" width="134" height="24.2" fill="url(#cbl)"/>
<rect x="1225.8" y="1078.2" width="58.5" height="24.2" fill="url(#cbb)"/>
<path d="M799.06 1078.2V1102.4H813.93V1078.2ZM814.13 1078.2V1102.4H815.43V1078.2ZM816.56 1078.2V1102.4H817.86V1078.2ZM818.17 1078.2V1102.4H819.47V1078.2ZM820.6 1078.2V1102.4H821.9V1078.2ZM823.83 1078.2V1102.4H825.13V1078.2ZM827.87 1078.2V1102.4H829.17V1078.2ZM830.4 1078.2V1102.4H836.87V1078.2ZM837.56 1078.2V1102.4H838.86V1078.2ZM838.85 1078.2V1102.4H840.15V1078.2ZM840.47 1078.2V1102.4H841.77V1078.2ZM848.06 1078.2V1102.4H849.36V1078.2ZM852.91 1078.2V1102.4H854.21V1078.2ZM861.79 1078.2V1102.4H863.09V1078.2ZM863.41 1078.2V1102.4H864.71V1078.2ZM865.62 1078.2V1102.4H869.66V1078.2ZM871.16 1078.2V1102.4H872.46V1078.2ZM872.29 1078.2V1102.4H873.59V1078.2ZM873.91 1078.2V1102.4H875.21V1078.2ZM876.33 1078.2V1102.4H877.63V1078.2ZM877.95 1078.2V1102.4H879.25V1078.2ZM880.37 1078.2V1102.4H881.67V1078.2ZM892.76 1078.2V1102.4H896.32V1078.2ZM897.33 1078.2V1102.4H898.63V1078.2ZM898.95 1078.2V1102.4H900.25V1078.2ZM901.37 1078.2V1102.4H902.67V1078.2ZM909.93 1078.2V1102.4H911.23V1078.2ZM916.4 1078.2V1102.4H917.7V1078.2ZM921.56 1078.2V1102.4H922.86V1078.2ZM931.26 1078.2V1102.4H932.56V1078.2ZM936.91 1078.2V1102.4H938.21V1078.2ZM940.95 1078.2V1102.4H942.25V1078.2ZM945.11 1078.2V1102.4H948.34V1078.2ZM952.54 1078.2V1102.4H956.41V1078.2ZM960.66 1078.2V1102.4H961.96V1078.2ZM974.07 1078.2V1102.4H975.37V1078.2ZM978.11 1078.2V1102.4H979.41V1078.2ZM980.53 1078.2V1102.4H981.83V1078.2ZM983.28 1078.2V1102.4H984.58V1078.2ZM985.38 1078.2V1102.4H986.68V1078.2ZM986.99 1078.2V1102.4H988.29V1078.2ZM989.42 1078.2V1102.4H990.72V1078.2ZM991.84 1078.2V1102.4H993.14V1078.2ZM995.07 1078.2V1102.4H996.37V1078.2ZM1002.02 1078.2V1102.4H1003.32V1078.2ZM1005.57 1078.2V1102.4H1006.87V1078.2ZM1010.21 1078.2V1102.4H1015.06V1078.2ZM1016.07 1078.2V1102.4H1017.37V1078.2ZM1020.11 1078.2V1102.4H1021.41V1078.2ZM1025.28 1078.2V1102.4H1026.58V1078.2ZM1030.61 1078.2V1102.4H1031.91V1078.2ZM1033.03 1078.2V1102.4H1034.33V1078.2ZM1035.46 1078.2V1102.4H1036.76V1078.2ZM1037.56 1078.2V1102.4H1038.86V1078.2ZM1043.44 1078.2V1102.4H1044.74V1078.2ZM1053.13 1078.2V1102.4H1054.43V1078.2ZM1054.75 1078.2V1102.4H1056.05V1078.2ZM1056.36 1078.2V1102.4H1057.66V1078.2ZM1058.58 1078.2V1102.4H1062.62V1078.2ZM1064.23 1078.2V1102.4H1067.46V1078.2ZM1068.48 1078.2V1102.4H1069.78V1078.2ZM1070.09 1078.2V1102.4H1071.39V1078.2ZM1074.13 1078.2V1102.4H1075.43V1078.2ZM1075.75 1078.2V1102.4H1077.05V1078.2ZM1082.21 1078.2V1102.4H1083.51V1078.2ZM1083.83 1078.2V1102.4H1085.13V1078.2ZM1088.47 1078.2V1102.4H1092.5V1078.2ZM1095.14 1078.2V1102.4H1096.44V1078.2ZM1096.75 1078.2V1102.4H1098.05V1078.2ZM1098.37 1078.2V1102.4H1099.67V1078.2ZM1116.14 1078.2V1102.4H1117.44V1078.2ZM1121.79 1078.2V1102.4H1123.09V1078.2ZM1132.29 1078.2V1102.4H1133.59V1078.2ZM1138.27 1078.2V1102.4H1139.57V1078.2ZM1143.6 1078.2V1102.4H1144.9V1078.2ZM1151.19 1078.2V1102.4H1152.49V1078.2ZM1155.72 1078.2V1102.4H1157.02V1078.2ZM1166.22 1078.2V1102.4H1167.52V1078.2ZM1172.19 1078.2V1102.4H1173.49V1078.2ZM1174.29 1078.2V1102.4H1175.59V1078.2ZM1179.95 1078.2V1102.4H1181.25V1078.2ZM1184.8 1078.2V1102.4H1186.1V1078.2ZM1186.73 1078.2V1102.4H1188.03V1078.2ZM1188.03 1078.2V1102.4H1189.33V1078.2ZM1191.26 1078.2V1102.4H1192.56V1078.2ZM1199.34 1078.2V1102.4H1200.64V1078.2ZM1203.37 1078.2V1102.4H1204.67V1078.2ZM1207.41 1078.2V1102.4H1208.71V1078.2ZM1213.55 1078.2V1102.4H1214.85V1078.2ZM1217.11 1078.2V1102.4H1218.41V1078.2ZM1219.53 1078.2V1102.4H1220.83V1078.2ZM1221.14 1078.2V1102.4H1222.44V1078.2ZM1222.44 1078.2V1102.4H1223.74V1078.2ZM1224.86 1078.2V1102.4H1226.16V1078.2ZM1230.84 1078.2V1102.4H1232.14V1078.2ZM1236.82 1078.2V1102.4H1238.12V1078.2ZM1238.92 1078.2V1102.4H1240.22V1078.2ZM1240.53 1078.2V1102.4H1241.83V1078.2ZM1242.95 1078.2V1102.4H1244.25V1078.2ZM1246.19 1078.2V1102.4H1247.49V1078.2ZM1247.8 1078.2V1102.4H1249.1V1078.2ZM1251.03 1078.2V1102.4H1252.33V1078.2ZM1253.25 1078.2V1102.4H1257.29V1078.2ZM1265.25 1078.2V1102.4H1266.55V1078.2ZM1272.84 1078.2V1102.4H1274.14V1078.2ZM1275.26 1078.2V1102.4H1276.56V1078.2ZM1276.88 1078.2V1102.4H1278.18V1078.2ZM1279.3 1078.2V1102.4H1280.6V1078.2ZM1281.73 1078.2V1102.4H1283.03V1078.2ZM1282.86 1078.2V1102.4H1284.16V1078.2Z" fill="#301030" opacity="0.13"/>
<path d="M799.8 925.4 L800.5 870 L801.6 828.9 L803.8 786.9 L804.9 753.7 L806.5 733.8 L808.7 713.9 L812.7 700.7 L818.2 691.8 L823.7 691.8 L830.4 694.5 L834.8 693 L842.5 692.3 L852.5 698.5 L863.5 705.5 L874.6 710.6 L890.1 720.6 L901.1 726.1 L923.3 742.7 L945.4 757.1 L967.5 771.4 L1000 794.6 L1030.6 817.5 L1061.2 840.5 L1091.8 863.5 L1122.4 886.4 L1153 908.7 L1177.5 925.3 L1214.3 950.7 L1238.7 962.9 L1246 961 L1254 960.8 L1260 962.5 L1266.3 962.9 L1270 961 L1274 961.4 L1277 946.1 L1281.6 933.8 L1284.7 924.7" fill="none" stroke="#00ff00" stroke-width="4" stroke-linejoin="round"/>
<text x="826.18" y="812.3" font-size="25.2" >NES = 1.80</text>
<text x="826.32" y="845.5" textLength="79.71" lengthAdjust="spacingAndGlyphs" font-size="25.2" ><tspan font-style="italic">p</tspan> = 0.0</text>
<text x="794.77" y="1136.1" fill="#ff0000" textLength="81.66" lengthAdjust="spacingAndGlyphs" font-size="25.2" >Vehicle</text>
<text x="1226.22" y="1136.1" fill="#1a6ec0" textLength="83.54" lengthAdjust="spacingAndGlyphs" font-size="25.2" >JZL184</text>
<text transform="translate(713.5,0) rotate(-90)" x="-986.42" y="0" font-size="25.2" >Enrichment score</text>
<text x="1374.18" y="649.4" font-weight="bold" font-size="41" >f</text>
<text x="1414.15" y="677.1" font-size="25.2" >1.0</text>
<text x="1414.28" y="760.2" font-size="25.2" >0.8</text>
<text x="1414.28" y="843.3" font-size="25.2" >0.6</text>
<text x="1414.03" y="926.4" font-size="25.2" >0.4</text>
<text x="1414.53" y="1009.5" font-size="25.2" >0.2</text>
<text x="1414.15" y="1092.6" font-size="25.2" >0.0</text>
<text x="1466.84" y="1127.6" font-size="25.2" >0</text>
<text x="1548.89" y="1127.6" font-size="25.2" >20</text>
<text x="1638.42" y="1127.6" font-size="25.2" >40</text>
<text x="1727.21" y="1127.6" font-size="25.2" >60</text>
<text x="1816.43" y="1127.6" font-size="25.2" >80</text>
<text x="1898.22" y="1127.6" font-size="25.2" >100</text>
<text x="1987.38" y="1127.6" font-size="25.2" >120</text>
<path d="M1473.9 668.7V1084.6 M1461 1084.6H2008.9 M1461 668.7H1473.9 M1461 751.8H1473.9 M1461 834.9H1473.9 M1461 918H1473.9 M1461 1001.1H1473.9 M1461 1084.2H1473.9 M1473.9 1084.6V1097 M1563.06 1084.6V1097 M1652.22 1084.6V1097 M1741.38 1084.6V1097 M1830.54 1084.6V1097 M1919.7 1084.6V1097 M2008.86 1084.6V1097" stroke="#000" stroke-width="2" fill="none"/>
<text x="1617.07" y="1167" font-size="25.2" >Overall survival (days)</text>
<text transform="translate(1396.5,0) rotate(-90)" x="-985.66" y="0" font-size="25.2" >Cumulative survival</text>
<path d="M1473.9 668.7H1625.47V772.58H1683.43V876.45H1884.04V980.33H1919.7" fill="none" stroke="#ff0000" stroke-width="2.2"/>
<path d="M1919.2 980.33v-8.5" stroke="#ff0000" stroke-width="2.2"/>
<path d="M1589.6 668.7V980.33H1594V1084.2" fill="none" stroke="#000" stroke-width="2.2"/>
<path d="M1589.3 668.7V772.58H1602.6V876.45H1616V980.33H1624.9V1084.2" fill="none" stroke="#0000ff" stroke-width="2.2"/>
<path d="M1597.9 668.7V772.58H1602.6V980.33H1660.9V1084.2" fill="none" stroke="#00ff00" stroke-width="2.2"/>
<path d="M1597.9 764.5V772.7M1602.6 972.3V981M1660.9 1076V1084" stroke="#00ff00" stroke-width="3.6"/>
<path d="M1780 670.4H1827.9M1802.9 670.4v-7.5" stroke="#000" stroke-width="2" fill="none"/>
<path d="M1780 720.7H1827.9M1802.9 720.7v-7.5" stroke="#0000ff" stroke-width="2" fill="none"/>
<path d="M1780 770.7H1827.9M1802.9 770.7v-7.5" stroke="#00ff00" stroke-width="2" fill="none"/>
<path d="M1802.9 770.7v-7.5" stroke="#00ff00" stroke-width="3.4"/>
<path d="M1780 820.7H1827.9M1802.9 820.7v-7.5" stroke="#ff0000" stroke-width="2" fill="none"/>
<text x="1840.57" y="678.4" textLength="82.17" lengthAdjust="spacingAndGlyphs" font-size="25.2" >Vehicle</text>
<text x="1840.33" y="728.4" textLength="82.93" lengthAdjust="spacingAndGlyphs" font-size="25.2" >JZL184</text>
<text x="1838.73" y="778.4" textLength="56.06" lengthAdjust="spacingAndGlyphs" font-size="25.2" >PD-1</text>
<text x="1840.33" y="828.4" textLength="166.47" lengthAdjust="spacingAndGlyphs" font-size="25.2" >JZL184 + PD-1</text>
<text x="1670.71" y="992" textLength="157.43" lengthAdjust="spacingAndGlyphs" font-size="18.4" >Vehicle vs. JZL184</text>
<text x="1911.7" y="992" textLength="91.1" lengthAdjust="spacingAndGlyphs" font-size="18.4" ><tspan font-style="italic">P</tspan> = 0.0446</text>
<text x="1670.71" y="1013.68" textLength="136.76" lengthAdjust="spacingAndGlyphs" font-size="18.4" >Vehicle vs. PD-1</text>
<text x="1911.7" y="1013.68" textLength="91.1" lengthAdjust="spacingAndGlyphs" font-size="18.4" ><tspan font-style="italic">P</tspan> = 0.0058</text>
<text x="1670.71" y="1035.36" textLength="220.47" lengthAdjust="spacingAndGlyphs" font-size="18.4" >Vehicle vs. JZL184 + PD-1</text>
<text x="1911.7" y="1035.36" textLength="91.1" lengthAdjust="spacingAndGlyphs" font-size="18.4" ><tspan font-style="italic">P</tspan> = 0.0058</text>
<text x="1670.52" y="1057.04" textLength="221.76" lengthAdjust="spacingAndGlyphs" font-size="18.4" >JZL184 vs. JZL184 + PD-1</text>
<text x="1911.69" y="1057.04" textLength="91.19" lengthAdjust="spacingAndGlyphs" font-size="18.4" ><tspan font-style="italic">P</tspan> = 0.0369</text>
<text x="1669.3" y="1078.72" textLength="203.25" lengthAdjust="spacingAndGlyphs" font-size="18.4" >PD-1 vs. JZL184 + PD-1</text>
<text x="1911.7" y="1078.72" textLength="91.1" lengthAdjust="spacingAndGlyphs" font-size="18.4" ><tspan font-style="italic">P</tspan> = 0.0288</text>
</svg></body></html>
